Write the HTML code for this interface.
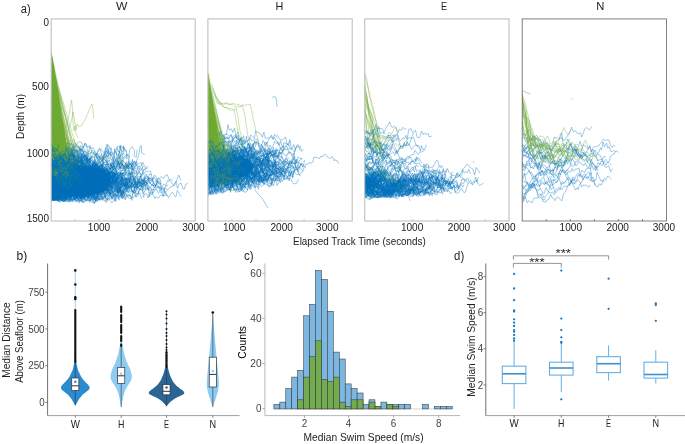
<!DOCTYPE html><html><head><meta charset="utf-8"><title>Figure</title><style>html,body{margin:0;padding:0;background:#fff}svg{display:block}</style></head><body><svg width="685" height="444" viewBox="0 0 685 444" font-family='"Liberation Sans", sans-serif'>
<rect width="685" height="444" fill="#fff"/>
<clipPath id="cpW"><rect x="51.2" y="18.9" width="144.0" height="202.1"/></clipPath>
<g clip-path="url(#cpW)" fill="none" stroke-linejoin="round" stroke-linecap="round">
<path d="M51.2 165L80 166L103 169L111 178L107 190L90 196L51.2 197z" fill="#0072BD" stroke="none"/>
<path stroke="#0072BD" stroke-width=".38" d="M51.2 183.9l2 2.8 1.1 1.3M51.2 186.3l1.7 .6 2.2 4.1 2.3 3.6 2.1 1.7M51.2 200.7l1.2-6.4 2.2-2.9 2.3 0 1 1 1.4-1.5 1.5 1.2 2-2 2.3-.8 1.4-4.5 2.4 6.1 1.6-4.3 1.1 1.3 2.3-2.5 1.8 3.8 2.3 .8 1.9-3.5 1.7 3 2 4.1 1.9 1.4 2.3-1.1 1.5 1.6 2.3 1.6 1.5-.7 1.2-5.8 2.3 1.9 2.2-2.4 1.2 .3 1.5 1.5 1.4 .8 2-4.7 1.8 1.8 1.1-1.5 1.2 3.4 2.2-8.7 1.3 1 2.3-1.7 1.1-5.1 2.2 6.9 1-.1 2.2 1.4 1.3-8.1 1.8 7.3 2-6.6 1.6 .9 2.1 2.4 1.9 5.8 1.4-4.5 1.1-5 1.8 4.9 1.9-.1 1.6 0M51.2 169.5l2 2.4 1.7 .9 1.3-1.5 1.4 3.3 1.6-3.7 2.1-.6 1.3 .7M51.2 166.8l1.3 2.4 1.9 4.5 1.6-1.7 1.2 8.4 1.5-5 2-1 1.5 6.7 2 8.5 1.6-1.6 1.2 1.7M51.2 151l1.5 .6 1.6-.6 1.5-1.3 1.6-.8 1.5 1.4 1.1-1.8 2.3-1.2 2.2 1.2 2.3 1.9 2 1.8 1.1 2.8 1.8-.6 1.4-7 2.3 5.3 1.6-3.1 1.3 8.1 2.1-1.4 1.5-2.9 2.1 2.8 2-.5 1.1-.9 2.3 8.4 1.4-5.8 1.7-1.8 1.3-3.1 2 3.5 1.9 2.3 1.4-4.6M51.2 171.3l1.5-2.5 1.7 5.2 1.9-.8 1.6-4.4 2.3-3.1 1.2 6.4 1.8 7.8 2.2-5 2.1 2.2M51.2 167.8l1.3 1.3 1.9 2.1 1.5 .5 1.4 2.3 1.8 1.7 1.5-3.1M51.2 188.9l1.4 3.8 1.6-8.2 1.5-4M51.2 192l2.2 2.4 1.1-2.1 2.2 4.2 1.7-.1 1.8 .5 1.6 .3 1.2-.4 1.1-3.9 2.3-7.6 1.2 1.4 1.6 .2 1.3-4.8 1.7-1.9 1.3 .5 1.1-4.8M51.2 147.4l1.6 0 1.9-.4 1.1 1.1 1.3-4 1.6-2.4 1.2 7.8M51.2 183.8l1.1-3.5 1.7 1.8 1.6-1.9 2.2 2.4 2.1-1.8 1.7 5.5 1.2-2.9 1.1-5.6 1.3 4.5 2.1 0 2.3-.4 1.7 .4 1.3 4.4 1.9 .7 2.1 2.1 1.9-4.2 1.7 .9 1.2 8.2 1.6-3.2 2.3-3.7 2.1-.6 2 5.1 1.4-9 1.8 1.2M51.2 164.2l1.2-.6 1 3.3 1.2-2.8 1.8 1.5 1.9-2.5 2.3 .7 1.1 1.3 2.1-6.4 1.1 4.1 1.5-4.8 2.3-.5 2.2 0 1.6 4.1 2.1 1.2 2.3 1.7 1.8 3.2 2.1-1.4 1.5 2.7 2 2.3 2.2-.2 2-1.4 1.2 3.4 1.5 .4 2.1-4.3 1.8 1.9 1.7 2.2 2.4 .9 1 1.6 2.1-3.1 1.4-1.4 1.4 1.8 1.9 2 1.7-4 2.2 3.6 1.8 3.9M51.2 196.8l1.2 1.8 1.2-1.9 1.9-3.7 2.1 4.2 1.5-1.6 2.2 .6 2.3-3.9 1.3-1 2.1 .7 2.2-4.1 1.1 3.4 1.3-4.4 1.1 2.2 2 .1 2.3-1.9 1.9 8.2 1.6-1.6 2-2.7 2.2 5 1.2-1.7 2.1-1.2 1.7-4.6 1.2 2.1 2.2 1.9 1.4 3.5 1.7 4.6 1.1 .4 2.1-2.9 1.6-3.7 1.1 4.9M51.2 196l1.6-.8 2.1-1.1 1.5-2.6 1.9 5.9 1.6-5.6 1.2-1.7 1.3 2.5 2-.2 1.2-3.5 1.8 3.3 1.2 .1 1.2-.7 1.5 1.8 2.1 2.4 1.8 1.9 1.6 1.2 2.1 .7 1.9-3.1 1.8 2.3 2.3 0 2-3.5 2-2.8 2-4 1.9 .6 1.8 3.2 2.1 1.4 1.4-5.1M51.2 188.4l1.9-1.3 1.7-.9 1.8 .9 2.3-2.5 1.8-2.1 1.7 .7 1.7-3.6 1.3 4.5 2.1 5.5 1.5-1.6 1.5 1.9 1.6-2.5 1.4 .9 2.3-1.1 2.1 .9 1.2 2.8 1.9-5.5 1.3 4.7 1.9-1 1.7-5 1.2 2 2.1-2.3 1.4-.7 1 1.7 1.4-1M51.2 190.7l2.1-4.8 1.3-.3 1 .9 1.9 6.8 1.2 2.5 1.5 1.4 1.3-2.3 1.9-1.1 2.2 0 1.7 3.1 1.8 .3 1.2-1.6 1.6-3.2 1.7 1.9 1.1-5.8 1.7-2.1 1.6-3.3M51.2 188.8l1.9-1.1 2.4-5.2 2.2 6.5 1.9-6.3 1.5 1.3 2.1 4.9M51.2 197.6l1.4-3.9 1.9-5.4 1.5-3.7 1.8 3.9 2-4.6 1.1-.8 1.3 2.8 1.9-.4 1.9-2.2 1.9 2.9 1.3-1.2 2.1-1.5 1.1 3.1 1.9-6.2 2.1 7.9M51.2 169.5l2.3 7 1.1 1.2 1.8 .9 1-4.3 2.3 6.7 1.6 .6 1.3-1.4 1 0 2.4 4.7 1.1 .7 1.4-3.5 1.1 .4 2.2-2.6 1.8-2.1 2.3-1.5 2 2 1.9 .9 1.5-.5 2.2-1.2 1.5-1.8 1.9 4.6 1.5-3.9 1.6-1.5 2.3 4.9 1.5 4.9M51.2 149.1l1.4 2.2 1.6 4.2 2.2-6.2 1 1.3 1.9 4.9 1-6.1 2.2 2.9 2.2 3.9 2.3-1.4 1.7 5.1 2.1-1.6M51.2 179.1l2 1 1.2 .2 1.3-8.1 2.2-.2 1.9 2.2 1.2-1.3 1.8-2.5 1.2 11.2 1.6-4.1 2.1 1 1.4 0 1.1 6.9M51.2 167.9l2.1 2.9 1.1 2.8 1.1 3.3M51.2 198.7l1.8-2.2 2.4 .9 1.8 3.1 1.7-.8M51.2 174.6l1.1-5.4 1.9 .4 1.2 5 1.9-5M51.2 172.9l1.7 1.6 1.2 0 2 1 2.3 1.5 2.2 2.7 1.6 4.9 2.2-4.6 1.4 3.5 1.9-1.1 1.1-1.9 1.2 .7 1.6-1.7M51.2 166.8l2.4-.2 1.9 5 1.4 2.8 1.5 0 2.3 2.1 2.2 4.8 1.4 3.5 2.2 .5 1 1.8 1.3-3.2 1.3 3 1.2-4.7 1.3-4.4 1.9 3.9 1.3-1.6 2.1-4.7 1.1-.1 2-2.9 1.5 5.1 1.7-4.1 1.6 7.9 1.3 .4 1.3 1.1 1 4.4 1.7-4.1 2.1 3.3 2-3.9 1.1 3.4 1.7-6.3 1.8 3.4 1.3 3.1 1.4 1.4 1.1-1 1-1.1 1.8-1.6 2.2-.3 1.2-.5 1.4-1 1.2 1.3 1.2-6.5 1.2-1.8 1.6-3.9 1.7 5.7 2.1-1.5 1.5-4 2.1-2.3 2.2-5.3 2.3 4.8 1.6 .1 1.7-.2 1.7 4.5 2.4 .9 1.8-4.3 2.3 2.9 1.4 8.2 1.7-1.2 1.4 2.2 2.3 1.4M51.2 186.7l1.4-6.3 1.2 4M51.2 172.6l1.8-4.2 1.3-2.3 1.8-2.5 1.5-.6 1.7 3.1 1-.5 1.3 .3 1.5-6.6 2 1.1 2.2 1.8 1.6 .1 1.1 .3 2.1 5.1 1.5-3.3 2.1-4.5 2.1 1.5 1.6-.5 2.3 1.6 1 9.9 1.7-5 1.6 5.1 1.9-2.1 1.6 7.4 1.6-3.7 1.4 .5M51.2 166.9l1.8 .2 2.3-.9 2.1 5.9 1.6-.2 1.1-2.3 2.3 3.2 2.4-4.7 1.9 .5 1.8-1.5 2 4.7 1.5-.2 1.8 8.9 1.7-8.7 2.4 1.6 2.1 3.8 2.4 1.7 1.1 1.4 2.2 1.1 1.6-4.8 1.7-2.5 1.2-.5 1.5 5 1.1-7.8 1.5 4.4 1.4 2.3M51.2 179.3l2.4-2.6 1.2 0 1.1 5 1.8-1.9 2.1-2.9 2 4.1 1.5 3.2 1.2-1.5 1.5-2.4M51.2 160.7l1.9-2.6 2.2 1.8 2.3-.6 1.8 1.4 2.3-3 2 1.3 2.3-3 1.3 7 1.3 2.8 1.8 1.5 1.5-1.4 1.2 3.1 1.3-.2 1.4 3.7 1.5-.5 1.1-.9 1.2-.8 2.1 8.1 2-3.7 1.3 10.2 1.4-2.9 1.9 1.4 1.9 1.4 1.8 4 1.2-1.7 1.4 4.5 1.9-3.1 1.5 2.1 2.2-3.8 1.2 0M51.2 164.3l1.4 2.5 2.1-.6 1.2-5.2 1.9 4.7 1.6-2.4M51.2 152.6l1.2 4.4 2-3.4 1.2 0 1.5 2.5 1.9 1.2 1.8 .3 1.6 .6 1.1 3.1 1.4 1.3 1.8-3 1.2-.8 2.3-.6 1.9-3.5 2.2 4.2 2.3-3.6 1.9 6.9 1.9-.8 2-1.9 2.3 6.4 1-2.4 1.4-5.5 1.9 3.7 1.1-.3 1.3 1.8 2 .7 1.3-1.6M51.2 171.1l2.1-.7 1.3-2.3 1.6-3.3 1.2-2.4 1.3 6.7 1.3-.7 1.2-3 1.5 5.1 1-1.3 1.1 1.1 1.8-5.8 1.6 10.3 1.1 2.6 1.8-2.4 1.4 3 1.1 4.4 1.4-4.9 2.2 9.2 2-2.9 1.5-1.6 1.5 9.2 1.5-2.2 1.1-3.9 2.1-1.3 2.3-5.5 1.2 3.1 1.2 1.2 1.6-5.9 1.1 .9 2 0 2.2 1 1.4-1.5 1.6 .1 1.9 4.3 1.2-6.4 1.8 7.5 1.1-1.5 2.4 .4 2.3-3.8 2.2 4 1.8 4.8 2.3 2.9 1.4-3.6 1.1 2.1 1.6-1.4 1.6-.8 1.7-3.6 1.2-.9 1.7 5.9 1.4 0 1.4 .4 1.3-1.7 1.7-1.4M51.2 179.6l2-2.9 2.4-1.2 2.1-1.9 2.3-2.8 1.2 3.5 1.4-.9 1.8 .7 2-4.2 1.9 8.6 2.2-1 2.1-3.6 1.9 4.3 1.5-.6 2 1.7 1.2-8.3 1.2 6.8 1.3-3.5 2.2-1.4 1 4.8 1.3-3.9 2 1.7 2.2-1.7 2.1 4.4 1.5 1.6 2.2-.4 1.3 1.9 1.5-4 2.2-3 1.8 7.1 1.3 1.7 1.1-1.6 1.7-2.5 1.5 5.5 1.5-.4 2.3-1.2 1.9-1.3 1.7 1.1 1.8 9.6 1.1-11.3 2.2 4 1.8-3.6 2.1 5 2-7.5 2-1.6 1.5 1.4 1.1 1.2 2.4-.5 1.3 3.2 1.2 6.1 1.7-7.2 1.4 4.4 1.4-1 1.8 5.5 2.3-2.3 1.2-5.5 1.5 5.3 2.2 .2 2.3-3.7 1 1.6 2 .3 1.3-3 1.9 4.9 2.3-.9 2.2 2.8 1.2-.9 2.2-4 1.3 .3M51.2 187.9l1.9-.7 1.8 1.4 1-.3 2.4-3.4 2 4.4 1.2 .5 1.2 3.9 1.7-4.6 2 .2 2-.9M51.2 173.3l1.6-4.1 2.3 .6 1.7-2.5 1.5 3.1 2.1-1.9M51.2 179.5l1.2 .6 2.3 5.8 2.1-2.2 1.7 7.1 2.1-9.1 2.2 1.2 1.1 2.6 2.2-4.8 1.6 4.2 1.9-1.5 1.4 6.4 1.3-1 1.4-4.3 1.8 4.1 2.2 5.5 2.1 .4 1.7-2.1 1.9-3 1.9-1.7 2.2 .2 2.2 3.1 2.3 1 1.2-4.3 2.3-.7 1.1 4.1 1.2 1 2 .7 1-7.9 2 10 1.3-2.2 1.1 .1 2.2 .1 1.2 3.2M51.2 188.3l1.5-4.4 1.5 6.9 2.2 .8 1.3 .7 1.1-1.9 1.7 2.5 2-1.5M51.2 195.3l1.6 1.5 1.6 .7 1 0 1.5-1.2 1.2 2.1 2.3-4.8 1.9 4.5 1-.2 1.8-4.3 1.9 2.7 2-2.3 1.8 3.3 1.9-5 1.9 .1 1.6 4.8 1.7-9.3 2.3 3.9M51.2 153.7l1.6-3.2 2.3 3.5 1.5 1.8 1.2-2.4 1.2-3.7 1.7 3.6 1.6 6.4 1.6-7.2 2 7.8 1.6-1.9 1.5 1.9 1 4.1 1.1 3.1M51.2 168.7l1.3-3.9 1.9 3.7 1.6-2.8 1.4 .8 2.1-2.8 1.8-1.3 2.4-2.6 1.9-1.3 2 3.5 1.7 1 1.1-3 1.6 1.3 1.7 .5 1.7 2.3 1.9 .9 1.1-2.3 2.1-.6 1.3 1.8 1.1 5.5 1.8 3 2 2.4 2 .6 2.4 1.6 1.2-5.4 1 7.2 1.4-1.9M51.2 179.7l1.4 3.9 2.2-4.3M51.2 175.6l2.1-2.6 1.8 6.9 1.7-3.5 1.5 .7 1.4 2.3 1.8-9.4 1.7 3.5 1.6-3.3 2.2-.6 1.2 3.1 2.1-1 2 1.4 2.1 1.4 1.3 4.3 2.1-2.4 1.9 .4 2 7.3 2-3.8 1.4 2.9 1.4 3.6 2.3-3.6 1.2 4.1 1.6-10.7 1.9 8.3 1.1 3.4 1.6-3.5 2.2-3 2.3 6 1.4-3.4 1.7 4.4 1.7-3.6 1.8-1.2 1.4 4.2M51.2 142.3l1.5 7.6 1.1-5.6 1.3 2.1 2.1 .1 1.8 3.9 2.1-3.3 1.1 1.9 1.9 4.1 1.5-3.1M51.2 197.4l1.1-.3 1.7-1.2 1.7-.2 1.7 3.1 1.6-2 1.3-.2 2.3-2.8 1.6 5.3 1.4-3.9 1.3 1 1.8 2.3 1.1 .7 2.1-.1 1.8-.9 1.9-.4 1.5-4.9 2.2 1.6 1.6 5 1.4 .9 1.2-4.3 1.3 4.3 2.3-.9 1.7-3.5 2.1-2.6 1.9 3.5 1.1-1.9 1.2 1.1 2.1 2.6 2.2 1.4 1.8-4.6 2.1 3.9 2.4-4.2 1.1-2.7 1.4 .2 1.3-.6 1.7 1.3 2-1.9 2.1 3.8 2.1-10 1.9 4.6 1.8-3 1.1-1.2 1.1 4 1.9-2 1.3 2.3 1.9 1.6 1.3-3.9 2-4.5 1.9 1 1.3 4 1.5 5.7 1.8-.4 1.7-5.5 2.4 2.5 1.3 6.8 1.2-3.6 2.1 .5 1.2 3.8 1.7-5.7 2.2 2.7 1.9-6.9 1.5-.7 1.6-8.1 2.2-.7 2.4-2.1 1.9 2 2-3.2 2.1-.4 1.2 4.8 1.2 1.2 1.1 .7 1.9 3.5 1.4 .9 2.4-6.2 1.9-4.7 2 5.2M51.2 193.7l1.2-6.8 1.3 4.2 1.4 .9 1.5 3.8 1.3-9.3 1.3 2.8 1.2 2.9 1.5 4.2 1.3 1.3 2.2-5.3 1.4 3.6 1.7-5.6 2 2.6 2.3-1.1 1.9 1.7 1 3.4 1.5-.1 1.4 .4 2-4 2.2 1.6 1.9 1.6 1.9-3.7 2.3-1.9 1.6-.9 1.2-.7 1.8-6.9 1.2-.9 1.6-5.8 1.9 1.9 1.8 .9 2.1 3.1 1.9 0M51.2 157.9l2 2.9 1.4-2.2 2.1 6.2 1.3 1.4 2.4 2.4 2-2.7 1.4 7.1 1.2 1 1.7 2.6 1-3.2 1.4 .2 1.4-1.5 2.1-.3 2.1 5.2 2.1-5.2 1.6 1.7 2 2.7 1.7-2.4 2.2-.2 2.4 2.3 1.1 6 1.6-7.1 1.7-4.9 1.5 3.9 2-.4 1.3-3.3 1.4-2.2 2.4-1.7 2.2-5.6M51.2 163.1l1.9-3.8 1.2-4.4 1.5 5 1.5 1.7 1.6-3.8 1.2-.5 2.4 2.5 1.7-4.2 1.1-4 1.3 2.2 2.3-1.1 2.3-3.9 1.6 5.7 1.2-1.3 1.8-2.1 2.2 1.4 1 1.5 1.1-4.3 2.3-.5 1.3 5.4 1.5 6 1.2 1.6 1.8 0 1.6 7.3 1.1-4.6 2 3.4 1.9-.4 1.2 3 1.1-3.3 1.3-1.4 2.2 3.5 1 8.9 2.1-3 1.4 2.1 1.9 2.1 2.3-3.7 1 .6M51.2 166.1l2.1 1 1-1.8 2.2 2.9 1.8 2.3 1.1-.7 1.5-.3 1.1 2.2 1.6-2.5 1.3 8.7 2.4-1.1 1.1-1.6 2.2-4.7 1.4 6.7 1.9-2.5 1 2.7 2 2.7 1.6-2.5 1.9 2.3 2.1-3.3 2 1.5 2.2 5.7 1.2 1 2-2.6 1.5 3.3 1.6-1.4 2.3-.2 2.4-3.7 1.4 3 1.3 2.1 1.5-2.5 2.2 .2 1.2 2 1.8 1.6 2.4 3.5 1.9 .3 1.5-6.5 2.4-.9M51.2 147l2.4 3.4 1.9-.3 2.1 1.8 1 .5 1.4 4.4 1.8-5.3 2 .8 1.1 2.8 1.2 .4 2.3-1.7 2.1 1.6 1.4-2.9 1.7 4.7 2.3-1.7 1 5.6 2.2 1.3 1.4-.4 2.3 .2 1.8-1.6 1.2 7.1 1.5-5.7 1.3 2.5 2.2 4.4 1.5-2.4 2.1 1 1.8 3 2.1-.5 2 2.6 1.3-.3 1.9-1.6 1.1 3.7 1.4 4.1 1.1-7 1.2 6 1.2-1.1 1.2 3.3 1.7 1.9 1.1-2.2 1.8 5.2 2.2-.8 1.7-3.8 2.2 1.1 1.4 3 2-.2 1.5-1.1 1.5 5.6 1.6-2.4 1.9 .8 1.7 1 1.3-4.4 2 5.3 2.3-2.3 1.5-.2 1.3-7.3 1.1 2.3 1.7-.3 2-6.3 1.6 3.7 2.3-.4 1.7 3.1 2.4-3.9 2.1 3.9 1.7 1.7 1.4 1.8M51.2 179l1.4-2.6 2 .6 1.1 .8 1.2-.9 2.3-.9 1.2 1.4 1.6-2.8 2.2-.2 2.3 3.1 2.3 1.5 1.4 .3 2.2 5.7 2.1-6.1 1.8-5.1 1.9 5.1 2.2-4.7 1.1 1.9 1.3-.4 1.4 .6 1.9 3.6 1.9 .8 2.1-1.9 1.9 .3 1.3-3.5 1.3 4.2 1.3 2.6 2.3-2.1 1.5-.8 1.2-9.3 1.3 4.7 1.6-1.1 1.8 .2 1.5-.2 1.3-.7M51.2 178.9l2.2-6.7 1.9 2.7 2.1-3 2.1-2.8 2.2 1.7 1.1-3.1 1.4 3.5 1.2-.4 1.4-.2 2.3 3.4 2.3 1.5 1.5-2.8 1.6 .7 1.1 3.7 1.1-3.3 1.4 3.2 1.5-4.5 2.3-.1 1.2-.6 2 .4 2.1 3.5 1.3-2.2 2.1 .8 1.9-1.2 1.3 .3 1.9 1.2 1.6-3.2 1 4 1.4-2.5 1.9 2.6 1.4-3.4 1.3 .6 2.1-.7 2.1-.9 2 4.1 1.2 .5 1.2 2.8 1.6-4.2 1.7-2.1M51.2 191.6l1.4 .3 1.4-4.4 2.1 0 2.3-.7 1.1-3.2 1.4 1.1 2.3 2.8 1.8 2.4 2.1 0 1.1-2.8 2.4 3.4 2 .8M51.2 182l1.3-1 1.4-.2 2.4-.1 2 3.2 1.7-1.9 1.4-8.1 2 4.9 2.3 3 1.5-2 1.7 3.2M51.2 164.6l2.1 5.3 1.1-3.6 2.2 .2 2.2 4.3 1.5 .2 1.5 3.6 2.3 .2 2.2 0 2.3-4.2 2-4.4 1.4 3.2 2.1 2.4 1.5 5.1M51.2 167.5l2-3.4 1.1 3.8 1.7-5.2 2 4.7M51.2 164.5l1.1-1.8 1.3 5.3 2.1-.8 1.9 0 2.2 .5 2.2 .6 1.9 1.9 1.6-1.4 2 4 1.5-.7 1.2-2 1.8 1.8 1.6 1.2 2.1 .6 1.4-3.2 1.3-1.9 1.6 1.9M51.2 170.1l1.3 .7 1.9 7.4 2.4-5.7 1.3 7.6 2-1.3 2.3-2.2 1.7 3.9 2.3-11.6 1.8 7.1 2.1-4.6 1.4 3.7 1.7 1.1 1 .1 2.1 4.3 1.7 3.3 2.2 1.7 2 1.5 2-.9 2.3 7.8 1.6-3.4 2.1-.6 1.7-5.3 1.4 2.7 1.3-1.7 1.9-2.8 1.3 1.8 1.5-2.8 1.6-4.6 1.7 9.8 1.3-3.8 1.3 4.3 2.3-5 1.6 .2 1.5 6.7M51.2 191.7l1.6-3.5 1.7 3.2 2.4-6.3 2.1 4.7 2-5 1.7 7 1.2-5.4 1.1-2.8 1.7 5.3 1.5 .2 1.8-8.1 1.6-1 1.4-5.7 1.5 2.6 1.4-3.2 1.2 5.2 1.3-4.5 1.2 4.1 1.4 .8 2.3-3.8 2.2 4.9M51.2 191.5l1.1 .5 1.9-4 1.1-1.4 2-1.7 1.2 1.7 1.9 1.8 2.4-4.2M51.2 196.4l1.5-.9 1.1 .9 1.8-1.5 1.8-3.3 2.3-1.8 1.8-6.3 1.5 6 2.1-1 1.1-2.2 1.9 1.2 1.6-.2 2.3 2 1.5 .6 2.1 6.8 2.4-9.4 2 2.4 1.2 5.3 1.4-5.1 2.3 2.4 2.1-.5 1.8-2.8 1.1 1.8 1.4-5.5 1.6 5 2.1-4.9 1.7 .9 1.9-.9M51.2 163l2.1 3.9 2.2-5.7 1.7 9.4 1.2-1.4 2.4-2.6 1.2 2.7 1.3 1.3 1.7 3.5 2.2-.6 1.7-2.7 1.5 1.3 1.2-1.7 1.2-3.6 1.3 4.5 2.1-3.1 1.3 5 2.3-1.8 1.8 .2 1.1 1 2-5.4 1.6 1.4 2.3-3.6 1.8-3.4 1.2-1 1.4 1.7 2 2.6 2.3-1.9 2.3 9.1 2.3-1.6 1.5 6.7M51.2 182.8l2.3-.2 2.2-1.2 1.8-.9M51.2 151.4l1.3-4 2.2 0 2.2 4.9 2-3 1.6 1.6M51.2 174.7l1.3 1.7 1.2 5.6 2.2-3.8 2.3 .6 1.1 1 1.2-7.7 1.2 4.6 2.3 4.1 1.9-.3 2 .4 2.2 .3M51.2 184l1.7-3.9 1.6 1.5 1.1-1.7 2 1.9 1.4 4.1 1.5-2.8M51.2 194.3l1.3-1.4 1.4 2.9M51.2 182.2l1.2-2.7 2.3 .7M51.2 161.9l1.1 6.9 1.2-3.2 1.7-3.9 1.6 8.1 2.2-3.7 1.6 2.1 1.9 1.9 1.4 .5 1.6-.8 1.2-.8 2.4 5 1.7-.7 1.9 .7 1.4-1.8 1.7-1.3 1.2 5.3 1.8-5.6 2 3.8 1.5-.6 2 3.7 1.5 2.1 2.3-5.3 1.2 1.8 1.9-5.4 2 10 1.9-1.3 1.5-.6 1.4-3 2.2 6.7 1.9-1.6 1.3 3.1 1.5-.2 1.8 1 1.7-1.1 1.9-3.7 1.4 2.4 2.1-6.9 2.3 2.8 1.4-1.4 2.2 .3 1.3-4.6 1.4-2.1 2 .3 2.1-2.3 1.9-5.9 1.1 .7 2.3 2.3 2.4-2.2 1.4-1.1 2.1 6.3 1.3-2.1 2.3-.8 1.6-3.3 2.3 5.3 1.4 1.1 1.5-1M51.2 190l2.2-1.1 1.9 2.7 1.5 .1 1.6 .7 1.9-2.2 1-1.5 1.5 1.1 2.2-.4M51.2 164.7l1.2-5.8 1.6 3.9 1.2 .8 2.1-3.9 1.6 4 2.1 0 1.7 4.7 1.5-3 2.1 4.7 1.5-4.6 1.4 2.6 2.4-.7 1.3 5.6 1.1-.1 1.7 2 1.8 1.5 1.7-3.5 2.2-.4 1.5 5 1.8-2.6M51.2 162.9l1.5-1.4 1.4-1.8 1.6 6.5 1.9 1.6 1.5 2.2 1.7 2.7 2 .9 2.3-2.9 1.7-1.2 1.3-1.2 1.4 .1 1.8 1.1 1.5-2.2 1.6 .5 1.5-.4 1.8 1M51.2 191.5l2.3 2.9 1.2-5.2 2.3 2.6 1.4 1.1 2.1 .4 2.3 1.6 1.9 0 1.3-5.8 1.1-1.5 1.1 1.2 1.2-2.5 2.3 2.1 2.4-3.5 1.4 3.6 2-2.5 2.3 3.9 2.1-3.1 1.7 4.6 1.3-5.2 2 3.2 2-.2 1.3 2.7 1.7-1 2.1 .9 1.5-5.2 2 7.4 1.7-5M51.2 192.8l1.5 .5 1.4-2 1.5-.4 1.6 5.1 1.4-3.6 1.8-4 2.1-1.7 2.1 .4 1.6-1.9 1.3 2.2 1.7-2.1 2.2-2.1 1.3 .1 1.7-1.1M51.2 146.6l1.8 3.8 2.1-.6M51.2 184l1.1 .3 1.2-2.2 1.2 5.5 1.1-5 1.3 1.6 1.4-3.2 1.5 3 1.2-1.7 1.5 2.7 2.1-.5 1-1 2.3-2.5 1.1 4.8 1.7-7 2.1 2.9 1.6 4 1.9-4.9 1.8 2.2 2.2 2.9 2.2-.6 1.9-3 1.6 3.6 2-1.7 1.9-2.4 1.1-1.7 1.8 .8 1.9-.1 1.5-1.4 1.2 4.9 2.2 4.1 1.6-2.6M51.2 164.6l1.6 .9 1.5 8.3 1.5-10.6 1.2 1.7 2.2 4 2.1 3 1.7-.5 2.2-.4M51.2 179.6l1.8-2.4 2.3 1.3 2 1.1 1.2-2.5 1.2 1 1.1 1.5 1.3 1.6 1.3-.8 1.1 1.6 2.3-2.1M51.2 159.4l1.7 1.2 1.4 5.1 1.4-3.6 2.1 .1 1.2 .3 2-1.6 2.2 .8 2.2 4.3 1.4-5.1 1.3-.7 2.1 6.1M51.2 169.1l1.6 .7 2 2 1.9-2 1.3 2.9 1.5-5.1 2.1 2.5 1.8-.1 2.3 5.9M51.2 197.7l2.2-10.5 2 4.5 1.6 .8 2.1-4.9 1.3 2.8 1.4-.3M51.2 191.6l1.4 3.6 1.1-.1 1 5.1 1-.1 1.4-1.1 2-4.2 1.3 0 1.6 6.6 2.1-.8 2-5.8 1.2 1.9 1.6 2.5 1.8 0 1.8 2.2 1.8-8.4 1.5 5.2 2 2.3 1.9 .4 1.7-9.2 1.4 6.4 2.1-2.2 2.3 2.5 1.7-2.9 2.3 1.4 1.9 6 1.7-.3 2.3-4.9 2.1 2.6 1.4-1.7 1.9-.5 1.8 3.1 1.5-1.3M51.2 187.3l1.8 3.9 1.4 4.3 1.7-.6 1.6 1.9 2.1 1.1 1.9-3.3 2-2.9 1.9 8 1.4-3.6 1.4-.9M51.2 192.1l1.8 4.6 1.6-5.2M51.2 176.8l1-4.1 1.1 9.2 1.9-5.8 1.6-1.2 1.7 6 1.8-5.6 2.4 1.6 1.5 5.3 1.3 .3 2.2-7 1.7 1.6 2.2-.3 2.3 2 1.2-.5 2 1.8 2.1-2 2.1 .2 2.3-1.3 1.1 .4 1.1-.2 1.9 .3 1.5 .2 1.4 3.8 2.2 2.1 1.3 2.2 2.2-.5 2-.8 2.1-.3 1.1-1.2 1.7 5.8 1.1-5.7 1.3 4.2 1.1-1.6 1.4-2.6 1.6-4.4 1.4 3.7 2 3.8M51.2 174.9l2 1.9 1.4 3.2 1.7-6.6 2.3 2.5 2.2 4.3 1.2-2.7 1.2-1.9 1.7 5.1 2.2 4.8 1.9 2 1.9-2.3 1.4-1.6 2.3 7.6 1.6-4.7 2.3-5.6 1.6 1.5 2.2-1M51.2 190.6l2 4.3 1.3 2 1.8-1.2 1.9-3.6 1.1 5.4 1.7-2.4 1.5 .3 2.3 .4 1.6-4.1 1.6 2.7 1.8-3.3 1.3-3.6 2.2 .6 1.6-.4 1.1-6.8 2 2.6 2.1 1.1 1.8-3.7 1-3 2.1 1 1.6-2.1 1.3 2.9 1.9-3.6 1.9 5.8 1.8-6.4 1.9 9.1 1.2-7.7 2.1 1.7 2.2-.4 1.5-3 1.4 8.8 2-5.5 2.4-.9 1 4.4 1.8-6.6 1.4 1.4 1.8 1.2 1.1-7 1.6 1.7 2 3.1 1.6-2.4 1.3 .7 2 2.3 1.5 2.9 2 .3 2-1.8 1.2 5.1 1.8 0 2.2 5 2-.9 2.3-5.3 1.5 .6 1.6 1.4M51.2 162.2l1.3-.1 1.2-.3 1.8-1.4 1.7 3.9 1.5 2.5 1.8-7.1 1.2 4.5 1.2 1.3 1-6.5 1.8 .6 1.7-3.1 1.8-6.4 1.3 7.3 1.4 2 1.8 2.1 1.1-2.9 1.2 4.8 1.7 3.4 1.5 1.3 2.3-.3 1.8 0 2.2-.5 1.8 3.1M51.2 192.4l1.1-2.7 2.1-3.2 1.4-.1 1.7-2.2 1.9 3.5 2.4-1 1.9-4 1.1-3.6 1.8 3 1.1 .2 1 2.2 2.1 10 2.2-3 1.2-3.8 1 4 2.4-4.3 2.2 4.4 1.9-4 1.3 0 1.2-2.9 1.3-2.1 1.9 4.3 1.7-7 1.4-2.5 1.4-.6 1.1 1.8 2.2-1.9 2-2 1.3 7.6M51.2 175.8l2.3-2.3 1.2-2.3 1.9-.4 1.8 .6 1.9-7.3M51.2 166.3l1.5-.8 1.5-.9 1.1-1.9 1.6-2.2 1.4 .6M51.2 178.2l2.2 1.7 1.4-2.8 1.7-1.8 2.1 4.1 1.1-11 2 2.2 1.1 .1 2.2-2.1 2.2 3.4 1.1-6.4 1.4 5.1 1.2-4.2 1.8-.7 2.1 4.6 1.5 7 1.4-5.6 1.6-1.1 1.5 3.4 1.8-.2 1.9 2.4 1.3-4 2.1 2.6 1.6 .9M51.2 170.7l1.7-4.5 2.2 4.1 1.4-2.6 1.9-3 1.2 1.4 2-2.2 1.3 1.8 1.9 1.7 2-1.7 1.4 .6 1.8 4.9 1.4-2.5 2.1 .9 2.2-5.3 1.1 3.1 1.7 3.5 1.6-3.3 2.1 11.1M51.2 196.6l1.5-.2 1.2-.3 2.3-2.3 1.4 1.7 2.4 3.5 1.5-2.1 2.3-.1 1.8-.7M51.2 150.8l1.8-2.7 1.6-5.4 1.1 8.4 1.8 1.3 1.4-1.4 1.2 .2 1.6-.3 1.4 8.6 1.6-.4 1.8 2.4 2.1-2.3 2.3 3 2-3.2 1.8 3M51.2 150.5l1.2 2.4 2.1 2M51.2 189.4l1.6 3.2 1.5-5.1 2.2 .6 1.6 1.7 1.8-6.3 2.2 4.2 1.1-3.6 1.1 9 1.8-8 1.8 1.7 1.1 5.2 1.9 1.6 2.3-4.9 1.3 4.6 1.8-1.1 1.7 .1 1.6 .2 2.3 2.4 1.4-4 2.1 .4 2 4.9 2.1-5.4 1-6.2 1.7-2.4 1.5 .9 1.5-4 1.1 5.5 1.8 1.8M51.2 198l1.6-4.1 1.5 4.8 2.2-2.2 1.4 .6 2.4 2 1.3-5 1.4 1.7 1.5-4.6 1.8-1.1 1.9 1.3 1.7-.2 1.6-1.3 2.2 4.2 2.2-6.8 1.4 0 1.1-.5 1.5-5.2 2.2-3.1 1.5 3.7 2.3-1.9 1.1 .1 2.4 4.7 1.5 1.8 2.3-3.1 2.3 .1 1.5-3.3 2.3 6.5 2.2 .7 2.3-2.8M51.2 187.4l2 .8 1.1 1.3 1.6 .5 2.3-4.7 1.7 5.9 2 1.5 1.8-.4 2.1 1.7 1.8 3.4 1.7 4.8 1.6-1.7 2-1.8 2.1 1.6 1.2-4.2 1.9 6.1 1.6 .5 1.3-6.1 1.1 5 2.4 .5 1.7-1.7 1.9-.2 1.3 .5 1.6-1.8 2.1-2.5 1.2-2.2 1.6-2.5 1.9 .5 1.6-2.4 2.4-5.9 1.3-2.2 1.4-5 1.5-8.7 2 7.2 1.4 .1 1.5 2 1.9-.2 1-1.2 1.6 2.9 1.9 2.2 1.5 6.1 1.9-3.1 2.1 .6 1.4 1.7 1.1-.6 2.1 5.7 1.6 1.1 1.6-3.4 2.3 2.1M51.2 191.6l1.4-.3 1.8 4.2 1.5 .1 2.1 1.4 2-.9 1.2 0 2.2-.6 1.3-2.4 1.5 4 2-6.3 2.4-2 2.3-.6 1.4-5.7 2.3 3.7 1.2 1.2 2-6.7 1.5 .8 1.9 6.2 2.2-1.8 1.6-1.8 1.1-.4 1.1-.3 1.9 .5 2.1-1.6 1.8-.1 1.2 4.5 2.3-2 1.7 1.5 1.8-6.8M51.2 181.1l2.1 5.1 1.3 2.8 1.1-1.2M51.2 170.1l1.4-2.9 1.5 2.1 2.1 1 1 .3 1.7 2.7 2.2 3.9 1.8 2.1 1.9-1.1 1.8 .9 1.1 3.3 2.2-.5 1.3-5.1 2.2 3.3 1.5-1.8 1.8-3.9 1.5 3.1 1.3-2 1.9-2.5 2.2 1.7 1.7 0 1.2 1.4 2.3-2 1.3-1.9 1 4.7 1.9 1.6 1.3-5.2 1.5 5.1 1.6-7.2M51.2 178.1l2.1 4.4 1.6 6.6 1.3 2.3 1.6-6.8 2.4-1.5 1.3 5.3 2.3-2.4 1.1 2.4 1.4-2.1 1.1 .9 1.5 .8M51.2 154.6l1.4 4.1 2-2.7 1.1 6.3 1.5-2.1 2.3 .4 2.3 2.5 2.2 1.8 2.3-2.5 1.1 3.2 1.9-1.8 1.5 2.2 1.4 3.9 2.3 4.8 2.1 3.4 2.1-1.5 1.2 2.1 2.1-8.1 1.7 4.7 1.7 1.8 2.2-5.5 1.2 .9 1.2 2 2-.9 2.2 7.7 1.1-1.9 1.3 .5 1.8-4.1 1.2 2.7 1.5 2.6 2.2-4.7 1.6-4.4 2 2.3 1.7 3.4 1.7-3.6 1.7-1.4 1.4-.3 1.8 3.1 1.6-.8 2.3-1.1 1.1 2.8 2.3-3.6 1.1 1.2 1.2 1.8 1.4 4.4 1.2-2.4 1.4-5.5 2.3 3M51.2 178.8l1.2 1.8 2.2-4.1 2.3 2 2.2 1.8 2.3 2.2 1-4.6 2.1-2.1 1.3 .8 1.1-1.5 1.8 4.9 1.8-1.1 2.2-2.6 1.8-2.2 1.3-1.2 1.6-.7 1.8 .8 2.1 3.4 1.4-3.7 1.7 1.7 1.7 1.4 2.2-2.7 1.4-2.8 1 7.7M51.2 188.6l2.1-1.9 1.2 1 1-2.3 2.3-4.1 1.6 1.9 1.7 3.8 1-4.6 1.9-1.8 2.3 2.9M51.2 181.5l2.2 4 1.1-.7 1.3-.1 2.2-3.6 1.1 .7 1.5 2.1 2 2.7 1.8-3.7 2.2 .5M51.2 165.2l1.9-2.3 2.1 6.4 1.7-1.5 1.2-3.2 2.3-5.2 1.7 2.9 2 1 1.6 2.7 1.2-3.1 1.1 3.2 1.4 4.3 1.2-4.2 2 9.7 1.9-6.3 1.7 6.1 1.2-1.4 1.8 .9 1.7 3.1 1.1 3.6 2.3 4.6 1.3-2.1 2.1-4.3 2-.4 1.8 1.4 1.3-3.8 1.2 4.2 1.6-9.1 1.2 1.1 1.7 .9 1.3 1.1 2.3 5.9 1.4-8.5 1.5 2.8 2.3-2.4 1.4-.3 2.2-.6 2.3-2.5 1.6-1.7 2.2 3.1 1.1-2 1.9-1.5 2.2-3.3 2.4 4 1.1-2.8M51.2 194.8l2.1 2 2-2.1 1.4 3.6 2.4-2 1.5 2.6 1.5-.2 1.6-2.5 1.4-1.6 1.2-5.5 2.2 1.5 2.2-3 1.1 4.4 1.4-4.9 1.6 1.9 1.7-2.3 1.3 3.6 1.5-3.5 2-2.8 1.4 3.8 1.7-4.7 1.6 1.8 1.7-6.2 1.9-.9 1.1 .8 1.3 .8 2.3-3.3 1.2 4.1 1.8 2.5 2 2.6 1.9-3.5 1.5-1.4 1.9-.4 2.2 5.3 1.7 .3 1.2 .6 2.3-4.5 2.3 3.7 1.2 2.1 1.9 2.6 1.6-.2 1.4 5.5 1.8 3.1 1.8-3.3 1.3 4.8 1.1-4.4 2.1-.9 1.5 .1 1.9-3.8 1.9 1.9 1.7-.9M51.2 185.2l1.8-5.6 1.3 6.6 1.5-7.1 1.3 5.7 1.3-4.6 1 2.2 1.9 2.9 1.7 3.3 1.7-5.3 2.1-2.1 1.6 4.8 1.3-2.7 2-2.7 2.3 .6 1.5 5.4 2.1-6 2.3 6.7 1.4-5.4 2.2-2.7 1.6-1.9 1.7-3.1 1.1-3 2.1 5 1.3-.6 2-3.5 1.8 7.8 1.7-4.2 2 6.4 2.3-1 1.5 .5 1.7 2.9 1.3-4.9 1.6-1.4 1.5-6.8 1.7 1.3 1.5 1.6 1.7 2.3 1.9 .4 2.3-.2 2.4 2.5 1.3 3.9 1.7 1.6 1.7 .8 2.2-.9 1.9 5.2 1.9 1.8 1.4-1.4 2.3-1.8 1.2-1 1.2-2.9 1.6 2.8 2-3.6 1.9-4 1.7 1.1 2.2 1.3M51.2 153.8l1.1 .6 2-.1M51.2 176.5l1.7 8.4 1.2 .4 1.8-6.9 1.5 1.2 1.8-1.9M51.2 146.2l2 .9 1.8 2.6 2-.3 1.8 .7 1.7-1.2 1.1 2.2 1.8-1.4 1.3 1.7 2.2-2.1 1.8 .4 1.9 5.5 1.7 4.8 2.2-2.1 2.2 2.1 2 .6 1.1-.3 2.1 4.2 2.2-.2 2.4-3.5 1.9 5.2 1.7 2.4 2.2-.4 1.9-4.4 2 2.2 2.3 1.1 1.1 3.4 1.1 2.5 2.2-8 1.5 10.6 1.8-5.8 1-4.2 2.1 1.6 2 5 1.4-2 2.2-3.6 2-2.5 1.4 4.6 1.2-4 1.1 6.5 1.2-.6 2-.2 1.8 0 1.5 4.1 2.3 2.1 1.5 3.6 1.9-7.3 2 12.1 1.2-8.6 2.1-4.5 1.6 .3 1.6 3.4 1.8-4.1 1.4-2.2 2.2 2.8 1.5-.8 2.4 .3 1.1 5.2 1 4.6 1.9 .9 1.5-.8 1.2 .7 1.1-4.3 1.9 1.8 1.1 9.2 1.3-.1 1.1-1.1 1.2 6.9 1.4-4.5M51.2 187l2.2 .9 1.8-6.1 1.8 2.9 1.3 4.3 2.2-2.9 1.7-2.9 1.7-1.9 2.2-1.2 1.9 5.3M51.2 188.1l2-10.9 1.8 2.2M51.2 155.9l1.6-2.7 2 8.2 2.1-3.2 1 .8 1.2-.2 2 1 1.9 2.7 2.2 1.4 1.4-1.7 1.2 4.7 1.8-1.3 1.6 .1 1.8 4.8 2-2.7 1.3-2 1.8 1.4 1.2 2.9 1.4-2.9 1.2-5.1 1.2 5.2 2.1-1.5 1.2 0 2 .1 1.3 2 1.3-3.3M51.2 186.9l1.9 4.4 2.2-1.1 1.7-.5 1.9-4.3 1.7 1.8 1.5 .9M51.2 192l2.2-.8 2-1.3 1.3 2 1.9-4.9 1.8-3.8 1.9 5.6 2 4.7 1.8-4.8 1.2 1 1.9-.2 2.1-3 1.1 2 1.9-2.1 1.6-2.3 1.1-4.2 1.2 7.7 1.5-6.5 1.3-4.4 2.3-1.8 1.6 5.3 1.6 1.2 2.1 .5 1.7-1.4 1.2 .1 1.1-1.7 2.4 3.8 1.1-7.2 2.1 7.9 1.5 2.2 1.9-3.7 1.7-.9 1.1-2.4 1.6 4.8 2.1 5.4 2 1 1.1 .6 1.5 .6 2.2 5.5 2.3-7.3 2.3-1.6 1 5.5 2.1-1.6 1.7-4.3 1.3-4.5 1.4 6.7 1.9-8.7 1.7 1.4 1.4 1.2 1.5 1.4M51.2 161.1l2.1-2 1.5 3.1 2.4 .4 2.3-.5 1.8 1.3 1.7 7 1.8-8.3 1.2 3.2 1.3 3.2 1.2 .6 1.9 1 1.8 1.8 2-1.5 1.6-1.9 1.8 2.1 1.4 5.5 2.1-10.2 2.2 3 1 1.2 2.4-1.9 1.7-.7 1.7 5.4 1.1 4.1 2.3 0 2.1 .4 1.1 3.2 2.2-2.9 2.2 1.2 1.1-.5 1.2 1.6 1.8 4.3 1.1-1.8M51.2 166.1l1.3-1.9 1.7 2.5 1.5-4.7 1-1 2.1-4.3 1.9 7.9 1.8 1.4 1.5 .2 1.1 2.4 1.9-1.7 2.1-4.7 1.1 1.2 1.2-2.6 1.4 3.7 2-2.3 1.6-4.5 2.1 3.8 2-1.7 2 .8 2.3-1.1M51.2 148.3l1.7 4 1.1-3.2 2-3.5 1 4.1 1.8-3.1 1.8-1.1 2.3 .6 1.9 .4 2.2 .3 1.9-5.6 2.1 4.3 2.1 5.4 1.6-4 1.1 .2 2-.9 2 2.9 2.3-1.2 1.6-1.2 1.4-3.4 1.3 3.7 2-1 1.5 2.1 2.4 .2 1-.7 2 4.4 1.3 1.7 1.8-4.1 1.1-1.4 2 1.2 2.2 3 1.1 6 1.6-4.1 1.3 3 1.1-3.1M51.2 178.9l2.4 7.2 1.2-1.6 1.9 3.7 1.1 1.2 1.2-3.1 2 7.8 1.9-3.1 2.2-.6 1.3 2.1 2-1.1 1.1-3.8 1.4 2.4 2.4-7 1.5 2.8 1.5-4.3 1.6-2.1 2 6 2.2-4.3 2.1 7.2 2-1.2 2.3-6.9 1-1.1 1 3.6 2.3-.3 2.1-4.2 1.7 4.4 2.1-6.7 2.1 .8 1.7 3M51.2 172.9l2.1 .6 1.6 5.6 1.7-1.8 2.3 .4 2-6.2 1.6-2.3 2.2 7.9 1.7-4.8 1.7 .8 1.8-.9 1.3-2 1.8-.9 1.5-.1 2.1-1.3 2.3 .7 2.3-.7 2.1-2.3 2.4-.8 2.1 3.3 1.5-1.4 2.2-.4 2.1 3.4 1.4-3.4 1.6-2.8 1.3 5.2 1.7-1.6 1 2.3 1.3 3.6 1.3-3.9 2.1-1.9 1 .1 1.8 .9 2.3 .1 1.9 6.4 2.2 2.9M51.2 183.6l2.2-1.8 1 2.7 1.8 .6 1.4-3.7 1.5 2.9 1.1-2.7M51.2 189l1.6-3.9 1.5 2 2-2.5 1.7 1.3 1.6-.6 1.6 .6 1.5-5.2 1.3 5.2 1.2 .4 1.8-5.2 1.7-2.6 2 4.7 1.4-1.3 2.2 2.2 1.6-7.1 2.4 5.6 1.2-.1 1.7-1.7 1.8 5.3 2-3.2 1.8 6.8 2 2.7M51.2 191.8l2-5 1.5 9.8 1.5-8.4 1.6 4.4 2.2-3.4 1.7-.3 2.1-1.1 2.2-2.4 2-.6 1.1 1.3 1.9 .2 1.2 1.2M51.2 160.2l1.2 1.3 1.7 .4 2.2 3.7 2.3-1.9 2.1 2.8 1.2-2.1 2.2-6.7 1.7 3.6 1.4 1.2 1.2 3.7 1.5 .6 1.6 3 1.4 4.5 2.4 .1 2.2 2.9 1.9 3.6M51.2 163l1.5-7.4 1.9 3.7M51.2 165.1l1.6 3.4 1.6-.3 1.8 4.7 1.5-3.7 1.9 7.7 2.2-3.5M51.2 160.9l1.9-2.7 1.4 1.9 2.3 3.1 2-.5 2.2 6.5 1.1 0 1.2-1 1.5 3.5 2.1-6.7 2.3 5.4 1.1-3.3 1.2-2 2.1-.5 2.2 3.4 2.4-3 2.1 1.6 1.2-7.3 1.5 4.9M51.2 162.2l1.9 1.9 1.9-.7 1.2-.8 1.9-.5 2.2 .5 1.7-.6 1.2-.2 1.4-1.1 1.1 3.3 1.3-2.5 1.5 5.5 1.7-2.4 1.8-5 1.9 9.4 1.1 6.2 1.6 3.6 1.2-2.4 2 3.6 1.2-5.4 1.3 3.1 2.4-.5 1.6-1.9 1.2-3.1 2-2.1 1.2-2.3 1.8-1.8 1.4-2.3 1.4 1.3 2.3 3.5M51.2 171.6l2.1-1 1.3 4.7 1.3 2 1.8-.9 2.1-2 1.1 2.9 1.3 .9 1.8-3.9 2.2 6.6 2.3-10.9 2.1 6.4 1.7 2.5 2.2-1.8 1.6-1.1M51.2 187.8l1.3 3.8 1.3-1.4 1.8 4.4 1.5 1 1.3-1.3 2 4.2 1.7 .2 2-.1M51.2 166.8l1.5 5.5 1.1 1.4 1.8-2 1.9 4.6 1.1-.3 1.8 .3 1.5-1.1 2.2 1.2 2 1.2 2.1-.1 1.4-2.9 1.3-.1 2 4 1.1-1.2 2-3.9 1.1 3.1 1.6 4.3 1.8-3.5M51.2 161.1l1.5-.4 1.3 .5 1.1-4.4 1.3 3 1.7 2.7 1.8-2.2 1.5-.5 2.1 1.5 1.5-2.7M51.2 159.3l1.2-3 1.4 2.7 1.7 .9 2.3-.4 1.5-1.7 2.2-1.2 1.2 1.4 2.3-1.7 1.8 4.9 2.3 2.8 1.8 .7 2.1-1.4 1.4 1.5 1.5 2.4 1.9-3 1.6 1.7 1.9-9.1 1.1 6.4 1.8-8.8 1.1 3.2 1.8 .4 2.3 3.1 1 4.3 1.6 .1 1 .1 1.5-3.4 1.3 1.8 2.4 3.4 1.1-1.7 1.1 2.3 2 1.2 1.1-7.2 1.9 .6 2.1-1.5 1.7 .1 1.9 3.6 1.1-6.2 1.2 .6 1.7 4.4 2 2.9 1.7 .2 2.4 1.2 1.2-1.4 2-1.7 2.3-3.2 2 5.6 1.5 .1 1.2-1.4 1.6 3.4M51.2 166.3l1.8 2.6 1.9-1.1 1.4 1.6 1.9 6.9 1.7-2.8 1.2 2.3 2.2 2.2 1.2 3.4 1.6 .4 2.3-2M51.2 188.6l1.7 1.5 2.3 3.5 1-4.1 1.8 9.2 1.4-5.4 1.5 .6 1.3-6.3M51.2 181.8l2.2-4.1 2.4 .5 1.9-.5 1.6-.9 2-5.7 1.5-.1 1.5 3.7 1.7 .4 1.1-.1 1.1 3.4 2.3-3.4 1.5 1.9 1.7 3.2 2-10.1 1.7 5.1 2.3-2.9 1.8 1.3 2.3 3.5 1.3 3.5 1.9-5.8 2.1 1.9M51.2 190.1l1.3-1.9 2.1 .7 1.8 1 1.9-1.5 1.2 4.3 2.3-3.2M51.2 171.2l2.3 2.1 2.3 1 1.3 2.9 1.2 3.9 1.1 1.9 1.9-6 1.4 4.2 1.5-.5 1.5 5.5 1.6-6.2 2.1-1.9 1.1 3.6 1.8 5.2 1.3 .1 1.2-5.6 2.1-.5 1.6-1.5 2 3.9 1.5 0 2.1-1.6 2.2-1.8 1.2 .8 1.1-4.8 2.1 .3 1.2 2.4 1.4 3.4 2.3-6.5M51.2 172.9l1.8-2.4 1.8 2.7 2.3-.9 1.8 2.5 1.9-.1M51.2 198.9l1.4-2.9 1.1-4.6 1.2 3.2 1.9-4.3 2.1-1.3 2.3 7.2 1.7-6.6 1.7 2.1 2.2-5.9 1.6 .6 1.7 .3 1.1-2.3 2.2 .1 1.7 .6M51.2 162.8l1.8 4 1.1-4.3 1.6-2.2 1.4 4.3 1.4 2.5 1.4-.6 2-.7 1.8 .6 1.9 4.5 2.2 1.3 1.3-4.4 1.4 6.5 2.3 2.8 2.3-3.2 1.5 4.5 1.4-5.9 1.3-7.2 1.8 5.1 1.6-2 2.3-.8 2.1 1.1 1 6.7 2.3 .7 2.3-3 2.3 4.9 1.4-1 1.4 0 1.4 1.2 1.5 2 1.8 4.4M51.2 184.3l2.1-3.8 1.5 6.1 2.1 2.9M51.2 199.5l1.5-.3 1.9 0 2.3 .6 1.9-3.6 1.9-4.7 1.5 2.7 1.8 1 1.4-2 2.4-.1 1.5-.9 1.8 1.6 1.2 2.1 1.5 2.3 1.8 .9 1.6-4 2.1 1.1 1.8-.5 1.5 1.5 2.3 2.1 2.3 1.8 1.6-3.7 2.4 0 1.3 1.7 1.9-1.6 1.3 .9 1.6-3.3 1.3-2.2 1.7-.1 1.4-3.7 2.1 2.1 1.4-1.7 2.3-2.7 1.9-.7 2-4.9M51.2 196.1l1.6 4 1.4-1.6 1.1-3 1.3-6 1.7 2.7 1.8-4.3 1.1 .9 2-2.6 1.2-1.3 1.5-6.3 2 4 2.2-3.3 1.3 3 1.2-1.3 1.6 5.8 1.8 1.4 1.8 1.5 2.2 .4 1.1 1.5 1.5 6.7 2.2-1.6 1.7-3 1.9 1 2.1 6.5 1.7-5.3 2.3 2.9 2.3-.7 2.2 1.8 2.1-.1 2-1.8 1.3-1.5 2.3 2.9 2.1-5.1 1.7 .1 1.5 4.2 1.3 .5 2.1 1.7 1.3-5.9 2.1 .7 1.8 1.6 2.1-2.7 1.8-3.1 1.1 .5 1.6-5 2-.8 1.1-.9 2 6.4 1.8 .4 1.5 4.9 2.1-.6 2.1-3.6 1.8 5.9M51.2 175.8l1.4 .6 2.1 6.6 1.7-6.3 1.9 8.2 1.6-3.8 2.1-1.7 1.1-2.5 1.4 5.6 1.9-2.8 1.9-5.4 1.7 .2 1.9 1.9 1.2 5.5 1.7 1.5 1.6 .9 1.9 .1 1.3 4.8 1.4 3.4 1.7 2.4 1.5 2.2 1.7-5.5 1.2-2 1.2 2 1.8-.7 2.1 .8 1.1 3.7 2.1 2.8 1.6-3.2M51.2 189.1l1.7-1.2 1.7 1.4 1.7-5.1 2.3-.3 1.8 2.1 1.6-3.3 2.1 3.1 1.8-3 2 1.5 2.3-5 1.1-.7 2-.4 1.1 5.3 1.7 1.4 2.1-1.6 1.5 1.5 1.4-4.3 1.2 .8M51.2 163.3l2.3 .1 2.1-.8 1.6-.2 2.3 1.5 2.3-6.3 1.1 4.1 1.7-.9 1.8 1.9 1.4-.2 1-3.6 1.4 3.3 2.3 4 1.9 .7 1.5-1.2 1.1 2 1.1-.4 1.4-3.9 1.4 .6 1.8 4.7 1-.2 1.8-.1 1.4-2.3 2.2 5.1 1.7-4.2 1.7 2.7 2.1-1.9 1.3 2.6 1.5 .3 1.1 1.2 1.6-1.3 2.3 1.9 1.6-2.1 1.1-.4M51.2 189.1l2.1-2.3 1.3 2.8 1.9 5.1 1.8-7.9 1.5 3.3 1.6 4.5 1.4-3.4M51.2 191.7l1.3-.8 2.3 .3 1.2 3.5 1.4-4 1.4-4 1.2 1.1 1.4-8.3 1.5 2.5 2.3 2.6 1.7 7.3 1-8.3 1.3 2.6 2.4 1.3 2.2-2.4 2.3-.7 1.2 6.1 1.7-.4 2-6.2 1.8 7.5M51.2 197.7l1.5-4 1.7-.4 1.6 5.4 1.2 .5 1.2-6.3 1.1 6.6 1.2-5.2M51.2 155.7l1.7-1.6 1.2 1.6 1.1-.8 1.9 8.6 1.1-.1 1.7 2.1 1.2 1.9 2 .5M51.2 191.8l1.7-.6 1.9 4.1 1.1-4.9 1.8 1.7 1.8-7.2 2.1 1.7 1.3 1.3 2.2-1.8M51.2 162.4l1.6 .2 1.8 6.1 2-1.6 1.9 .1 1.9-3.7 2 .6 1.3-6.6 2 6.1 1.3-.1 2.3-1.2 1.6 5.4 1-3.2 1.1 5.5 2.2-1.5 2.2 10.6 1.8-5.7 1.8 5.9 2.3-1.4 2.2-1.8 1.8 2.7 2.1-5 1.5-1.5 2.2-1.7 1.9-3.5 1.7 5.5 1.1-8 2.1 2.6 1.3-3.4 1.2 5.5 2.1 7.2 1.3 .6 2 4.7 1.8-1.2 1.1-3.8 1.3 1.9 1.5-1.1 1.1-3.4 1.3 .3 2.4-1.3 2 .3 1.2 4.8 1.7-4.2 1.4 1.2 1.4-3.2 2.1 1 1.1 2.6 2-3.4 1.9 7.2 2-2.9 1.8 .8 1.3 2.3 1.3 3.9 1.2-1.2 2.1 4.7 1.3-10.2 1.4 5.4 1.9-2.2 1.4-1.8 2.2 6.3 1.3 .9 2-.4 1.7 .6 1.8-3.2 1.3-1.9 1.3 3.6 1.1 4.1 2.2-4.2 1.9 1.6 1.8-5 1.4 .8 1.5-2.5 2.2 1.2M51.2 184.5l1 .9 2.2 .9 1.1-.2 1.5 .2 1.4-.8 2 4.3M51.2 167.7l1.4 5.1 2.1 1M51.2 172l1.7 2.8 1.8 .3 2.3-4.2 1.2 .8 2.4-.5 1.6-4.4 2.2-.3 2.1 0 1.7-5.9M51.2 178.5l2.1-.7 1.4 7 2.1-2.2 1.2-3.9 2.1 1.6 1.3 6.6 1-4.5 2-.6 2.3 .1 1.2-.4 2.3-1.7 1.1 3.9 2.1-1.7 1.2-2.2 1.8 1.7M51.2 176.8l2 .6 1.9-4.7 2.3 1.7 1.3-2 1.6 2.7 1.8-7.4 1.5 2.4 1.6-.9 2.1-3.3 1.6 1.4 1.9 3.1 2-8.5 2.3 3.7 2.2 3.8 1.6-4.3 1.3 7 1.5-1.6 1.6-.6 1.7 .2 2.3 2.4 2.2-5.9M51.2 193.1l2.1-1.8 1.1-.5 2 3.2 2.2-2.6 1.5 2.5 1.1-3.2 1 3.2 1.7-1 2.2-8.2 1.8 9.5 1.5-3.3 2.1-2.9 1.3-3.6 1.3 4.4 1.3-2.8 2.3-.4 1.2 1.2 1.6 1.3 1.3 1.8 1.3 3.7 1 .1 1.7 3.5 1.4-5.6 1.5 3.5 1.2-.7 1.2-1.1 1.7 .1 2 .1 1.3 1.2 1.5-4.8 1.3 2.2 2.2-2 1.3-.8 1.8 0 1.6 1 2.3-6.4 1.1 4.8 1.8-1.3 1.3-4.5 1.3-4.2 2.3 2.2 2.1 6.2 1.5-1.8 2.3-3.1 1.3-2.4 1.8 6.3 1.6-4.7M51.2 187.4l1.8 6.7 1.6-4.6 2 5.3 1.8-3M51.2 182.8l1.5 2.6 1.5 .8 1.4-.1 2.2 3.3 1.3 .4 1.6-1.9 1.8 .6 1.2-2.6M51.2 168.9l1.4 .2 1.9 .7 1.1 .9 1.3 4.5 1.9 1.2 2.3 1.9 1.9-4.2 2.3-2.7 1.4-2.5 1.2 4.9M51.2 194.4l2.1 .6 1.1-1.5 2.2-3.2 1.6 3.6 1.6 .3 1.2-5.3 1.2 6.1 1.1-1.6 2.4 2.5 2.1-3.8 2.3-.1 1.3-1.4 1.6 .7M51.2 193.9l1.2 2.4 1.9 1.7 2-6.1 2.2 .5 1.9 1 1.3-2.8 1.7 .4 1.6-.3M51.2 152.3l2.2 5.5 1.2 .7 2.3-.7 1.2-.3 1.5-2.5 2.3 2.1 1.5 3.4 1.1 3.1 2.1 2 1.5 2.5 2.4-1.7 1.8 .3 1.6-2.5 2.2 5.2 1.3 3.7 1.7 2.3 1.6-.8 1.7-3.2 1.1 1.4 1.2 .5 1.7 1.4 1.7-3.5 2 3.6 1.3-2.6 1.7-3.8 2.3-4.4 2.1 3.5 1 5.9 1.3-5.7 2.3-2.5 1.4 3.8 1.8 1.7 1.8-2.1 1.1 6.1 2.3 1.7 2.3-3.3 1.9 .3 2.3 .8 1.4 2.9M51.2 197.7l2 2.1 1.7-.2 1.9 .3 1.8 .5 1.1 .2 2-1.9 1.8 .8 1.3-4 1.5 3.8 1.5-3.3 1.1 0 1.4 2.7 1.3 1.9 2.2-2.3 1.9 1.9 2.1 1.3 1.7-1.6 1.8 1.8 1.8 0 1.3-4.7 1.5-1.9 1.8 .2 1.7-.8 1.5-2.4 1.5 3.2 1.8 2.8 1.9 1.3 1.8-2.9M51.2 186.3l1.3 1.1 1.1 1.6 2.3 1.4 1.7-5.9 1.6 .3 1.8 .3 1.2 .8 1.2 4 1.9-5.6 2.1-1.1 1.8 7.3 1.9-8.7 1.9 3.7 1.1-2 2.4 1.7 1.5 1.8 1.4 4.4M51.2 164.6l1.6 2.9 1.4-6.3 1.3 3.6 1.8 4.6 1.1-3.9 2 8.4 2.2-.5 1.4 .5 1.8 4.5 1.7-1.4 2 1.8 1.2 2.3 2.3-2.7 1.4 .7 2.3 3.5 1.2 .7 2.3 2.8 2.1-3.1 1.6 3.6 1.9 4.8 1.8 0 2.3 4.1 1.6-4 1.4 .8 1-.1 2-9.9 2.2 6.3 1.3 2.8 1.4-2.3 2.1-.3 1.4-4 1.9-.2 2.3-2 1.1 .9 1 .9 1.4-3.4 1.2-3.4 1 1.6 1.6 3.8 1.9-4.2 1.8-1.6 1.9 .3 1.6 .7 1.8-2.5 1.8-1.5M51.2 176.1l1.9 3.3 1.9-4.7 1.9 3 1.5-3.3 2.3 1.4 1.5 1.1 2.2-4.2 2-5.8 1.2 10 1.3-1.7 1.7 1.8 1.4 3.9M51.2 178.7l2.2-4.6 1.6-4 1.8 1 1.3 4.5 2.2-6.1 1.8-4.2M51.2 170.1l1 .7 1.3 3.5 2 3.2 1.4 .6 1.3 1.7 2.4-1.8 2 4.3 2.2-.7 1.3 1.5 1.6-2.7 1.3-2.8 1.3 .5 1.6-1.2 2.3-3.4 1.3 2.8 2.3 4.3 1.3-.7 1.2 .8 1.4-1.7 2 2.4 1.2-4.2 1.1-.1 2.3 5.6 1.7-5.4 1.7-2.3M51.2 160.9l1.3 5.9 2-2.5 1.5-1.4 1.4 5 1.8-2.3 1.7 2 2.1 5.1 1.2-8.6 1.5-1.6 2.2 5.7M51.2 179.8l1.2 1.7 2.1 5.9 1.7 .7 1.9-.6M51.2 199.4l1.6 .9 2-1.1 1.5-.3 2.1 .3 1.5-1.5 1 2.1 1.8 .4 2-1.1 1.6 1.4 2-1.5 1.7-3.8 1.1 4.6 1.1-8.2 1.3 6.2 2.2-4.5M51.2 198.2l1.8 .8 1.7 1.1 1.7-.5 1.3 1.1 1.1-1.7 2.1-1.8 1.5-1.3 1.3-4.7 2 3.1 1.5-5.9 1.8-1 2.1 2 1.2-3.4 2.1-4.2 1.6 3.6 1.4-3.1 1.5 4 1-4.4 1.9 6.9 2.4-.8 1.3-2.8 1.9-1.3 1.9-1.2 1.9 .2 2 1.8 2.2 4.9 2.4-6.4 1.7-7.3 2.3 3 1.8-2.9 2.3 4.2M51.2 178.1l2.3 3.1 1.1-1.9 1.5-.3 1.2 3 1.7-4.9 1.2-1 1.9 5.7 1.5-7.5M51.2 188.6l2.1-4.1 1.4-5.3 1.4-1.2 1 5 2.1-.2 1.3 1.4 2.1-5.8 2 6.9 2 2.7 1.4-7.8 1.8 3 2.2 .1 1.7 2.2M51.2 172.9l1.8-7.9 2 2.2 1.9 .5 2-.2 1.1 1.8 2.2 2.1 1.1 1.7 1.3 1.6 1.9-1.8 1.2 5.2 1.4 5.9M51.2 162.8l1.8-2.8 1.1 1.3 2.3 3.6 1.5-2.7 1.1 4.2 1.2-2.6 2.3 2.1 2.3-.3 1.4-2.8 1.3 .9 1.9 2.6 1.3-3.2 1.2 2.9 1.8-6.3 1.3 4.5 1.6-4.4 1.6 6.9 1.7 2.3M51.2 165.5l1.5 1.8 2.3-3.5 1.6 0 1.2 .4 1.1 7.5 1.9-.1M51.2 155.8l1.8 5.5 2.3 1.7 2.2 5.3 1.9-1.2 2.1-1.6 1.7 7.1 1.6 5 2.2-6.5 2.3 1.8 1.3 6.5 1.7-4.9 1.9 1.2 2.2-5.8 1.9 3.2 2 1.2 1.9-1.5 1.2-.4 1.2 .5 2.1 9.1 1.3-6.9M51.2 179l1.9-5.3 1.8 3.7 1-1.1 1.3 2 1.7 1.9 2.1-8.2 2-1.3 1.5-2.5 1-1.5 2.4 3.2 1.5-2.9 2.1-1.1 1.4 3.2 1.7-2.9M51.2 192.6l2.2 1.4 2.1-1.6 1 3.2 2.3-.6 1.9 3.3 2.2 1.8 2.1 0 2 1.3 1.6-.4 1.7-6.1 1.8 .6 1.4-4.6 1.9-1.3 1.2-3.5 2-3.8M51.2 168.5l1 3.9 2.3-4.8 2 3.6 1.9 1.8 2-3.6 1.9-1.1 1.2-2.6 1.7 .1 2.1 0 1.8-2.5 2.4 2.3M51.2 166.3l2.1 1.5 2.1-.7 1 2.1 1.4-2.7 2.3 7.3 2.2-4.9 1.3 1.8 1.2-.5 1.4 2.3 1.7-.9 2-1 2.3 .9 2.3-3.8 1.3 6.2 2-3.6M51.2 171.4l2 6.2 1.7-6.6 1.4 .9M51.2 189.4l1.8 .7 2.1-2.3 1.3-.6 1.1-5.4 2 3.2 1.8 1.8 2-4.4 1.4-3.8 1.8 2.7 1.7 7 2-6.6 1.7 6.5 1.7 3.3 1.6 .2 1.3-1.6 2.2 3.4 2.2-3.2 1.7-1.7 1.1 0 1.3 .1 2 1.4 1.5 6.1 1.5-4.7 1.7 2.4 1.2 .7 1.4 4.3 1.1-3.8 1.1 2.3 2 2.2 1.9-2.1 2.1 2.8 2.1-4.7 1.1 2 1.3 3.1 1.4-4.4 1.8-1.2 1.8-5.2 1.7-1.1 1.7 1.4 1.2 2.1 1.8 2.4 1.8-8.1 2.3 11.8 2.3-3.6 1.6-4.7 2.1-1.1 1.5-1.6 2.3-5.9 2.2 1 1.2-1 1.9 2.1 1.2-2.6 1.7-.9 1.4 3.8 1.8-.7 1.2-5.1 1.6 .4M51.2 198.1l1.5-5.2 1.5-.6 1.2 1.8 2-3 1.4 1.9 1.4 .5 1.7 1.2 1.6-3.7 1.2 3.3 2.3 1.3 2.3-5.2 1.5-1 1.4 4 2-2.8 1.1 3 1.7 .4 1.6-1.1 1.3 .3 1.3-1.5 2.2 6.6 1.6-2.8 1.9-.6 1.4 3.6 1.2 2.3 1.5-3.3 1.5-6.2 2.2 2.8 1.4-1.2 1.4 1.5 1.1-6.9 2.2 7.6 2-4.8 1.3 4.7 1.7-3.9 2.2-1.3 1.5 2.5 1.6 .8 2 1.6 2.3-.6 1.7 1.3 2 4.8 2.3-7.6 1.2 .5 1.2 5.6M51.2 193l2.3-4.2 2.1 .2 2.3 4.6 1.2-.5 2.4 2.1 2.1-.6 1.9-2.1 2.3-1.3 1.7-5.3 1.8 2.7 1.7 3.2 2.3-4.4 2.1 2.9 2.1-1.6 2.1 1.3 1.9 2.3 2.2-1.6 1.8-2.5M51.2 147.2l1.3-2.1 1.8 4.9 1.4 1.6 1.4 1.1 1.3-1.2 1.6-3.3 2.3 3.9 1.1 3.6 1.4-2.3 1.5 1.2 1.9 1.8 1.4 .4 1.9 .4 1.6 1.3 2.4-2.3 2.1 .4 1.6 2.6 1.4-1.2 2.3 6.8 1.9-6.9 1.9 .3 1.8 3.4M51.2 195.6l1.6-2.9 2.4 3.6 1.1-1.1 1.3-5.1 1.3 5.5 1.2-.3 2.2-3.5 1.2 1.3 1.4-.3 2.2-.1 1.7 2.6 1.2-1.1 1.8-2.9 1 1.8 2-1 1.2 4 1.2-3 1.4 3.7 1.6-4.4 1.2 4.9 2.1-1.2 1.5-2.3 1.5 3.4M51.2 187.3l2.4-4.3 1.1 4.3 1.9 3 1.1-.9 1.6-.7 1.9-2.6 1.3-4.8 1.3 1.1 1.9 3.7 1.8-.3 2-2.2 1.2 3.6 2.1-4.5 1.5 2.8 2.2 1 1 .7 1.1-6.7 1.4 11.4 2.2-.2 2.1-6.7 1.6-3.7 1.6-7.8 1.8 5.7 2.4 .8M51.2 192.9l2.3-2.9 1.5-1.8 2.3 1.7 1.3-1.3 2 2 1.1-2.4 2.3-5 2.1 1.7 2.1-2.3 1.4 5.5 2.2-6.4 2.2 1.9 1.7-1.7 2.1 .5 1.6-2.4 2.2-1.2 1.7-4.3 1.4 5.5 1.4 1.9 1.4-6.5 2.3 6.6 1.1 4.2 2.3 3.4 2.3-.9 1.2-1.2 2.2 2.1 1.9 1.2 2.2 5.1M51.2 190.6l2.1 6.4 2 1.1 2.2-.7 2.2 4.7 1.8-2M51.2 189.7l2-.4 1.3-.7 1.1 1.7 1.5-3 2.1 5.6 1.2 4.3M51.2 155.6l1.1 .5 1.3-2.9 2.3-3.1 1.2 2.1 1-1 1.6 2.8 1.2-1.5 2.3 7.2 1.5-3 1.4 3.2 2.2 0 1.6 1.8 1.1 1.3 2.1 3.8 1.7 .3 1.6-.3 2.4 .1 2.3 .4 1.2-1.2 1.7 .9 2.3 3.9 1.9-4.4 1.4-2.2 2.3 6 1.4-4.6 1.7 2 1.1-5.1 1.9 10.1 1.2-1.8 1-.4 1.6 .6 2.1-2.5 1.9-2.6 1.6-2.9 2 2.3 1.4 .4 1.5-1 2.1 5.2 1.4 .8 2.2 2.8 2.3-2 1.4 5.6 1.2-4.2 2.2-.8 1.7-6.8 1.3 .5 1.4-4.2 1.9-.1 1.1 1.9 2.2-2 1.4 3.1 1.2 1.5 2.1 .5 1.8 2.4 1.2 2.3 1.2 .6M51.2 185.2l2.2 2.6 1 3.2M51.2 155.4l1.6 3.9 1.5-1.3 2.3 3.1 2.2 1.6 1.7-2.1 2.1 7.6 1.9-6.1 1.5-.2 1.2 1.4 1 2.3 1.4-4 1.8 5.3 2-4.5 2-.7 1.5 .9M51.2 155.7l1.3-2.4 1.9 .1 2.1 8.4 1.6-5.1 2.1-.8 2.1 2.1 1.7-1.7 1.7-.2 1.2-1 2.3-5.4 1.2 1.9M51.2 188.4l1.5-3.1 2 3.4 2.1 3.8 1.9-4.7 1.1 6.3 1.7 2.2 1.2 .6 1.2 .6 1.3-2.7 2.3-.5 1.7 4 1.6-1.5 1.5-8.7 1-1.6 1.7 .9 1.3 2.5 2.2-4.1 2.1-3.7 1.3-.4 2.4-3.5 2.1 5.6 2.1 1.4 1.5 0 2-.7M51.2 152.7l1.9-1.5 1.6-1.7 1.6-2.7 1.7 3.3 2-.9 1.6 3 1.3-1.6 2.4 3.5 1.8 1 2.2 1.1 1.6 .2 2 .3 2.3 4.2M51.2 178.4l1.6-1.5 2.3 .2 2.3-2.9 1.6-.1M51.2 147l2-.6 2.2 2 1.6 .2 2 2.4 1.3 3.4 1.4 1.9 1.2 7.3 1.9 4.5 2.1-5.8 1.7 5.6 1.2-3.1 2.1 4.4 1.2-4.4 2.1 9 1.2-1.5 1.4 .7 1.5-.7 2 2.6 1.8-.5 1.6 4.3 1.9-.5 2-.3 1.1-3.7 2.1-7.1 2.3 5.3 1.9 1.4 1.2-1.9 1.7 2.3 2.1-1.9 2.2-.5 2.3 2.6 2.4 2.1 2.2-.7 2.2 2.6 1.4-2.5 1.7-2.8 2.2 6.2 2.1-5.6 2.1-.1 2.1 2.5 1.7-1.6 1.8 1.9 1.2-3.4 1.9 1.3 1.7-2.7 1.4 8.9 1.1-1.4 1.8 6.9 2.1-3.4 1.1-3.8 1.2-2.6 2.3-4.6 1.4 .8 1.5 2.1M51.2 170l1.2 1.5 2.4 .9 2.2-3.5 2.1 2.1 2.2-1.5 2.3-1.5 1 2.7 2.3-3.6 1.2 3.1 1.2 .3 1.6 2.3 2.1 3.9 2-4.9 1.5 .2 1.3 .9 1.9 1.9 1.2 2 1.5 3.6 1.8-1.8M51.2 181.4l1.3 2.3 1.6-2.6 1.5-4.8 1.7 1.3 1.3 2.5 1.1 2.1 1.8 3 1.8 1.7 2.3 .1 1.5-.7 1.9-1.8 1.5-6.7 1.3 2.6M51.2 169.9l1.8 2.7 2.1-.6 2 3.8 1.7-4.5 2.1-2 1.6-2.1 1.4 5.8 1.4-1.6 1.3 3.7 1.5-2.6 1.6-3.4 1.8 5.2 1.9 4.3 1.4 1.9 1.5 3.5 2.1-1.3 1.9 1.7M51.2 167.5l1.9-9 1.3 11.9 2-1.7 1.3-2.1 1.2 2.9 1.6 .6 1.1-.8 1.5 .4 1.6-.2 1.2-3.5 1.1 4.6 1.8-6.4 1.7 .7 2.2 0 1.8 2.4 1.5-5.2 1.2 4.9 1.6-7 1.3 4.9 1-1.3 1.3-1.2 1.8 5.4 1.8 6.4 1.9 1.6 1.1-5.9 1.6 2.9 1.8-2.1 1.8-4.1 1.5 1.3 1.9 1.6M51.2 156.4l2.2-1 1.1-7.5 1.4 8.6 1.3 .3 1.2 2.7M51.2 179l2.1-.7 2.2 .5 2 1.3 1 .5 1.3-1 1.5 8 2-5.4 1.5 .9 2.2 1.2 1.5 2.9 1.3-.3 1.4-5.8 1.9-4.7 2.2-4.4 2.2 5.4 2-.9 2.3-3.4 2.2-2.1 2.2-7.8 1.5 6.5 2.2-.3 1.9 4.2 1.4-4.4 1.7-3.1 1.3 6 1.5 2.9 2.1-3.2 1.4-6.6 1.3 3.3 2.3-1.8 1.6-2.9M51.2 166.2l2.3-1.8 1.8 2.4M51.2 177.4l1.9 6.7 2.4-4.5 1.8 .1 1.4 4.8 2.1-2.7 1.4 4.8M51.2 185.4l1.9 1.6 1.4 .9 1.1-1.6 1.9 4.9 2.3-6.6 1.9 3.8 1.3 1.7 1.9-2.9 1.7-1.9 1.5-3.5 1.5 6 1.8-5.5 1.3-.6 2.2 1.6M51.2 189.9l2.2 .2 2.1-1.4 1.2 .9 2.2 3.7 1.7-1.5 1.1 .6 1.7-4.2 1.5 3.6 1.7-4.1 1.4 2 1.2-2.9 2.2 .5 2.3-1.8 1.3-1.9 1.2-3.8 2.3-1.9 2.2 3.2 1-2 2.1-3.4 2.1-1.1 1.1 .4 2.1-4.4M51.2 196.2l1.3-5.1 1.1-2.8 1.7-.7 2.3-1.8 1.4-3.6 1.6 2.4 1.5-6.5 2-2.4 1.2 1.9 2.1-3.3 1.7 4.4 1-.4 1.8 5.6 1.9 4.9 1 2.9 2.1 4.7 1.4 1.4M51.2 147.7l1.6 3.5 1.4 .3 1.9-1.1 1.1-.2 1.3 2.6 2.4-1 1 3 1.4-5.3 1.9 .7 1.9 2.3 1.9 1.9 1.6 3.3 2-.3 1.5 1.6 1.8 1.4 1.5-2.7 1.7-2.8 1.4 1.9 1.9 .7 1.1-5.6 1.5-1.1 1.8 8.3 2-5M51.2 184.1l1.5 6.1 2.1 .7 1.2-2M51.2 169.7l2.4-3.4 1 6 1.6-3.6 1.5 3 1.9-.3 2.1 4.3 1.4-.4 1.6 3.8 1.5-2.5 1.3 2.8 1.7 .1 2.3 2.1 1.9 9.7 2.1-7.5 2.2 1 1.8-.8 1.8-.3 1.8 1.9 1.9 1.8 2.2-4.4 2-1.5 1.1 6.2 2.1 1.5M51.2 184.3l1.5-3.2 2.2 4.1 1.5 .6 1.1-2.1 1.4-1.9 1.8 .7 1.9-.7 1.5-7.1 1.8 .3 1.6 4.3 2.1 .6 1.4 3.3 1.4-2.5 2.3 .2 2-1.1 2.1 3.7 2-3.6 1.9-1.6 1.5 4 2.3 6 2.1-1.3 1.4-7.4 1.6 4.7 2.1-2.8 1.8 .1 1.3 .5 1.7-1.9 2.1 3.3 1.8 .4 2.4-3.8 1.2 3.9 1.9 6.8 1.6 1.7 2.3 5.5 1.5-3.7 1.4 5.7 1.6-3.8 1.7-3.6 2.2-1.5 1.4-6.2 1.3 2.2 1.8-8.3 2.1 6.4 2.4-2.7 2.3-6.2 2.3 1.1 1.8 8.3 1.4-3 1.7-4.9 2.2 6.5M51.2 165.5l1.1-1.8 1.7 4.1 1.5 .2 2.4 .4 1.7-5 1.1 6.1 1.6 1.8 1.3-5.5 1.8 5.9 1-2.4 1.5 0 1.1 6 1.6-4.8 2 7 1.8 2.5 2-4.8 2.4 8 1.8-1.8 2.2 1.2 1.7 8.5 1.2-3.3 1.8-.4 1.9 1.2 2.3 0 1.7 .2M51.2 174.8l1.2-2.6 2.1-1.4 1.1-1.8 2-2M51.2 178.4l1.1 6.7 1.8-6.1 1.5 1 1.4-4.3 1.8 6.2 1.1-.6 2.1-4.5 1.2 3.3M51.2 179.8l1.5-5.7 1.2 .4 2.2-.3 2.1 .9 1.7-.2 1.5-1.2 1.1 2.5 2.1-3.1 1.3 6.2 2.2 3.1 2-6 2.3 3 1.2-7.8 2.3 7 1.4-7.7 1.6 3.6 1.3 2.6 1.9 1.4 1.5-4.4 1.3 6.7 2-4.6 1.3 2.4 2.4 .9 2.1 3.1M51.2 163.3l1.9-1.6 2.3 4.5 2-.8 1.7 .6 1.3-7 1.7-2.9 1.3 1 2.1 4.4 1.3-3.1 1.4 5.2 1.4 1.2 2.2-1.7 1.6-.6M51.2 177.8l2 .6 2.1 5.2 2-2.6 1.4 8 2.4-5.1 2.3 .9 1.6-3.1 2.1 7.7 1.1-7.6 1.8 3.5 1-4.8 1.6 3.7 1.3-1.2 1.3-3.8 2.3-1.3 2.2-.5 1.6 7.3 1.9-.4 2.1 .2 1.3-.8 2.4 2.2 1.6 4.2 2-5.3 2.1 10 2.1-2.7 2.3-2 1.1-.4 1.6 .9 1.5 1.5 2.2-3.8 2.2-2.9 1.2 0 2.2 1.1 1.9-3.6 1.3-3 1.6 7 1.6-2.9 1.4-2.5 1.2 .7 2.3-4 2.3-.5M51.2 164.4l1.4-5.9 2.2 3.9 1.9 5.3 1.9-.9 1.4-1.4 1.8 4.9M51.2 193l1.9 1.6 1.6-.8 2.1 4 1.2-2.7 2.3-1.5 2 3.9 2 .2 1.1-.1 2.2 .4 2-7.2 2.3-2.9 1.4 9.2 1.1-2.7 2.1-5.4 1.1 8.9 1.3-2.9M51.2 176.2l1.7-4.2 2.2 2.1M51.2 156.9l1.1 .8 1.2-.6 1.8 7.9 1.3-1.6 1.1-.8 1.4 .4 1.8 2.2 2.1-.4 1.9-1.6 1.2 2.6 1.6-2.1 1.4 9.3 1.5-1.9 1.6 3.3 1.1 .2 1.8-2 1.3 7.3 1.2-2 2.1 5.3 1.8-3.3 1.7 .4 2.3 .7M51.2 188.9l1.5 3.9 1.8 .3 1.7-2.5 2.1 .7 1.2 .6 1.5-4.5 1.6 3.5 2.4-4 1.8-.6 2 .5 1.4 3.9 2.1 .2 1.7 1.9 1.8-2.1 2 .9 1.7 2.3 1.4 .4 2.1-2.4 1.3-1 1.5 10.1 1.7-3.4 1.5-1.4 2-1.4 1.5 .1 1.6-.3 1.7 6.6 2.2-6.2 1.7 2.1 1.1-1.8 1.7 2.4 1-5.4 2 4.8 1.6-.8 1.5-4.9 1.5 7.1 1.6 .7 1.4-1.3 1.4-.8 2.2-2.6 2.1 3.1 1.9-3.4 1.7-4.2 1.3 4.2 2.3-4.5M51.2 180.9l2.3 .6 2.2-2.9 2.3 .1 2.4 5.9 2.2 .7 1.5-4.4 2.2 4.9 1.4 3.2 2.1-5.6 1.6-1.5 2-3.5 2.1 9.2 2-7 1.6 3.9 1.5-4.3 1.2 5.9 1.3 .7 1.5-4.1 1.5 4.2 2.3 .9 2.4-1.2 1.8-3.5 1.9 6.8 2.4-.2M51.2 196.4l2.2-6 1.6 4.6 2.1-.7 1.4 4.2 1.9-3.1 2.1-.5 1.1-.7 1.8-1.2 1.7 2 2.1-8.8 1.3 6.4 2-.9 1.9-1.3 2-6 1.4 4.2 1.7-.7 1.5 1.2 1.6 .9 1.6 7.8 1.4-3.8 1.5-3.9M51.2 187.2l1.5-1.7 1.4-6.8 1.5 3.5 1.2-4.2 2.2-2 1.2 5.5 1.3-4.2 1.6 6.1 1.5 6.6 2.1-4.1 1.5 4.4 1.5-3.5 2.1 2.2 1.2-5.5 1.3-4.7 1.7 3 2.1-4.4 1.9-.5 2.2-1 2.2-3.6 1.1 3.3 1.7 .7 1.1-1 1.7-.2 2.4-7.5 1.8 10.8 2 4.2 1.7-4.7 1.4 1.1 1.1-5.3 1.6 6.4 1.4-1.4 1.1-.1 1.7-1.5 1.5 6.3 1.4-6.1 2.3 3.8 1.3 1.1 2.1-.5 1.6 .9 2.1-2.6 2.1-.4 2.3 3.5 1.3 1.1 2.3-1.5 2.3 5 1.9-.8 1.1 .3 1.3-2.2 2.2-2.1 1.7 2.1 1.1 2.7M51.2 160.9l1.8 1.3 1.3 4.1 1.6-.9 2.2 .8 1.2-.7 1.8-4.4 1.7 2.7 1.7 5.7 1.7 1.8 1.7 .8 1.9 .5 2.1-3.4 1.6 5.8 1.5 1.1 1.6-5.1 1.1-2 1.2 6.9 1.9-4.1 2.3 9.8 1.2-7.4 2.3-.5 1.1 4 1.4-4.8 2.1-1.2 2.2-1.5 1.4 2.6 2-4.5 2.3-1 1.4 4.3 2.3-2.5 1.4 1.4 1.4-3.3 2.2-3.7 1.9 5.1 1.1-2.6 2.1-3 2 5.1 2.3-3.5 2-4.7 1.8 2.5 1.2 2.6 2.2 2.3 1.7-4.8 1.1 4.1 1.2-.7 1.9-2.6 1.7 3.4 2.1-6.1 1.1 3.1 1.1-2.5 1.3 3.7 2.2-2.3 1.8 .4 1.1 7.3 2-1.4 1.1 0 1.3-2.6M51.2 177.6l2.3 6.1 1.6-4.4 1.1 5.3 1.7 3.1 1.5 1.3 1.3-3.2 2.2 7.7 1.1 .4 1.3-8.1 1.7 .9 2.3-2.2 1.3 1.6 1.1 2 1.7 1.2 2.1 4.3 1.1-4.3 1.1 .3 1.4-.4 2.2 .3 1.4 1.8 1.7-4.1 2.2 3.3 1.2 2 1.6-3.7 1.4 4.2 1.9 .3 1.5 4.3 1.6-1 1.4 .3 2.2-4.5 1.4-.6M51.2 174.2l1.4-8.1 1.4 4.9 1.6 5.6 1.4-2 1.2-3.9 1.9 1.4 1.3 .5 1.9 5.9M51.2 184.7l2.2-2 1.4 2.6 1.1-7.3 2 4.3 2-4.9 1.3 .6 1.9-6.4M51.2 148.2l1.7 2.8 1.4 3.2 1.9-.4 1.2-1 1.3-3 1.6 .6 1.4-1 1.2 1.3 1.8 4.7 2.1-2.7 1 .4 2 3.6 1.7-1.1 1 5.5 1.3 1.4 2.1-.3 1.6-2M51.2 172.5l1.8 4.3 1.4 1 1.3 1.4M51.2 185.9l1.3 1.4 1.4-2.9 2 1 1.5-6.1 2.2-7.8 1.7 1.5 1.3-.5 2.1 .5 2.3 3.5 1.5 2 1.6-1.5 2.1 2 2.3-3.7 1.3 2.4 2.3-2.2 2 1 1-2.9 2.3 4.5 1.5-3.1 1.5-1.1 1 2.7 1.4 .6 1.5 2 2.4 2.9 2-2.3 1.4 .5 2.1 .8 1.9-1.6 2.3-2.8 1.4 1.9 1.6-.3 1.3 1.4 1.3 4.3 1.2-2.9 1.8 1.2 1.7 4.3M51.2 188.8l1.5 3.4 1.5-.3 1.6-1.2 1.6 3.5 1.2-1.7 1.8 .5 1.3-5.7 1.1-.2 2.2 5.5 1.4-2.6 1.6 4.4 1.4-2.7 1.6 2.6 1.8 .7 2.3-1.4 1.6-2.4 1.7-.7 2 2.7 1.8 2.4 2-.5M51.2 162.3l1.5 0 1.8-.4 2.2 8.1 1.4-2.5 2.2-4.9M51.2 180.7l2 .6 2.3 4.5 1.7-.6 1.4-.8M51.2 171.5l2 1.3 1.6 .6 1.7 4.8 2.3-.2 2.3 1.7 2.2-1.3 1.5 5.6 2-3.5 2.1 .4 1.2 3.7 2.2 .1 2.1 .9 1.2 1.2 1.1-4.6 2.1 1.2 1.5 .3 1.7-1.1 1.9-5.2 1.1 1.6 2.1-3.6 1.9 2.2 2.3-4.5 1.5 3 1.8-7.3 2.4 3.2 1.4-4.4 2.1 4.2 1.7 .5 1.5 9.7 1.5-1.7 1.1-1.9 1.3 3.2 1.7 .1M51.2 155.9l2.4-3 1.7 2.3 1.4-2.6 1.8 7.3 1.4-1.4 2 1 2.3 2.8 2.3 2.7 1.4 .4 1.3-3.4 1.6-1.6 1.4 1.8 1.6 0 1.9 5.1M51.2 189.5l2.3 3.2 1.5 2.8 2.3-1.8 1.5 2.7 2.4-6.8 1.9 .1 1.3-2.8 2.3 3.2 1.4-.7 1.2 2.8 1-.4 2.1-3 2 4.4 1.3-.5 2.1-1.1 1.2 1.5 1.2-2.7 1 9.7 2.2-.5 1.8 .1 2.1-6 2.4 5.2 2-.3 1.1-1.2 2.1 3.2 2-.5 1.5-6.2 1.2 .2 2.3-1.3 1.9-4.9 1.3 8.8 1.8-6.3 1.2 3 2.1 .6 1.9 5 1.3-3.9 1.3-.8 1.3 6.7M51.2 183.2l1.9 1.2 1.3-4.2 1.5 3.6 2.3-3.8 1.7 .3 1.1-1.6M51.2 186.4l1.7-1.4 2.3-7 1.2 5.1 2.3-2.1 2.3-1.4 1.8-1.8 1.2 2.2 1.2 .2 2.3 2.7 2.2-1.4 1.1 1.1 1.3-1.6 2.3 2.5M51.2 177.9l1.7 .3 1.4-1.4 1.4 2.5M51.2 151.9l1.8-4.7 2.2 6.2 1.4-8.1 1.1-2.9M51.2 191.6l2.3-1.6 1.2-.5 1.9-3 1.8 1.3 1-4.8 1.9 3.6 1.5 2.9 1.7 4.8 2.2 1.2 1.7 2 1.2 2.8 2.3-5.2M51.2 190.5l1.8 .7 1.5-.6 1.8-3.1 1.4 7.1 1.5-2.2M51.2 166.8l1.8-1 1.1-1.7 1 1.2 2.2-.5 1.3-.7 1.8-1.1 1.5 3.2 1.5-3.9 2.3 4.1M51.2 188.7l1-5.8 1.5 5.3 1.9 2.4 1.5-7 1.7 1 1.8 3.7 1.7-1.8 1.8-7.9 1.7 3.6 2 3.5 1.8-2.9 1.4-1.1 1.8-7.1 1.5 1M51.2 149.8l1.6 2.5 1.1-3 2.1 4.2 1.4 2.6 1.4-4.4 2.2 0 2.3-1.8 2-3.7 1.4 6.2 1.4-1.6 2.4-1.6 2.1 1.1 1.4 2.1 1.2-3.3 2.3 7.5 2.2-2.8 1.8-4.5 1.1 2.6 1.1 .1 1.7 4.8 2.1 3.9 1.7-2.5 2.4 6.5 2.1-1.5 1.2-4.9 1 4.9 1.7-2.7M51.2 177.7l1.6 .6 1.9-3 1.5 2.2 1.4 .4 1.9-.3 2.1-5.6 1.2 3.4 1.4 1.7 1 4.2 2.2 2.8 1.7-4.3 1.3-4.3 1.5 2.6 1 .9 2.2-2 1.1-1.4 2.2 6.1 1.9-1.3 1.8 1 1.3 1 1.5 .1 1.8 2.3 1.8 .1 1.8 4.2M51.2 192.9l1.8 1.4 1.3 1.7 1.5-1.7 2.1 2.2 1.3 4.9 1.9-6.8 1.6-1.8 1.7 3.1 1.4-2.5 2.1-1.2 1.4 3.7 1.4-9.8 2.3 1.1 2.3-3.7 1.6 .9 1.2-3.5 1.7-3.1 2.3 3.4 1.4-2.2 1.7-1.8 1.4-.6 1.2 2M51.2 180.9l1.2-2 1.9 2.3 2.3 1.8 1.3-2 1.8-3.3 1.2 3.1 1.2 1.6 1.3 1.4M51.2 169.9l2.3-3.3 1.4 3.5 1.9 7.2 2-7.6 1.5 5 1.7 .2 2 1.3 1.1 1.5 1.3-.7M51.2 191.3l1.5 3.5 1.2 .6 1.6 1.9M51.2 195.6l1.6-5.7 2.4 .6 1.7 3 1.2-.1 1.4-.8 1.3 .8 1.1 .5M51.2 152.1l1.6 4.4 1.7-2.4 1.4 7.2 1.2-4.4 1.9-.4 2.3-1.9 1.6-3.4 1.3 1.4 1.1-.6 2.4-3.5 1.1-1.6 1.1 1.1 2.3 4.4 1.9-4.4 1.3 3.5 1.4-.5 1.8 0 1.1-.8 2 5.7 1.3 1.5 1.6-.8 1.1 1.1 1.7 4.6 2.4-.8M51.2 171.2l2 3.9 1.8-4.6 1.5-2.9 2.1 1 1.8 .8 1.5 2.2 1.2-.2 1.9-1.7 1.6 5.9 1.8-3.7 1.1 1.6 1 1.1 1.1-5.6 1.5 6.8 1.5-.9 1.5-.4 2.1-3.8 1.2 1 2.1 3.9 1.6-3.2 1.2 5.4 1.8 3.7 2-5.3 2 4.1 1.2-1.7 2 .2 1.1-1.6 2 3.2 1.6-4.5 1.6-.1 1.3-3.9 1.7-3.1 2.3 .4 1.5 2.2 1.6-5.3 1.6 2.6 1.1-4.2 1.6 4.1 2-2.8 1.9 4.6 1.4 7.1 1.7-2.5 1.7 3 1.7-5.3 1.6 .7 1.5 .9M51.2 169.9l1.3-3.9 2.2 4.4 1.6-10 1.2 3.2 1.9 8.7 2.3-2.2 2.2 .8 2-1.2 1.7 1 1.9-.9 2.1-3.2M51.2 188.8l1.9-6.7 2.4 2.6 1.9 1.1 1.4-2.2 2.1 3.7 1.3-6.2 1.8-.2 1.7 .9 1.3 2.9 1.1-2.3 1.3 1 2.2 5.8 2.3-1.4 2.2-3.2 2.2 4.5 1.4 2 1.8-5.6 1.2 .8 1.8 2.2 1.2-1.8 1.1 1.1M51.2 182.3l1.7 1 2 1.9 1.2-1.6 1.6 1 1.6-2.1 1.4-3.8 1.2 10 1.6-3.6 2.4 3.7 2.1-8.1 1.1-1.8 1.1-3.8 2-.7 2.2 3.9 2.2 .9 2.3 3 1.6-3.3M51.2 168.3l1.2-7.1 2 2.4 1.4-.3 1.5 4 2 1.8 2.1-.6 2.2-4.7 1.1 5.3 1.1-6.6 2.1 4.8 2-2.4 1.5 .8 1.4 4.6 2.2-1.3 2.3 7.7 2.1-5.4 2-.4 1.4 3.3 2.3 3.3 1.4-4.6 2.2 1.3 2.2 0 2.2-4.6 1.8 2.8 2.2-2.5 2-2.6 1.4 2.3 1.2-.1 2.3-4.7 2.1 .3 1.2-5 2.3 0M51.2 173l2.2-4.3 2.2 .2 1.4 2.3M51.2 151.5l2.4 .4 1.4-1.3 2.4 4 1.9-.1 2.3 4.9 2.3 1.6 2.1 3.7 1.8-1.8 2.4 1.6M51.2 187.2l1.3 2.3 1-.5 2.2-.5 1.5-.8 1.2 .3 2-2.1 2.4-3.7M51.2 159.4l1.5 3.2 1.7 2.3 1.9 7.3 1.4-2.5 1.8 2.4 1.1-9.6 1.2-1.8 1 1.4 2.1 2 1.4 1.5 2 .2 1.6 1.4 1.5-5.2 2.4 2.1 2 3.8 1.5-.3M51.2 192.7l1.3-.7 2.2 2.2 2.3 2.1 1.1-1.1M51.2 194l1.4-2.7 1.8 3.7 1.8-3 1.5 6.5 1.5-4.5 2.2 6.3 1.4-4.9 2-.3 1.3-3.5 2.2-1.3 2.2 6.2 1-.9 1.5-2 1.7 0M51.2 182.9l1.5 4.2 1.4-4.5 1.8 4.3 1-3.2 1.1-2.4 1 3.8 1.1-5 1 1.3 1.5-2 2.4 .5M51.2 198.3l1.8-10 2.2 2.7M51.2 191.9l2.4 2.7 2.3-2.1 1.6 3.5 1.5 2.2M51.2 187.1l2-1.3 2.2 2.7 1.6 1 1.2-4.9 1.6-.6 1.9-6.1 2.2 5.6 1.9 3.3 1 3.3 2-5.9 2-2.2 2.2 2 1.8 2.6 1.8 .6 2.3 2.6 2.1 0 1.3-4.8 2.2-.8 1.5-.9 1.1 3.9 1.5-2.2 2.3 2.7 1.7-.2 1.8-3.2 1.5-4.5 1.2 2.2 1.2-.9 1.6-.2 1.9 1 1.3-.8 1.8 8.3 1.8 1.1 2.1-4.3 1.3 .7 1.8 .1 1.2 0 2.1 1.7 1.8-2.4 1.2 2.5 2.2 .8 2.3 4.1 1.1-3.5 1.9-5.3 1.4 4.2 1.3 0 1.9-3.6 2.2 6.2 2.3-.7 1.5 4.9M51.2 155.9l1.5 5 1.2-4.5 1.4 5.3 1.7-2.5 1.2-.5 2.1-1.4 2.3 .7 1.3-.6 1.4 1.8 1.7-4 1.7 3.8 1.2 .3 1.4 2.4 1.3 1.7 1.3-1.9 1.3 4 2.1-2.6 1.3-1.9 2 3.1 1.1 1.7 1.8-5.2 1.5 1.2 1.3-2.5 1.9 4 2.2 1.2 1.1 9 2.2 2.4 1.7-5M51.2 190.6l2.1 1.6 2 1.7 2 4.8 1.2-5 2.1 2.4 2.4 .3 1.5 4.8 1.1-8.2 1.1 5.9 1.9-9.8 2.1-.4 1.5 1.3 1.5-3.9 1.9 0 2.1-1.5 2.2 6.8 1.5-4.5M51.2 154.4l1.2 7.2 1.6-2.6 1.6 1.6 1.1-5.2 2 3.3 1.5 5.5 2.3-5 1.8-1.1 1 1 1.8 5 1.5-.1 1.1-5.6 1.6-1.5 2 5.8 1.1-8.2 1.5 4.2 1.9-.9 1.3-.7 2.3 5.2 1.2-3.9 2.3 2.6 1.2-1.9 1.2 1.3 2.2 .7M51.2 188.3l1.8 4.6 1 6.2 2-2 2.1 3.6 2.2 1 1.3-4.9 2.3-.6M51.2 157.9l1.6 2.7 1.2-2 1.4 3.6 2.2-2.5 1.2 .2 1.9 1.7M51.2 174.1l1.2-4 1 1.5 1.7-2 1.6-5M51.2 184.4l2 4.9 2.3-1.2 1.7 3.8 1.7-1.5 2.1 2.1 1.6-4.3 1.4 1.9 1.1-1.9 1.9 3.6 2.2-1.1 1.1-5.9 2.2-3 1.7 .8 1.3 2.2 2.1-10.1 2.3-.1 1.4 3.1 1.5-4.2 1.8 9.7 1.2-3.5 2 .5 2.1 5M51.2 196.9l1.2 .6 2.1-5.3 1.2-2 1.6 3.2 1.4-2.8 1.7-3.8 1.7 2.8M51.2 159l1.5 4.6 1.1 1.4M51.2 174.9l1.7-.5 2.3-1.4 1-2.7M51.2 179.5l2.2 2.6 2-9.6 1.1 0 1.7 6.5 1.4-1.9 2.1-.1 1.1-.3 1.6-4.9 1.4 9.7 2.4 1.3 1.7-.6 2.4-3.9 1.1 1 1.4 .3 1.6 6.4 1.7 3.3 1.4-.8 2.4-2 1.6 8.9M51.2 191.8l1.1 3.9 1.4-2.5M51.2 172.2l2.1 4 2.1 .8 2.3 2.4 2.1-5.4 1 1.2 1.2-5.3 1.5 3.8 1.9 7.2 1.1-7.4 1.7 3.6 1.8-2.3 1.7-.6 1.5-.3 1.7 3.3 1.3-4.2 1.1 .5M51.2 191.5l2.2 2.1 1.1-1.6 2.2-1.1 2.3-9.1 1.3 10.3 1.1-7.6 2 3 2.3-1.7 2.4-6 2.2 2.5 2.1-2.4 1.9-.2M51.2 167.1l2.4-1.4 1.6 1.4 1.8-6.9 1.3 6.3 1.9-5.1 2.3 3.8 1.9-.2 2.1-1 1.4 .7 1.3 3.9 1.2 .5 1.2-2.3 1.6 3.6 2.4 2.8 2.1-1.6 1.4-3.6 2.3 2 1.1-3.6M51.2 190.1l1.2-.7 1.8-2.2 1.4 .9 2.1 2.4 1.4-3.4 1.1 .4 2.1-.7 1.2 5.6 1.1-.9 1.7 0 1.6-3.5 1.7 2.1 1.3 4.5 1.1-4.1 1.9 3.7 2.3 1 1.8-3.6 1.1 1.5 1.3-6.3M51.2 165.7l2-2.4 1.1 6.4 1.6-5.7M51.2 175.5l1.7 3.1 2.1 7.6M51.2 179l2-8.3 2.2 2.1 2.2 7.2 1.6 .1 1.5-3.6 1.5 1.5 2.3-.6 2-3 1.1 2.7M51.2 162.7l2.2 3.2 1.8-.7 1.1-.7 1.7-1.1 1.5-1 1.6 3.4 1.8 1.2 1.9-.9 1.6 .7 1.4 1.9 1.5-1.7 2.2 .5 1.1 2.1 1.4-2.2 1.3-6.9 1.8 3.4 1.4 .7 2.3-2.2 2.3 2.9M51.2 181.3l1-1.3 2.1-1.5 1.5 5.4 2.1-4 2.4 4.3 1.6 2.6 1.5 4M51.2 185.6l1.4 .4 2.2-1 1.7-6.8 2.2 4.8M51.2 187.7l1.9-4.3 2.1 2.5M51.2 175.5l1.5-5.4 1.3 1.4 1.1 13.9 2.1 3.8 2.4-5 1.4 2.4 1.9-3.5 2.2-3.4 1.2-4.8 1.4 1.7 2.1 2.1 2.1-.3 1.2-2.5 1.2 .3 1.2-3.8 1.8 .8 2.3 6.3 1.6-2.9 1.8-2.4 1.7 4.8 2.3-11.6 1.3 8.7 2-4.1 1.9 3.9 1.3-7.2 1.6-.6 1.1 3.1 1.5 2.3 2.1-.1 1.7 4 2.1 3.4 1.7 1 1.1 1.4 1.3-6.1 1.3 4.8 1-.5 1.1-.2 1.3-3.3 1.6 5.5 1.9-4 2.1-4.3 1.1-.3 1.8 1.9 1.2 3.3 1.6-1.2 1.4 1.5 1.9 3.4 2-2.4 1.5-5.4 1.4 11.9M51.2 178.6l1.8 4.8 1.8-5.4 2.2 4.3 1.9-.1 2.3-1.6 1.4 3.8 2-1.1 1.6 1 1.5-4.6 1.3 2.5 1.8-1.2 1.2-3.5 1 5.8M51.2 173.7l1.1-1.6 2.2 3.4 2 1.6 1.3-.6 2.2 .4 1.9 5.4 1.8-3 1.3 3.5 2.1-7 1.8 4.2 1.5 1.6 1.2-4.6 1 1.7 1.7 3.4 2.1-1.1 2.1 1.4 1.4 .6 2.4-4.2M51.2 186.5l1.7-4.5 1.4-.1 1.9 3.7 1.3-8.7 2 8.3 1.6 .5 1.8-3.8 1.9-.2 1.9 5 1.9 0 1.6 4.3 1.4-3.2 1.5 .7 1.2-2.2 1.1-2.2 1 2.8 1.9-.6 2.4 2.2 1-4.9 1.6 .9 1.6 3.2 1.7-1.8M51.2 190.1l2.1 .4 1.6 9.1 1.3 .5 2 .3 2.1-3.7 1.8 4.4 1-3.3 1.8 2.9 2.2-6.4 2 0 2.3-1.1 1.1 3.9 1.1-3 1.3 5.9 1.6-1.4 1.4-2.9 1.3-.9 1.9 3.1 1.7-5M51.2 189.9l2.3 2 1.2-5M51.2 182.2l1-2.2 1.6-.7 1.8-4 1.5 2.2 2.4-2.6 1.3 2.9 1.3 1.1 2.2-.3 2.1 .4 1.8-1 1.8 3.3 2.1-4.1 1.4 1.1 1.8 .1 2-.6 2.4-2.4 1.9 2.5 2.2-3.2 1 .2 2.3 1.9 1.1 3.4 1.1-4.8 1.8 4.9 1-1.3 2.4-1.3 1.9 3.1 2.1 .8 1.1-1.8 2-4.7 1.2 6.9 1.9 3 2.1-.6 1.1 0 1 1.6 1.9-5.5 1.9 2.5 1.7-3.2 1.3 .3 1 3.2 2.1 .6 1.1-1.5 1.8 5.5 2.2 2.6 1.5-1.6 1.8-6.6 1.8 5.6 1.1-6.8 1.1-1.7 2 2.3 1.8 .7 1.6 3.9 1.2-3.1 2.4 3.8 2-6.3 1.1-.3M51.2 185.6l1.2 3.4 1.9-1.5 2.1-1.2 1.6 2.2 2.3-1.5 1.4 .2 2.2-3.5 1.8 1.5 1.4-2.3 1.3-.8 1.4-.6 1.3 3.2 1.6-1 1-3.1 1.5 4.4 2.2 3.1 1.3 1.6 1.3-2.5 1.6-1.4 1.4-3.6 2.1 1.9 1.1-.1 2-1.1 2.3-5 1.3 2.7 1.9 0 1.5 .2 1.4 5.9 1.1-3.8 2.3 7.4M51.2 179.7l1.4 1.9 1.1 .8 2.3 3.3 1.2 2.8 1.8 3.6 1.5-1.5 1.8 1.3 1.5-5.4 1.9 5 1.9-.9 1.8 6.1 2.2-8.4 1.6 2.1 2.3 1.4 2-2.3 2.1 .2 1.1-1.8 2.3-3.5 2.1 4 1.5-8.3 1.1 3.8 1.4 .6 1.1 1 1-.9 2 1.3 2.2 2.7 1.8-4.1 1.8 .4 1.9 3.4 1.7-10.4 1.1 4.5 2.1-1.9 2.2-3.1 1.5 2.5 2.3-4.4 2-.8M51.2 178.3l1.5-.9 1.9 2.7 1.6-1.1 1.4-1.9 1.5-3.4 1.1 8 1.2-8.3 1.2 4.6 1.7 .7 1.6 .4 1.5 .1 2.1-3.5 1.6 6.6 1.9-2.4 2.2-5.5 2 4.4 2.1-4.9 2.3 1.8 1.1-1.4 2.3-2.3 1.9-5.1 1.6 6.9 1.7 1.3 1.6-1.1 1.3-2.9 1.6-1.9 1.5 4.9 1.8 1.5 1.2-3.1 1.8 1.5 2.3-3.7 1.4 3.7M51.2 150.7l2.1-3.9 1.3 4.1 1.8-.7 2.1 3.2 1.8-3 1.6-1.8 2.1 3.1 1.5-1 2.2-1.2 2-1.1 1.6 .9 1.3 .5 1.4 .5 1.8-.5 1.5-.4 1.2-2.7 2.3 1.5 1.4 11.9 2.1-2.1 1.5-2.1 1.8-2.2 2.2-.2 1.4-1.5 1.5 .3 1.3 .8 2 2.3 1.7 3.8 2.3-2.3 1.5-2.8 2.2 4.9 1.2-.2 1.2-2 1.8-.7 2.3-2.4 2.3 4.1 1.8-1.4 1.7 5.5 2.3-.3 1.7 7.7 1.1-2.6 1-3 2.3 3.8 1.6 3.1 1.7-2.3 2.1 .9 1.8-3.8 2.2 5.7 1-.1 1.8 2.5 1.8 .7 1.3-6M51.2 183.8l1.3 11.1 1.6-8 1.8-4.4 2 2.1 1-2.5 2.3-.3 2.1-.6 2.1 2.4 1.1 1.8 1.8-3.3 2.1 1.8 2.1-1 1.8 4.7 1.6-.4 2.1-1.4 2.1-.2 2 .2 2.2-2.8M51.2 172.4l1.9 2.2 2.1-6.1 1.6 1.6 2.2-4.1 1.1-6.2 2 5.5 1.6 0 1.4 .7 1.9 2.1 1.1 .1 1.7 4.4 2.2-1.9 1.2 2.8 1.5 2.4 1.5-4.7 2.4-.4 1.9-.8 1.5-4.9 2.2 6.2 1.4 3.7 1.9-2.8 1.7 4.6 1.7-2.5 1.4-8.3 2.4-3.2 1.9 1.9 1.8-.8 2.2-2.2 2.2-1 1.1 3.8 2.2-4.6 2.2 6.1 2.2 3.2 1.6-3.1 1.1 4.1 2.2-2 1.5 2.1 2.1 3.9 2-1.1 2.3 1.6 2.1 3.8 1.5 2.6 1.7-2.2 1.1 2.9 1.1-.9M51.2 170.5l2 2.8 1.6-6.7 1.9 .1 1.6 2.4 1.9-1.2 2.3-2.8 1.4 2 2 1.7 2 1.2M51.2 159.4l1.3 2.1 2-.3 2.3 1.2 1.4-4.4 2 10.5 1.9 1.5 1.2 1.3 1.7-2 1.4 1.5 1.9 2.1 1.9-3.7 1.4 2 2.3-1.4 1.6-2.8 2 1.5M51.2 152.6l2.3-5.9 1.3 1.8 1.3-2.5 2.1 4.5 1.6-1.8 1.1-1.7 1.1-.8 1.6-3.7 2.2 .3 2 9.3 1.8-5.9 1.2 2.7 1.8 3.7 2.2 3.7 2.2-6.2 1.1 6.3 1.1 .8 1.9-3 1.8 .9M51.2 187.9l2 6.7 1.2-.3 1.2-.1 1.7-.9 2-3.6 1.7 4 1.7-2.4 1.8-.6M51.2 182.4l2.1-1.2 1.6 3.1 1.1 0 1.2 1.2 1.1 1.9 1.1-8 1.1 3.2 2-1.4 2-4 1.2 5.1 1.7-4.9 2 5 1.5-1.4 2.3-1.8M51.2 165.9l1.4-1.6 1.3-1.1 2.1 1.1 1.4-5.2 2.2 1.1 2.3 .2 2-2.8 2.4 2.8 1.1-3.8 1.4 1.4 1.8 1.4 2.2 5.4 1.4-7.4 1.1 8.5M51.2 170.7l1.7-.8 1.8 4.4M51.2 165.2l1.3 6.4 2.3-2 1.4-2.5 1.2 2.6 2.2 3.4 1.4 5.2 1 .4 2.3 4.8 1.5-2.6 1.7 2.4 1.2 6.4M51.2 157.2l2 2.8 2.3 .4 1.8-2 1.2 2.2 1.1-1.7 2.2 2.6 2.3-1.3 2.1 .5 1.7 3.2 2.4-2.5 2.1 3.9 1.9-.8 2.1 4.4 1.3 3.5 1.8-2 2.4-1.6M51.2 158.5l2.3 3.9 2.1 2.8 2.3-4 2 2.9 1.9 2.4 2.2 .3 1.1 .8 1.9 2.5 1.9-2.3 1.7 3.9 1.3-.3 2.3-2 2 4.7M51.2 175.2l1.7 5.4 1.8-3.8 1.3 2.7 2.1 1.5 1.3 .3 1-3.4 1.4 1M51.2 198.1l2.2-6.3 1.5 3.9M51.2 165.3l2.1 1.1 2.3-5.4 1.6 .2 1.5-5.7 1.2 2.1 1.4 2.4 2.3 1.9 2.2 1.3 1.4-3.5 1.8 3.5 1.8 3.8 1.9 .5 1.8 4.4 1.1 .7 1.5-.1 2.3 9.1 1.8-4.7 1.1 2.2 1.7 .1 1.8-2 2.2 5.3 1.8 5.1 1.4-8.1 2.3-1.6 2.2 3.2 1.8-5.4 2.3 5.8 1.1-.7 2.1-4.7 1.5 2.7 2.1 .5 1.5 4.6 1.1 2.6 2-10.3 1.2 3.4 1.4-4.5 1.8 0 1.5 7.9 1.7 3.1 1.1-.3M51.2 185.3l2.3 5.1 1.8-5.3 2.2 3.7 1.9 4.2 1.6-8.1 2.3-.5 1.4-2.4 1.2 7.1 1.3-3.9 1.5 3.9 1.8-6.9 1.8 1.7 1.7-.1 1.5 0 1.7 1.9 1.7 5 1.1-.4 1.2-2.9 2.2-.3 1.9-6.3 1.4 .7 2.3-.5 2.2-1.2 2.2-1.5 1.5 0 1.8 4.3 2.2 0 2.3-.4 1.8 6.3 2.1-1.2 1.2-2.5 2-7.1 1.7 5.4 2.3-1.4 2-3.5 1.2 6.1 1.5-6.9 1.9 2.5 2.1 5 1.7 .5 1.5-.7 1.1-.1 1.2-6.4 2 1.3 1.5 2.1 1.7-.3 1.2 3.9 1.8 2 2.1-3.2 1 2.7 2.1 3.7 2.2-4.6 1.3 7.9 2.2-4.3 2.3-1.9 1.8 9.3 1.8-8.1 1.9 7 1.5 2.8 1.1-2.1 1.9 1.7 1.3-.6 1.2-2.5 2.2 .3 1.9 .2 2.3-.8 1.8 3.1 2.4-4.3 1.7-1.2 2.1 3.8 1.2 .8 1.3-6.6 2.1 3.9 1.8 2.4M51.2 157.6l2 4.4 1.1-1 2.3 5.5 1.3-3 2.3 5.2 1.4-5.4 1.7 9.7 1.4-8.7 1.4 3 2.3 1.1 2.2 3.3 2.1-.4 1.2-4.9 1.6-.3 1.6 .1 1.7-1.6M51.2 174.7l1.5 1.5 2.1 1.4 1.5 1.8 1.9 6.9 2.4-9.2 2.3 1.8 1.8 3 2.4-3.5 1.2-1.1 1.5 6.6 2.2 2.5 1.6-5.4 1.2 2.1 1.5-7.5 2 2.8 1.8 2.1 1.4 .1 1.6-1.2 1.6 .9 2.2-1.1 1.1-.3 2.2 1.4 1.5 1.3 2.3-6.4 1.5 12 1.3-11.3 1.2-1.3 1.2 1.6 2-4.1 2.2 7.2 2.2-6.6 1.5 .8 2.1 1.2 1.2 .5 1.6 .1 1 2.5 1.1-3.5M51.2 158.5l1.7 8.6 1.2-.8 2 .6 1.1 1.6 1.2 3.5 1.4-1.1 1.7 2.3 1.6-.5 2.3-1.2 2 5 2.2-3.4 1.3 8.2 1.6-7 1.8 1 1.1 .8 1.7-1.3 1.4-.1 1.2-4.1 1.3 2.1 2.1-2.8 1.9 5 1.4 1.6M51.2 197.2l2.1 .7 2.3-.7 1.2-4.8 1.8 2.6 2.1-.7 1.6 4.1 1.4-6.8 1.4 .7 2.2 1.3 1.4-.9 1.2-3.3 1.2 2.4 2.1 1.7 1.6-2.1 1.4-1.6 2.2 2.2 1.8-4.7 2.1 3.6 1.9-2.7 1.3-.9 1.4-1.3 1.8 3.4 1 .9 1.8 .2 1.1 .2 1.8-.7 1.8-3.4 1.8 8.8 1.1-2.7 2.1 2.3 1.4-6.3 2.1 .9 1.2 3.8 1.9-5 2.1 5 1.4-3.4 2.4-1.7 1.7 3.7 2.3-.9 1.8-4.1 1.8-.6 1.4 .1 1.7 2.9 2.3-2.6 1.2-2 1.8 1.2 1.5-1.1 1.2-2.2 2.1 5.3 1.4-.7 1.3-.1 1.9-5.6 1.6 .9 1.1 1.4 2.4-6.2 1.8 3.4 1-1.3 1.8-.7 1.3-1.4 2.3 1.7 1.9-4.3 1.4 .9 2.4 6.9M51.2 166.2l1.6-3 1.1-.2 2.4-3.2 2.1 2.1 2-.3 1.5-3.7 1.2 2 1.5 1.5 1.2 3.4 1.6 .6 1-2.2 1.2 5.1 1.4 .9 1.5 1.3 1.4-.5 2.1 3.4 1-.7 2.1 .6 1.7 4.2M51.2 168.1l1.6 2 1.3-5 1.4-2.5 2.2-.4 1.8 2.8 1.3 .2 2.3 3.1 1.4 0 1.4-.8 2.1-.4 1.8 4.6 1.8 4.6 1.4-2.1 1.9-3.1 1.1-2.1 1.6 3.1 2.3-4.6 1.7 4.7 2.1-.8M51.2 180.9l1.4 3.7 1.2 2.5 1.3 1.8 1.7-3.1 2.3 4.9 1.8-.2 2.3-7.8 1.5 5.1 2.3-.5 2.2-.5 2.1-2.6 2-2.9M51.2 156.2l2-.1 2.3-4.4 1.9 7.7 1.8 2.4 1.8-6.1 1.1 1 2.2-2.6 1.6 6.2 2.2 6.2M51.2 196l1.7-.3 2-3.3 1.8 4.2 1.2-1.6M51.2 187.2l1.5 6.8 2.1-3.5 1.4-1.4 2.2 1.9 1.2-2 1.2-3.1 1.8 1.3M51.2 168.2l1.4-.1 2.3 1.3 2-5.1 1.6 4.5 1.9 5.2 1.4 2 2.3-.2 1.7 2.6 1.4-3.6 2.3 .1 1.2 4.1 1.3 5.8 2.4-3.6 1.7-.1 1.9 3.3 1.6-4.6 1.1 6.7 1.1-3.4 1.5 2.7 1.6-5.3 1.8 1.7 1.2-.6 1.6-4.7M51.2 180.5l1.8-3.1 1.8 3.9 1.2-2.1 1 1.6 1.8-1.9 1.6 5 2.1-2.2 2.3 .3M51.2 163.8l2.3-1 1.2 .2 1.1 7.2 1.4-6.5 2.1 5.6 1.7-4.4 2.1 3.6 1.4-6.5 1.3 11.4 1.2-3.6 2 .5 1.9 1.2 2.1 6 1.7-.2 1.2 .1 1.3-4 1.2-1.2M51.2 161.5l2.2-1.1 1.3 2 2.1 3.5 2.1-1.2 1.9 2.9 1.4 2.2 2.4 .2 2.2 2.9 1.9-10 1.6 2.8 1.3-5 1.4 3 1.1 .4 1.9-4.2 1.8 3.3M51.2 162.2l1.3 2.6 1.9-3.9 1.9 .5 1.1 5.1 1.5-1.9 2.4-1.2 2.1 1.9 2.3 4.5 2.4 2.7 2.3-8.2 1.3 2.9 1.4-1.9 1.9 9.4 1.2-2.5 2.4-2.2 1.4 1.9 2.1-3.7 1.6 4.5 1.6-4.2 1.9 0 1.3 2.5M51.2 188l1.5 3.4 2.3-4.6 1.3-.3 1.9-2.4 1.2-.6 2 .7 1.4 3.3 2.1 2.2 1.3 .3 1 4.3 1.5-1.1 1.8 1.2 1.9 1.5 1.2-.1 1 3.5 1.1 2.6 2.4-4.1 1.3 3.5 1.6-1 2.3-12.3 1.5 .1 1.3-1.3 1.8 5.3 1.4-4.5 1.1 1.3 2-5.3M51.2 149.1l1.2 5.2 2-3.1 1.2 1.9 1.4-2.5 2.2 4.7 2 3.4 1.1-6.6 1.1 1.4 1.6 7.7 1.7-5.3 1.9 3.9 1.7-1.8 2.3 4.7 1.2-8.6 1.6 7 1.1-1.5 1.4-.5 2-.9 1.5 .3 2.3-.3 1.7 1.8 2.1 1.2 1.4 4.2 1.4 4.6 1.9-4.9 1.5 2.9 1.2 5.1 1.5-3.9 2.2 3.4 2-3.9 1.2 4.7 1.4-1.8 1.5 2.6 1.8-6.1 1.9 2.1 1.8 0 1.8-3.1 1.9 6.9 2.3-6.4 2-2.6 1.7-2.9 1.5 3 1.9 3.7 2.3-.6 1.7-4.1 1.6 3.2 1.5-4 1.4 3.6 1.2 3.7 1.5-6.4 1.8 2.6M51.2 161.9l2.4 1.5 1.6-5.6 2.4 .6 1.6 1.7 1.3 2.1 1.4-3.3 2.1-2.8 2.2 2.8 1.5-.7 1 1.8 1.3-7 2 1.9M51.2 174.6l1.5-1.3 2.1-.8 1.9 6.7 2-4.7 2.3 2.9 1.2-5.2 2.3 3.2 1.3-1.2 1.8 2.2 1.7-.9 1.5-2 2.1 4.8 1.5-7 1 3.2 2 2.4 2.2 1.1 1.2-5.3 1.4 3.7 2.2 4.8 1.2 4.9 1.7-5.6 1.5 .9 1.1 5.4M51.2 178.4l2.2-5.7 1.9 10.6 1.8-8.5 1.5 4.7 1.8-2.6 1.3 6.7 2.3-4.8 1.1 2.9M51.2 160.3l2 5.4 2.3-1.5 2.1 1.3 1.5 .7 1.1 2.9 1.6-1.6 2 2.6 1.4-6.9 1.6 1.8 1.8-.6M51.2 187.5l1.6-.8 1.6-6.6 1.1-3.4 2.1 6.4 1.4-4.8 1.2 2.3M51.2 181.7l1.8-7.2 1.9 3.1 1.3 3.5 1.8-.4 1.6 .2 1.5-6.2 1.7 2.7 2.1 3.9 1.6 4.4 1.7-3.2 1.5 4.4 1-.9 1.8 .4 1.5-2.1 1.9 0 2.4 .2 2.3-2.6M51.2 157.6l1.5 3.9 2 3.8 1.4-3.6 1.8 1.9 1.9-9.3 2 3.6 1.4 .4 1.9 3.5 2.1 3.7 2.2-6.3 2.3 6.9 1.9 3.4 2.3-5 1 3.1 1.4 4.5 2.1-5 1 1.5 1.4-4.1 1.4-.1 1.2 3.9 1.3-2.9 1.9 6 1.9-2.9 2.1 10.3 1.4-1.9 2.1-3 1.6 .2 1.7 .2 1.7-.4 1.7-1.3 1.1-.5 1.3-1.4M51.2 178.2l2.2 3.2 1.3-4.6 2.3 2 1.4-6.5 1.9 .2 1.3-.6 1.2 4 1.6-5.7 2.2 4 2.1 7.2 1.7 .3 1.1-2.9 2.2-.5 1 2.5 1.2 .4 1.2 6.2 1.7-1.6 1.6 3 1 1.7 2.2-.1M51.2 188.5l1.3 7.2 1-2.1 1.8 3.4 1.8-1.3 1 1 1.5-9.1M51.2 185.6l1.8-3.6 1.6 .7 1.3 4.5 1.8 1.1 1.5-.5 2 .4 1.3-1.3 2.2 2.1 1.7 4.4 2.2 3.4 2.2-5.8 1.3-2.6 1.6 6.1M51.2 181.9l2.1-4.7 2 5.2 1.2 5.3M51.2 197.4l1.3-.4 1.1-1.9 1.4 1.6 1.9-.8 1.2-.1 2.3 3.6 2.2-3M51.2 179.6l2.3-.5 1.2-9.2 1.5 1.5 1.3 1.2 1.9-4.9 1.9 3.1 2.2 2.8 1.6 1.9 1.4-3.9 1.7-.1 1.8 1.2 1-3.5 2.2-1.4 1 6.2 1.2-3.2 2 4.5 1.6 0 1.4-2 1.3-2.7 1.7 6.6 2.3 0 2.4 0 2.2-.7 1.5 .9 1.2-2.1 1.7 .5 1.6 4.2 1.6 4 1.4-3.4 2.2-1.3 2 3.4 1.9-2.4 1.8 2.2 2.1 1.7M51.2 182.8l2.3-7.3 1.2 2.3 2-4.4M51.2 182.5l1.3-2.5 1.4 3.9 1.9-2.3 1.8-2.6 1.4 3.7 1.7-2 2.3-2.9 1.8-3.2 1.9 3.6 1.3 .7 1.2 .4 1.2-.6M51.2 160.2l2.2-.1 1.2-4.1M51.2 165l2.1 3 1.8 2.5 1.1 .3 1.4 .3 1.9 5.1 2.3 1.3M51.2 192.3l2.2-2.5 1.5-4.8 2.1-1.4 1.3 4.5 1.9-5.5 1.5 4.4 1-2.8 1.4-3.4 1.9-.8 1.8-.3 1.6 1.9M51.2 165.1l1.8 3.8 1.1-6.2 1.1 9.9 1-1.5 2.3 3.7 1.8 .9 2.1-3.3 2.2 4.4 2-2.6 1.9 4.9 1.4-2.6 1.7 2.7 1.3 1.8 2.3-.5 1.5 3M51.2 167.8l1.8-3.6 1.1 6.6 1.4-2.8 2.2 2 1.7 .2 2.1-3.1 1.1 1.1 1.2-3.8 2.1 6.5 2.3 1.9 1.8-1 2 4.6 2.3 1.4 2.2 3 1.8 4.8 1.2-2.1 1.9 6.9 1.5-7.7 1.4 .2 1.2 2 1.9 2.2 2.2-6.6 1.7 2.4 1.8-6.2 1.2-1.6 1.4 3 1.3-2.8 1.5 2.2 1.7-4.4 2.2 1.2 1.8 1.8 1.2-2.9 1.4 1.5 1.3-6.9 2.1 2.2 1.4-1.6 1.4-1.6 1.2-.1 1.8 .1 2.1 2.7 1.5 .9 1.2 3.3 2.4 0 1.7-3 1.1-3.9 2.1-.1 2.2 .9 1.2-1.8 1.5-3 1.8 7.5 1.6 .5 1.4 5.9 1.6-.1 2.1 0 1.8-3.5 2 4.6 2.3-1.7 1.7 7.2 1.4-.5 1.6-1.8 1.6 7.2 1.5-2.2 2.1-4.1 1.3 1.6 2.1-.1M51.2 180.2l2.2 .8 1.4 5.7 2.2-4.5 1.1 5.3 1.2 0 2 5 2 1.2 1.3 1.1 1.3-.3 2-6.1 1.1-2.2 1.6-1 2.2 4.1 1.6-1.6 2.1 8.1 2.2-1.4 1.2 2.3 2.3-.5 1.5-3.3 1.5 1.4 2-2 1.6 5.7 2.1-3.4 1.5 1.3 2.2 1.1 1.5-5.2 2.1 3 1.9-4 2 .3 1.4-1.7 1.9-.3 1-.7 2-2 1.5 0 1.1 1.3 1.3-.7 1-3.9 1.4 2.3 1-3.2 1.9 1.6 2 .5 1.2-5.7 1.3 5.6 2.2-3.4 1.9 5.9 1.1-4.6 1.8 1.3 2.3 1.9 2-6.5 1.9 4.5 2.3-2.8 1.5 4.6 1.5-4.3 1.5 4.5 2-1.7 1-2.5 2.1 2.8 1.3-3.5 2 3.5 1.7 1 1.6-2 2.2 3.7M51.2 169.6l2.1 .8 1.8-.4 2.2 .5 2.2-4.5 1.7 3.5 2.3-4 1.8 4.9 1.3-6.7 1.1 5.7 1.5-.4 2.1 3.3 1.5-6.1 1.4 3.9 1.7-2.4 1.8 3 1.1-.3 1.9-2.2 2.1 3.1 1.4-1.3 1 4.8 1.7 .8 1.6-2.2 1.7 1.8 2.1-7.1 1.5 3.6 1.1-5.6 1.2 3.6 1.2-3.6 2.3 3.3 2.1-4.3 1.7 4.9 1.9 1.6 1.4 6.5 1-8.9 1.6 6.1 2.4-3.1 1.6 1.1 1.9 .3 1.7 1.1 1.6-2.6 2.4 .9 2.2 6.1M51.2 161.6l1.8-1.7 1.7 6.3 2.3-2.6 1.4 6.8 1.3-3.5 2-1.8 1.3 6.9 1.3-1.6 1.2-1.3 1.3 .8 1.5 4.8 1.4-6.9M51.2 186.1l2 3.1 1.8-.6 2.2 2.2 1.9-2.9 1.5 2.1 2-3.1 1.9-3.5 1.8-5.1 1.5 3.2 2.1 2.6 1.7-.9 1.6 0 1.5-8.3 2.2 .6 2.3 2.9 1.5-2.9 1.6 .4 1.1-1.9M51.2 175.5l2.2 2.6 1.5 3.2 1.3-4.3 2-10.9M51.2 159.7l2.3 5.3 1.2-1.5 1.5-2 1.7 .6 2.4-1.1 2.1-.5 2.3 1.9 1.8-.4 1.6-7.1 1.1 2.6 1.5 3.3 1.9 3.1 1.6-2.3 1.9 4.6 1.7 3.8 1.1 1.9 1.2-1.5 1.5 2.5 1.4 1.4 1.2-2.6 1 6.9 1.3-3.6 1.3 1.3 1.1 5.1 1.1-5 1.2 7.3M51.2 162.1l1.2 2.6 2.1 4.1 1.1 1.7 2.4 .8 2.3 .7 1.1-4.1 1.8 .5 1.8 1 1.6-7.1 1.6 .4 2.1 .2 1.7-2.1 1.4-4.1 2.2 5.5 1.8 1.2M51.2 199.7l1.8 .4 1.7-2.4 1.2 3.2 2.2-.6 1.1-1.9 1.9-2.2 2-2.8 1.5-4.5 2.2 6.5 2.3 0 1.7 2.2 1.8-4.7 1.4 5.8 1.9 2.5 1.4-.4 1.8-3.6 1 .9 1.6-1.5 1.1-3.7 1.8 2.3 1.6-3.4M51.2 160.6l2.3 2 1.9 5.1 1.2 1.5 1.9 1.6 1.1 .2 1.1 2.7 1.9-4.4 1.2 3 1.5-2.2 1.4-1.7 2.3 8.9 1.5-3.9 1.3 1.2 1.1 4.3 1.8-.8 1.3-2.1M51.2 165l1.6-5.1 1.8 1.4 1.1 3.6 2-7.8M51.2 189l2-.1 2 .2 2 .1M51.2 175.4l1.4-3.5 2.3 4.4 2-5.5 1.9 1.2 2.1 .6 1.9 5.3 2.2-.7 1.7 4.5 1.1-1.5 1.8 3.7 2.2 2.5 1.3 4 1.8-8 2.1 4.4 2 2.1M51.2 186.1l1.7 8.2 1.6-8.7 1.5 1.1M51.2 165.4l1.2 4.4 1.9-2.1 1.8-.3 1.5 5.5 1.1-2.1 2.3 9.3 1.4-8.8 2.1 2.5 1.9-3.2 2.2 2.5 1.7 4 1.7-4.8 2.1 0 1.6-3.8 2.2 6.3 1.7-4.2 1.6 2.4M51.2 161.5l2.4 2.9 1.2 .6 1.3 6.1 1.8 2.3 2.1 .4 1.4 6.8 1.9-9.6 1.8 3.7 1.9-1.5 1.8 4.8 1.7-5.4 1 5.1 2.1-1.1 1.1 .8 1.3 3.9 1.4-9.4 2.3 .8 1.7 4.2 1.7-3.3 1 .1 1.7 4.8 1.7-1.9 1.3 2.2 2.3-2.8 2 4.5 1.3-7.6 1.1 3 1.7-1.2 2.2-1.1 2 5.8 1.1-8.3 1.1 .4 1 .4 1.4 4.5 1.5-.7 1.8-1.8 2-3 1.8 2.5 2.2-4.3 1.6 3.7M51.2 179.9l1.6 7.1 1.7-7.6 1.3 9.4M51.2 151.3l1.9-6.7 1.7-1.2 1.7 4.8 1-1.1 2.2 1.8 2.2 1 1.7 3.6 1.3-.4 1.4-4.4 2 3.1 1.8 1.3 2.2-1.3 2.4 1.1 2-.2 1 .5 1.2-3.9 1.2-.2 1.5 .8 2.2 1.3 1.7-.2 1.3 2.3 1 9.3 1.9-1.6 2.3 2.4 1.5 3.8 1.6-2.1 2.2 5.8 2.3-1.2 1.6 2.1 1.9 1.9 1.8-.8 2.2-4.1 1.9 3.9 1.3-1.3 1.9 1.9 1.4-5 2.2 .4 1.1-2.8 1.7-4.6 2.3 6.8 2.4 .3 1.2-2.4M51.2 185.5l1.3 2.2 1.8 .8 1.5-3.6 2.2 1.6 1.1 3.5 1.7-4.4 1.4 .6 1.2-.5 1.5 5.2 1.9 2.8 2.3-3.5 2.1-.1 1.3 2.7 1.7-1.8 1.6 1.6 1.2-.7 1.1-.8 1.5 4 2.4 1.3 2.2 .8 2-2.7 1.5 2.4 2.2 3.6 1.7 .9 1.2 1.2 1.9 .4 1.2-4 1.4 2.7 1.7-6.6 1.8-2.1 1.2-2.8 1.2 1.2 1.1-.3 1.8-5.5 1.4-1.6 2.4 2.1 1.1-1.8 1.2 2.2M51.2 161.5l1.2 .2 2.4 2.4 1.5 7.6 1.9 1.8 1.7 2.6 1 1.4 2.2 2.4 1.8 3.4 1.4-6.2 1.3 5.5 1.5-8.2 1.7 5.1 1.3-2.9 1.2-6.5 1.6 5.7 2.3-1.6 2 .9 2.1 .1 2.4 .4 2.1-1.3 1.2 3.9 1.7-5 1.7 1.8 1.9-.5 1.3-1.1 1.4-3.5 1.2 2.6 2 2.6 1.6-5 2 4.5 1.5 1.3 1.9 .6 1.9 4.1 2.1-.3 1.9 1.7 1.4-1.8 2 5.4 2.1-6.1 1.8 5M51.2 164l2.1-4.4 1.8 2 2.1-3.8 1 3.9 2-2.4 1.5-4.4 1.3 1.6 1.2 6.3 2.2 1.5 1.8-3.6 1.7 5.1 1.9 3.3 2.4 1.1M51.2 167.3l1.3 0 1.6 3.3 2.2 2.1 2.3-1.2 1.9-.4 2.1 3.2M51.2 199.3l1.2-3.2 1.7 .6 1.3-.9 2.2 .5 2.3 .9 1.1-6.2 2.1-3.3 1.3 2.4 1.5-2.9 2.3 .3 1.5 .9 1.8 .3M51.2 175.1l1.5-1.6 1.7 6.6 1.5-.3 2.2-2.3 1.6 .7 1.3-1.2 1-.2 2.3-3.5 1.8-.7M51.2 163.8l2.3 2.9 2 2.9 2-7.5 1.2 2.1 2.3 4M51.2 169.4l1.7-1.4 1.8-.7 1.3 1.7 1.9-5 2.2 3.1 2.3 2.6 2.3-.7 1.9-4.5 1.7 4.9 2.4-5.6 1.9 3.9 1.9 3.9 1.2 .1 2.2 8.6 2-2.7 2.2-.6 2.4 2.5 1.1 .8 1.8-2 1.5-2.6 1.9 6.9 2.3-6.6 1.7 1.3 1.6-3M51.2 187.5l1.5 4.1 1.4-1.9 1.9-2.6 2-2.7 2-.7 1.5 1.2 1.4-9.2 1.8 2.3 2.1 0 2.4 6.9 1.4-.2 2.3-1.3 1.8 2.3M51.2 163.4l1 7.1 1.3-1.9 1.2-1 1.6 3.2 2.1-1.6 1.8 2.1 2.3 2.9 1.2-3.2 1.2 1.3 2-1.9 2.4 5 1.4-3.4 1.9 4 1.4 3.1 1.1-3.4 1.8-4.8 1.2 .9 1.8 5.5 1.6-5.8 1.8 3.3 2-1.8 2.2 1.5 1.4-3.2 2.1 5.3 2.2-3.9 1.7 .9 1.8-.8 1.5-.7 2.2 2.8 1.2-7.9 1.2 4.9 2.1-2.6 2.2-.1 2 3.6 1.7-10 1.3 5 2.2-4.6 1.5 1.1 1.7-5.1 1.2 5.8 2-3.1 1.4 2.8 1.8 .5 1.1 1.2 2-.4 1.9 .1 1.5-1.2M51.2 166.6l1.2 5.8 1.4-4.5 1.4 1.6 1.7 7.1 1.5 1.7M51.2 163.7l2-6.4 1.7 5.8 2.3-6.7 2-.5 2 .4 1.8 .7 2.1-1.1 1.2-5.1 1.1 2.5M51.2 151.2l1.9-8.4 1.5 .6 1.6 2.2 2.3 3.7 2.1-5.2 1.3 5.9 1.8-2.1 1.7 .1 1.7-1.5 2 1.7 1.8 4.1 1 3 1.9 0 2 1.9 2.3-1.3 2.1 0 2 4.7 2-4.6 1.7 7.2 1.1-.3 1.7-.5 2.4-1.3M51.2 178.7l2.2 4.8 1.3-.2 1.7 3.5 2 2.1 1.3-2.7 1.7-1.4 1.5-2.4 2.1-4.4 1.8-2.1 1.1 4.6 2-2.6 1.8-1.1 1.8-3.1 1.2 4.3 1.9 2.1 1.5-3.9 2.2 4.1 2.2-2.2 1.6 2.4 1.3-1.3 2.2-6.9 1.1 6.8 1.4 2.5 2.2-.7 1.8-.3 1 1.6 2.2 .3 1.6-.5 1.7-3 1.4 8.6 1.8-4 2.3 2.4 1.4-5 1.6 3.2 1.9 3.6 1.6-1.6 1.1 1.3M51.2 191l1.5 1.3 2.2-2.7 1.3 6.1 2-3.4 1.5-6.7 1.3 5.8 1.2 2.2 1.1-1.9 1.9 3.4 1.3-5.6 1.2 4.6 2.2-3.6 2.1 1.9 1.9-.6 1.7-4.3 2 3.3 2-2.9 1.9 2.4 2.4-4.8 2.3 2.9 2.3 6.3M51.2 187l2.2 .4 1 4 1.7-3.5 2.2-6.3 1.3-.9 1.7-4.9 1.7 1.6 1.6 1.3 1.9 2.4 2.2-4.6M51.2 198.3l1.5 .3 2.4-1.5 1.7-1.5 2 1.6 1.3 1.5 1.2-2.2 1.2 2 1.5-1.4 1.7 .6 1.2 2 1.9-2.5 1.9-4.1M51.2 181.7l1.7-10.7 1.1 2.7 2.3 8.2 1.3-1.1 2-1.8 1.2 .5 1.3 4.2 1.7-2.9 1.1 4.3 2-8.2 2.4 2.7 1-.7 2.3-1.9M51.2 167.8l2.2-.4 1.2-4.7 1.1-1.8M51.2 193.8l2 2.3 1.4-2.6 2.4-2 1.2-1.1 1.5-3.8 1.4 1.4 2.3 .4 2.1-4.4 2.1 5.9 2-4.2 2 9.8 1.4-1.4 1.6 1.1 1.1 2.2 1.9-1.6 1.8 2 1.9-.1 1.9-.7 2.3-2 2 1.4 2.3-1.9 2-1.7 1.7 4.4 2-2.5M51.2 192.9l2.2 3.1 1.7-3.1 1.4-1.1M51.2 158.4l2 5.6 1.2-5.5 2.2-4.4 1.7 5.6 2.3 2.6 1.8 6.4 2.2-6.4 1.9 3.3 1.3-2.8 2.1 .4 1.7 5.2 1.6-7.3 2.2 .1 2.2 2.6 1.2-1M51.2 177.1l1.9-4.8 1.9-.5 2.3 .6 2.3 3.3 1.5 .9 2.2-4.5 2.3 5.9M51.2 157.1l1.7 5.5 2-6 1.5-2M51.2 150.2l2.1 2.2 1.7-1.2M51.2 192.6l1.9 .4 1.2 .5 1.4-1.7 2-1.5 1.2-4.8 1.4 2.6 2.3 1 1.5-2.2 1.7 1.8 2.1-4.3 1.9-2.1 1.9 .7 1.1 4.8 1.6 1.1 1.7 .5M51.2 149.3l2.2-1.5 1.8-3.4 1.3 6.5 2.1 .1 2.1 .3 2.3 2.1 1.6 2.6 2.1-5.6M51.2 153.4l1.2 5.3 1.9-3.8 2.3-2.2 2.2 0 1.3 2.8 1.8 1.9 2.2-3.6M51.2 199.4l2.1 .4 1.3-1.1 2.1-1.3 2.1-5.2 1.9 4.1 1.9-.1 1.2 4 1-.3 1.9-3 1.8-4.8 1.8-2 1.3-1.7 2.3-.5 2.2-2.2 2-3.3 1.2 2.8M51.2 178.5l1.8 1.5 1.9 .1 1.5 1.6 1.4 1.2 1.3-2.1 2.3 4.6 1.6-.1 1.3-1.3 2.2-1.9 1.8-3.4 1.7 7.5 1.5 1 1.8-6.3 1.3 11.6 1.1-7.7 1.1-8M51.2 173.8l1.9 1.3 1.6-2.2 1.1-.5 1.4-.6 1.8 1.5 2 2.1 1.2 1.8M51.2 162.3l1 0 2.1-3.2 2 4 2 1.9M51.2 181.9l1.6 5.6 1.7-2 2.1 .7 1.7 2M51.2 161l1.9 2.5 1.5 2.9 2-5.4 1.1 6.1 1.3-3.1 1.7-.5 1.2 2.8 1.5 .3 1.8-4.9 1.4 5.8 1.6-6.3 2.4 2.7 1.1 2.1 2.2-.8 1.3-.6 1.9 1 1.6 .6 1.5 1.6 2.1-1.5 1.5 .6 1.9-1.9 1.7 6.3 1.4-5.4 1.6 .9 1.4 3.3 1.5-7.3 2.2 8.3 1.7 1.9 2.4-1.1 2.2 2.1 1 2.7 1.9-2.3 1.3-.1 1.7 7 1.3-3.5 1-1.1M51.2 162.1l2.3 2.5 1.6 2.7 2.4-4.3 1.7-.2 1.1 2.9 1.3-.5 1.4-1.3 2.3 1.2 1.1-1.6 2.1 1.4 1 1.8 1.3-1.1 1.9-1.2 1.2 1.6 1.6 1.3 2 1.1 1.6-3.4 1.8 6.9 1.6-8.2 1.7 1.6 1.5-1.6M51.2 153.6l1.2 2.8 1 .9M51.2 153.3l1.4-7.1 1.6 3.4 2-4.3 1.1 2.3 1.7 7.6 2.1-2.1 2.2 1.2M51.2 176.7l1.2 4.9 1 2.8 2.3-6.2 1.2 .6 2.2 8.2 1.9 3.7M51.2 172.3l1.5 .5 1.2 1.9 2.3 .3 2.1 .9 1.8-4.1 2 2.9 1-2.3 2.4 .9 1 4.4 2.1-9.4 2 5.5 1.1-4.8 2.3 1.6 1.1 4.6 1-4 1.7 5.2 1.5-4.2 1.3 3.8 1.9-.4 1.1-3.9 1.8 4.6 2-1.3 1.6 2.6 1.8-3 1.7-.6 1.2-2.8 1.1 .7 1.2 10.3 2 1.9 1.6 .5 1.6 2.8 2.3 3.4 1.8 4.2 1.4 .7 1.2-4.4 1.2-2.2 1.9 2.4 1.7 1 1.3 .5 1.6-5.4 1.3 2.6 1.9 1 1.9 .4 1.5-1.3 2 .7 2-3.9 1.7 3.5 1 2M51.2 152.6l1.7-1.5 1.6 2.1M51.2 160.5l2.3-2.4 1.1 1.1 1.6-3 2.3 .9 2.2 5.4 2 2.1 2.3-1.9 1.8-.2 1.2 5.3 1.3-.7 1.5 5.9 2.2-1.6 1.3-6.4 1.3 2.2 2.1-.3 2 4.5 1.5-.8 1.9-1.9 2.1 4 2.4-5.8 1.6 3 1.9-2.8 1.6 4 2.2-3.5 1.6 3.1 1.5-1.6M51.2 175.6l1.5-1.8 2.1 2.9M51.2 161.7l1.6 5.3 1.5-2.3 1.1-4.6 2.1 3.4 1.4 .2 1.4 2.4 1.4 5.2 2-2.9 1.8 5.9 1.7-1.7 1.4 1.9M51.2 171.5l1.9-1.9 2.1 1M51.2 182.5l2.1-3 1.8-.8 2.3-1.5 2.2 1.3 2 4.5 1.8 5.4 1.4-4.6 1.3-4 2.3 3.2 1.6 4.2 1.9-3.7 2.1 1.7 1.8-1.3 1.1 .9 1.9-3.2 1.8 .9 2.2-6.9 1.6 2 2.1 2.7 1.1-3.4 2.4-.6 2.1-6.5 1.4 6 1.6 .8 1.1-6.3 2.2 7.4 2.1-2.5M51.2 165.6l1.3-5.6 1.7 6.9 1.6 3.3 2.2-.8 1.4 2.9 1.5-5.2 2.2 .5 2 3 2.2 4.7 2-2.7 1.1 3.4 1.7 .1 1.9-1.3 2 1 2.2-5.7 1.8 8.9M51.2 196.8l2.2-3.4 2 3.3 1.7-3.6 2.2 7.2 2.2-3.4 1.9 3.2 1.9 .4 1.5-1.1M51.2 161.9l1.8 4.7 2.3-2.6 2-3.2 1.1 2.3 2.3 1.1 1.8 1M51.2 159.4l1.7-3.4 1.8 4.7 1.9-2.5 2.1 5 1.3-4.2M51.2 157.6l1.5 0 1.5-.6 1.1-4 1.2-1.5 1.1 3.2 1.5-2.2 1.5 1.8 1.7 1.6 1.4-3.2 1.1 7.7 1.3 2.7 1.2-7.1 1.5 1.9 1 8.7 2.3-1.8 1.5 3.1 1.7 0 2.1-.6 1.2 .3 1.5-3.7 1.3 7.3M51.2 183.6l2 .2 1.3-1.3 2-4.9 1 3.3 1.7 4.9 2.2-2 1.9-2.7 2 1.6 1.3 .2 1.3 2.5 1.2 2.1 2.1 .7 2.3 1.2 1.1-7.5 2 2.4 1.2 3.4 1.6 4.7 1.3-11.3 1.8-.5 2.1 .9 1.7 .7 1.8-1.2 1.7 5 1.6-4.3 1.4-.8 2.2 .9 1.9 3 1.8 1.8 1.7-2.1 2.2-6.6M51.2 164.4l1.8-2.4 2 4.9M51.2 160.2l1.1 5.5 1.7-3 1.8 4.7 1.2-1.6 1.3 1.9 2 1.5 1.5-1.8 2 7.1 1.2 .5 2.3 .3M51.2 174.4l1.6-2.1 2-1 1.5-2.7 1.4 5.7 2.3 2.9 2.2 .9 1.3 0 1.2 .2 1.1-2.1 1.7 6.5 1.9-9.9 1.8 5.1 1.1-4.9 1.1 3.9 1.6-1.7 1.4-2.1 1.2 3.7 2 5.4 1.1-7.8 2.4-.5 1.6 5.1 1.9-3 2.4 4.6 1.2-3.6 1.3-5.5 1.4 3.4 1.4 3 1 .8 1.5 7.9 2.1-5.8 1.8 8.8 1.2-4.6 2.3 1.8 1.3-9.1 1.4-1 1.1 3.1 1.2-8.8 1.9 4.4 1.2 4.6 1.8-4.2 2 6 1.9-5.2 1.6 3.1 1 1.4 1.5-1.2 1.4-1.2 1.6 1.6 1.9 .8 1.7 1 2.4 1.5 2.3-3.5 2.1 .7 2.2 .5 1.7 1.7 1.7 3.3 2.4-2.7 1.8-.6 2.1 .1 1.5 6.6M51.2 198.3l2.2-.4 1.1 .4M51.2 183.8l1.2 6.6 2.3-2.3 1.9-1.5 1.2 2.1 1.4-2.5 1.6 .8 1.5-2.5 1.9 3 1.1 .6M51.2 178.2l2.2 .7 2.3-4.9 1.6 5.4 1.5-.5 1.1 .9 2.3-4.1 1.3-1.1 1 3.5 2.1-6.6 2.1 2.5 1.5 2.6 1.6 6 1.3 1.4 1.7-3.8 2.2 3.4 1.6-.7 2.3 2.8 1.3-2.4 1.1 1.5 1.6 4.1M51.2 190.8l1.7-1.2 1.8 .2 1.8-1.6 1.6-4.5 2.3 1.1 1.9-.9 1.6-2.4 1.2-4.1 2.3 1.7M51.2 168.7l2.4 7 1.7-2.4 1.4-1 2.2-.2 2.3 1.5 1.1 3.4 1.1-10.2 1.5 5 2.4 2.7 1.3-.9 2.3-2.3 2.2 2 2.1 5.1 2-3.4 1.5-.5 1.7-2.1 2.1 3.6 1.5-4.9 2.1 6 1.3-2 1.2 4.6 1.3-3.5 1.4 6.5 1.9 3 2.3-1.7 2 2.1 2.1 3.8 1.8 2.7 1.6-6.8 1.9 .7 1.2-3.3 1.8-3.4 1.2-6.5 2.1-.4 1.7 .4M51.2 160.3l1.9-9.1 1.8 6 1.7-1.2 1.3 7.4 1.6-1 2.3 2.1 1.2-1.3 1.2 .1 2 3.3 1.5-2.2 1.9 3.7 1 3.6 1.2 2.8 1.2-.7 1.3-1.7 1.8 3.2 1.9-2.8 2.2 2.9 2.2-.1 1.7 .5 1.2 1.7 1.5-3.5 2.3 3.5 1.6-3.2 1.3-2 2.2-.8 1.2-1.6 1.9-5.6 1.2 .6 1.2-3.4 1-2.4 1.1-2.7 1.2 3.1M51.2 171.6l1.5-.6 1.9 4.5 1.6 3.4 1.5-1.1 2-4.4M51.2 164.1l1.1 3.5 1.2 4.1 1.9-6.3 2.2-1.7 2.3 3.4 1.2 2.9M51.2 162.4l2.2 .4 1.1-5.3 2.1-.1 1.2 3.6 1.4-1.4 2.1 4.4 1.1 .4 2.3 .5 1.6 1.6 1.7 2.3 2.1 .3 1.6 5.4 1-3.5 2.4 1 1.3-4.1 1 1.9 1.7 .4 1.9-.6 2.2-1.9 1.5 2.9 2 .9 1.7 2.3 1.4-3.2 1.7-3.5M51.2 183.9l1.6-7.6 1.1 6 1.8 1.3 1.3-3.9 1.6-2.4 1.4 1.3 1.2 4.8 1.9 4.3 1.4-3.4 1.2 1.5 2.2-1.3M51.2 197.1l2.1-5.1 1 5.9 1.9-4.8 1.6 3.7 1.7-.6 1.9 .5 1.3-8.2 1.1 3.6 2.2-1.2 2.2-2.7 1.6-3.6 2.1 6 2-3.6 1-2.5 1.7 3.9 1.4-2.5 1.9-1.9 1.3 3.2 1.4 2.4 1.8 .6 1.5-3.7 1.3 5.1 1.8 .4 2.2-.7 2.2 2.2 1.4 0 1.5-5 2.3 2 1.8-1 1.7-2.9 1.4-1.9 1.8 3.1M51.2 167.5l1.4 .6 1.6 1.6 1.1 3 2.3-3.2 1.7-4.2 1.9 2.7 2.2 1.1 1.1-1 1.9-.1 2.1 1.9 1.2-4.3M51.2 190.7l2.3-3 1.1 2.2 2.1-4M51.2 169.1l1.9-.6 1.3 3.6 2.4-3.7 1.3-6.2 2.2 9.2 1.7-2.3 1.2 6.8 2.3-.1 2.3-2.4 1.7 .2M51.2 150l1.7-1.5 1.5 6.8 1-2.9 2.1 3.6 1.5 5 2.3-2 2.2 2.3 1.1 10M51.2 162l1.6 4.4 1.3 .1 2.2-2M51.2 149.4l2 0 1.1 5.6 2.1-2 1.4 .7 1.4 .6 1.4 1 1.6-4 1.7 6.5 2.2-2.7 1.1 7.5 1.3-1.3M51.2 164l1.8-5.5 1 .3 1.2 3.8 2.3-6.5 1.3-2.2 1.1 .9 1.3 1.1 1.1-.7 1.9 5.3 1.5-2 2.4-.2 2 2.6 1.2 .7 1.8 3.5 2 2.3 1.8 3.1M51.2 187.6l1.9 6.4 2.1 2.5 2.3 .1M51.2 152.7l1.4 1.7 1.9 3.1 1.4-2.4 1.5 7.9 1.5 3.3 2 .2 1.8 4.1 2.2-.8 2.4 6.4 2.1 1 2.2-2.9 2-.5 2-.3 1.8-1.9 1.8 8.9M51.2 190.6l2.4 2.2 2.2-1.3 1.7 .1 1.3-.9M51.2 187.4l1.3 8.4 1.5-9.5 1.3 4.4 1.1 .6 2-2 1.7-.8 1.9-1.2 1.1-3.1 1.9 .5 1.1-4.9 1.3-1.5 1.6 9 1.3-4.9 2.1 3.4 2.2-1 1.2-1.9 1.5 .8 1 4 1.7 3.7 1.4-7M51.2 199.1l2.1-1.3 1.6-.5 2.1 2.7 1.4-1.3 2.1-2.4 1.8-5.3 1.8 .3 2.1-3.7 2.2 .5 1.5 3.3 2.1 .1 2.2 1.9M51.2 172.2l1.6-.4 2.4 4 2.1-5.2 1.2 2.8 2.2-.8 2 4.2 2 5.9 1.8-.8 2.2-1.6 1.3 3.1 1.7 8.1 1.6-7.8 2.2 1.2 1.8-1 1.3 1.6 1.1-1.5 2.1-.4 2.3-5.1M51.2 149.8l1.4-2.6 2.3 7.2 1.3 1.5 1.4 .3 1.9-3 1.4 2.8 2-2.1 2.4-2.6 1.7-3.3 1.3-1.3 1.9-3.3 1.7 1.7 1.7 2.7 1.9-4.2 1.3 1.1 2.2 1.4 1 4.1 1.5 .2 2 3.6M51.2 191.6l2.3-.6 1.6 0 1.7 1.6 1.1-5.8 2.2-4.3 2.2 7.8 2.2 .1 2.2 1.3 2.2-6.7 2 2.2 1.2-.8 2.1 1.6 1.6 1.2 1.3 1.8 1.4-1.6 2.2 3.8 1.9 2.7 1.1-1.6 1.3 1.4 1.2-2.9 1.9 2.4 1 .6 1.9 0 1.9 4.2 1.4 3.2 2-4.4 2-2.9 2.3-.5 2.4-1.9 1.1-3.1 1.4 1.2 1.9-2.1 2.1 3.6 1.9 .5M51.2 163.6l2.2-3.3 1.8 8.2 1.8-8.5 1.6 1.6M51.2 199.1l1.1-2.8 1.9-.4 1.3 3.3 1.8-3.2 2.3 1 2.3-7.8 2 5 1.5 4 2.1 2 2.3-1.1 1.8 .1 1.9 1.2 1.9-1.2 1.1-1.9 1.1-1.1 1.4-4.2 1.3 .3 1.7-1.8 2.3 .4 1.9-4.1 1.5 0 1.7 1 1.9-2.9 2.1 1.3 2 1.2 2.1 1.2M51.2 176.3l1.1 2.5 1.9 1.5 1.2-.5 1.6-2.6 1.1 7.8 2-5.1 1.6 5.9 1.7 2 1.5-1.9 1.4-4.3 1.3 5.8 1.9-5.6 1.8 1.2 1.5-1.5 2.3-2.2 1.1-3.3 1.2 5.3 2.2-.9 1.5 2 1.7-1.6 1.2-2.6 2 8.5 2.2-9.1 1.2-1.3 1.4 5.2 1.2-1.5 1.3-.4 2 4.7 1.9-3.9 2.2 2.4 1.1 1.2 2.3-.3 2.1-7.6 2 8.4 2.1-5.3 1.1 .7 1.1 .8 2 2.4M51.2 154.1l1.8 4.5 2.1-3.6 1.3 6.2 1.6-3.5 1 4 1.3-3.2 2 3.1 1.7 2.8 2-4.8M51.2 149.9l1.4-5.2 1.2 7.6 1.9-1.5 1.8-3.1 1.9-1.9 1.3 .7 1.6 4.5 1.1-8 2.2 .7 1.8-.4 1.4 .1 1 1.8 1.8-2.2 2 4.2 1.6 5.5 1.8 1.5 1.4 2 2.2 2 1.6-4.5 1.4 3.6 2.2 2.3 1.2 .5 1.8-4.8 2.1 3.1 2.2-1.8M51.2 193.4l1.3 5.2 1.9-11.7 1.5 1.6 2.2-2.4 1.3 8.8 1.9 2 1.9-3.6 2.2 5.1 1.6-.8 1.6-4 1.3-6.2 2.2-2.1 1.1 1.1 1.7 2.9 2.4-5.9 2.2 2.4 1.8-2.5 2-1.1 1.9-.8M51.2 196l1.8 1.1 2-3.2 1.8 3.4 2.4-4.4 1.4 4.4 1.2-3.5 2 4.1 1.7-.6 2-2.4 2.1 6 1.8-2.5 1-5.5 2.2 1 1.4-1.4 2.4-.8 1.7-5 1.3 3 1.1-7.1 1.2-.4 1.9 .4 1.7-1.2 1.7 3.8 2 1.3 1.1-7.4 2.3 5.9 2.1-3 1.4-2.8 1.4 4.3 1.4-2.2 1.2 1.2 1.3 3.6M51.2 195.6l1.7 .2 1.7-1.9 1.3-5.3 2.3-2.4 2.2-5 2.4-4.3 2.4 2.3 1-8.1 2.2 4.8 2.3-1.3M51.2 198.6l1.3-.3 2.2-4 1.8 .3 1.9-3.1 1.5 4.5 1.2-3.5 1.8 3.6 1.7-.7 1.4-2.4 1.1-1.9 1.1 3.5 1.5-6.1 2.1-2.3 1.6 1.2M51.2 188.3l1.9 3.4 1.2-1.8 2 2.4 2.1-4.5 1.1-3.9 1.9 4.6 2.3-3.1 2.1 7.5 1.8-4 1.9-.5 2.3-3.4 1.6 4.5 1.1 2.7 2.3 .3 2.1 2 1.1-3.3 1.9 3.5 1.2-.5 1.8-1.6 1.9 1.5 2.3 1.2 2-3.7 2 2.1 1.8-1 1.5 .7 1 .9 1.3-4.6 1.2-6.5 1.8 6.2 1.4 1 1.4-1.5 2.3 0 1.2-3.8 1.3-1.5 2 5.2 1.3-1.8 2.2-6.6 1.5 1.9 1.1-4.5 1.7 .4 1.4-1.1 2.2-.1 1.6 4.2 1.4-4.1 1.9 1.2 1.6 .6M51.2 161.8l1.1-3.5 2.2 3 1.8-.9 1.5-1.2 1-.1 1.3-1.5 2 .1 1.6-.7 2.1 .4 1.5 .5M51.2 190.8l1.1-1 1.1-1.7 1.2-5.3 1.3 2.4 2-2.5 1.1-.4 1.5-3.4 2.2-1.4 1.8-.6 2.1-.1 1.7-3.7 1.6-1.2 1.2 1.3 2.2 1.1 1.9-5.7M51.2 166.6l1.3-1.3 1.1 5.5 1.4 .9 1.6 1.9 1.5-.4 2.2-1.2 2.4-4.6M51.2 181.7l1.9-3.7 1.2 .8 2.4 6 2.1-10.8 1.6 3.1 2.3-3.1 1.9-.4 2.1 4.1M51.2 185.9l2 5.9 1.4-5 1.2 .3 1.9-4.6 1.8 3.5 1.9 .5 1.5 2.7 1.1-9.7 1.2-2.6 2.3 3.1 1.1-5 2.3 5.9M51.2 179.2l1.9-7 1 6.1 1.2-4.3 1.9 4 1.4 2 1.8 5.2 1.8-5.4 1.1 2.1 1.2-5.2 1 3.2 1.7 1.8 2.3-1.1 2.4 1.7 1.7-.8 1.3 .1 2.2 4.1 2-.9 1.8-4.3 1.5-.1 1.1 2.1 2.2-5.1 1 5.1 1.9-7.3 1.1 .6 1.3-1.3 2 3.7 1.9-12 2.3 5.9 1.1-.1 1.4 2.1 1.8-.1 2-.4 2.4-3 1.9 6.3 1.6 6.4 1.9-1.9 1.8 .5 2.3-1.7 1 1.6 1.6 7.5 1.5-1.7 2.2-2.2 1.8 .5 1.1-1.5 1.4 .2 2.2-.3 2.1-7.3 1.1 3.4 1.9-4.2 2.2 2.3 1.3 .8 1.4 3.3 1.7-5.6 1.8-.9 1.2 9.4 1.1-2.8 2.3 3.5 1.3 2.7 1.5 .6M51.2 197.4l1.7-.9 1.3 .5 1.4-6 1.6 8.3 1.8-1.9 1.2 .5 1.8 2 1.5 .8 2.3-3M51.2 192.1l1.9-2.1 1 .8 2.4 .1 1.5 4.9 1.3-1.9 1.7 3.9 2.3-3 1-6.2 2.4 3.8 2.3 2.4 1.5 .8 1.2 .4 1.5 3 2.3-4.1 1.2-.8 2.1 5.9 1.3-4.6 1.6 5.9M51.2 194.7l2 .8 1.6-.8 1.6-7.2 1.6-.9 1 1.3 1.7 3.1 2.2-.1 1.5-1.5 2 4.5 1.1-4.8 2-6.6 1.2 2.5 1.4-2.2 1.8-1.2M51.2 183l2.1-2 1.9 2.4 2 1.7 2.4 0 1 3.2 1.2-3.4 2.2 3.6 1.4-3.9 1.9 5.9 2.3 4.1 2.2-9.4 1.7 7.3 1.4-.8 1.3-.6 1.7 1.7 1.9-3.7 1.2 .4 1.9-2.2 1.9 .3 1.7-4.4 1.3 2.1 2 .9 1.2 2.4 1.4 1.2 2.3-.2 2.3 5.1 1.2-5 1.7 .1 1.3 1 2.2-5.2 1.5 1.3 2.2-4.1 2 1.3 1.3 3.9 1.4-3.2 1.7 1.1 1.7 .6 2.1 1.2 1.5 2.7 1.2 .5M51.2 183.6l1.1 2.7 1.7-2.1 1.7-4.5M51.2 184.4l1.5-1.8 1.6 0 2.2-1.3 1.7 2 1.2 1.6 2.1-4.7 1.8 3.5 2.2-1.9 1.4-2.9 2.2 5.2 1.2 1 1.6-2.9 2.2 .1 1.6-.8 1.6 .3 2.3 2.5 1.4-2.2 1.3 1 2.4-1.9M51.2 176.5l1.8 2.5 1.8 1.1 1.1-2.9 1.9 5.7 1.2-4.4 1.9 2 2.1 1.3 1.3-3.6M51.2 198.8l1.5 1.3 1.8 0 1.6 .1M51.2 197.6l2.1 3 1.6-2.2 2.2 1.8 2.4-4.8 1.1 1.1 1.6-.6 1.2-3.9 1.3 5.6 1.7-5.6 1.4 4.5 2.4-4.9 2.1 1.4 1.7-2.3 1.9-.6 1.8-1.5 1.7-2.4 2.1-1.4 2.3 0 1.9 1.3 1.1 3.3 2.4 4.2 1.5-.5 2.2-2.5 1.3 3.7 1.7 3.6 1.6-4.7 2.1 1.1 1.1-8.1 2.1 4.4 2-2.8 2-.3 2.3-3.2 1.2 2 1.6 .4 2.2 .4 1.5-2.9 1.2-.7 1.9 4.2 1.1 .4 2.1 .9 1.2 .2 2.3-4.5 1.6 2.9 1.9-3.3 2.3 2.3 2.1-1.3 1.5 5.9 1.7-1.2 1.4-2.8 2.3 2 2.2 .9 1.9-8.1 1.3 7.8 2-.7 2.3 1.4 1.4 2 1.9 .2 1.6-2.4 2-2.5 2-1.8 2.2 4M51.2 161.5l2.1-.1 2 .5 1.7-4.9 1.1-.9 1 7 1.8 .6 1.1 1.8 2.3 1.1 1.4-4.2 2.3-1.4 1.2 3.7 1-3.7 1.1 .1 1.8-4.1 1.6-.6 2.3-2.5 1.1 4.4 2.1-2 1.5 2M51.2 166.7l2-4.5 1.4 .4 2.4 4.2 1.7 1 1-1M51.2 167l2 2.4 2.2-9.3 2 2.6 1.4 4.5 1.4-1.9 2.3 1.9 2-2.6 1.1 0 1.8 .2 1.2 2.9 2 3 2.3-1.9 2.4 1 1.5 3.6M51.2 156.9l1.3-5.6 2.2-1.3 1.2 4.9 1.9 4.2 2.2 1.6 1.3 2.1 1.5 4 1.9 .1 2.2 2.4 2.2-.8M51.2 195l2.2-3 2.2-.8 1.3 1.7 1.7 .9 1.5 2 2.2-1.3 1.6 1.1M51.2 153.6l1.7 3.4 2.1-1.9 2 3.9 1.7-1.6 1.6 2.3 2.4-1.4 1.8 1.1 2.2 4.6 1.3-6.7 1.5 3.9 2.2 .4 1.8-6.8 1.9 5.3 1.6-3.4 1.7-2.7 1.4-.1 1.6 3.6 2.3-2.3 1.3 .2 1.3 .4 1.1 5 1.1-2.4 1.4 .5 1.5-2.2 1.8 6.3 1.9 2.1 1.8-1.4 1.3 1.9 1.3-.7 1.8 9.9 1.7-1.2M51.2 188.2l1.6 4.4 2 1 1.2 .4 2-.4 2.2-2.9 2.2-5.7 1.7 .7 2.3 1.2 1.2-.1 1.2 4.5 2.1-5.8 2.1 3.1M51.2 162.6l1.5 4.3 1.1-4.3 1.3 2.2 2 6.4 1.4-5.3 1.4 4.6 1.3-1.4 2.2-3.1 1.9 2.4 1.9 1.3 1.7-.1 2-.7 1.4-1.3 1.4 1.4 1.9-.5 1.5 4.9 1.7-.4 2.1-.5 1.3 4.9 1.9 3.7 1.2-1.7 2-5.4 1.9 3.9 1.1-3.1 1.9 3.8 1-6 2.2 3.2M51.2 194.2l1.3-2.4 1.6 3 1.4-6.2 1.3 4.2 1.8-.4 1.2 5.3 2.2 3.3 1.9-1.7 2.1 2.6 2.1-1.2 2-.7 2.1-4.7M51.2 185.2l2 2.6 1.1 3.4 1.6 4.1 2.2-6.5 1.7-.7 1.3-1.8 1.4 1.7 2.3 7.4 1.3-6.1 2 5 2.2-.6 1 2.4 1.6-3.7 1.8 6.6 1.1-.8 1.5-2.5 1.4 .9 1.7 2.6 1.9-3.2 2.1-.8 1.1-1.6 2.3 4.1 1.6-9.1 2 8.9 1.3-4.2 1.8 .4 2.1-.6 1.2-3.7 1.6-4 1.8 5.7 2-4.8 1.3-1.2 1.3-3.8 2.3 2.7 1.6 2.5 1.2 3 1.9-2.6 2.1 .6 1.4 .9 1.7 4.3 1.2-3.4 1.8 1.7 2.2 .7 1.6 .5 2.2-.5M51.2 159l1.1 1.2 2.1 3.5 1.5-2.1 1.7 2.3 1.8-.2 1.1-1.7 1.7 3.6 2.2-1.5 2 .3 2.2-4.4 1.3 7.6 1.2-2.5 1.6 2.7 1.2 3.4 1.6-.5 1.5 3.8 1.8-4 1.3 7.9 1.6-2.7 1.6 2.5 1.6 .1 1.4 2.7 1.9 0 2.1-1.5 2.2 2.1 2.1-2.1 2.2 5.5 1.5-8.4 2.2-3.2 1.4 6.8 1.2 1 1.3-4.4 1.6-2.3 2.2 7.7 1.2-9.2 1.2 2.7 2.3 3.2 1.4-4.1 2 1.8 1.5 2.5M51.2 162.2l1.9 4.2 2 .5 1.4-4.2 1.2 .6 2 1 2 5.5 2.1 .4 1.4 2.1 1.2 1.2 2.1-1.3 2.3-1.6 2.2 7.6 1.7-2.7 1.4 .6 1.9-6.7 1.7-.4 1.5-6.8 1 3.1 2 5.5 1.6-5.5 1.8-.2 1.7 8.8 1.7-4 1.5-3.3 1.5 .4 1.4-2.8 1.8 2.4 2.1 1 2-3.6 2.4 2.4 2.1 2.8 1.7-4.7 2.3-.5 1.2 2.8 2-5.2 1.1 6.2 2-9.9 1.1 6 1.6 1.1 1.2-.1 2.2-4.6 1.8 1.9 2.2 2 1.4 4.5 1.5 1.2 1.5 5.6 2.3-3.5M51.2 168.1l2.2 3.2 1.4-1.2 1.3 1.2 1.2-1.6 2.2 5.1 2-6.2 1.9 .9 1.5-1.2 1 3.6 2.3-1.1 1.9 1 1.5 2.1 2.1 6.4 1.9-6.1 2.1-3.7 1.9 2.1 1.8-.3 2.4 2.1 1.4-.3 1.8 3.9 2.3-1.3 1.7-3.4 1.4 6.9 1.2-.5 2.1-8.3 1.4 7.4 2.1-5.6 2.1-2M51.2 191.9l2.3-5.2 2.2 .9 2 3.8 1.6 1.5 1.9-5.9 1.9-5.4 1.6 4.2 2.4 1.2 1.3 2.2 2-4.4 2.3 2.4 2.2-.1 1.5 3.8 1.7-2.8 1.6-1.9 2.2 1.9 1.3-.9 1.3-1.8 2.2-2.7 1.7 1.6M51.2 186.8l2-.8 2.3 .4 1.2-7.2 1.9 4.1 1.6-2.2 2.2-3.3 1.4 3.3 1.9-5.4 1.9 .7 1.2 1.8 2.1-7.7 1.2 1.3 1.8-2.3 1.8 3.5 1.8-.6 1.6-1 2.3 1 2.3 4.5 1.1-.2 1.1-4.3M51.2 153.6l1.8 1.6 2.1-4.5 2.1 2.9 1.2 1.2 1.8 .8M51.2 194.5l2.1-5 2 7.7 2.2-9.8 2.1-1.3M51.2 180.7l2.3-10.8 1.9 13.2 1.2-8.1M51.2 163.5l1.8-1.1 2.3 1.9M51.2 162.2l1-3.3 1.2 4.8M51.2 185l1.8-1 1.2 .7M51.2 170.2l1.4-2.1 1.3-2.2 1.8 1.7 2.2-3.1M51.2 180.8l2 6.3 1.4-6.7 2.1 2.8 1.2-.3 1.7-2.3 2.4 4.1 1.6-5.2M51.2 145.3l2.1 .4 2.3 8.5M51.2 178.2l1-1.1 1.6 4.1 1.8-.4 1.8-3.5 1.7 4.6 1.7 1.3 1.7 1.5 2.1-3.9 1.1 .6 2 4.5 1.7-6.7 2.2-.9 2.2 5.9 1.9-1.3 1.3-2.3 2-1.8 2.1 8.6 2-5.9 2.2-3 1.2 9.3M51.2 175.5l1.1-1.2 2.3 1.6 2.3 4.1 1.7-2.2 2.3 .4 1.3 .9 1.5 5.3 1.4-.9 2.2-1.9 1.4 2.7 1.1 1.6 1.1-4.6 1.5 .9 1.3-.7 1.6 4.5 1.1-.2 1.9 .2 2.2-3.3 2.1 1.8 1.4-.8 2.3-4 1.1 6.2 1.7 1.1 2-3.1 1.7 1.8 1.8 .3 1.1-1.5 1.9-.2 1.9-1.2M51.2 162l1.2 1.3 1.5-.3 1.1 6.8 1.4-7.5 1.7 8.6 1.7-4.8 2.1 1.9 1.5 4.9 1.1 1.7 1.4-4.1 2 2.2 1.3-1.1M51.2 179.3l1.8-1.7 1.2 3.6 2 0 1.4-.2 1.7-1 1.5 4.2 1.6-1.1 2.1 .8 1.1 7.4 1.9-4.1 1.3 1.7 2-2.6 1.4 8 1.1-2 2.4 0 1-5.5 1.9 1.4 2.1-1.4 1.4 .6 1.2-4.2 1.6-2.5 1.8 1.5 2.2-.1M51.2 171.6l1.7 1 1.9-2.5 2.2 0 2.2 0 2.3 .4 2.3-3 1.9 2.4 1.9-4.6 1.8-.9 1.5 .4 2 1.7 1.2 .7 2.3 2.7 1.9-5.1 1.4 .6 2.1-2.8 2.2-1.3 1.5-4.2 2.2 2.6 1.2 .3 1.6-1.2 2.2 2.8 1.4 3.9 2.2 3.5 2.3 3.3 1.7 1.3 2.1 5.1 2.1-8.8 1.7 0 1.9 5.4 1.6-7.4 1.3 3.9 1.9 5.2 1.6-3.3 1.7 1.2 1-1.3 1.8 2.7 1.6 2.3 1.8-3.7 1.2-2.7 1.4 1.9M51.2 176.6l1.8-4.5 2.1 .8 2.3 4.7 1.6 1.9 2.2-8.4 2.1-.3 2.3-.1 1.2-8.5 1.6 1.7 2.1 1 1.5 1.3 1.4-3.4 2 5.4 1.2-1.7 1.8 4 1-3.8 1.7 4.1 1.7 2.3 1.4 1 1.7 1.6 1.2 3 2.1-.8 2.3 1.8 1.8 2.2 1.4-3.2 1.3 4.6 1.7-9.1 1.9 6.6 1.1-5.1 2.1 3.2 1.6 .1 1.2 .6 1.6 3.2 1 1.7 1.4 2.3 1.5-1 2 6 2.2-1.5 2.1 2.3 1.7 3.2 1.3 0 2.3-4.6 2 4.6 1.6-1.9 1.2 2.7 1.7 1.9 1.8 .1 2-5.3 1.1-.1 2.1-1.7 1.2-5.5 1.2 7.7M51.2 173.4l2.2 8.3 2.2-1.5 1.4-3.8 1.6 7.1 1.8-.1 1.8 1.1 1.4-4 1.2-2.4 1.5 .4 1.4 1.9 2-3.2 1.7-.2 1.5 .4M51.2 151.7l2.1 1.1 1.9 5.4 2.2 1.2 2.4 1.9 1.5-2.9 2 2.6 1.3 .5 1.2-.3 1.2-.3 1.9 1.2 2.1 .4 2 1.9 1 1 1.3-1.2 1.4 .3 1.2-2.6 1.2 1.5 1.7 4.8 1.7-.7 1.9 3.4 2.2-3.5 1.5 4.7 1.3 3.4 1.2-.2 2.1-6.4 1.9 2.4 2.2 .8 1.7-2.9 1.5-2.9 2-2.8 1.4 .2 1.8 .9 1.6 .4 1.2-3 1.8-1.7M51.2 196.6l2.2 1.8 2 1.1 1.7-.1 1.6-2.8 1.6 .5M51.2 163.6l1.9 .3 2-2.5 1.9 6.8 2.1 2 2.1 3.5 1-2.5 2.2-3.1 1.2 .2 1.5-.4 1.6 4.4 2.2-4.7 1.4 .6 1.3 3.8 1-6.4 2.2 4 2.1 0 1.8-6 2.3 6.5 1.3-2.3 1.8-.8 1.6-1.8 1.3 1.2 1.9 0 1.4 .1 2.2 2.1 1.1 3.9 2 3.9 2.2-7.3 1.8 8.3 1.7-4.6 1.1 3.1 1.7 .7 1.8 6.4 1.9 1.6 1.5-3.2 2.2 3.4 2.3 .7 1.8 2.1 2.2 4 2.3 6.8 1.2-6.6 2.4 5.7 2.2-1.2 2.1-1.5 1.9 5.6 1.1-9.7 1.1 .3 2.3-7.8 1 1.9 1.6 1.1 2.1 1.5 1-4.4 1.3 5.1 1.4-3.7 2.3 .1 2.1 1.3 1.1 2.2 1.5 1 2.2 .9 2.3-1.2 2.2 4.4 1.4-3.8 1.4-1 1.8 8.2 1.4-8.8 1.2 .2 1.9 1.9 1.1-1.1 1.6-2.2 2.2 0 1.4-2.4 2-2.9 1.6 7 1.6-4.5 1.9-1 2.2 6.1 1.3-.2 1.1-4.2 2.2-1.3M51.2 173.8l1.1-3.6 1.7-2.9 1.2 6.1 1.9-4 2.2 3.5 1.8-5.2 1.6-.5 1.7 .2 1.9 2.8 1.7 .3 2-1.2 2.2 3.6 2.4 4.3 1.6 .2 2.2 5 2.3-.6 2.1-2.6 2 .1 1.8 5.7 2.1 0 1.4-1.8 1.3 2 1.7-1.8 1.3 1.9 1.2-1.4 2.2 4.3 2.1-3.1 2.3-.8 1.3 .2 1.1 1 1.7-2.3 1.9-3.2 1.7 6.3 1.8-4.7 1.6 5.9M51.2 173l2.1 3.4 2.2-2.6 1.2 4.5 1.1 4.2 1.8 1.8 2.1 1.5 1-7.6 1.2 8.1 1.5-.3 1.6-1.8 1.9 1 1.5 .7 2.2-7.3 1.9 5.2 1.8-1 1.9 .3 1.9-.4 1.7-4.5 1.1 0 2.3-7.6 1.5 3.2 1.6-.4 1.2-2.5 1.9 3.5 1.1 0 1.3-2.4 1.3 3.3 2.2 .9 1.9 4.4 2-2.7 2 1.8 1.7-1 1 3.7 2.4-5.1 1.9 .5 1.8 .6 1.2 3.7 2.3-.3 2.3-2.5 1.5 .5 1.6-.8 2.3 1 2.2-1.4 2.2 3.2 1.2-5M51.2 156.2l2-.1 2.3 .6 1.9 2.3 1.5-2.1M51.2 164l1.3-.5 1.4-1.7 2.2 3.4 2 .8 2.1 1.1 1.8-.2 2.3-4.4 1.8 5.9 1.9-.1 1.5-3.3 1.4 5.3 1-3.1 2.1-1.1 1.1-1.4 2.3 0 1.2-3 2.3 0 1.1-5.2 1.9-.6 2.4 4.8 1.1-.9 1.8-.2 2.1 0 1.9 3.5 2 3.5 2.4-1.1 2 2.5 1 3.8 2.1-.5 1.4-.8 2.1 3.3 1.2-.7 1.2-1.4 1.9 .7M51.2 178.4l1.6-1.5 1.6 2.1 1.7 .4 2 .3 1.5 .3 2.1-1.6 1.7 6.5 1.5 .6 1.6 .1 1.9 0 1.5 .1 1.9-1.6 1.7 7.2 2.4 .1 1.1 1.8 2.2-1.2 2.1-3.4 1.5-.4 1.5 8.1 1.5-2.3 1.8-1.6 1.8 2.1 1.1-1.7 1.8-1.7 1.8-2 1.5 1.5 1.7-1.3 2.1 5.1M51.2 183.3l1.4-3.5 1.9 1.3 1.1 3.6 1.2-4.2 2.2-1.3 2.4-3 1.6 5.7 1.4-4.4 1.2 1.2M51.2 150.5l1.7 4.1 1.5-5.4 2.3-.4 1.9 4.5 1.8-6.8 2.3-.3 1.1 1.9 1.8-2.2 1.6-3.6 2.2 7.4 1.4-2 1 .8 1.6-4.2 1.6 4 1.6-3.6 1.7-2.8 1.9-.2 1.9 1.3 1.5 4.5 1.5-4.4 1.3 .9 1.7 9.7 1.7-3M51.2 192.5l1.8-3.4 1.7-3.5 2.2-1.8 1.3 3.9 1.6-3.6 1.2 4.9 1.5-7.8 2 1 1.1-2.3 1.3-1.3 1.8-4.7 1.4-.5 2-2.5 1.1 6.2 1.6-4 1.4-3.1 1.4 7.2 2.2-4.5 1.7 8.2 2.3-6.3 1.9 .1 2.2 .5 2-1.1 1.5 2.4 2.2 1.9 1.9 .2 1.4 1.9 1.6 3 1.2 3.8 2.4-1.4 2.3 4 1.4 .1 2.1-2.1 2.1 6.9 1.5 .2 1.3 .4 1.9-7 2.2 1 1.4 5.3 1.9-3.5 1.8 4.4 1.5-2.4M51.2 194.3l2.3-1.4 1.8-.3 1.1-2.9 2.2-.7 1.7-4.6 1.5-2.4 1.6 2.1 1.2-.8 1.9-1.1 1.9-2.3 1.6 4.5 1.9-.2 1.4 .7 1.7-.8 1.6 2.2 2.1 .2 2.2-.2 1.4 .7 2.3 1.3 1.8 1.1 1.6 1 2.2 1.6 2.3 8.5 2.1-1 2.2-4.3M51.2 186.8l1.1-13.8 1.1 5.8M51.2 154.9l1.4 1.1 2.1 2.7 1.1-3.6 2.3 4.3 1.9-4 1.9-.1 1.6 2.4 2.1-2.1 1.5-2.3 1.2 5.2 1.5-3M51.2 188.6l2.3 .7 2 .2 2-1.7 1.6 .6 2 2.4 1.7 6.5 1.2-1.1 2.2-4M51.2 190.5l1.4 2.8 2.4 .2 1.1 2.3 2.3-6.5 2 .5 1.4 .3 2.3 .4 1.7-5.5 1.6 6 1.6-7.8 1.1-.8 1.3 5.5 1.9 .8 1.7-1.4 1.6-1.2 1.3-5 2.3 1.6 1.1 1.9 1.7 1.5 1 0 2.2 .6 1.5 3.3 1.9-4.8 1.5 1.4 1.9-.6 1.4 4.8 1.9 .6 1.1-4.2 1.9 4.1 2.2-3.6 1.7 .8 1.3 4.4 1.4 1.4 2.1-3.3 1.4 1.2M51.2 190.5l1.8-.8 1.1-6.4 1.2 7.4 1.5 3 1.8 3 1.9 1.1 2.4-3.2 2 4.3 1.4 0 2.2-.3 1.2 1.3M51.2 145.4l2.3 2.3 2 4.1 1.9 1.6 1.1 7.4 2.2-3.9 2.3-.4 1.6 9.1 2.2-.1 1.2-3.7 1.9 5.3 1.2-7.4M51.2 152.1l1.1 6.2 2.3-7.9 2.2 3.2 2.1-1.2 1.8 6.6M51.2 195.9l1.6-.9 1.5-.9 2 2.1 2.4 .2 2-.2 2-2.7 2.1 1.5 1-.8 1.6-.7 1.9-.9 2.1-1.5M51.2 175.7l2 3.4 1.4 2.6 1-2.8 2.2 6.2M51.2 167l1.6-3.2 2.1-1.8 1.3-1 1.7-1.5 1.4 .3 1.5 3.9 2.2 4 1-4.7 1.5-1.7 1.5 8.9 1.2-4.7 1.2 .9 2 3 1-3.7 1.1-4.3 1.3 7.3 1.5-5.3 1.2-.6 1.1-2.9 1 2.8 1-4.4 1.2 4.9 2.2 .7 2.2 2.2 1.3-2.9 1.5 5.6 1.1 2.2 1.9 .6 2-5.1 1.9 0 1.7 3.3 2.4-.4 1.3 8.2 1.2-3.5 1.1 4.7 1.6-1.4 1.6 5.4 1.1-9.4 2 6.3 1.8-1.9 2.3-4.4 1.9 1.5 2 .4 1.7-.3M51.2 179.3l2.2-2.6 1.8 11.1 1.6-6.5 1.9 2 2-4.1 1.8 0M51.2 178.1l2.2-5.8 1.9-6.1 1.7 2.4 1.3 2.5 1.3 2.7 1-1.5 1.3 3.2 2 1.4 1.2 0 2.2 1.6 1.7-4.3 1.4 3.7 2.1-7.8 1.4 2.7 2.1 1.6 1.9-3.4 1.6-4.5 2 3.2 2.2-.3 2.4-4.2 1 1.5 2 2.9 1.8-1.7 1.7-2.6 1.9 5.5 1.7 .8 2 4.9 1.6-2.6 2-5.5 2.1 4.5 1.9 5.1 1.9-2.8M51.2 165.1l1.3-1.7 1.1 1.2 2 2.1 1.2-1.5 1.3 3 2.2-3.3 2-.4 1.8 1.6 2.2 .9 2.1-2.2 2 5.5 1.7-.5 1.9-4.5 1.2 7.1 1.2 .9M51.2 153l1.3 2.9 1.8 4.3 1.5-5.8 1.4-1.8 2 8.5 2-10.2 1.6 6.4 1.9-.1 1.7-2.1 1.3 2.2 1.9-1.1 2.3 .5 1.5-2.7M51.2 192.6l2-.1 1.2 2.2 1.6 1.7 2.4-4.4 1.3 6 1.4 .1M51.2 167.5l1.2-1.4 1.3-.4M51.2 173.5l1.8-4 2 4.7 1.7-6.8 1.5-.6 2 3.8 2.1-6.2 1.3 .8 1.3 .8 1.8 5.8 2.4-5.1 1.1 2.6 2.2 1.1 2-2 1.8 3.2 2.1-.8 2.2-2.2 1.4-4.4 1.7 4.1 1.7 3.7 2.3-3.9 1.2 2.8 2.1 3.7 1.8-.3 1.5-3.8 1.7 7.2 2.4-1.5 1.9 .3 1.9-5 1.5-1.8M51.2 160.8l1.1 2.5 1.5-4.3 1.9 6.9 1.5-1.8 1.7 5.4 1.3 1.2 2-3.1 1.7 2.6 1-3.8 1.4 8.3 2.2 1.4 1.1 .9 2-1.8 1.6 1.1 1.7-1.9 1.4 .3 1.8 1.8 1 2.6 1.3-9.5 1.6 6.6 1.7-9.1 2 2.8 1.2 .4 1.7-3 1.3-.3 1.1 1.8 1.1-5.2 2.3 3.5 1.8-2 1 .5 1.4-2 2-6.8 1.6 3.5 2-5.5 1.1-6.4 1.1-.7 1.1-2.4 2.2 1.3 1.9 6.7 2-.5 1.7-1.6 1.1 2.4 1.5 4.6 2.3 .3 2 4.6 1.3 5 1.6-.6 2-.2 1.2-.1 2.4 9.8 1.2-9.4 1.8 3 1.3 6.1 1.9-1 1.4 5.8 2.1-3.9 2.3 2.7 2.4 5.5 2.3-2 1.4-6.4 1.7 3.7 2.1-2.9 1.4 5.1 2 3.4 1.4 1 1.6-1.3 2.1 6.8 2.4-2.7 1.6 .7 2.2 4.6M51.2 168.2l1.1 .9 1.3 .9 1.2-2 1.4-3.3 1.5 2 2.2-2.2 2.2 2.9 2.4-1.7 1.8 .8 2 1.7 1.2-.4 1.5-2.8 1.4 .3 1.9 .5 1.6 .5 1.4 5.5 1.1-4.1 2 3.6M51.2 164.6l2.2 .4 1.5 6.3 1.5 2.9 1 4.4 2.2-5.6 1.1 2.7 1.7 2.1 1.8-2.1 2.3 .9 1.9 1.4 2.3-.5 1.5 2.2 1.8 .5 1.4-4.7 2.1-3 1.5 .4 1.1-1.1 1.7-5.2 2.2 9.1M51.2 194.2l2.2 5.5 1.4-1.1 2.4-3.4 2.1 .8 1.6 4.5 2.2-3 2.3 1.3 2.1 1.2 2.2-3.6 1.9-3.8 1.6-3 2.2 2.3 2-5.1 2.2-2.7 2 .8 1.8-4.8 2.2-2.6 1.6 4.3 1.9-7.1 1.5 10.1 2 4.1 1.6-2.6 2.1-1.5 1.1-5.6 1.3 1 1 3.1M51.2 196.5l1.6 4.5 2.4-5.9 1.6 1.3 2.3 2.8 1.6-2.8 2 3.1 1.7-4.1 1.3-.3M51.2 158.8l1.1-3.5 1.9-.4 2-3 1.5 4.4 1.2-8.7 1.1 .2 1.6-1 2.1 2.6 2.4-3.5 1.8 1.1 1.5 5 1.8-1 1.4-.8 1.9 6.8 2 5.8 1.5-.1 2 4.6 1.5 1.1 2.2 5.2 1.3 2.7 1 1.9 2.3 1.6 1.5-1 1.9-1.9 2 4.5 2-5.8 1.1-.2 1.6-4.8 1.9 1.3 1.4 2.8 1.2-2.6 1.4-3.6 2.3 1 2 3 1.4 7.1 1.1 .3 2.1-6.8 1.3 6 2.3 1.5 1.1-.1 1.7-2.8 1.4 1.6 1.4 1.9 1.4 3.4 1.2 1.7 1.6-3.8 1.7 3.4 1 2.3 1.8 .2 2.3 4.5 2.2-10.2 2.1 .8 1.2-1.7 1.9 1.9 2 .3 1.3-3.6 1.9 2.8 2-4.7 1.2-4.5 2.3 .5M51.2 175.6l2.3-2.3 1.8-.9 1.1-4.7 1.6-1.7 1.1 2.6 2.1-1.6 1.5 3 2.2 2.4 1.8 1 1.8-4.7 2.1-3 1 1.1 1.7 1.3 1.2-4 1.1 1.5 1.6-3.2 1.8 4.5 1.7-1.9 1.3 4.4 1.4 5.5 1.1-5.1M51.2 167.7l1.7 2.9 1.6-5.9 1.9 5.9 1.9-2.5 1.5 2.6 1.1-2.2 1.8 1.6 1.2 1.6 1.6 4 1.7-.7 1.8-3.6 1.1 1 1.8-2.6 1.5 2.7 1.7 3.4 1.3-3.1 1.8 2.2 1.1-2 2.2 2 2.3 2.7 1.8 .9M51.2 158.6l1.6 4.7 1.8 .4 1.6 .7 1.6 5.5 1.8 1M51.2 181.9l2.1 1.5 1.4 1.6 1.7 1.6 1.8-3.2 1.6 1.1 1.2-1.9 1.4 3.6 1.7-2.8 2.3 .8 2 1.9 1.3-.7 1.2-3.1 1.4 2.8 1.9-2.2 1.1-1.4 1.3-1.3 1.1 1.4 1.8 1.5 1.1 3.5 2.4-5.5 1.4 4.1 2.2 6 2.2 .7 1.5-2.3 1.5 5.2 1.8 0M51.2 174.4l2 1 1.6 .7 2.2-.6 1.5 1.7 1.4-3.9 2 6.4 2-.5 1.6 .1 2.3 1.4 1.7 1.5 1.9 0 2.2 5.4 1.8-6.2 2.4-6.6 1.7 8.4 1.6-2.8 1.8 .4 1.6-8.6 1.5 7.6 1.1-3.6 1.5-5.8 1.4 5 2-1.8 2.1-.3 1.5-.6 2.2 2.5 1.5-5.5 1.6 2.5 2.2 .4 1.8-.5 1.9 3.5 1.3-1.4 1.8 1.3 1.8-4.5 2.1 7.7 1.1-.2 1.6 6.6 1.2 1.8M51.2 185.2l1.3 .1 1.4-6.5M51.2 194.1l1.3 .2 2 .8 2.1-4.7 2 1.1 2.1 .4 1.7-1.3 1.1-.1 2.3-10.8 2.2 2.8 1 2.5 1.2-11.4 1.3 6.1 2 3 1.2-2.9 1.3-2.9 1.3-7.9 2.3 1.5 2.1-.2 1.5 .8 2.1-2.1 1.6-1.3M51.2 192.5l2.1 8.3 1-2.8 2.2-.1 1.6-2.6 1.7-1.4 2.3 3.1 1.8 .4 1.3 1.7 1.7-4.3 1.2 .6 1.2 1 1.7 5.7M51.2 178.4l1.3 1.2 1.9 1.7 1.5 1.9 1.2-1.1 1.8-.3 2.2-1.3 1.3-2.7 1.8 7 1.6-1.8 1.8 .9 1.2 4 1.1 2.1 1.8-1.9M51.2 193.5l1.2-6.5 1.1-.6 1.5 3.1 2.2 1.6 2.2 4.3 1-1.3 1.8-5.1 1.8 6.6 2.4-4.6 2.2-2.8M51.2 191.7l2 1.4 1.4-2.9 1.9-2 1.6 1.3 2.1 3.8 2.2-1.5 1.8 1.8 1.7-2.8 1.9-.1 1.9-.6 1.2-.1 1.4-4 1.5-.3 1.7 2.6 1.1 5.1 2.1-.9 1.8 5.6 1.8-.7M51.2 157l2.2 1 2.2 3.5 1.8-5.1 1.1 2.7 1.8 7.8M51.2 169.3l1.4-2.2 1.2 1.9 2 .4 1.5 1.3 2.1-.5 1.2 0 1.1 .4 1.3 3 2.1-4.9 1.7-1.8M51.2 185.5l1.9-7.2 1.1 2.7 1.3 .3 1.8-3.2 1.4 2.2 2.1-3.3 2.1 7.3 1.9 .1 1.5 .5 1.9 6.7 1.9-7.8 1.5 3.4 1.1-3.4 2 4.2 2.2-3.5 1.9-3.1 1.7 1.9 1.6-1.4 2.2 6.4 2-8 2.1 1.3 2.2 3.8 1.9-.4 1.3-3 2.3-8.9 1.9 4.1 1.1 5.6 2.2 2.6 1.4-4.8 1.3 5.5M51.2 164.9l1.8-5 1.2-1.5 1.1-5.3 1.8 8.3 1.2 1.9 1.5-4.3 1.6 2 1.2 5.5 2-3.2 1.6 4.1 1.9 .3 1.9 2 2.1 9.8 1.8-1.6 1.8-5.2 1.9 .4 1.6 2.8 1.9-2.3M51.2 185.8l2 0 2.3 3 1.5 3.1 1.6 3.9 1.2-2.8M51.2 178.2l1.5 .1 2.2-2.9 2.2-4.8 1.6 1 1.2-4.1 1.7 1.5 1.9 .3 1.3-8.1 1.2 2.3 1.8 3.7 1.5-2.5M51.2 165.7l2.3 .2 2.2-2.8 1.3 6.5M51.2 188.2l1.8 .7 2.3 3.7 1.1-3.7 2.1 1.3 1.5-.8 1.7 2.6 2.3-4.6 1.3 1.9 1.4 .1 1.7-5.6 1.6 1.9 1 .4 1.3-1.7 2.3 1.6 1.8 1.7 2.1-1.9 1.2-1.6 2.1 3.1 2.3 0 1.9 1.9 1.6-5.3 1.2 3.6 1.6 2.6 1.5-.3 1.6 2.6 1.1 .2 1.1-1.6M51.2 190.5l1.3 5.2 2.1 .5 2 .4 1.3-7.6 1.6 1.7 2.3 5.1 1.1 1.9 1.3-4.4 1.2-1.2 1.4-2.4 1.7 1.3 1.5 .1 1.5 4 1.5-1.7 1.2 2.4 1.3-5.8 1.8 2.5 1.6-3.5 1.4-.4 1 .9 2 1.5 1.5-2.8 1.5-1.3 1.4-.3 1.9 3 1.5 .8 1.9-2.9 1.1 0 1.3 .7 1.6 .6 2.3 3.3 1.3-3.6 1.3-3 2.1 1.6 1.4 2.5 2.1 1.8 1.7-.7 1.7-5.4 1.8 8.4M51.2 168.1l2.3-4.6 1.9-.7 1.6 4.3 1.4-3.3M51.2 167.5l1.4-2.9 1.1-1.7 1.8-3.4 1.9 1.8 2.4 4 1.1-.5 2 3.4 1.4 6.2 2.1-1.2 1.4 2.3 1.6-3.7 1.8-1.5M51.2 192.3l1.9 .8 2.2 .6 1.5 2 1.1 3.1 1.1-.5 1.5-3 2.1-1.3 2.2-4.7 1.9-1.3 1.2 .8 2.4-3.5M51.2 188.6l2-3.5 1.6 2.6 1.9 1.7 2-7.1 2.1 9.6 1.9-1.9 1.8 1 2.2-3.5 1.5 2.2 1.8 2.5 2.2-3.8 1.6 0 1.5 3.7 1.9-3.1 2.1-6.5 1 7.1 2 .9 1.3-2.3 1.1-.7 2.1-5.4M51.2 164.2l2.3 1.9 2 1.7 2-1.1 1.4 2.4 1.5 1.2 1.9-.8 1.5-4.1 1.5 .5 2.1-1.4 1.6 1.2 2.2-1.9 1.4 1.1 2-.8 2.1 2.6 1.9-1.8 1.7 1.3 1.2 1.1 2-4.4 1.5 .3 1.4 1.7 1.2-3.4 1.5-2.2 2.1 4.8 2.1-.6 1.7 1.8 1.1-.8 1.4 7.9 2.3-7 1.8 5.5 2.1 1.3 2.3-1.2M51.2 177.8l1.6-1.1 1.9-5 1 7"/>
<path d="M51.2 51L54.5 68L59.5 100L64 128L66.5 145L65.5 158L60 168L51.2 172z" fill="#73AC38" stroke="none"/>
<path stroke="#73AC38" stroke-width=".38" d="M51.2 105.1l.5 3.6 .3 3.9 .7 4.1 .5 2.7 .6 3.8 .6 3.2 .5 3.7 .8 3.4 .7 3.8 .7 4.4 .2 2.9 .7 3.4 .6 4.3 .5 3.6 .6 4.4 .5 3.9 .7 4.5M51.2 71.1l.2 2.5 .4 4.1 .6 3.7 .4 2.8 .2 4.3 .3 3.1 .3 2.7 .2 2.9 .4 3.5 .6 3.3 .2 3.6 .6 3.7 .4 3.9 .4 3.1 .3 3.5 .5 3.6 .4 3.8 .5 3.6 .5 4.3 .6 2.9 .4 4.2 .6 4.1 .8 4 .5 3.8 .2 3.5 .4 3.7 .7 3.2 .4 4.4M51.2 75.2l.5 2.8 .5 2.8 .6 3.1 .4 3.8 .7 4.4 .6 4.5 .1 2.6 .6 3.4 .8 4.5 .6 4.1 .6 3.5 .5 2.6 .8 4.3 .1 2.8 .5 2.9 .6 4.4 .4 3.3 .2 3.2 .6 3.7 .5 3 .5 4.1 .8 4.4 .2 3.1 .6 3.9 .6 3.6 .6 4.2 .6 3 .5 3.3M51.2 121.7l.8 4.3 .5 3.2 .6 4.3 .6 3.5 .8 3.9 .4 3.3 .6 3.8 .7 3.7 .7 3.3 .3 2.8 .8 3.8 .6 3.8 .6 3.3 .3 3.1 .7 2.8 .4 3.1 .5 2.9 .6 3.7M51.2 94l.2 2.8 .5 2.5 .4 3.3 .5 3.7 .5 4.5 .5 3.7 .5 3.4 .5 3.9 .6 3.7 .5 2.9 .4 2.7 .5 4.1 -.1 2.5 .4 4.4 .4 3 .6 4 .5 3.2 .4 2.6 .4 2.8 .5 4.2M51.2 109.3l.3 3 .4 3.9 .6 4.1 .5 4 .4 2.6 .5 3.8 .3 2.9 .3 4.5 .4 3.7 .5 3.6 .2 3 .6 3.4 .4 2.6 .3 3.6M51.2 81.6l.6 2.6 .8 4.3 .6 2.9 .4 3.1 .5 3.2 .9 4 .6 3.8 .5 2.7 .4 3.1 .5 2.8 .6 2.9 .8 3.7 .5 3.7 .4 3.5 .6 3.2 .6 3.6 .6 3 .7 3.1 .5 3.3 .6 2.8 .8 3.9 .6 3.1 .9 3.8 .7 4.4 .6 3.7 .7 3.2 .5 3.2 .4 2.9M51.2 118.1l.5 4 .4 4.4 .3 3 .4 3.5 .3 2.6 .5 4.4 .3 3.4 .5 4 .4 4.1 .4 2.8 .3 2.5 .6 3.9 .7 4.2 .3 3.7 .4 3.6 .5 4.3 .6 3.5M51.2 96.8l.5 2.6 .5 2.7 .6 3.2 .4 2.7 .6 3.4 .4 2.6 .3 3 .6 3.6 .6 3.1 .7 3.6 .5 3.2 .3 2.8 .6 4.4 .6 3.9 .8 4.4 .4 2.8M51.2 138.1l.4 2.9 .5 4.2 .5 2.6 .4 4.3 .4 4.4 .3 2.9 .6 4.4 .3 3.2 .3 2.9M51.2 83.5l.6 3.7 .3 2.8 .4 2.9 .2 2.6 .5 4.2 .4 3.8 .4 2.8 .4 2.9 .5 3.3 .3 2.8 .4 2.5 .2 2.8 .4 3.3 .2 3.2 .2 3.2 .4 3.2 .5 4.4 .3 3.7 .2 3.7 .3 2.9 .4 3.6 .4 2.5M51.2 100.5l.5 3.6 .5 3.2 .5 3.7 .7 3.6 .6 3.9 .3 2.9 .6 3.9 .7 4.3 .3 2.7 .7 3.7 .6 3 .5 2.8 .6 4.5 .6 3.1 .4 2.5 .2 2.7 .3 2.7 .6 4.5 .6 4.5 .7 4.3 .5 3.1 .4 2.7 .5 3.2 .5 4.3M51.2 150.3l.4 3 .6 4.5 .4 3.4 .4 3.9 .6 4M51.2 151.2l.6 3.9 .3 2.8 .7 3.8 .8 4.4 .2 3 .8 3.6M51.2 105.3l.3 2.5 .5 3.7 .4 3.3 .3 3.1 .4 3.4 .4 4.1 .5 3.7 .6 3.6 .6 3.7 .5 4.4 .5 3.8 .5 4.3 .6 4.2 .5 2.9 .6 3.7 .6 3.5 .3 3.8 .6 4.3 .3 2.6M51.2 124.5l.4 2.7 .5 3.5 .5 3.1 .5 3.7 .3 3.2 .7 4.3 .4 3.5 .7 4.4 .5 4.3 .4 2.8 .5 3.5 .5 4.2M51.2 133.8l1.1 4 1.1 4.1 .9 3.7 1.1 3.8 .9 3.4 .7 3.3 .9 4 .7 2.8 .5 2.7 1.2 3.9 1 4.4M51.2 134.8l.5 4.1 .4 3.2 .5 2.9 .6 2.7 .8 3.7 .4 2.7 .8 4.1 .6 3.4M51.2 59.4l.6 3.3 .5 3 .6 2.9 .7 3.1 .7 3 .8 4 1 4.4 .7 3.8 .7 4 .5 2.7 .8 3.7 .4 2.8 .6 3.4 .7 3.3 .8 2.8 .9 3.7 .7 4.1 .5 3 .6 3.3 .9 3.7 .8 4.2 .5 3.3 .8 2.6 .7 3.5 .8 3 .8 3.4 .6 3.6 1 4.5 .6 3.4 .7 3.2 .8 4M51.2 141.8l.7 3.7 .5 3.3 .8 4 .8 3.8 .4 2.5 .7 3.2 .5 3.1 .8 3.7M51.2 61.4l.6 3.9 .3 2.5 .5 3.1 .3 2.9 .6 4 .6 4 .3 3.3 .4 3.2 .4 3.4 .5 3 .3 3.2 .4 2.5 .4 3.7 .3 3.4 .5 4.4 .6 3.7 .2 3 .6 3.9 .4 4.5 .3 2.6 .5 3.4 .2 2.8 .7 4.4 .7 4.5 .5 3 .4 4.5 .7 4.4 .5 3.8 .6 3.6 .5 3.3 .5 4.3M51.2 125.4l.5 2.5 .8 2.9 .6 2.5 .9 2.7 .9 4.4 .6 2.5 1.1 4 .8 3.8 .9 3.7 .8 2.8 .9 4 .6 2.8 .8 4 .8 4.5M51.2 60l.6 3.2 .8 3.2 .8 3.4 .9 3.2 1 4.2 .8 3.4 .6 2.5 1.1 3.5 .8 3.6 .7 2.6 1.1 4 .8 3.7 .8 2.8 .6 3.1 .9 3.5 .6 2.8 1 4.4 1.1 4.5 .5 2.7 .7 3.1 .8 3.5 .9 3 1.1 4.2 .9 4 .6 3 .9 4M51.2 126.8l.5 3.1 .3 4 .7 4.1 .3 4.1 .6 3.9 .3 3.3 .5 3.3 .2 2.7 .7 4.3M51.2 142l1.1 3.4 .8 2.7 1 4.4 .9 4.2M51.2 58.9l.6 3 .7 4.4 .5 2.7 .5 2.6 .6 3.6 .7 4.1 .7 4.2 .7 3.2 .6 3.7 .8 4 .9 4.5 .8 4.1 .9 4.1 .6 3.9 .4 2.7 .5 2.5 .5 3.3 .6 2.6 .6 3.1 .5 2.6 .7 3.1 .7 3.1 .9 4.4 .7 3.5 .6 3.2 .5 2.5 .5 2.6 .9 4.1 .6 3 .6 3.2 .7 3.9 .8 4.1M51.2 155.3l.5 3.8 .5 3.7M51.2 104.7l.9 4.5 .7 4.4 .5 3.7 .5 4 .5 3.1 .3 3.7 .7 4 .4 2.9 .7 4.3 .4 2.5 .3 2.7 .3 3 .4 3 .7 3.8 .7 4.3 .7 4.1 .3 3.4 .6 4.2M51.2 141.5l.8 3.2 .9 3.7 .9 3 .6 2.6 .4 2.5 .5 2.6 1 3.9 .5 2.9 .5 2.8 .5 2.7M51.2 141.8l.6 2.9 1 3.6 .4 3 .7 2.8 .7 3.7 .9 4.5 .9 3.6 .4 2.7 .9 3 .7 3.3M51.2 102l.6 3.1 .8 2.9 .6 2.5 .9 4.4 .6 3 1 4.5 .9 4 .6 3.2 .6 3 .7 2.9 .5 3.2 .7 2.8 .7 3.5 .9 3.4 .6 2.7 .4 3.1 .8 4.2 .8 4 .5 2.7M51.2 155.4l.4 2.5 .3 4.3M51.2 75.2l.3 2.5 .4 3.2 .4 4 .3 2.7 .1 2.5 .3 3.4 .4 4 .3 3.4 .2 2.7 .8 4.2 .3 3.6 .2 2.8 .4 3.4 .4 3.3 .2 3.2 .5 4.4 .1 3.1 .6 3.2 .5 3.4 .6 3.7 0 2.8 .6 4.4 .5 4.1 .5 4.4 .4 3.6 .6 4.5M51.2 110.6l.5 3.7 .4 3.7 .3 3.7 .3 2.6 .1 2.8 .5 3.7 .4 3.5 .3 3.4 .1 3.8 .5 4.2 .3 3.3 .1 3 .6 3.2 .4 4.1 .2 3.3 .5 3.1M51.2 157.8l.5 3.7 .7 3.8M51.2 146.4l.6 3.8 .7 3.9 .5 4.3 .7 3.4 .4 2.7 .4 2.6M51.2 85.1l.6 3.1 .6 4.4 .5 2.8 .8 4.4 .5 2.9 .5 3.3 .6 4.4 .5 3.5 .8 4.4 .5 3.9 .5 3.6 .5 3.5 .4 3.9 .4 3.4 .4 3.4 .5 2.8 .5 4.2 .3 2.9 .6 2.9 .5 4.3 .4 3.3 .5 4 .4 3.1 .5 4.3 .7 4 .7 3.6M51.2 129.9l.7 4.5 .3 3.2 .7 3 .3 3.2 .5 3.9 .7 4.3 .6 3 .4 3.6 .5 3 .5 3.7M51.2 88.2l.4 3.9 .4 3.6 .4 4.4 .4 2.8 .6 3.8 .3 3.1 .5 3.3 .2 3.5 .4 2.7 .5 4.5 .6 3.8 .4 3.1 .5 3.1 .3 2.7 .7 4.3 .5 3.6 .3 4.3 .4 2.6 .6 3.5 .4 2.6 .3 3 .4 4.3 .7 4.4M51.2 92.6l.4 2.6 .7 3.9 .8 3.9 .8 3.8 .8 2.8 .6 2.6 .7 3.2 .6 3.1 .6 2.9 1 4.2 .4 2.8 .6 2.5 1 4 .6 3.1 .5 2.8 .7 2.7 .4 3 .6 3.2 .9 4.4 1 4.2 .8 3.2 .7 3.2 .8 4.1M51.2 161.8l.7 3.1 .6 4M51.2 129l.4 3 .5 3.1 .4 3.9 .4 3.5 .8 4.2 .6 4 .4 3.4 .2 3.3 .3 2.9 .6 3.8 .8 3.6 .4 3 .4 2.6 .5 3.3 .5 4.1 .6 3.6M51.2 58.3l.3 2.9 .4 3.6 .5 3.6 .2 3.3 .6 4.3 .4 3.3 .4 4.4 .3 4.4 .5 4 .5 3 .5 4.2 .4 4.1 .3 3.8 .4 3.6 .4 2.7 .6 2.7 .1 3.2 .5 3.8 .2 2.5 .5 4.2 .5 2.8 .6 4.3 .4 4.4 .4 2.6 .4 4.2 .2 3.6 .3 3.1 .4 3.5 .3 3.8 .5 2.8M51.2 87.6l.4 4 .2 2.6 .3 3.3 .6 4.2 .5 4.3 .4 3.3 .5 4.1 .5 3.7 .1 2.8 .3 3.4 .4 3.4 .4 2.5 .5 3.8 .5 3.7 .4 4.2 .6 4.3 .4 4.1M51.2 106.7l.8 3.5 .9 4.2 .3 3 .5 3 .8 3.6 .8 3.2 .7 3.2 .5 2.6 .9 3.5 .7 2.7 .7 3.5 .8 3.4 .6 2.6 .4 2.8 .6 3.2 1.1 4.3 .7 2.7 .4 2.6M51.2 116.2l.5 2.6 .4 3.5 .4 2.7 .5 3.3 .4 2.7 .4 3.2 .8 4.1 .6 4.2 .7 4.4 .5 2.7 .6 4.2 .7 3.7 .1 2.7 .2 2.9 .3 3.2 .3 2.9 .6 4.1 .5 3.9 .5 3.5M51.2 110.5l.5 2.9 .8 4 .5 2.8 .7 3.1 .4 2.9 .8 4.2 .8 3.9 .8 4.4 .6 3.9 .5 2.9 .6 3.9 .5 2.8 .8 3.9M51.2 127.1l.5 4.2 .6 3.9 .3 2.7 .5 3.8 .9 4.2 .3 2.6 .6 2.8 .5 2.9 .2 3.7 .5 2.7 .5 3.9 .4 4.1 .4 3.5 .7 3.8M51.2 159.2l.5 2.6 .5 2.7M51.2 119.3l.6 2.6 .7 3.4 1 3.9 .5 2.7 .8 2.9 .6 3.1 .6 3.4 .8 3.3 .4 2.7 .4 2.5 .9 3.7 .9 2.8 .4 3.3 .4 2.7 .8 3.8 .5 2.8 .9 4.4M51.2 111.7l.4 3 .4 4 .4 2.9 .5 4.2 .1 2.6 .7 4.4 .4 2.6 .6 4.2 .1 3 .3 2.8 .4 4.1 .4 4.3 .6 3.9 .5 4.1M51.2 143.5l.4 2.9 .5 3.3 .4 3.6 .3 2.7M51.2 92.6l.6 4.1 .2 2.7 .7 4.3 .5 2.5 .8 3.8 .5 4.2 .3 4.1 .5 3.8 .4 3 .2 2.7 .5 3.9 .8 4.5 .2 3 .5 3.9 .6 4.3 .7 4.4 .4 2.9 .5 3.7 .5 4.1M51.2 149.3l.5 4 .3 3.9 .6 3.7M51.2 151.4l.5 4 .6 3.1 .5 2.7 .6 4 .7 2.8 .3 2.7 .5 3.7M51.2 146.1l.4 2.9 .4 2.7 .1 3.3 .6 4.5 .6 3.6M51.2 122.8l.3 3.4 .7 4 .5 3.2 .7 3 .2 2.6 .6 2.8 .6 3.1 .4 2.8 .8 3.5 .7 3.6 1 4.4 .4 2.6 .8 2.9 .6 4 .7 3.2 .6 2.7 .7 3.7 .3 3.3M51.2 104.5l.4 2.6 .6 4.2 .3 2.7 .6 2.7 .7 3.1 .7 3 .3 3.1 .7 3.5 .6 3.7 .5 3.1 .7 3.4 .6 3.1 .4 3.6 .7 4.2 .6 3.7 .4 2.8 .6 3.3 .6 2.9M51.2 140.8l.9 3.7 .6 2.8 .7 3.3 .9 4.3 .7 3.1 .8 4 .9 4.4 .8 3.4M51.2 139.7l.9 3.2 .8 4.1 .7 2.9 .8 2.7 .6 2.9 .9 3.8 1 4.4M51.2 137.6l.2 2.6 .3 2.7 .4 2.5 .5 2.8 .3 2.6 .7 4.2 .7 4.2 .5 2.6 .5 4.2M51.2 152.4l.5 4.1 .4 2.7 .3 3 .6 3.6 .4 3.5M51.2 132.6l.5 4 .4 2.6 .5 3.3 .7 3.8 .6 4.1 .7 2.9M51.2 142.9l.8 3.7 .8 3.1M51.2 132.4l.9 4 .6 3.2 .6 2.8 .6 2.9 .6 2.8 .6 3.9M51.2 68.4l.7 4 .4 3.6 .7 4.3 .4 3.7 .6 3 .2 2.5 .5 2.8 .5 4.3 .6 3.6 .4 3.6 .8 3.6 .3 3.4 .4 4 .6 3.6 .6 4.1 .4 3 .5 2.8 .5 3.9 .6 3.6 .4 3.9 .6 3.1 .7 3.9 .6 3 .7 3.4 .6 3.6 .4 3.6 .6 4.4 .6 3.9 .8 4.4M51.2 110.2l.7 4.5 .8 3.7 .8 3.5 .8 3.3 .6 3.2 .5 3 .5 3.3 .8 4 .6 3.4 .6 2.8 .7 3.2 .5 2.8 .4 3.5 .5 3.2 .6 3.8 .4 3 .6 2.9 .8 3.1 .6 2.8 .6 4.4M51.2 97.3l.8 3.6 .5 2.6 .7 4 .5 3.2 .8 4 .9 4.4 .4 2.7 .4 3.5 .5 3.7 .6 3.1 .8 3.6 .6 2.6 .6 3 .6 3.7 .6 3.1 .6 3 .2 2.9 .5 2.5 .5 3.4 .6 3.1 .5 3.1 .8 3.2 .6 3.7M51.2 153.3l.3 3.3 .5 2.7 .5 3.7 .6 4.4 .2 3.2 .4 2.6M51.2 155.8l.7 3.3 .5 2.8 .8 3.8 .6 3.6 .4 2.6M51.2 109.2l.6 4.1 .3 3.7 .6 3.4 .2 3.4 .2 4 .4 3 .6 4.2 .5 3.5 .4 3.2 .2 2.8 .5 2.7 .6 3.7 .5 2.6 .5 3.5 .3 4M51.2 109.9l.6 2.7 .6 4.1 .6 3.1 1.1 4.4 .8 4 .8 3.9 .6 4.2 .4 2.9 1 4 .9 4.5 .6 3.1 .7 2.8 .6 3.5 .6 3.3M51.2 139.8l.5 3.8 .2 2.6 .3 3.1 .3 3.9 .5 3.3 .5 4 .5 2.9 .5 4.2 .3 3.9M51.2 88.7l.7 3.2 .6 3 .6 3.6 .4 2.6 .8 4 .6 2.8 .5 2.9 .6 3.9 .5 2.5 .9 4.5 .6 4.5 .7 3.7 .5 3.1 .6 3.4 .3 2.9 .6 2.9 .6 4.4 .8 4.1 .6 3.5M51.2 126l.8 3.5 .9 4.1 .9 4.2 .7 3.4 .8 3.4 .7 2.9 .8 3.4 .9 3.5 .5 2.8 .5 2.5 .8 4.2 .8 4.3M51.2 149.7l.7 3 .5 3.7 .7 4.1 .7 3.8 .5 3.3 .3 3.4 .4 3.7M51.2 59.9l.7 3.7 .4 2.7 .7 4.3 .4 3.2 .7 3.3 .4 2.9 .6 2.8 .7 3.2 .7 2.7 .2 2.6 .6 3.3 .8 3.2 .7 4.2 .5 3.1 .9 4.3 .6 2.6 .7 4.5 .8 4 .5 2.6 .5 3.4 .2 2.9 .8 3.6 .4 2.7 .3 2.9 .6 2.6 .7 3.4 .5 3.1 .9 4.5 .6 4 .8 4.4M51.2 147l.6 2.9 .4 2.6 .4 2.5 .7 3.1 .9 3.9 .6 2.8 .9 2.9 .5 3.3 .7 3.7 .7 3.2M51.2 71.8l.7 3.2 .8 3.1 .5 3.4 .4 3.1 .7 3.9 .5 2.6 .5 2.8 .5 2.8 .5 3.3 .5 3.9 .6 4.1 .8 4.2 .7 3.9 .5 3.4 .8 4.3 .9 4.2 .9 4.5 .4 2.7 .6 4 .7 4.1 .7 3.3 .5 3.6 .9 3.7 .3 2.6 .7 3.3 .4 3.7 .6 2.8M51.2 147.9l.2 4 .5 3.2 .5 2.9 .5 3.5M51.2 92.2l.8 2.7 .9 3.3 1.1 3.6 .6 2.6 .8 3.2 .9 4.5 1.1 3.9 .5 2.7 .8 3.8 1 3.7 1.1 4.4 1.1 3.8 .9 4 .9 3.4 1 4 1 3.7 .6 2.7 .9 3.9 1.2 4.2 1 3.2M51.2 145.2l.5 4 .5 3.9 .4 3 .4 4.2 .5 4 .4 2.9M51.2 121.4l.5 3.4 .4 2.8 .3 2.9 .1 2.6 .7 4.4 .6 3.8 .3 3 .6 4.4 .4 4M51.2 155l.8 4.1 .3 2.8 .6 4.2 .7 4.3 .6 4.3M51.2 153.3l.7 3.1 .7 3.9 .9 4.1 .6 4 .5 3.4 .4 2.6 .5 3.3M51.2 140.9l.8 4.3 .6 4.3 .6 2.8 .6 3.5M51.2 105.2l.3 2.9 .7 4.1 .6 4 .3 3.3 .5 2.6 .6 4.3 .7 4.4 .5 3.6 .4 2.7 .5 3 .6 2.6 .6 4.2 .4 3 .8 4.2 .5 3 .8 4.4 .5 2.8 .5 3.7M51.2 84.2l.7 3.9 .4 2.9 .4 2.5 .8 4.3 .7 2.8 .5 4.4 .4 2.5 1 4.4 .7 3.4 1 4.5 .5 3 .5 2.7 .5 3.5 .8 4.5 .8 3.9 .6 3.1 .5 3.3 .7 4.4 .5 2.9 1 4.4 .8 4.1 .5 3.2 .9 3.8M51.2 53.7l.3 2.8 .3 3.2 .4 3.6 .5 4.2 .6 4 .4 3.8 .3 2.7 .4 2.8 .4 3.8 .2 2.9 .7 4 .3 2.6 .5 3.6 .2 2.9 .5 4.5 .4 4.1 .4 3.5 .5 4 .6 4.4 .1 2.7 .5 3.2 .6 3.4 .5 3.5 .4 3.3 .3 3 .4 3.9 .6 3.3 .6 4.4 .4 4 .1 3.9 .4 3.8M51.2 69.6l.3 2.7 .6 3.5 .4 3.7 .3 2.8 .6 3 .3 2.8 .4 3.4 .4 4.4 .2 2.7 .4 2.9 .7 4.4 .4 2.6 .4 2.6 .7 3.6 .4 3.5 .5 2.8 -.1 3.1 .6 4.2 .2 2.7 .8 4 .8 4.3 .5 3.7 .4 3.2 .5 2.9 .5 3.3 .7 4.4 .5 3.6 0 3.2M51.2 95.7l.4 4.2 .5 2.6 .4 4.2 .3 4.2 .4 2.8 .3 2.8 .1 2.5 .3 3.6 .2 3.3 .3 3.9 .2 3.3 .3 4.3 .4 4.4 .3 4.3 .5 2.9 .5 4.1 .5 4.5 .3 4.5M51.2 72.7l.5 4 .5 2.6 .4 3.1 .3 3.8 .5 4.1 .3 3.9 .3 3 .6 4.1 .4 3.3 .2 3.1 .5 3.8 .5 3.8 .2 3 .3 3 .5 3.6 .6 3.1 .1 2.8 .3 2.8 .2 3.2 .5 2.8 .4 3.3 .4 3.3 .3 2.8 .5 3.5 .3 3.1 .3 2.7 .5 3.9 .2 3 .4 3.2 .3 3.7M51.2 107.3l.4 2.7 .6 4.4 .4 4 .3 2.9 .2 3.1 .3 2.6 .5 3.3 .6 4.3 .4 3.1 .5 4 .4 3.5 .4 2.5 .4 3.5 .4 3.5 .5 3.9 .5 3.6 .5 3.6 .7 4.3 .4 2.8M51.2 99.5l.7 3.2 .2 3.3 .8 4.5 .5 4.3 .6 4.1 .2 2.5 .5 3.7 .7 3.9 .4 3.6 .3 2.8 .4 2.6 .4 3.3 .5 3.1 .7 3.9 .3 2.6 .6 4.2M51.2 100.1l.9 3.7 .6 3.5 .8 3.7 .8 2.7 .9 4 .9 4.2 .4 2.7 .5 3.1 .7 3.2 1 3.6 .9 3.6 1 3.8 .8 4.1 .8 3.4 .6 2.7 .9 3.8 .6 3 .7 2.8 .7 3.9 .8 3.8 .5 2.9 .9 3.2M51.2 75.4l.5 4.4 .4 3.6 .5 3 .6 2.9 .8 4.5 .6 4 .4 3.6 .4 3 .4 2.7 .4 3.2 .4 4.3 .7 4 .6 2.7 .4 2.6 .6 3 .2 3.3 .5 4.1 .3 3.6 .3 3 .7 4.3 .1 3 .2 2.6 .6 3.7 .4 3.1 .3 3.5 .3 4 .8 3.6 .7 3.7M51.2 63.6l.9 3.8 .6 3.7 .5 3.7 .9 4.3 .6 3.1 .6 3.2 .6 4 .7 3.9 .8 4.4 .7 3.4 .7 4.1 .6 4.1 .4 2.6 .6 4.2 .5 4.4 .7 4 .4 2.7 .3 3.4 .4 3.2 .9 3.6 .7 4.1 1 4.2 .7 3.3 .7 3.4 .5 3.5 .8 4.1 .7 4.4 .9 4.2M51.2 96.3l.4 3.3 .2 2.5 .8 3.6 .4 3.3 .8 3.4 .1 2.5 .5 3.1 .5 3.4 .5 3 .7 4.4 .5 4.4 .5 2.9 .4 3.9 .5 3.5 .7 4.3 .8 4.2 .6 3.3 .5 4 .6 3.3 .6 4.3 .6 3.8 .4 4.1M51.2 135.7l.4 3.2 .7 4.4 .5 2.8 .5 3.4 .8 4M51.2 98.9l.5 3 .5 3.7 .4 3.1 .4 3.1 .8 4.3 .7 4.1 .5 3.6 .6 4.1 .7 4.1 .4 2.9 .2 2.6 .5 3 .5 4.4 .5 3.6 .6 2.8 .5 3.7 .6 3.9 .5 3.3 .4 3 .5 2.8 .5 2.9M51.2 108.2l.7 3.5 .8 4.4 .6 3.6 .4 2.7 .7 3.1 .7 2.8 .7 4.1 .7 2.6 .7 4.1 .6 3.2 .8 4 .8 3.1 .9 4.3 .7 3.2 .7 2.9 .7 2.9 .9 3.5M51.2 125.8l.4 3.6 .4 4 .4 2.7 .5 3.3 .5 3.3 .3 4.4 .6 4.1 .5 4.2 .5 4 .1 3.3M51.2 108.9l.9 4 .6 3.5 .7 3.2 1 4.1 .8 3.5 .7 3.4 .9 3.5 .9 2.9 .6 2.9 .8 3.7 .5 2.6 .6 3 .9 4.4 .6 3.2 .9 4.1 .9 3.9M51.2 100.7l.5 3.1 .8 4.4 .7 3.9 .5 2.9 .8 4.1 .8 4.4 .7 3.1 .8 3.8 .7 2.9 .8 2.8 .5 3 .9 4.4 .5 2.9 .8 4.5 .8 4 .8 4.3 .6 3.3 .6 3.3 .7 3M51.2 57.7l.6 4.1 .8 4.3 .5 3.3 .3 2.6 .7 4.5 .6 3.7 .5 3 .4 2.6 .6 3.2 .6 3.3 .6 3.5 .7 4.3 .3 2.9 .5 2.7 .6 3.3 .4 3.2 .3 3.1 .7 3.7 .8 4 .6 4.2 .6 3.1 .4 3.2 1 4.2 .4 3.7 .6 4 .7 3.9 .5 3.4M51.2 153.8l.4 3.7 .6 3.1M51.2 111.9l.4 3.5 .6 3.7 .4 3.4 .5 3.5 .6 3.7 .4 4.5 .6 3.8 .1 3.7 .5 3.7 .5 2.6 .5 4.1 .6 3.1 .4 3.4 .5 4.3 .4 3.3 .3 3.5M51.2 153.7l.7 2.9 .9 3.1 .9 3.5 1.2 3.8 1.1 4.4 .7 2.7 1 4.1M51.2 127.5l.3 3 .6 3.8 .7 4.3 .6 4.2 .3 3 .6 4.2 .5 3.9M51.2 79.6l.5 4.4 .4 3.1 .7 4.2 .4 2.6 .4 3.3 .7 4.1 .4 3 .6 2.9 .7 4.3 .5 3.5 .7 4.2 .4 3.4 .4 3.4 .4 2.6 .5 2.7 .5 2.8 .5 3.4 .5 3.7 .6 3.9 .1 3.2 .4 2.9 .6 4.4 .6 4.4 .4 3.9 .5 4.4 .4 4.1 .5 4.4M51.2 86.6l.7 4.4 .6 3.6 .4 2.7 .6 4 .7 3.7 .4 2.9 .5 3 .4 2.7 .7 4.1 .7 4.1 .7 3.3 .6 3.6 .5 3.1 .6 3.7 .5 2.9 .6 4 .8 4.4 .2 3.4 .5 3.4 .6 3.2 .8 4 .3 2.8 .4 3.4 .7 4.4 .5 2.9 .5 3.5 .7 3.5 .6 3.5M51.2 150.3l.5 3.2 .2 3 .2 2.5 .2 2.8 .3 2.7 .3 4 .4 3.5 .4 3.1M51.2 62.8l.3 3.1 .5 3.3 .3 2.9 .5 3.7 .2 3 .6 4.2 .5 2.9 .5 3.6 .2 2.7 .5 4.3 .6 3.7 .5 3.9 .5 3 .8 4.2 .9 4.4 .5 3.7 .4 4.1 .4 2.6 .2 3.4 .5 3.5 .6 4 .4 3.6 .6 3.9 .7 4.3 .7 3.2 .6 4 .7 3.3 .5 3.6 .6 2.9 .8 4.2 .5 3.9M51.2 100l.9 3.3 .8 3.5 1 4.2 .6 3 .5 2.7 1 4 .9 3.7 1 4.4 .7 3.1 .6 3 .7 3.1 .7 3.2 .8 3.8 .9 3.4 .9 3.4 .7 2.9 .9 3.5M51.2 87.6l.5 3.7 .5 3.7 .7 4.5 .5 4.3 .3 3.1 .4 3.2 .5 4.1 .7 3.7 .4 2.8 .6 3.6 .3 3.2 .7 4.2 .5 2.8 .5 4.4 .4 3.7 .6 3.8 .4 3.2 .6 3.3 .4 4.3 .5 4.2 .5 2.6 .3 4M51.2 132.3l.6 4.4 .4 3.9 .4 3.9 .6 3.7 .3 2.6 .4 2.8 .5 3.3 .4 3.1 .5 3.9M51.2 158.7l.4 3.7 .5 3.2M51.2 121.3l.5 2.7 .8 4.1 .9 4.4 .9 3.3 1 4 .9 3.7 .7 3.6 .9 4.4 .9 4.3 .9 4.1 .6 3.2 .8 4.3 .8 4 .8 3.8 .7 3.6 .8 4.2M51.2 138.2l.7 3.1 .8 4.2 .3 2.9 .6 4.5 .7 3.6M51.2 152.2l1.2 4.4 1 3.4 .8 3.3 1 2.9 .9 3.8 .9 4.2 1.2 3.6M51.2 109.4l.8 3.4 1.1 3.8 .8 3.7 .9 4.2 .9 3.9 .6 3 1.1 3.3 .8 3.6 1.1 4.1 .8 3.3 .7 3.2 .7 3.2 1 3.9 .8 2.9 1 4 .9 2.9 .8 3.4 1.1 4.1 .6 2.6 .7 3.3 .9 3.5 .8 2.7M51.2 108.7l.8 4 .7 3.5 .6 2.6 1 4 .8 4.4 .8 2.8 .5 2.5 1 3.5 .6 3.3 .9 4.4 .8 3.7 .7 3.4 .5 2.9 .9 4.3 .9 3.8 .6 3.6 .2 3.1M51.2 133.3l.5 3.5 .5 2.6 .2 2.6 .4 3.7 .5 3.3 .4 3.6 .4 2.8 .4 4.4 .3 2.6 .4 3.6 .6 4.4 .5 4M51.2 86.6l.6 3.1 .4 2.7 .4 3.6 .3 3.9 .6 3.9 .4 4.1 .5 4.1 .3 2.8 .3 4 .4 3.6 .5 3.6 .5 3.7 .2 2.9 .5 4 .3 3.1 .4 2.7 .4 3.9 .7 4 .6 3.1 .2 2.7 .6 4.2 .6 4.3 .4 2.6M51.2 90l.8 4 .5 3.4 .8 3.5 .6 3.7 .6 3.4 .5 3.1 .5 3.9 .5 2.5 .5 2.7 .5 3.8 .7 3 .9 4.2 .6 2.7 .4 3.1 .5 3 .7 4.2 .6 3.1 .4 4 .7 2.9 .8 4.3 .6 4.2M51.2 159.4l.5 4 .8 3.9 .3 2.8 .5 2.5 .4 3.2 .4 3.2 .7 3.8 1 4.3M51.2 54.9l.3 2.6 .4 2.6 .1 2.8 .4 3.2 .5 3.1 .8 3.2 .4 2.9 .6 4.2 .4 3.2 .4 4.3 .4 3.5 .3 3.1 .4 4.2 .6 3.6 .3 2.8 .8 4.2 .3 2.7 .5 3.7 .6 4.1 .6 3.2 .4 2.6 .3 2.9 .5 3 .4 3.5 .5 3 .6 4.3 .5 3.1 .5 4 .6 4.4 .5 3.4 .5 3 .7 3.6 .5 2.6M51.2 161.4l.7 3.7 .8 3.9 .6 2.5 .4 3.4M51.2 101.7l.7 4.2 .4 3.1 .5 3.4 .6 4.2 .7 3.1 .4 3 .7 3.5 .8 4.2 .5 2.7 .5 4.3 .6 3.1 .6 3.1 .8 4.4 .4 3.9 .5 3.4M51.2 74l.2 3.2 .2 2.5 .2 2.9 .3 3.2 .6 3 .3 3.9 .6 2.8 .3 4.4 .4 3.2 .5 3.7 .4 3.5 .6 2.7 .5 3.4 .1 2.8 .3 3 .5 4.2 .2 2.8 .5 3.5 .5 3.9 .4 4 .4 2.6 .4 3.4 .8 4.4 .4 3.3 .5 3.5 .4 3 .7 4.5M51.2 148.7l.4 3.3 .3 2.7 .7 3.3 .7 3.3 .6 4.5 .7 2.9 .8 4.4 .7 3.5 .9 4.4M51.2 79.9l.5 4 .7 4.3 .7 3.5 .4 3.7 .5 2.8 .7 4.3 .6 4.1 .4 2.9 .6 3.6 .7 4.3 .6 3.9 .5 3.5 .8 4.4 .5 3 .5 4.3 .5 3.8 .4 2.9 .4 3.2 .4 3.8 .4 3.4 .5 3.3 .3 2.9 .6 3.2 .7 4.4 .1 2.7M51.2 128.1l.5 3.8 .5 3.2 .6 3.6 .2 2.6 .4 3.4 .5 4.2 .4 3 .2 2.7 .3 3.7 .7 4.1M51.2 65.7l.4 2.7 .5 3.8 .5 3.5 .4 2.6 .5 4.4 .5 3.1 .6 4.2 .8 4.3 .2 2.9 .4 2.6 .8 4.2 .5 3.8 .7 3.3 .4 2.9 .4 3 .4 2.6 .7 3.3 .5 3 .3 3.2 .6 3.3 .4 2.5 .6 3.8 .6 3.7 .4 4.1 .4 2.7 .6 3.6 .5 3.6 .4 4.1 .5 4.2 .6 4.2M51.2 143.6l.7 2.9 .5 4.3 .5 3.6 .4 4.2 .6 3.6 .5 3.5 .3 2.8 .6 3.9 .3 2.7M51.2 86.5l.5 3.7 .8 4.3 .5 2.7 .4 2.8 .7 4.2 .4 2.9 .6 3.5 .5 2.7 .7 3.5 .4 3.3 .7 3.2 .4 2.7 .9 4.4 .8 4.3 .7 3.9 .6 3.9 .5 3.5 .5 2.6 .6 3.6 .7 4.2M51.2 70.4l.5 4.4 .3 4.2 .5 3 .3 2.6 .5 3.2 .6 3.8 .4 2.6 .3 3.7 .6 4.1 .5 3 0 3.5 .6 3.7 .5 4.3 .6 3.9 .5 4.1 .4 3.4 .1 3.3 .3 4.2 .4 4 .5 4.1 .3 4.2 .6 4.2 .2 2.6 .7 2.6 .5 4 .6 3 .3 3.5 .5 3.5M51.2 123.8l.8 3.8 .6 2.6 .8 4.4 .6 4.4 .6 3.1 .6 3.1 .2 2.6 .6 3.3 .5 3.8 .6 4.1 .8 4.1 .5 3.8 .8 3.9 .5 3.3 .4 2.5M51.2 153l.5 3.8 .4 3.4 .3 3.5 .4 2.8 .5 3.6 .4 3.3 .5 4 .5 4.5M51.2 95l.7 4.3 .5 3.4 .6 3.7 .4 3.9 .6 2.7 .5 3.4 .5 3.4 .6 4.4 .8 4.1 .5 3.6 .6 3.8 .3 3 .4 2.5 .6 3 .1 2.8 .6 3.6 .3 3.2 .8 3.9M51.2 103.2l.5 3.4 .8 4.4 .3 3.2 .7 4.2 .4 3.3 .5 3.8 .4 3.1 .5 3.9 .5 2.6 .2 2.8 .4 3.6 .5 3.7 .3 3.6 .7 4.3 .4 3.1 .7 4 .4 4.1M51.2 129.5l.6 2.7 .7 2.9 1 3 .8 4 .6 2.7 1.1 4.5 1.1 3.8 .7 2.6 .7 2.7 .8 2.8 1.1 4.4M51.2 133.5l.4 4.5 .3 3.1 .5 4.3 .6 3.4 .5 2.6 .1 2.6 .2 3.5M51.2 119.4l.5 4.4 .4 4.3 .4 3.8 .5 4.1 .5 3.8 .8 4.4 .3 2.6 .5 3.4 .5 4.1 .4 3.1 .5 3.8 .8 3.8 .5 4.1 .4 3.3 .4 2.7 .2 2.5 .6 3.7 .4 3.1M51.2 157.5l.5 3.6 .6 4.4 .5 3.4M51.2 89.9l.5 4.3 .5 4 .2 2.9 .2 2.5 .7 3.5 .5 3.9 .3 3.3 .4 4.2 .6 4.5 .4 2.8 .3 3.3 .7 3.6 .7 3.8 .5 4.4 .3 3.4 .3 4.5M51.2 138.4l.6 3 .7 2.8 .7 3.5 .5 2.8 .6 3.8 .6 3.8 .6 4 .7 3.2 .5 3.5M51.2 115.4l.6 3.3 .6 4 .5 3.3 .4 3.4 .4 2.7 .3 2.8 .5 4.5 .6 4.2 .5 3.4 .5 4 .5 3.8 .5 2.6 .6 4.4 .5 4 .3 3M51.2 108.4l.6 3.8 .5 4.5 .4 3.2 .3 2.8 .7 3.5 .5 2.6 .5 3.6 .5 3.3 .4 3.1 .4 2.8 .3 3.3 .4 3.5 .5 3.4 .4 4 .5 4 .5 2.9 .3 2.9 .3 2.7 .6 4.4 .5 4.5M51.2 116.9l.8 3.7 .5 3.8 .5 2.7 .7 3.8 .6 3.1 .5 3.9 .3 3 .5 3.8 .7 4.4 .9 4.4 .8 4.1 .6 3.6 .5 3.5 .8 3.4 .7 4.2M51.2 156.3l.6 3.6 .3 3.4 .8 2.9 .6 3.5 .7 4.2 .7 2.7M51.2 108.9l.7 3.5 .5 4.2 .3 2.6 .5 4.4 .5 3.2 .3 3.6 .6 4 .7 4.3 .4 3.8 .4 2.5 .6 3.9 .5 3.9 .5 3.7 .5 3.8 .3 4.2M51.2 141.2l.2 3.2 .1 3.3 .6 4.1 .4 3 .5 3.2 .5 3.6 .1 3.9M51.2 156.7l.5 3.8 .4 3.6 .5 4.2M51.2 142.3l.5 3.1 .6 2.7 .4 3.2 .7 3.2 .6 3.2 1 4.3M51.2 109.3l.3 3.2 .6 2.5 .6 3.3 .5 4 .7 4.1 .4 2.6 .6 3.8 .6 4.4 .5 3 .5 2.9 .6 4.2 .5 2.6 .3 2.6 .6 4.4 .5 2.8 .5 3.6 .4 3.4 .3 2.8M51.2 127.3l.8 4.3 .6 4 .7 4.3 .5 2.8 .8 4.2 .5 3.1 .4 2.6 .9 4.4 .7 4.2 .6 4.4 .5 3.4M51.2 69.8l.3 3.1 .4 3.1 .4 3.3 .3 2.8 .6 4.2 .3 2.7 .5 3.2 .5 4 .5 4.5 .2 4.3 .5 4 .6 3.8 .5 3.6 .3 3.2 .6 4.4 .5 3 .5 3.8 .8 4.1 .5 3.7 .7 4.5 .3 4 .3 3.2 .5 4.4 .3 4.1 .3 2.6 .4 2.5 .2 2.6 .9 4.4M51.2 150.9l.5 2.6 .7 3.8 .7 3 .5 4.5 .9 4.5 .9 4.3 .8 3.8 .6 2.7 .5 3.5 .8 4.3M51.2 154.1l.4 2.6 .4 3.5 .5 3.4 .6 3.9 .4 3.3 .3 4.1 .5 3 .5 4.3M51.2 144.3l.4 3.4 .4 3.6 .4 2.6 .3 3.7 .3 2.9 .5 4.4 .5 3.7 .4 3.6 .2 2.9 .5 3.7M51.2 52.3l.3 3.8 .2 3.5 .6 4 .2 3.6 .3 3.6 .6 4.5 .3 3.5 .4 3 .3 2.6 .4 4.2 .2 2.6 .8 4.4 .4 4.5 .5 3.4 .6 4 .3 2.9 .4 3.5 .3 3.4 .5 3.5 .2 3.6 .3 3 .5 4.3 .3 2.7 .4 3.1 .4 2.9 .4 3 .4 3.1 .5 3.4 .5 3.4 .3 2.9 .2 2.7 .3 2.9 .5 3.8 .1 2.8 .6 3.5 .2 3.5 .5 3.1 .5 4.1 .3 3.2M51.2 62.2l.7 3.6 1.2 4 .7 3.8 .6 2.6 .7 3 .7 4.2 .7 2.7 .7 2.5 .6 2.8 .6 3.4 1 4.4 .6 2.9 .8 4.2 .6 2.6 .9 3.1 .7 2.9 .5 2.9 .6 3.2 .8 3.1 1.1 4 .6 3 .9 3.8 .8 4 .5 2.6 .8 3.3 .6 3.7 .6 2.6 1 4.2M51.2 64.8l.4 2.9 .5 4.1 .4 3.2 .4 2.9 .7 4.4 .3 3 .5 3.7 .5 3.4 .1 2.7 .2 2.5 .3 3.2 .3 3.4 .3 2.7 .7 4.4 .6 3.9 .2 3 .3 3.2 .5 4 .4 3.2 .5 2.5 .4 4.1 .3 3.6 .2 3 .4 2.5 .4 3.3 .5 3.6 .4 4.1 .5 4.2 .2 3 .3 3.9 .5 3.2M51.2 99.2l.7 3.4 .5 4.1 .1 2.9 .6 4.3 .4 2.6 .5 2.9 .4 3.7 .3 2.5 .3 2.9 .5 2.9 .4 2.6 .5 2.6 .3 2.8 .3 3.7 .7 3.6 .3 3.5 .1 2.9 .3 2.8 .3 2.6 .4 3.3 .3 2.7 .4 3.2 .3 3.7 .4 3.5M51.2 96.7l.5 2.9 .6 4 .2 2.7 .6 4.1 .5 2.8 .4 4.1 .3 2.7 0 2.7 .4 3 .3 2.8 .3 2.7 .5 3.3 .6 3.6 .4 2.8 .4 3.8 .3 3.7 .5 3.4 .4 4.3 .3 3.3 .4 4.1 .3 2.6 .5 4.4 .3 3 .4 4.3 .5 3.9M51.2 146.8l.5 3.7 .5 4.1 .4 3.4 .6 4.3 .4 3 .3 3.2 .2 3.5 .5 3.2 .4 3.9 .4 3.1M51.2 53.2l.7 2.7 .9 4.4 .9 4.2 .7 3.4 .6 3.2 1 4.3 .5 2.7 .7 2.9 .9 4.5 .8 3 .8 3.3 .9 2.9 .7 3.1 .6 3.3 .9 3.1 .8 2.7 .9 3.9 .7 2.6 .8 3.8 .5 2.7 .8 3.4 .7 2.9 .8 3.3 .4 2.8 1.1 4.4 .5 2.8 .9 3.8 .6 3.5 .7 3.7 1 4.3 .6 2.8 .5 2.8 .6 3.6M51.2 85.6l.6 2.6 .7 4 1 4.2 1 4.2 .6 3.4 .6 2.9 .7 3.8 .5 3.1 .4 2.9 .5 3.7 .5 2.5 .8 4.1 .7 3.4 .8 3.4 .7 4.4 .7 3.3 .6 3.5 .7 3 .5 2.7 .5 4 .8 4.5M51.2 120.5l.2 3.8 .2 2.7 .3 2.6 .7 4.3 .7 3.3 .4 4 .5 4.1 .1 3.2 0 2.9 .4 2.9 .3 3.1 .3 2.9 .3 2.6 .6 3.2 .4 3.5 .5 4.4M51.2 128.2l.6 2.7 .4 3.6 .8 3.6 .5 2.8 .7 3.9 .3 2.9 .4 2.7 .5 3.4 .6 2.9 .4 3.6 .6 4.2 .4 4.3 .5 3.4 .4 2.7 .6 3.5 .6 2.9 .8 4.2M51.2 161.8l.6 3 .7 3.1 .8 4.2 .8 4.3M51.2 89.9l.4 2.8 .6 3 .6 4.1 .3 3.7 .6 4.1 .5 4.3 .5 3.9 .2 3.2 .3 3.1 .4 2.9 .7 4.3 .5 4.4 .6 4.2 .4 3.6 .6 4.2 .6 4 .8 4.3 .2 2.7 .5 2.6 .4 4.4 .4 3.6M51.2 92.1l.8 3.5 .5 3.2 .7 2.9 .3 2.9 .5 3.3 .8 4.5 .5 3.4 .8 4.2 .4 2.7 .4 2.5 .8 4.3 .6 3.6 .6 3.5 .7 4 .6 4.3 .8 3.3 .7 3.8 .8 3.3 .9 3.8 .8 3.8 .6 3.6 .5 3.2M51.2 108l.3 3 .5 2.7 .3 3.1 .5 4.5 .2 2.6 .4 4.2 .5 4 .3 3.9 .8 4.2 .6 4.2 .3 3.3 .2 4.1 .5 3.8 .6 4.3 .5 4.1M51.2 103l.5 3.1 .4 2.6 .6 4.4 .5 3.7 .2 3.4 .6 4.1 .4 4.4 .6 4.1 .3 3.3 .5 3.9 .3 2.5 .3 2.9 .3 3.8 .7 4.1 .4 4.4 .7 4M51.2 134.9l.7 4.1 .6 3.7 .7 4 .9 4 .5 2.5 .8 4.1 .5 3.1 .6 3.3 .6 3.1 .6 4.2 .4 2.5M51.2 82.2l.9 3.6 .9 3.8 .9 3.7 .7 3 1.2 3.9 1 4.2 .9 3.2 .5 2.7 1 4.4 1 4 1 4.1 1.1 3.5 1 3.2 .8 3.4 .7 3.2 .9 3.4 .7 3.8 .8 2.9 .8 2.8 1.1 3.4 .6 3 1.2 4.3 .5 2.8M51.2 158.9l.7 3.5 .8 3.1 1 4.5 .4 2.6M51.2 116.3l.3 3.5 .2 2.8 .6 4.5 .3 3.8 .5 2.8 .2 2.6 .4 3.9 .4 3.7 .4 3.6 .6 3.1 .3 3 .5 4.2 .1 3.2 .8 3.3 .2 2.8 .2 3.4 .5 4.2M51.2 155.6l.5 4.1 .5 3.3M51.2 55.3l.5 3.6 .8 3.9 .4 3.4 .6 3.3 .4 3.8 .5 3.6 .5 2.8 .8 4.3 .3 3.9 .7 4.3 .4 2.9 .5 3.4 .6 3.3 .3 3.5 .4 3.4 .5 4.2 .7 3.6 .7 3.7 .7 3.1 .5 3.6 .4 3.5 .4 4.1 .6 3.9 .3 3.7 .4 2.5 .5 3.3 .5 3.3 .6 4 .4 2.9 .5 2.9M51.2 86.5l.4 4 .3 3.4 .5 3.3 .4 4.1 .3 3.3 .4 4 .3 3.2 .5 4.2 .3 3.2 .2 3.5 .3 3 .3 3.3 .2 3.8 .4 3.3 .6 4 .3 3.4 .4 4 .3 4 .3 4.5 .4 2.7 .4 3.8 .4 3.1M51.2 73.1l.4 3.2 .5 3.6 .5 3.4 .4 4.4 .6 4.4 .2 3.5 .7 3.8 .6 3.7 .1 3.3 .6 2.6 .7 4.3 .6 4.1 .5 3.7 .2 2.7 .5 4.4 .5 4.4 .4 2.6 .5 2.8 .5 4 .8 4.2 .5 2.7 .2 3.5 .3 2.9 .2 2.7 .3 3.2M51.2 54.9l.6 3.6 .5 2.7 .5 3.6 .8 3.8 .8 4 .8 2.6 .5 2.5 .7 3.8 .6 3.2 .7 4.3 .9 4.4 1 4 .8 4.3 .6 2.6 .6 3.4 1 4.4 .9 4.2 .7 2.7 .9 3.5 .6 3.6 .7 2.7 1.1 4.4 .6 3.4 .8 4 .7 2.6 .5 4 .6 3.3 .8 3.8 .8 4.1 .6 3.1M51.2 111.1l.9 3.9 .5 3.2 .9 4.2 .6 2.6 .7 3.4 .6 3.8 .7 3.5 .8 3.2 .4 2.7 .5 4 .8 4 .8 4 .8 3.7 .9 3.3 .7 3.1M51.2 106l.8 4.1 .7 4.5 .6 4 .5 3.3 .4 3.1 .5 3.5 .5 2.6 .4 2.6 .6 4.1 .6 3.8 .5 2.7 .7 3.9 .5 4.4 .7 4 .7 4.5 .3 2.7 .5 2.7 .6 3.7 .4 2.5 .4 3.4 .3 3.1 .4 4 .4 3.2M51.2 158.7l.5 4.3 .3 4.2 .4 4.2M51.2 81.7l.9 3 .5 2.7 .7 3.1 .8 3.9 .9 4.4 1 4 .5 2.6 .8 4 1 4.1 .7 4 .6 3.6 .9 3.8 1.1 4.5 .8 3.6 1.1 4.3 1 4.3 1 4.1 1 3.9 .7 4 .9 3.9 1 4.2 1 3.6M51.2 87l.8 4.3 .7 4.3 .4 3.4 .5 3.2 .8 4.5 .6 2.8 .6 4 .7 4.2 .8 4.4 .4 2.8 .6 3.9 .9 4.5 .6 3.5 .2 2.6 .7 2.6 .4 3.7 .5 4.2 .4 2.7 .5 3.4 .6 3.9 .6 4.3 .5 2.7 .4 3.3 .4 3 .4 4.2 .5 3.7 .6 2.9M51.2 86.3l.6 2.9 .6 3.8 .5 2.7 .5 3.3 .6 4.2 .7 3.5 .7 3.7 .9 3.3 .7 2.6 .8 3.4 .7 2.9 .4 3.1 .8 3.5 .6 2.8 .9 4 .5 3.1 .8 3.9 .4 2.8 .4 2.8 .6 3.6 .3 2.8 .7 3.7 .7 3.9 1 3.8 .9 3.8 .5 2.6 .5 3.5 .7 4.4M51.2 105.1l.6 2.8 .5 3.2 .8 3.3 .9 4 .7 4 .5 2.7 .7 3.2 .9 4.2 .7 2.5 .7 3.2 .7 3.6 .7 3.8 .9 3.8 .8 4 .6 2.9M51.2 133.5l.6 3.3 .5 3.4 .3 4.2 .2 3.1 .1 2.6 .5 4.4 .3 3.8M51.2 84.1l.6 3.9 .5 2.6 .5 3.3 .3 3.3 .4 3.5 .6 4.1 .4 4.3 .3 3.3 .5 2.8 .4 3.1 .4 2.7 .4 2.8 .6 4.2 .2 3.3 .6 3.2 .4 3 .5 4.1 .7 3.9 .7 3.7 .5 3.2 .4 4.2 .3 3.2 .4 3.3 .5 3.4 .4 3.3 .4 3.7 .4 3.5 .6 2.9M51.2 109.8l.5 3.5 .8 4.2 .7 4.2 .6 4 .7 4.4 .5 4.1 .3 2.9 .5 4.2 .6 3.5 .5 2.6 .7 3.9 .5 4.3 .6 3.5 .5 3.7 .4 2.9 .2 2.7M51.2 130l.8 4.2 .5 3.9 .2 2.5 .3 2.8 .6 4 .4 4.2 .2 2.9M51.2 76.1l.6 3.3 .5 2.7 .5 3.1 .4 3 .7 3.6 .6 4.3 .4 2.7 .3 2.5 .3 3.1 .5 2.6 .5 3.6 .4 2.5 .2 2.8 .4 3.8 .2 2.8 .8 4.2 .5 4 .3 2.6 .4 2.9 .6 3.7 .3 2.9 .8 3.1 .6 2.7 .4 3.3M51.2 108l.5 2.7 .4 3.4 .7 4.2 .8 3.6 .3 2.7 .9 3.6 .7 3.9 .6 3.7 .5 3 .2 2.9 .5 2.9 .7 3.5 .9 4.5 .6 4.2 1 3.8 .6 2.6M51.2 161.7l.8 3.3 .8 2.9 .9 3.1 1.2 4.1 .4 2.8 .6 2.8 .6 2.9M51.2 75.7l.6 3.2 .4 3.4 .9 4.4 .7 3.2 1 4.5 .5 3.4 .5 3 .6 3.8 .4 3 .6 4.2 .7 3.9 .6 3.6 .7 2.9 .5 3.6 .6 3 .6 3.3 .6 3.4 .8 3 .5 2.9 .2 2.8 .5 2.7 .5 3.2 .8 3.9 .5 4.4 .6 4.5 .7 4.1 .5 3 .5 3.3M51.2 62.9l.4 2.7 .4 2.7 .6 4.3 .7 4.4 .3 4.2 .3 2.7 .3 4.1 .3 2.6 .4 3.2 .4 2.8 .4 3.3 .2 2.7 1 4.3 .5 4.3 .4 4.4 .6 4 .4 3.5 .5 4.4 .5 3.7 .3 3 .4 3.8 .5 3.4 .4 2.6 .6 2.6 .6 3.7 .5 2.6 .3 3 .6 2.6 .6 2.9 .4 2.9 .2 3.3 .6 3.9 .3 3.4 .6 4.2M51.2 157.1l.7 4 .6 4.1 .6 3.1 .6 4.4M51.2 53.8l.4 3.7 .2 2.8 .3 2.6 .2 2.9 .2 3.8 .6 3.2 .3 3.4 .4 3.5 .3 3.7 .4 2.7 .5 4.3 .2 3 .3 2.6 .5 4.1 .4 2.6 .3 3.4 .3 2.7 .4 4 .6 4 .3 2.6 .4 3.1 0 2.8 .4 3.2 .5 3.6 .5 3.6 .4 4 .3 2.6 .4 4.2 .5 4.5 .3 2.8 .6 3.6 .2 2.9 .4 3.4 .3 3 .6 3.9 .6 3.8M51.2 65.9l.6 4.1 .5 3.3 .8 4.4 .5 3.8 .7 3.9 .7 3.2 .4 3.2 .4 3.4 .8 4.2 .3 2.5 .6 2.7 .5 3.1 .7 3.7 .5 3.4 .5 4.1 .7 3.5 .8 3.6 .6 4.1 .6 3 .7 3.9 .4 3.2 .8 4.3 .3 3 .3 3 .5 3.3 .4 2.9 .7 2.5 .6 3.5 .5 4M51.2 109.6l.5 2.7 .2 2.6 .8 4.1 .5 3.5 .5 3.6 .6 4 .4 2.7 .4 2.9 .8 3.9 .5 3 .7 4.4 .6 2.9 .5 4 .8 3.8 .4 2.6 .5 3.3 .4 2.8M51.2 78.6l.4 2.6 .4 2.6 .2 2.7 .3 3.3 .6 3.7 .4 4.1 .2 3 .4 3.7 .4 4.3 .3 3.6 .4 3.2 .3 3 .3 2.8 .2 2.5 .3 3.3 .5 4.4 .4 4.2 .3 3.1 .3 2.8 .3 4.5 .7 3.7 .5 4.1 .4 3.5 .4 2.7 .6 3.2 .4 3.5 .5 4.1M51.2 158.9l.3 3.3 .4 3.7M51.2 113.3l.5 3.9 .7 4.2 .6 3.9 .5 3.3 .4 4 .4 2.7 .5 2.7 .6 4.4 .6 3.9 .3 3 .1 2.5 .5 3.5 .4 3.9 .6 4.2 .4 3.8 .4 3.5 .6 3.4M51.2 58l.3 2.6 .4 2.7 .4 2.7 .6 4.2 .6 3.9 .5 3.6 .7 4.3 .5 3.3 .7 3.5 .5 3.5 .7 4.5 .5 3.9 .5 3 .1 3.1 .4 3.4 .5 2.7 .8 4.5 .7 4.1 .3 2.9 .5 3.1 .7 3.6 .7 3.7 .6 4.2 .7 3.5 .5 3.8 .6 4.1 .4 3.4 .9 3.9 .8 4.3 .5 2.6 .6 4.2M51.2 80.8l.6 4.1 .6 3.5 .3 3.1 .4 2.8 .6 3.8 .7 4.5 .7 4.4 .5 2.6 .5 4.2 .5 2.7 .2 2.9 .4 3.6 .5 2.7 .5 3 .7 4 .4 3.7 .5 3.3 .5 2.6 .6 2.8 .5 4.5 .6 3.8 .8 3.6 .3 3 .6 3.5 .9 4.4 .6 3.6M51.2 132.9l.5 3.5 .2 2.8 .4 3.3 .4 4.1 .4 3.4 .4 4.1 .7 3.8 .3 3.8 .3 3.1 .3 2.8 .8 3.6M51.2 105.1l.5 4.1 .6 4.5 .6 4.1 .4 3.6 .5 3.8 .5 3.6 .7 4.3 .4 3.3 .5 3.5 .6 4.3 .2 3.9 .5 3.2 .4 3.7 .5 4.3 .3 3.3M51.2 64.9l.3 2.7 .5 3.2 .6 2.8 .3 3.7 .5 3.3 .6 4.5 .7 4.2 .4 3.1 .7 4.4 .4 2.8 .6 4 .4 3.8 .5 3.6 .3 3 .2 2.7 .4 2.8 .4 3.5 .5 3.2 .2 2.6 .4 3.6 .6 4.3 .5 3.6 .5 4.3 .6 3.4 .4 3.4 .4 3.8 .6 4.1 .5 3.7M51.2 93.2l.7 4 .6 3.4 .9 4.2 .6 3.4 .7 4.1 .9 4.5 .8 2.9 .5 3.2 .8 3.3 .5 2.9 .8 3.8 .8 3.5 .5 2.8 .6 3.2 .9 4 1 4.2 .6 3.9 .9 3.9 .9 3.3M51.2 127.1l.6 4.2 .8 4.3 .6 3.3 .8 4.4 .5 3.6 .7 2.8 .5 3.1 .6 4.5 .5 4M51.2 135.6l.8 4.4 .4 2.9 .5 3.2 .3 2.9 .4 4.3 .5 3.4 .6 4.2 .5 3 .7 4.5 .3 2.7 .6 3.5M51.2 142.4l.6 4.1 .8 4.1M51.2 149.5l.5 3.6 .5 3.7 .6 4.5 .5 3.3 .4 3.3 .6 3.7 .4 3.1 .5 3.8 .3 3 .2 3.5M51.2 64.3l.5 3.2 .6 3 .8 4.2 .6 3.8 .7 4 .9 3.9 .8 3.9 .5 2.5 .7 3.4 .7 4.5 .9 4.1 .2 2.6 .7 3.4 .5 3 .4 2.8 .7 3.7 .9 3.9 .5 3 .6 3.1 .6 3.2 .6 3.4 1 4 .6 4.2 .6 4.1 .8 3.8 .5 4.1 .6 2.6 .9 3.4 .8 4.1 .6 4.3 .3 3.4 .5 3.1 .6 3.1 .8 3.3M51.2 149.4l.4 2.7 .6 3.5 .3 4 .4 3.7 .4 3.3M51.2 101.4l.3 2.8 .8 3.3 .5 2.6 1.1 3.7 .6 2.5 .9 4.5 .7 2.5 .4 2.5 .8 3.9 .8 4 .7 3.7 1 4.1 .8 4.2 .6 3.6 .8 4.1 .9 3.7 .7 2.8 .9 4.4M51.2 83.1l.4 3.2 .3 4.5 .3 3.5 .3 2.7 .3 2.8 .5 3.8 .6 4.1 .8 4.3 .6 3.8 .6 3.3 .4 4.2 .6 4.1 .3 2.5 .8 4.3 .4 3.4 .3 2.8 .5 3.5 .3 2.6 .3 3.7 .5 3.8 .4 3.6 .5 4.2 .4 3.5 .5 2.6 .5 4.4 .4 3.2 .7 3.6 .3 3.1 .5 4.3M51.2 91.8l.7 4 .6 2.8 .5 4 .7 3.9 .8 3.9 .8 3.8 .5 3.4 .6 3.3 .5 2.8 .7 4.3 .3 2.9 .4 2.6 .9 4.2 .7 3.7 .3 2.5 .5 3 .5 3.1 .7 3 .7 3.8 .6 3.3 1 4.4M51.2 134.9l.2 2.5 .4 3.6 .4 3 .7 4.2 .3 2.8 .3 3.4 .3 2.5 .5 2.8 .7 4.4 .7 4.4 .5 3.3 .3 2.7 .7 4.4 .3 3.1 .4 2.5M51.2 161.9l.3 4 .3 3M51.2 77.3l.4 4 .4 3.7 .5 4.5 .4 3 .3 4.3 .4 3.8 .5 3.8 .6 4 .2 3.1 .3 3 .6 4 .4 2.9 .6 4.4 .3 3.1 .4 2.8 .3 2.6 .2 4.4 .5 3.9 .7 4.5 .5 4.5 .3 2.9 .4 3.6 .5 4.1 .2 3.4 .5 3.1 .4 3.3M51.2 133l.6 2.6 .3 4.1 .3 3.9 .4 2.8 .5 3.6 .8 3.8 .4 3.5 .6 4.4 .4 3.9 .5 3.1 .4 3.4 .5 3.2 .5 4.5M51.2 61.8l.3 2.9 .5 4.3 .6 3.3 .8 4.5 .4 3.3 .5 3.4 .5 3.4 .4 3.6 .5 3.4 .5 2.9 .4 2.6 .4 3.3 .6 2.5 .6 3.5 .4 2.5 .5 3.5 .6 3.8 .6 3.9 .6 4 .6 4.2 .4 2.6 .7 4.5 .3 2.5 .4 3.4 .5 3.6 .6 4.1 .6 4.3 .5 3M51.2 159.3l.7 2.9 1.1 4.2 .9 3.6 .8 3.2 1.2 4.2 1.2 4.2M51.2 130.8l.5 3.3 .4 2.5 .5 3.4 .5 3.4 .4 3.9 .4 2.9 .3 3.3 .5 4.3 .5 3.9 .2 2.8 .3 2.9 .4 3.2 .3 3.2 .2 4.3M51.2 134.9l.5 4.3 .5 3 .5 2.9 .5 3.9 .3 2.7 .4 2.9 .6 3.1 .3 3.4 .7 4.1M51.2 140.4l.4 3.9 .6 3.9 .8 4.2 .2 2.8 .4 4.3 .4 3.1 .4 3.6 .6 4.1 .4 2.7M51.2 149.8l.8 4.1 .5 3.4 .5 2.6 .3 3.5 .7 4.3M51.2 128.3l.7 3.7 .6 4.2 .8 4.2 .5 3.3 .3 2.8 .4 2.9 .6 3.4 .6 3.3 .7 3.8M51.2 126.8l.4 3.3 .3 3.1 .3 3.5 .6 3.4 .4 2.8 .2 3.1 .5 3.4 .3 2.8M51.2 71.5l.7 3.7 1 4.4 .7 2.6 .9 4 1 3.9 .9 3.8 .6 2.7 .7 2.8 .9 2.6 .8 3.3 .5 2.9 .5 3 .8 3.7 .7 2.7 1 3.8 .7 3.2 .8 3.3 .8 3.7 .6 2.8 1.1 4.1 1.4 4.3 .7 3.1 1.1 4.5 .8 3.6M51.2 107.7l.8 3.9 .6 3.1 .5 2.8 .9 3.7 .9 3.9 1 3.3 .8 3.7 .7 2.8 .7 3.7 .7 3 1.1 3.7 .8 2.7 .6 2.5 .8 2.9 1 4 .9 2.9 .7 4.2M51.2 65.8l.4 4.4 .4 4.3 .5 2.5 .6 3.6 .4 3.2 .7 3.4 .3 2.6 .3 2.8 .4 4.5 .2 3.1 .3 2.5 .5 2.8 .2 2.6 .3 3.3 .5 4.1 .4 3.1 .5 3.2 .6 4.5 .4 3.2 .3 2.6 .4 3.7 .8 4.3M51.2 120.7l.4 3.5 .4 3.9 .2 2.5 .5 4 .3 3.6 .3 3.5 .2 3.1 .4 2.6 .5 4 .4 3.2 .4 3.2 .4 3.1 .4 3.6 .3 2.6 .3 4M51.2 60.9l.7 3.6 .9 3.4 .6 3.2 .8 3.4 .8 2.6 .6 3.3 .8 3.7 .9 3.1 .5 3.4 .5 2.7 .4 2.5 .9 4.2 .5 2.8 .8 3.4 .6 2.5 .7 3.3 .9 4.4 .7 3.3 .8 3.5 1 4 1 4.2 .7 2.9 .9 3.6 .7 2.6 .5 3.3 .8 3.8 1 4.1 .6 3.4 .7 3.6 .6 2.7 1.1 4.3 .8 3 .9 4M51.2 141.2l.9 4 .8 2.7 .8 3.2 .5 2.6 .9 4.1 1.2 4M51.2 70.7l.6 2.9 .6 3.1 .5 3 .7 3.8 .7 3.3 .6 3 .8 4.1 .9 3 .4 2.7 .5 2.7 .6 3.1 .8 3.4 .6 2.8 .7 4.2 .7 3.1 .8 3.3 .8 4.2 .9 4.4 .6 2.9 .6 3.5 .5 2.6 .7 4 .6 3.3 .6 3.3 .7 3.8 1 4.2M51.2 100l.8 3.8 1.1 3.8 1 4 1 4.1 1 3.7 1.3 3.9 .8 2.8 .8 3.4 1.2 4.4 .5 3 1 4.3 .7 3.4 1.2 4.4 1.1 3.7 .7 2.5 1.2 4.3 .6 3.4 1 3.3M51.2 97.2l.5 2.6 .6 2.9 .6 4 .4 3.5 .7 3.5 .6 3.1 .5 2.8 .7 3.4 .7 4.1 .4 3.4 .4 4 .4 3 .7 3.5 .6 4.5 .6 3.3 .6 4.2 .5 2.8 .4 3.1 .5 3.1 .2 2.8 .4 3 .6 3.4M51.2 132.2l.7 2.7 .5 2.6 1 4.1 1 4 .4 2.5 .5 2.6 .7 3 .7 3.2 .9 3.4M51.2 52.5l.4 4.4 .4 3 .4 2.6 .7 3 .4 3 .5 3.1 .6 3.3 .5 2.8 .6 4 .7 4.1 .6 4.2 .2 3.3 .4 2.7 .7 3.9 .3 3.3 .4 4.3 .6 4 .5 3.8 .6 4.2 .6 3.4 .8 3.6 .5 2.9 .6 4 .5 2.7 .7 4.4 .6 4.4 .6 2.5 .5 3.8 .6 3.8 .6 4.3M51.2 74.8l.7 4.1 .4 3.3 .3 3.2 .7 4.1 .8 3.7 .4 3.4 .5 3.6 .5 4 .4 2.6 .6 3.2 .7 4.2 .5 3.6 .5 3.8 .5 3.5 .5 2.6 .5 3.8 .6 4.3 .5 3.1 .5 3.8 .5 3.8 .8 3.7 .7 3.4 .4 2.8 .5 3.2 1 4.4 .5 3.1M51.2 129l.5 3.2 .6 4.1 .5 2.7 .5 4 .4 4 .5 4.1 .4 2.5 .5 3.7 .7 3.4 .3 2.6 .6 4.1M51.2 104.4l.7 3.8 .8 3.5 .7 4.1 .8 3 .7 3.7 .9 3.8 .5 3.6 .6 2.7 .7 4.2 .8 3.7M51.2 70.3l.4 3.3 .4 4.3 .1 2.7 .4 3.8 .5 3.5 .6 3.1 .4 3.1 .4 3.4 .4 3.1 .5 2.9 .5 4.1 .3 2.6 .5 3.5 .4 3.5 .5 3.7 .2 3.5 .4 2.5 .1 2.9 .3 2.9 .4 3.7 .7 4.4 .5 2.9 .3 4.5 .3 2.7 .5 3.5 .5 2.9 .5 2.8 .4 2.8 .4 3 .2 2.5 .5 3.5 .2 3.2 .3 4.2 .4 4.4M51.2 101.7l.5 3.7 .7 2.5 .9 4.5 .6 3 .6 3.2 1 3.7 .7 3.6 .5 3 .8 2.7 1 4.3 .8 3.4 1 3.9 1.1 4.5 .7 3.5 .7 3.7M51.2 110.3l.3 2.6 .3 3.3 .3 4 .5 2.8 .3 3.9 .5 3.3 .3 2.6 .3 2.8 .4 2.5 .7 3.3 .5 4.4 .4 3.6 .5 4.3 .6 4.3 .2 2.5 .3 2.9 .3 3.3 .3 2.6 .4 4.2M51.2 85l.6 3.9 .3 2.5 .4 2.8 .3 2.6 .4 4.1 .5 2.6 .6 4.3 .7 4.1 .4 3.4 .6 3.6 .6 4.1 .5 3.4 .5 2.6 .3 2.7 .3 3.3 .4 2.6 .3 2.7 .6 3.5 .6 4.3 .6 3.7 .6 4 .3 2.6 .3 2.6 .4 2.9 .6 3.3 .6 3.8M51.2 152.8l1.1 4 .6 3 .7 3.4 1.1 4.2 .8 3.5 1 3.7 .9 3.1 .7 3.6M51.2 113.1l.6 3 .5 4.2 .7 3.5 .7 2.8 .5 2.5 .7 3.4 .9 3.7 .8 4.4 1 3.5 .6 3 .7 3.3 .9 3.8 .6 3.8M51.2 139l.7 3.6 .6 4.2 .6 3.4 .2 2.6 .5 3.9 .4 4.5 .5 3.2 .6 3.2 .3 3.5 .5 3.6 .3 4M51.2 62.9l.5 3.5 .5 2.9 .7 3.4 .5 2.7 .6 3.6 .9 4.4 .4 3.3 .8 4.3 .4 2.8 .8 3.9 .7 4.5 .3 2.8 .6 3.6 .9 4.4 .4 2.9 .8 3.7 .5 3.7 .5 2.6 .5 4.3 .4 2.8 .6 2.9 .7 3.6 .6 3.9 .7 4.3 .8 4.4 .4 3 .5 2.6M51.2 108.6l.4 3.8 .9 4.1 .8 4.1 .6 3 .5 4 .4 3.4 .6 3.5 .4 2.9 .5 2.9 .5 3.5 .6 2.9 .5 2.8 .7 3.9 .5 3.5 1 4.4 .7 4.3 .6 2.9M51.2 99l.6 4.4 .5 3.2 .3 2.8 .4 3 .7 3.4 .4 2.7 .5 3.5 .5 3.6 .2 2.6 .1 3 .6 4.2 .5 3.1 .5 3.9 .4 2.8 .3 3.6 .1 2.5 .5 2.7 .3 2.7 .6 3.5 .2 2.8 .5 2.6 .7 4.4 .4 3.7 .4 2.7 .5 3.3 .5 2.5 .5 4.2M51.2 148l.7 3.5 .2 3.2 .3 2.7 .2 4.1 .5 3.6M51.2 169.1l.9 1.5 1.5 1 .8 .9 1.5 .6 1-.9M51.2 170.5l1.2-.6 1.2-1 1.5 2.2 1.4 1.9 1.5-1 1 1.8 1.3 1.8 1.1 3 1.2 1.2 1-.4 1.1-2.4 1.4-1.1 1 0 .8 .7 1.1-1.7 .9-.9 1.1 2.6M51.2 147.8l1.3 1.9 1.6-1.6 1.4-2.7 .9-.5 .8-1.2 1.2-.1 1.5-1.8 .7 2.9 1-2.7 .8 2.8 1.2-2.6 1 3.5M51.2 146l.8 0 .7 0 1.5 .5 .9 .8 .8-3.1 .9-.1 1.4 .8 1-2.5 .7 2.1M51.2 144.6l.8 .7 .9 2.2 .8 2.3 .7-.3 .7 .1M51.2 171.9l1.2 1.7 1.2 .4 1.2 .6 1.4 0 1.1-.8 .9 3.3 .9 .5 .8 .5 1.2-1 1.3 1.1 1.2 .7 1.2-1.4 1-.8 1.1 .3 1.6 .1M51.2 140.1l1.1 1.2 1.3-3.3 1 .9 1.3 .3 1.1-1 1-1.5 .7-.1 1 2 1-3.5 .9 .1 1.4 3.5 1.5 .8M51.2 149.4l1.5-1.1 .8 .9 1.2 2.5 1-.3M51.2 148.1l1.5 2.6 .8-.4 1.3-1.3 1.2 1.8 1.1-1.6 1.6 1.4 .8-.4 1.6-.7 .9-.7 1.1 3 1.4 .4 1.4 2.3 1.3 1.8 .8-2.2 1.3 2.5 1.5-.3 1.4-1.2 1.2 1M51.2 162.4l1 1.1 .9 3.2 1.1-1.9 .9 2.5M51.2 147.4l1.4 1.2 .7 1.2 1.2 2 1.5-.2 1 4.4 1.3-1.3 1.4-1.4 1.3-2.6 .9-1.4 1.3-1.3 1.1-.5 1.4 .2 .9 1.2 1.5 1.7 1.5-1 1.4 1.9M51.2 172l.7 .1 .8 2.7 1.5-1.2 1.4-.4 .8-.7 1.4-2.4 .9-.6 .9-1.5 .9 1.7 1.1-.6 1.4 .8 .7 2.2 1.1-1.5 1.2 1.2 .7-.1 1.1-.1M51.2 155.1l1.4 .6 1.1 2.2 1.3 .4 1.1-2.3 1.2 .4 .8 3.3 .9 .4M51.2 175.5l1.4-3.2 1 3.5 1.5-.6 1.3-.3 1.4 1 1.3 .4M51.2 153.7l1.1-1.7 1.1-.7 1.6-2.3 .8 2.2 1.5-.6 1.1-.1 .8 .4 1.4-.4 1.2 .1 1.6 4 .8-1.8 .8 .2 .9-.2 1.2 .2 1.5 .1 1.3 1.8 .7-.3 1.2 3M51.2 155.6l1-2.4 1.1 4.7 1.5 .6 1.3 2.9 1.6-.5 .9 1.8 1.5-1.2M51.2 166.3l1.4 .4 1.2-.8 1.3 1.3 1.5-1.4 1.2-1.1 1 2.2 .8 .9 1.3-.3 .8 1.7 1 .4M51.2 168.8l1.4-.6 .9 .8 1.5 .6 1.2 2.7 1.4 .5 .7 .8 1.1 1 1.5 .2 .9 .3M51.2 171.8l.8-1.8 1.2-.6 .7-.3 1.1 3.4 .7-.1 .9 1.5 1.6-2.5 1.4-.3M51.2 145.2l1.1 .3 1 3.6 1.1-.1 1 4.2 1.3-1.6M51.2 156.8l.8-.2 1.3 .6 1-1.8 1.6 1.3 .9-1 1.3-.2 1.5 2.9 .8-.3M51.2 157.3l1.5 .6 1-1.1 1.2 .9 .8-2.9 1.6 2.9 .8-3 .8 .9 1.3 .4 1.4 1.2 .7 2.9 1.3-2.3 1.1-1.2 1.6 1.6 1.4 0M51.2 162.4l1.6-.4 1.1-1.3 .9 1.2 1.1 .3 1-2.1 1.6 .1 1.2-1.1 1.4 .7M51.2 147.8l1-1.3 1.2-2.2 1.4 .7 1.3 1.3 .9 1.1M51.2 161.5l.7-.7 1.4 2 1.5-3.4 1.1 .5 1-1.2 1.4 2.4 1.1-1.2 1.2 .1 1.3-2.3 .9 2.5 1 .2 1.3 2.6 1.2 1.9 1.2 .6M51.2 109.6l.7 2.8 1 3.3 .8 2.9 1.3 3.8 1 3.4 .8 2.7 .9 3.4 1.1 4.4 1.1 3.8 .8 2.9 .7 2.7 1.2 4 .9 3.8 .8 3.1 1.1 4 1.1 3.6 1.3 4.3M51.2 84l.8 3.1 .8 3.2 1 3.6 1.3 3.4 1 3.6 1.1 3.2 1 3.1 1.1 3.6 1.1 3.4 1.1 4.2 1.3 4.4 .8 2.6 .8 2.8 .8 2.7 .8 2.8 1.1 4.1 1 3.2 .7 2.6 .7 2.7 1.1 4 .9 3.3 1.2 3.7M51.2 99.3l1.3 3.6 .8 2.8 .7 2.8 .9 3 1.2 4.1 1.1 3.8 1 4.3 1 2.9 .9 3.2 1 3.8 1.3 4.3 1.2 4 1.1 4.5 1 3.8 .8 3.1M51.2 86.1l.8 2.8 .5 2.7 .8 2.9 1.1 4.3 .8 3.4 .8 3.2 .8 2.9 .7 2.7 1.3 4.4 1 3.9 .8 2.9 .6 3.4 .9 3.3 .8 3.7 1.1 3.8 .8 3.6 .8 3.3 .8 2.6 1 4.1 1.1 3.4 .7 3 .8 3 1 4.3 .9 3.5 1 4.4 .8 3.6 1 4M51.2 67.2l.8 2.5 1 4.3 1.4 4.3 1.3 4.4 1 2.8 .7 2.8 .9 3.1 1.1 3.7 1.1 4.3 .9 2.8 .8 3 1.1 4 .7 2.6 1.4 4.2 1 3.3 .8 3.2 .7 2.9 1.3 4.4 1.2 4 1.1 4.3 1 3.5 .8 2.8 .9 3.6 .9 3.7 1 3.1 1.3 4.2 .6 2.6 1.2 4M51.2 87.8l.8 3.1 1.2 3.7 1.1 4.4 1 3.6 1 3.7 1.1 4.5 1.1 4.2 .9 3 1 4.1 1.1 3.3 1.1 3.9 .8 2.5 1.1 4.5 1 3.3 .9 4 .7 3 1 4.2M51.2 109l.7 3 1 3.5 1 4.5 .9 3.3 1 2.7 1 4.2 1.2 4.2 .6 3 1.1 3.5 1.1 3.7 .7 3 1.3 4.2 1.1 4.3M51.2 99.3l.6 3.3 .8 2.9 1 3.4 .8 3.6 1.3 3.9 1.1 4 .9 3.3 .9 2.6 1 3.3 1.1 2.7 .5 2.6 1.2 4.4 .7 2.7 .6 3.1 1.4 4.2M51.2 109.4l.8 3.4 .5 3 1 3.6 1.1 3.8 .8 3.6 .8 3.4 1 3.6 1.1 3.7 1 3.7 1.2 4.4 .8 3.1 1 4.3 1 4.1 .8 2.9 .9 3.2 .9 2.6 1.2 4.4M51.2 76.8l.7 2.8 .7 2.9 .7 3.1 1 4.3 .7 2.8 .8 2.8 1.2 4.5 .6 3.3 .7 3.7 1 3.6 .7 2.7 1.3 4.3 1.2 4.3 .8 3.8 1 4.3 .6 3 .9 2.9 1 3.9 .8 3.6 1 3.2 .6 2.6 .8 3.1 .7 3.1 1 4.2 .9 4.2M51.2 79.8l1 3.6 .8 3.2 1 4.1 .9 3.7 .9 4.1 .5 2.8 .8 3.6 .7 2.5 .7 2.9 1.1 4.4 .6 3.6 .7 3.7 .7 2.8 .7 2.5 .4 2.6 1.1 4.3 .8 3.5 1 3.6 .7 2.8 1.1 4 .9 4.1 1.1 4.3 1 4 1 4 1.2 4.3 .8 2.8M51.2 77.6l1.1 4.5 1.1 3.5 .8 3 1.2 4.2 1 3.8 .8 2.6 1.3 4.4 1 4 .8 4.1 1.2 4.1 1.1 4.1 1 3.9 .7 2.7 .8 3.6 1.3 4 .6 2.7 .6 2.9 1 4 1.3 4.3 1.1 4 1.1 3.7 .7 2.8 .7 3.4M51.2 62.4l.8 2.7 1 3.3 1 3.4 1.1 3.9 1.3 3.8 1 3.5 .8 3.3 .9 2.8 1.2 4 .8 2.6 1.1 3.3 1 3.3 1.2 3.6 .8 3.1 1 3.2 .9 3.8 1.2 4.4 .8 2.8 .9 2.6 1.3 4.4 .8 3 1.2 4 .8 2.8 .8 2.6 .9 3 1 3.1 .9 3.6 .7 3.2 .8 3 1 3.7 1.4 4.3M51.2 114.1l1.2 4.3 1 4.4 1 4.4 .6 2.6 1 4.4 .9 4 1.2 3.8 .6 2.8 .7 3.2 .8 2.5 .9 3.3 .9 3.2 1.1 4.2M51.2 98.5l1.1 3.9 1 4.3 1 3.1 1.2 4.4 1.2 4.4 1 3.9 .8 3.6 .9 3.2 1.3 4.5 1.1 4.1 .7 2.7 .8 4.3 1 3.7 1 3.8 .7 3.1 1.3 4.5M51.2 68l1.1 3.6 1.3 4.1 1.3 3.8 1.2 4.3 .9 3.1 1.4 4 1 3.6 1 3.7 1.3 4.4 .6 2.8 1 3.6 .8 3.3 .9 3.1 1.4 4 1 3.2 .9 3.4 1.1 3.7 1 4.1 1 3.4 .8 3 1 3.1 1.4 4.2 1.1 2.9 1.4 4.3 .8 2.7 .7 3.2 .6 2.6 1.2 4.5M63.3 166.6l1.1-6.7 1.7-1.4 2.1-2.7 2.2 2.4 1.6 1.1M57.7 165.5l1 .5 1.2-2.5 2.2 5.5 1.9-.9 1.9 .2 1.5 1.8 1.8 1M56.7 173.2l1.6 1.5 1.1-.7 2-.7 1.8 1.8 2-1.5 1.9-2.7 1.4 7.5 1.3-2.2 1.8-1.7 .9 0M51.6 165.9l1.9 4.8 1.6 .4 1.9-.5 2.1-.3 1.1 .4 2.1-2.3 1.3-1.3 1.7-.3 1.4-.7 1.7 .9 1.7 2.6 1.1-2.9M54.3 159.1l2.1-.2 1.2-.7 1.1-1.8 1.4 6.5 1.5-4.8 1.4 1.7M64.6 163.6l1.5 .8 2.1-3.1 1.6-1M59 175.6l1.9 2.5 1.1-2 1.4 3.8 1.8 .1M59.6 153.5l2 1.7 1.5-.4 1.1 2.2M58.5 173.8l2.2 1.9 1.5-3.2 1.4 5.7 1.1-1.4 1.2-3.9 1.5 .6M57.2 158.9l2-5.6 1.7 4.3 1.5 2.6 1.3-1 1.9 1.7 1.3-2.5M64.7 171l2.1 7.1 2-6.9 2 4.5 1.5 .3 2.1 .6 1.2-4 1.8 5.4 1-.7 1.3-3.3 1.6 5M62 171.3l1.2-.4 2.1 1.6 1.3-1.3 1.5 5.5 2.1 0 1.6-1.3 1.4 4.1 1-.3 1-5.8 1.4 1.1 1.4-1.8M62.3 183.8l2.1-2 1.2 .4 2-1 1.4-.3 1.9-2.2 1.6 1.6 2.1 1.8 2.1-3 1.6-2.5 1.5 5.2 1.5-.3M54.6 173.4l1.3 3.3 1.4-4.5 1.3 .8M52.8 159.8l1.7-.8 1.5 2.7 2-2 1.6-3.7 2.1 1.9M59.2 151.6l1.1 1.3 1.3 6.5 1.8 1 1.3 1.3 1.6-.1 1.7 1 2.2 .5 1.8-3 1.4 0 1.8 2.5M65 170.8l2-.4 1.6 .3 1.8-2.4 2.1 1.7 2.2-3.7 1.2 1.2 1.7-1.3 1-3.1 2 .8 1.6-.3 1.5-2.4 1.8 3M54.9 177.3l1.2-2.3 1.2-.5 1.7-.3 2 0 1.4-1.8 1.2 2.2 1.1-.4 1.2 2.4 1.4-1.8M58.3 159.1l1.6-.1 1.7-3.8 1.1 3.5 1.3-.3 1.6 4 1.7-3.5M53.1 173.6l1.6 .7 2-2.2 2.2 3M58.8 151.3l1.6 2.7 1.2-3.2 1.9-.8 1.6-4.2 1.8 1.9 1.6 .2 2.1 .2 1.5 1.3 2.1-7.8 1.5 5.3 1.5-.1M58.7 171.5l1.5 .1 1.5-1.7 1.6-.3 1.2 4.2M52.4 143.6l1.4 5.2 1.8 .9 1.7-.4 1.5-3 1.2-2.3 1.5 .7 1.6-1.7 2.1-2 2.1-3.7M58.9 176.9l1.9 1.2 1-.2 2-.7 1.9 1.6 2.1-2.7 1.8 1.2 2.2 5.1 1.7-1.6 1.9-3.7M61.1 160.6l1.3-2.5 1.7-.3 1.3-.1 1.7 .6M54.2 169.1l1.7 1.4 1.7-.5 1.3-.1 2-5 1.3 2.7 1.8 1.7M60.3 169.1l1.9 5.1 1.5-4.6 1.5-1.2 1.8 2.4 1.5-4.8M55.4 180.7l1.5-2.5 1.6 5.8 1.3-3.3 2 .3 1.5 3.6 1-.5 1.6 2.6 1.9 1.9 1.4-.7 2.1-2.4M64.2 172.8l2-1.1 1.7 1.4 1.1-.5 1.8-1.1 2 1.7 2-1 1.5-1.5 1.9 3.3M51.7 175.6l2-.4 2.1 2.9 1.7-1 1.4 3.8M66 128l2-8 2-10 1.5-10 1 8 .5 14 1 9 1-5 1 8 2 4M67 132l3-6 2-8 1-6 1.5 8 1.5 10 1-6 2 3 3-2 3-5 3-7 2-5 2-4 1 6 .5 8M68 138l3 4 3-3 3 7 3 4 4-2 4 7 4-3 4 6 4-2 5 4 5-2 6 5 6-3 6 6M118 150l2 8 3 6 4 6 4 4 5 4 5 5 5 3"/>
<path stroke="#0072BD" stroke-width=".38" d="M51.2 155.9l2.1-1 2 7.2 2.2-8.3 2.2 5 1.9 1.3 1.4-6.1 1.1 10.5 1.8-1.1 1.7-.9 1.4-1.1 1.4 1.8 1.1-1.6 2.1 2.3 1.8 5.4 1.5-7.4 1.4-.8 2.2 2.2 2.1-.4 1.6 .2 1.1-.1 1.7 .2 1.1-5.1M51.2 188.6l1.8 .4 1.5-.6M51.2 173.1l1.5 5.4 2.2-2.1 2.2 1.6 1.4-.2 1.9 5.7 1.7-3.3 1.5-3.7M51.2 197.9l2.2 1.4 1.6-.2 1.6-4.9 2-1.1 1.2-4.4 2-1.5 1.8 2 1.5-3.1 2.1-3 1.5 1.8 2.1 2.7 1.8 1.9 1.1-.5 1.2-.7 1.3 5.3 2.2-3.8 1.6 3.5 2.3 4.6 1.1-2.6 2.2-3.4 2 7.3 1.7-3.3 1.5 .9 2-7.9 1.4 11 1.2-8.3 2.4 6.6 1.9-5.3 1.5-.4 1.6-8.2 1.9 5.7 1.2-7.3 1.6 8.1M51.2 170.3l2 1.1 2.4 2.2 2.1 2.3 1.8-5.7 2.1 6.1 1.1 2 2-.3 2.1 4.6 1.5-.6 1.4-1.8 2.1 1.8 2.2-.4 2 1.8 1.1 1.6 2-.4 1.9-2.9 2-1.9 1.4-2.7 1.1-.1 1.4 1.4 1.5-5.4 1.7 2.7 1.9 .5 1-1.9 1.3 2.3 2.3-2.9 2.4 1.6M51.2 172.8l1.4-3.4 1.9-1.5 2 .9 2.1-5.7 1.5 12.1 2.1-6.4 1.3 1.4 1.7-.3 1.4-.4 2.1 5.5 1.2-3.2 1.7-3.3 1.2-2.4M51.2 195.1l2.2 .8 1.9-1.7 1.1-.7 1.5-5.5 1.5 2.3 2.3 1.3 1.9 .2 1.2-1.2M51.2 161l1.1 2.3 1.4 .1 1.2 2 1.8 1.1 1.5 1.2 2.2 1.7 2.3-5.3 2.1 7.6 1.6-.3 2.3 3.1 1.9 3.1 1.2 7 1.2-3.4 2.2 2.5 1.2-5.2 1.9 1.1 1.8-5.4 1.4 .6 1.8-1.8 1.6 .8 2.1 9.2 1.6-4.6 1.8-1.7 1.9-2.5 1.9 2.9 1.7 .8 2.2 4.1 2.3-4.3 1.6 1.1 2.3 3 1.6-3.1 2-3.6 1.9-1.6 1.9-.8 1.3-4.3 1.3 2.1 2-1.6 2.2-7.7 1.3 5.6 1.9 2.6 1.6-1.4 1.4 1.4 1.3 4.5 2.1-3.9 1 2.3 1.6 2.1 1.4-6.4 1.3-2.5 1.9 2.6 1.2 1.2 2.1-.9 1.8 2 2.2-3 1.1-1M51.2 161.3l1.7 2.1 2.2-4.2 1.1 3.1 1.2 6.9 2.1-3.2 1.2 4.2 1.2-2.9 2-.6 1 2.6 2-1.8 1.2 5.3 2.1-.5 1.8 5.4 2.1-9.3M51.2 152.8l1.7 1.1 1.2 .2 1.8-.4 1.7 7.4 1.6-6.8 2.3 3 2 5.6 2 3 1.5-3.1 1.4-3.5 1.7-.4 1 1.1M51.2 170l2.2-5.7 1 .8 2.4 5.1 1.2 5.2 1.3 1.9 1.7-6.2 1-.4 2-2.6 1.7-3.1 2.2 .2 1.8-.7 1.5 4 1 3.1 1.7-4.6 1.3 1.1 1.9 1.1 2-6.9M51.2 177.9l1 1.1 1.9 .1 2 1.2 2 4.3 1.2-3.6 2.3-3.4 2.1 7.5 1.7 1.8 2-1.7M51.2 188.6l1.2-5.4 2 1.5 1.5-6.9 1.5 4.9M51.2 187.3l1.7-4.9 1.2 3.3 1.5-4.3 1.2 1.2 1.5 .3 2.1-1.3 1.1 4.1 1.3-9.4 1.5 2 1.7 3.3 1.7-2.3 2.3 1.7 2 1.4 2-6.4 1.1 6.8 2.2-2.7M51.2 189.8l1.6-1.3 1.5 3.3 2.2-1.2 1.2 1.1 1.1-3.3 1.6-4.5 1.6-2.4 1.4 .3 1.4 3.9 2.4 .1 2 .8 1.4 1.7 2.3-2.4 2.4 4.3 1.8-7.1 1.8-.8 2.3 1.1 2 5.9 2.3 2.4 2.2-3.8 1.9 2 2 1.1 2.2-4 1.2-4.5 2.4 5.2 1.4 2.4 1.3-4.6 1.6-1.2 2.3 3.7 2-2.1 1.7-5.7 1.1 4.3 1.8 2.6 2-5.5 2.2 6.8 1.4 2.6 1.5 1.7 1.4-7 1.9 5.4 1.2-6.6 1.7 .4 2.4 3.4 1.6-5.9M51.2 184l1.3 5.8 2-7.1 1.3 5.8 1.7-6.9 1.9-1.6 1.8-8.3 1.3 9.2 1.3-4.6 1.3 3.1 2.4-1.9 2.3 1 1.2 .1 1.9 4.2 1.2-5 1.1 3.1 1.1-5.2 1.8 5.8 1.4-2.7 1.1 8.6 2.3-5.1 1.2 1.7 2.2 5.1 1.3-5.6 2.1-1.6 1.2-3.4 2.4 6.8 2.1-4.5 2.1 3.6 2.2-6.5 2.3-1.2 2.3 .4 1.2 .9 1.9 4 2.3-2.8 2.3 1.4 1 0 2 4.5 2.2 .5 1.7-4.5 1.7-.4 1.6-.1 1.9 3.8M51.2 187.1l1.1 0 2-2.6 1.5 .6 1.5 1.5 2 1.6 1.6 1.4 1.8-3.7 2.3 6.9M51.2 151.3l1.7-.7 2.3 .9 1.7-2 2.2 4.9 1.5-.7 1.3-2.1 1.2-.3 1.2 2.4 2.2 5.5 1.1-2.8 2.3-2.6 2 3 2-2.4 1.5 2.1 1.5 4 1.5 1.7 1-4.6 1.8 3.8M51.2 193.1l1.6 0 1.4-2.3 2.1 .5 1.8 1.6 2.1 5.1 2.3-.5 1.4 0 1.9 1.8 1.5-2.1 1.7-3.2 1.2 3.8 2.3-5.5 1.7 1.1 1.9 5.3 1.4-6.2 2.2 3.4 1.4 2.8 1.4-2 1.2 2.3 1.8-5.3 1.9-3.8 1.3 2.3 2.1-1.3 1.4-3.9 2.1 3.4 1.6 .5 2.2-5.2 2.2 4.1 2.4-2.6 2.1 4.2 1.5-2.7 2-2.6 2.1 7.6 1.8-7 1.8 6.1 1.9-5.1M51.2 173.8l1.2 1.4 2.3 1.7 1.9-.5 1.2-3.3 1.1 11.3 1.7 1.1 2.1-4.3 1.4-.4 1.2-3.2 1.9 1.4 1.4-2.4 1.9 0 1.6-5 1.1 5.9 1.3-4.5 1.7 2.8 1.2-1.8 1.9 2 1.4 3.9 1.9 0 2.1-.2 1.2 0 2.1-.1 1.3-.4 1.1-5.2 1.6 2.4 1-1.4 1.3 2.5 1.9-3.9 1.5-3.8 1.3 .3 2 2.6 1-8 1.1 5.3 1.6-3.4 2.2 11 1.1-8.3 1.6 5.2 1.8 4 1.5-5.4 2.1 5M51.2 181.5l1.5 0 1.9 .2 1.8 2.5 2.3 4.1 2.4-5.3 2.1-3.7 1.8 2.8 2 2.9 1.2-.9M51.2 193.7l1.7 5.1 2-1.1 2.2-6.1 1.6 6.9M51.2 187l1.7 2.8 1.3-4.4 1.6 4.3M51.2 169.3l1.9-7.5 2.3-2.9 1.1 5.3 1.3-2.8 1.8-1.7 1.5 2.5 1.6 2.7 1.1 2.1 1.1-2 2.1 7 1.9-1.2 1.4-.7 2 2.7 2.3-1.3M51.2 173.9l2.1 1.3 1.5 4.6 2.1-9.8 1.1 1.2 1.7-1.3 2.1-1.7 2.1-3.7 2 1.3 2-1.1 1.3-7.7 1.1 5 1.5-2.9 1.6-.2 1.3 2.9M51.2 165.7l2.2-.9 2.1 .4 2.2-1.2M51.2 182.6l2.3 1.9 1.9 2.8 2.3-.5 2-.4 2.4 2.6M51.2 190.4l2.1-.1 1.6-.4 2.1-.9 1.7-3.4 1.8 .5M51.2 177.4l1.4-2.6 2 .4 1.5 1.7 1.2 2.7 1.4-3.3 1.7-2.8 2.3 .5 2.4-5.5 1.4-2.6 1.6 5.9 1.3 2.5 2-1.8 1.2-1.2 1.4 0 2-2.6 1.9-3.4 2.3 1.2 1.9 .1 1.2 5.3 1.1-.4 2.1 3.3 2 1.4 1.3-2.4 1.4 .9 1.5 4.7 2.3-3 1.7-1.9 1.2-1.3 2.1 3.3 2-2.5 2.3-3 1.1 3.3 1.1 4.7 1.2-6.9 1.2 4.9 1.7-4.7 1.4 2.6 1.7-3.5 2.1 8.1M51.2 197.2l2.2-2.3 1.2-3.2 1.3 5.9 1.8-1.4 2.4 .9 1.2-2 2.1 2.7 1.1-1.2 1.8 2.2 2-1.1 1.1-2.1 1.9 1.9 1.9-1.5 1.9 3 2-1.2 2.2-6.7 1.5-2.1 2-7.7 2.3 .8 1.3 6 2.1-8.4 1.9 5.3 2.4 2.5 1.4 3.1 1.3-7.7 2.3 4.2 1.7 3.3 1.6 4.3 2.1-7.8 2.1 2.8 1.2 2.2 1.9-2.3 2.2-.4 1.4 .8 2.1-1.5 2.3 1.3 1.4 2.4 2.1-1 2 4.2 1.1-3.1 2.3 1.1 1.5 .7 2 2.1 2.1-.1 2.1 2.2 2.2-3.1 2.1-.5 2.2-4.8M51.2 164.5l2 1.3 1.6-.7 1.2 2.9 2.2-1.3 1.7 4.8 1.6 7.2 1.9-4.2 1.2 3.4 1.7 3 1.8 .4M51.2 156.6l2.3-1.6 1.6 3.7 2.3-1 2.3-1.1 2 6.4 2 0 1.9 0M51.2 198l1.3-2.6 1.1-4.7 2.1 8.5 1.8-1.4 1.6 .2 1.6 1.1 1.9 2.2 2.3 .2 2.1-2.7 2.2 3.2 1.5-.7 1.1-2.3 1.2 3 1.3-8 1.8 2.8 2.1-2.2 2.2-6.6 1.9 6.9 2.2-7.6 1 2.2 1.2-3 2-2.1 1.3 4.1 1.4 1.8 2.1-4.9 1.5 .4 1.5 6.8 2 5.2 2.2-3.8M51.2 193.9l1.6 2.6 1.9-.4 2.4 .4 1.8 .4 1.1-2.3 2.1 3.6 1.6-5 1.1 2.1 1.9-2 1 3.1 1.4 2 1.3-.3 1.4-3.7 2.2-1.9M51.2 194.3l1.7-1 1.5-4.2 1.7 4.4 2.3 2.4 1.5-.1 2-.9 1.8 1.4 1.9-.5 1.4-3.1 1.6 .9 2.3 1.6 1.5-2.2 1.4 2.7 1.5 .2 1.9-.4 1.9-1.2 2.1-3.1 1.4 2 1.5-1.7 1.4 5.8 1.5-3.8 1.6 3.8 1.9-.5 1.3-3.4 1.6-3.4 1.2 .7 2.1-7M51.2 163.3l1.7 7.3 1.1-2.8M51.2 156.4l1.9-1.8 1.8 3.1 2.2-.5 1.9-2.6 1.9 3 1.1 .5 1.4-3.5M51.2 163l2.3-1.8 1.2 6.7M51.2 176.6l1.6 6.8 1.4-8M51.2 158.4l1.6 1.8 2.3-.6 1.3 1 1.9 3.3 2.3-9.7 2.3 4.7 1.1 .9 2 4.3 2-1.6 1.1 2.8 2.3-2.3 2.3-.4 2.3-2.1 1.6 .4 1.4-3.2 1.1-6.9 1.3-1.7M51.2 179.5l1.7 .5 2.1 7.8 2.2-6.4 2.3-5.1 2.3 5.2 1.5 3.4 1.8-5.2 1.1 3 1.7-1.9M51.2 162.1l1.4 2.9 1.7 2.1 2.2-7.6 2.2 4.6 2.1-.4 1.8-.9 2.3 4.1 2.4-5.3 2.2-.6 2.1 4.2 2.3 8.9 2.1-1.9 1.9-4.5 1.8 .7M51.2 166.1l1.3 .3 1.8-.2 1.3 1.2 1.4 1.4 1.1-3.1 1.4 .4 1.5 7.6M51.2 166l1.3 3 2-1.1 2-3.2 1.7 4.5 1.9-1.8 1.8 1M51.2 164.3l1.3 0 2.1 .9 1.3-3.5 1.2 1.5 1.3-4.2 1.1 2.9 1.7-2.3 1.3-.7 1.9 6.1 1.2-5.1 1.8 3.3 1.8-4.2 2 .3 1-5.8 1.3 6.2 1.1-7M51.2 165.1l1.2-.4 1.6 6.5 1.8 0 1.5-5.2M51.2 196.2l1-.3 1.2-3.1 1.6 3.1 1.2-7.3 2.3-.5 1.5-.2 2.3-5.5 1.9 4.3 1.9-3.1 1.8 3 1.5 1.5 1.3-5.5 1.9 3.1 1.2-.6 1.5-1.9 1.2 1 1.3 3.2 2.3 4.6 1.7 1.2 2.2 1 2.4-3.9 2.2-3.6 1.9 0 2 1.8 2.3-5.9 1.5 1 1.3-.5 1.1 6.6 1.8 2.4 1.9-1.7 1.2 1.7 1.5 5.3 2.1-6.4 2.3 2.4 2.2 4.1 2.2-1.5 1.1-2.3 1.6 1.7M51.2 178.3l2.2-1.4 1.4 .2 2.2 2.3 2.3-5.9 1.6 4.8 2.3 1.5 1.7-5.2 2.3-1 2.2 6.9 2.3-1 1.5 1.9 1.9 3.7 1.3 2.9 2 2.9 1.2-2.4 2.1 .7 2.3-1.9 1.5 .1 2.4 .5 1.7-.6M51.2 187.5l1.9 .2 1.9 1.6 1.6-5.2 1.4 0 1.8-3.1 2.1 6.4 1.1-1.5 1.9-.9 2 2.1 2.3 6.5 2.2-6.6 1.9 .6 1 6.6 2.3 1.4 2.2-1.9 2.1 4.7 1-3.3 2-3.4 1.5 .9 1.2 3.2 1.6-4.8 2.2 2.6 2.4-3.6 1.3-.3 2.2-.3 1.9-3.7M51.2 187.1l1.8-1.7 2.2-4.4 1.5-1 1.3 3.7 1 5.2 2.1 2.4 2.3 .3 1.4-3 2.2 2.8 1.5-.4 1.3 2.7 1.6 3.7 2.2-8.5 1.1 2.9 1.8-5.4 1.7 .5 1.9-1.9 2.2-.5 1.5-.6 1.1 2M51.2 180.2l1.4-4.4 1.4 2.3 2.1 7.6 1.2-3.8 2.3 1.2 1.3 1.1 2.2-1.5 1.4-1.4 2.4 4.8 1.3-1.3 2-5.6 2.1-3.1 1.9 1.1 2-5.8 1.4 4.7 1.4-2.6M51.2 167.3l1.9 .1 1.6-7.3 1.4 4.3 1.1 1.6 1.4 5.8 1.6 1.6 1.5-2.6 1.7 1.7 1.6 .9 2.4 3.5 1.8 1 2.4 6.6 1.9-6.4M51.2 172l2.1 .9 1.4 5 1.8-1 1.7 7.5 1.8 2.9 2.3 1.6 1.8-1.3 1.4-4.9 1.5 2.9M51.2 182.8l2.2 1.4 2.2-6.1M51.2 185.3l2.4 6.3 2.2 2.5 1.6-2.8 1.3-3.8 1.2-3.1 1.1 1.8 2.2 1.1 2.2-8.9M51.2 167.8l1.2-7.1 1.2 3.9 1.9-1 1.4-1.5 2-2.7 2.2 3.2 1.7 7.5 1.9 3.5 1.5-1.1 2-2.7 2.2 2 2.3 1 1.3 2.4 1.2-4.3 2.1 5.3 1.8 2.2M51.2 165.5l1.2-5.3 2.1 2.9 2.3-1.4 1.2 .4 1.8 1 1.4 .9 1.3-3.5 1.3-1.1 1.4 3.2 2.3 .2M51.2 178l1.3 3 1.1-1.2 1.8-.5 1.8-2.9 1.9 1.6 1.1-2M51.2 194.1l1.5-.8 1.5-2.9 1.9 2.9 2.1 1.5 1.4-.8 1.3-2.5 2 3.6M51.2 150.6l1.2-1.6 1.2 2.3 1.2 .5 1.4-3.1 1.1 2.3 1.6 1 2.1 1 2.1 2.9 1.8-2.5 1.1 4.2 1.1 .6 1.5 2.3 1.1-1.3 1.1-6.8 1.1 2.4 1.5 3.1 2.2-.1 1 1.4 1.9 2.4 1.3-2.3 2.1 3.5 2.3 .5 2.4 2.8M51.2 195.4l1.3 2.1 1.6 1.2 1.9-3.5M51.2 160.2l1.1 4.9 2.2 1.6 2.3-3 1.8 2.8 1-.5 1.9-1.9 1.6-5.5 1.9 1.3 2 4.6 1.8-3 1.8 5.4 2.1-3.3 1.1-1.7 1.2 4.2 1.7-4.9 1.8 7 1.3-2.8 2.3 2.5 1.4-7.5 1.9 6.2 1.3 3.5 1.3 .7 2-2.3 2.3-3.9 1.2 4.6 1.5-8.6 1.6 3 1.7 12.7 2-6.4 1.1 3.8 2-1.3 2.2 2.1 2.3-1.2 2.2 1.1 1.7-4.7 2 6.5 1.5-1.1 1.2 .8 1.2 5.3 1.7 1.6 1.3 1.4 1.6-5.3 1.4 3.6M51.2 147.7l1.2 2 1.1-1.1 1.6-.1 2.1 1.5 1.9-5.4M51.2 171.3l1.2 1.6 1.5 .5 2-2.8 2.3 1.5 1.5 .4 1.7 9 1.6-5.2 2 5 1.4-2.1 2.4-.2 1.5-3.6 2.3 1.3 2.4 2.8 1.9-.7 1.2-3.9 1.5 1.1 1.3-2.2 2.2-.8 1.3 1.7 1.3 .3 1.4 1.9 1.9-2 1.5-5 2.3-.4 1.9 1.4 1.2 5.7 1.8-1.4 2 4.6 1.4-1.9 1.8 0 1.2-2.9 1.7 .6 1.6 4.6 2.2 4.5 1.6-1.6 1.2 1.5 1.9-.9 2.3-6.6 2.1 6 2.1-.7 1.5-6 2.1 7.6M51.2 163.6l1.1 4.6 1.4 .8 1.8-2.3 1-2.6 2.2 4.5M51.2 195l2.2-.1 1.4 6.3 1.9-2.9 1.4 3.4 1.8-4.5 1.6 2 1.8 1.5 1.2-8 2.3 .9 1.9-2.3 1.8 .7 1.3-5.4 1.5 4.6 1.5-.7 2.4-2.6 1.9-.4 2.1 3.3 1.4-7.8 2 4.5 1.9 2.2 1.9 2.3 2.3 1.1 2-.2 1.9 1.1 1.2-6.9 2.2 7.5 1.7-1.5 1.7 .9 1.1-.7 2.1-5.8 1.4 1.5 1.6 .5 1-1.1 1.2-.6 1.7 0 1.7 .6M51.2 200l1.2 .2 2.4-.1 1.5-1.2 1.7-4.7 1.8 3.2 1.4-.5 1.7-7.2 1.3 5.3 1.3-3.8 1 .9 1.9-1.4 1.9-1.7M51.2 190.3l1.6-6.5 1.3 7.2 1.2-4.3 2 3.7 1.2 1.3 1.3-5.7 1 2.1 1.6-3.7 1.6-4.8 2.4 2.1 1.9-.4 1.5 1.6 2.1-2.8 2 .8 1.2 2 1.5-4.6 1.2 2.2 1.7 .6 2 1.4 2.3-7.7 1.6 10.5 1.2-1.1 1.1-3.4 1.7 4.1 1.9-1.1M51.2 170.6l1.3-2.6 1.9 8.7M51.2 196l1.9-3.9 2.2 2.6 1.7 3.6 1.3-2.5M51.2 151.2l2-4 1.6 6.7 2.3 5.8 1.1-1.1 2-2.7 1.9 5.1 1.8 5.9 2-2.7 2.3 2.3 2-3.5 2 4 1.5-3.8 1.5 3.8 1.5 5 1.4-1.5 1.1-2.9 1.9 2 1.2-9 1.1 6.3 2.3-3.6 1.2 3.1 1.6 3.6 1.6-5.5 1.1 5.6 1.3 .1 2-.2 1.7 4 1.2-.6 2.3 2.9 1.1 4.3 1.3-1.9 2.3-1.3 2 4 1.6 2.7 1.8-2.9M51.2 185l1.1-3.5 1.8 .3 1.5 0 1.6 4.8 2.1 0 2.3 .3 1.3 4.4 2-1.1 1.6 3.1 1.5 2.5 2.4-2 1.9 3.4 2.3-2.5 1.8 2.4 1.4 1.8 1.8-2.5 2-6.2 1.3 5.9 1.7-2.4 2.3 1.5 1.9-2.1 1.2-3.2 2.3-3.7 1.6 2.5 1.2 4.1 1.8 2.5M51.2 170.6l2.1 3.5 1.1 4.7 2.2 1.6 2.3-1 1.7-3M51.2 169.9l1.2 1.7 2.3-6.7 1.4 .2 1.7-.8 1.7 10.3 2.3-3.5 1.2-1.7 1.4 7.7 1.5-1.4 2.4 2.5 1.7 2.5 2.2 1.6 1.7 .9 1.2 2.7 1.7-2.6 1.8-1.4M51.2 160.8l2.3-4 1.8 .6 1.3 5.7 2.1-3.6 1.4-3.7M51.2 156l2.4 .5 2.3 1.7 1.4 3.7 2.1-1.1 2.2-2.5 1.1 1.4 1.2-5.4 1.2 2.8 2.2 2.1 2.1-1.5 2.1 3.1 2.2 3.5 1.8-3.8 1.5-1.8 2.3 1.1 1.4 2.8 1.8-.3 2.2 3.8 2.2 4.2 1.4-1.8 1.5 3.3 1.7-.1 1.5-6.1 1.2-5.8 2 9.1 2-7.6 1.4 2.8 2-4.2 1.4 .1 2.1-.1 2 1.9 1.3 1.6 2.3 1.6M51.2 156.4l1.8-6.4 2.1 4.5 1.3 1.3 1.7 2.1 1.4 .8 2.1-3.6M51.2 157.2l2.3 14.3 1.5-3.3 1.1 .9 1.5 3 1.9 2.9 1.2-1.7 1.6-1.1 1.8-.2 1.3 3.2 2 4.3 1.3-.2 2.2-2.8 1.5-3.6 1.1-1.4 1.6 1.5 1.1-4.3 1.7 1.3 1.2 5.3 2.2-1.4 2 8 1.5-2.5 2.1-1.3 1.3 2 2-2.5 1-.8 1.6 4.5 1.4-6.5 1.8 5.1 2.2-5.3 2-.3M51.2 156l1.4 3.8 2.2 1.2 1.2 1 2-2.3 1.5-.3 1.4-2.3 1.6 6.7 1.5-1.2 1.2-1.5 1.4 7.8M51.2 174.8l1.4 3.4 1.1 1.3 1.8-3.2 1-.7 2.1-1.9 1.6 4.3 1.2-2.4 1.5-2.8 1.2-3.1 1.3 7.6 2.3-.1 1.3-6.6 1.9-2.6 1.2 1.8 1.5 1.3 2.1-5.9 1.6 8.5M51.2 174.2l2-3.1 1.7-.1 2.3-4.2 1.9-.7 2.4 .7 2.3-1.3 2.1-3.1 1.9-.5 1-2.8 1.8 3.5 1.4 3.7 2-.8 2.1-1.7 2.1-2.5 1.9 1.6 2 .7 2.4 5.4 1.7-1.1 1.9 2 1.1 4.3 1.7 3.5 1.7-.7 1.6 .2 1.5-.9 1.8 .1 2.4 2.9 1.6-2.3 2.1-1 1.3 3.2 1.4-2.2 2.2-3.2M51.2 177.8l1.8 9.5 1.5-6.1 1.3-.1 1.9-.4 1.7-1.9M51.2 164.5l1.4-.8 1.6 2.8 1.1 1.7 1.3-1.5 2.3 4.5 2.4-4.6 1.7 4.4 1.5-1.1 1.9-.4 1.5 3.8 1.1-1.8 1.7 2.8 1.3 .1 1.3 4.9 1.5 1.2 2.2 .4 2.3-4 1.5 3.2 2 4.8 1.1-4.8 1.5 2.3 2.4-5.9 1.7-1 1.9 1.9 1.9 .5 1.6-4.5 2.4 6.8 1.2-1.9 1.5 4.3 1.7-.3 1.1 2.8 2.3 1.6 1.5-2.1 1.8-.5 2.1 .4 2.2-1.5 1.5-3 1.3 6.9 2-.3 1.9-3.2 2.2-4.6 1.7 1.3 1.7-.5 1.1-1.4 2 2.2 2-.1M51.2 194.3l2.2 1.9 1.2 .1 1.3-1.3 1.6-.8 1.9-3.5 1.8 2.2 1.3-1.9 1.6-1.6 1.9 2.9 2.4-4.5 1.5 4 1.6-1.5 1.4 2.3 2.1-3 1.4 2 1.1 .3 1.7-3.8 1.4-6 1.5 3.4 1.6-5.7 1.8 8 1.1-9.2M51.2 189.6l1.4 2.7 1.4-2.3 1.1 2.5 1.8 .9 1.8 2.3 1.1-1.3 1.5 3.2 1.8 .3 1.7 .1 1.5-1.7 2-1.7 1.5 1.2 2.3 3.3 1.5 .3 1.3-.2 2-3 1.6 2.7 2.4-2.9 1.9 3 2-.7 1.7-3 2 2.1 1.2 2.2 2-1.7 2.2 2.5 1-3.6 2.1-2.4 1.7 4.5 2.1 .2 1.3-3 1.5 0 1.9 1.2 1.2 .5 1.5 2.6 1.8-3.2 2.2-4.4 1.5 5 2.3-4.7 1.4-2 1.2 1.4 2-2.7 1.6 6.6 1.6-5.3 1.8-2.5 1.8-.3M51.2 192.9l1.6 4.8 1.8-3.3 1.7 1.9 1.5-1.6 1.3-.6 1.3 2.4 1.4-4.4 1.2-.6 1.9 2.1 2.1-1 2 1.6M51.2 188.6l2.3-4.8 1.5 2.3 1.4 1.4 2.4-5.1M51.2 160.1l1.3-.1 1.7 .8 1.6 2.3 1.9 .6M51.2 196.3l1.1 4.1 2.2-2.6 2.2-4.8 1.9 7.2 1.4-1.2 1.9 1.8 2 .8 2.1-1 1.6-1.8 1.9-3.2 1.1-.7 1.3-5.1 1.4-1.2 1.1 5 1.8 2.9 1.8 1.3 1.9 3.3 2.1-1.6 1.1 3.5 2.2-2.5 2.3-1.5 2.1 3.5 1-2.8 2.3-2.2 2.2 2.8 2.2-2.6 1.9 2.1 1.9-3.9 2 .8 1.6 2 1.3 3.9 2.3-4.6 1.9 2.4 1.6 2.5 1.5-2.2 2.1 .5 1.7-6.5 1.2 4.1 2.1-12.3 2.1 5.2 2.1-1.4 1.6-.8 1.4 3.2M51.2 181.8l2-1.8 2.1-.7M51.2 152.4l1.2-7.2 2 2.5 1.4 1.2M51.2 167.6l1.3-2.7 2.1 2.1 2.4-.2M51.2 197.3l1.7 1.9 2.1-1.9 1.5-1.5 2-1.6 1.7-4.2 1.2 5.4 2.2 1.4 1.9-.1 1.5 1.3 1.7-5.9 1.8 2.8 1.6-.6 2.1 .4 2.2-6.9 1.4 2.7 1.4 6.2 2.2-.7 1.3 .3 1.9-2.4 1.7-.5 1.2-.1 1.4-.2M51.2 182.6l1.7-5.5 1.7 .1 2.1 3.3 1.8 1.4 2.2-3.1 1.2-4.2 2.2 5.1 1.8 0 2 3.8 2.3-8 1.4 3.7 1.3-5.6 2.1 10.3 2.2 .9 1.5 2.2 1.3-4.6 2.3-1.3 2.2 1 2.1 2.4 1.4-4.4 1.8-2.2 1.9-.9 2 4.1 2-.5 1.1-.4 2.1 6.4 1.3-8 2.3-.6 1.3-2.1 1.7 .8 1.3 6.3 1.5 .2M51.2 183l1.3 6.9 1.3 1.2 2.1-3.4 1.7-.4 1.9-.2M51.2 165.2l1.1 1.1 1.8 3.1 1.1-.5 1.7 2.5 1.9-.2 1.4-9.2 1.4 7.2 2.2 .5 1.2-1.1 1.8 2.7 1.6-4.2 1.5 .1 2.3 4.9 2-6.5 1.2 7.5 1.3 1.2 1.5-3.1 1.9 1.2 2-2.3 1.4-2.7 1.7 4.4 1.1-4.5 1.4-2.8 1.7 .6 1.2-5.5 1.2-3.6 2.1 1.9 2-4.1 2.3 6.9 1.5 .9 1.8 3.6 1.8 4.1 1.2 .7 1.6 2.1 1.7-.6 1 3.9 1.2 4.7 2.3-2.7 1.4-1.9 1.3 .5 1.4 1.9 1.9 .6 1.1-1.6M51.2 167.8l2.2-2.5 2.3 1.6 1.3 .5 2.3 .8 1.5-4.2 1.9-2.3 2.3 3.2 1.9 .1 1.6 2.4 2.2 3M51.2 184.5l1.4 2.7 1.1 .8 1.1-3.2 1.4-.5 1.2-2.8M51.2 176.4l2.3-2.5 2 9.2 1.9-5 1.6-4.9 1.5 .6 1.1-1.6 2.3 1.6 1.8 .3 1.1 .1 1.4 5.1 1.7 2.4 1.3 1.4 1.8 1.4 2.1-2 1.9 .4 1.7 4.3 1.4 2.7 1.2-.6 1.2-1.5 1.5 0 1.4-.1 1.3-1.3 1.2-1.6 1.6-.7 1.4-1.2 2 1.7 2.4 1.5 2.2-2.4 1.2-2.5 1.6 4.5 1.5 .6 2.2-3.7 2.1 1 1.2 .7 2 5.4 1.5 1.1 1.8-1M51.2 161.4l1.8-1.6 1.3 1.3 1.4 2 1.9-2.8 1.9-1.6 1.4-.9 1.2-.4 2.3 5.6 1.4 2 1.3 1.4 1.7 2.9 2.1-6.7 1.6 6.5 2.3-5.4 2.3 4.1 1.3 .5 1.1-2.7 2.1-1.4 2.3 5.2 1.2-4M51.2 185l1.6 4.7 1 2.3 2.1-1.7 2.2-3.1 2 4.1 2.1-6.9 2.1-4.4 1.2-.9 2.3-.7 1.4-1.8 1.7 .4 1.4 1.1 2.3-.4 1.1-2 1 .6 2.1 .8 2.2 1.7 2.1 .6 2.2-1.9 2.2-1.1 1.4-1.6 2.1 1.7 2.1 3.9 1.4 .4 1.3-2.1 1.2 4.3 1.9 2.6 1.7-3.6 1.5 4.2 1.9-.3 2.3 3.7 1.8-2.4 1.2 2.2 1.9 4.5 1-3.5 1.2 2.3 1.3-2 2.3-2.1 1.4 4.7 1.3-5.6 1.3-4.2M51.2 177l1.7 8.7 2.2-5.3 1.8 2.9 1.2-6.6 1.7 5.5 1.2 5.3 1.2 2.6 1.2-3.2 1.4 1.6 1.4-.5M51.2 188.7l2.1-2 2.1 3.6 1.1 2.5 1.2 3.5 1.5-1.8 1.3 2 2.1-.4 1.5-6.6 1.8-.2 1.3 3.9M51.2 162.3l1.3-1.7 1.8 4.3 2.4-3 1.4-1.7 1.5 1.6 2 5.9 1.7-1.6 1.3 6 1.7-2.6 2 1.1 1.1-2 1.7-.4 1.1-1.1 2.3 4.4 1.8 1.2 2.3 .1 2.1-1.2 1.1 4.1 2.2 0 1.4 .9 1.6 3.7 2.2-4.2 1.5-3.5 2.1-.8 2-1 1.9 1 1.7-2.6 1.3 .4 1.8 .7 1.5 .9 2 6 2-1.6 1.3-.2 1.6-1.4 1.4 4.2 2.2 1.8 2.1-2 1.1-5.7M51.2 173.4l1.6 3.3 1.8 3.2 1.8-3.8 2.1 8 1.7-2.6 1.9-.3 1.7 6.7 1.2-2.6 2.3-.4 1.4-4.2 1 .5 2.3 .1 1.4-6.4 1.1 4.1 1.8 4.1 1.6-7 1.5-1.8 1.3 6.1 1.5-2.9 2 .5 2.3 4.3 1.5-1.1 1.3 4 1.3-7.8 1.6 3.2 1.1 5.2 2-2.5 2.1 3.8 1.9-4.7 1.4-3.8 2 1 1.8-.5 2.3-.4 1.4 6.3 1.2-7 1.3 3.6 1.4-4.9 1.7 4.7 2 0 2.2-1.2 1.2 4.5 1.7-.7 1.1-1.9 1.5 4.4 2.4 .8 1.2-5.3 1.7-2.4 1.6 6.1M51.2 179l1 3.4 1.9 7.1 1.5-5.8 2.2 7.3 2-7.1 1.8 6.4 1.2 1.7 1.4-2.2 1.9-1.1 2.2-1.2 2 4.7 1.7-.9 1.6-4.1 2 .9 2.2 3.7 1.7-5.1 1.7-3.6 1.1 7.1 2.1-7.8 1.9 7.9 1.1-9.3 1.2 2.9 2.3 2.3M51.2 196.9l2.3-6.6 1.4 2.6 1.5 5.3 2 .7 1.7-1.8 2.2-3.9 1.8 4.1M51.2 173l1.4 2.5 2.3 5.1 1.1-.7 1.2 2.2 2.1-1.5 2.3 4.9 1.5-10.6 1.3 3.3 2.2-1.5 1.5 .7 2-3.8 1.3 3.1 1.1 2.1 2.4 1.1 1.9 3.8 2.4 .1 1.8-4 2.3-.8 1.6-9.7 1.9 7.4 1.6-1.7 1.8-.9 1.5 1.8 2.2 2.9 1.9 4.1 2.1-7.2 1.3 2.3 1.5 2 1.7-4.5 1.8 9 2.2 1.1 1.8 3.1 1.9-6.4 1.8 5.1 1.6 1.1 1.8-1.3 1.2 1.9 2.3-5.3 1.4 2 2.3-1.7 2.3 1.6 2-3.4 1.9-5.5 1.3-3.7M51.2 183.7l2.1 3.1 1.3 2.4 1.8-1.3 1.7-2.8M51.2 189.8l2.3-1.4 2.2 5.3 2.2-2.7 1.5-6.7 1.8 4.6 2.3 .9 1.7-1.9 1.9 3 1.7-3.6 1.6 10.8 1.5-8.2 1.4 5.5 2.3 1.4M51.2 181.7l1.9 .9 1.6-3.4 1.9-.5 2.2-5.8 1.9 2.8 1.3-2.3 1.5 3.1 2 6.4 1.2 1.4 1 .2 2-1.8 1.5-1.5 1.6 6.9 1.2-1.8 1.5-6.3 2.2-3.9 1 3.2 1.1 .5 2.2-3.9 1.2 1.6 1.7 4.2 2.3-.7 1.1-4.3 2.3 3.5 1.1 2.4 1.2-2.4 1.1 5.8 1.2-4.2 1.3 .5 1.7-5.3 1.5 5.7 1.8-2.3 2.2-3.9 1.6 3.3 2.2 6.3 1.3-9.2M51.2 191.6l2-3.2 1 7.4 1.4-2 1.9-5.7 1.8 11.5 1.6-1.9M51.2 163.1l2 .1 2.3 3.6 1.4-1 1.3 1.2 1-2.6 2.4-1.5 1.2 1.8 2.2 1.7 2.4 1.8 1.9-1.5 1.6 6 2.2-2 1.2 6 1.5-5.3 2-1.7 2.2-2.3 1 1 2.4-2.2 2.3 2 1.4-1.8 1.8 2.8 1.1 1.5 2.1-.6 1.6 .6 1.1-2.9 2.1 1.1 2 4.4 1.4-1.9 1.1 4.5 1.5-1.1 1.3 5 1.1 1.4 2.2-1.4 1.7 1.6 1.8-.7 1.7 1.4 2.1-10.2 1.7 7.4 1.2 .3 2.3-2.4M51.2 177.5l1.7 3.1 1.9-9.1 1.9 4.5 1.3 .7 1.4-1.4 1.8-1.7 2-.4 2.1 3.6 1.4-2.6 1.2 6.3 2-7.1 1.5 3.8 1.3 4.8 1.7-7.6 1.7 0 2.1 2 1.9-1.3 2.2 5.7 1.5-7.8 1.2 8.8 1.2 .4 1.2-3.5 1-3.6 1.9 2.4 2.2 5.1 1.9-1.3 1.4-2.1 1.5 1.3 1.3 .8 1.2-4.2 1.1 1 1.8 1.2 2.1-9 2 11 2.3-.4 1-2.5 2.4-3.3 1.8 1.4 1.4-2.1 1.1 .3 2 2.8 1.8 3.3 1.7-.8 1.5 1.3 2.3-2 1.9 5.2M51.2 166.2l2.1-3.5 1.7-5.9M51.2 186.5l1.9-3.6 2.3-.7 1.8-.2 1.2-2.1 1.8-1 1.8 .6 1.3 1.6 2 2.3 1.6-1.1 1.4 1.5 1.4-7M51.2 169.6l1.3-9.6 1.8 12.2 1.6-7.5 1.6 1.7 2.4-1.6 1.6 2.2 1.5-6.1 1.5 7.2 2.2-2 1.8 2.8 2.1-1.4 1.2 8.9 1.1 .5 1.3 2.7 1.1-2.5 1.3-.7 1.3 .3 1.5 4.5 2.3-6.1 1.6 .5 1 4.2 1.8 5.8 1.5 4.7 1.5-4.2 2.1-2.2 2.3 1.8 2-2.5 1.5-3.2 2.3 4.7M51.2 180.1l1.9 1.8 1.4 6.9 1.3 1.1 1.3-4.9 2.1-1.6 1.8-4.6 1.2 3.7 2.3-2 1.9 1.8 2.4-2.1 2.2 1.2 1.3 1.3 1.5-.8 2 1.6 1.3 1.2M134.7 168.7l1-3.5 1.2-5 1.8-5 .7-4.1 .8-4.6 1.2-.9 .1 7.2 2.9 1.5M95.4 162.7l.9-3.9 .5-.5 .2-5.2 .9 2.2 1.9 1.9 -.5 1.7M103.2 158.5l1.1-.3 1-2.2 1.4-1.8 1.3-1.3 -1.6-1.5 1.4-1.9 1.4 3.4 1.5 2.1 -1 .6 1.6-1.2 2.4 7.2 -.7 6.6M85.7 163.2l.9-4.8 .7-6.3 1.1-.1 1.5-6.5 .6 2.4 1.1 3.1M111.4 169.1l1-7.1 1.8-3 .2-10.2 1 3.8 1.4 1.2 2.1 1.8 1.2 3 .3-3.6 -1.8 4.1M101.4 166.1l1.2-2.7 1.1-8.6 1.2-2.7 1.8-7.8 1.1-.1 .4 6.5 .7 2.1 1.5-2.1M117.2 160.5l.8-3.5 1.5-4.7 1.3-7.2 .7 2.6 1.2-.7 .8 2.4 .2 1.8M118.8 169.2l1.3-3.1 .9-5.2 1.5-4.4 1.8-6 -1.1-4.7 .8 2.6 1.7 2 .6 2M113.7 167l.5-4.5 1.9-3.7 .5-6.6 .8-5.7 1.7 0 1.5 3.1 .9 .2 .4 4.5 2-.2 .3 .5M77.8 159.7l.8-.4 .2-2.3 2.2 1.3 1-3.5 -1-.9 -.1-1 .8 1.3 .7 4.2M87.7 169.6l1-2.2 1.8-5.3 -.9-4.6 .5 0 1.5-7.3 3 1.4 1.3 3.6 1.7-.5 -.4 .1M79.8 161.9l.8-3.1 1.7 0 .6-1.5 2.5-1.4 .2-1.2 -.2 .4 1.1 3.8 .4 2.8 2.9 2.4 -.6 1.5 2.2 2.1M92.4 165l.8-2.7 1.2-2.9 .8-4.6 1.5-.2 2.5-4.9 1.1-.3 1.4 5.9M63.5 167.5l.5-4.4 1.1-6.4 .8-8.9 1.4 2.5 1.2 4.7 .1 1 2.2 .4 -1-1 3.4 .9M112.5 167.1l1.4-4.6 -.3-8.2 3.1-6.8 .9 2.5 1.9 2.2 -.5-1 3.6 6.7M127.3 168.5l1.1-2.5 .9-8.1 -.3-3.1 .9-6 2.3-2.2 1.3 2.3 1.2 2.4 -.7 4.6 2.2 1.4 1-7.2M117.3 163.7l1.2-7.4 1.5-5.7 -.1-5.1 .9 3.5 .9 2.3M62.9 162.1l1.3-2.3 1.2-2.7 -.3-5.1 1.8-4.1 1.3 2.9 .9 2 .2 4.1 3.3-3.6 1.5 10.9M119.3 160.1l1-3.2 .3-1 .7-2.3 1.3-1.8 1.3-4.8 .9 2.2 1 .5 .7 1 -.2 5.2M62.9 166.4l.9-1.4 1.9-4.5 1.3-.9 .1-4 -.5-.2 4.1-4.2 1.1 2.3 1.6 .9M77.4 169.1l.7-8.5 .3-9 2.6-6.2 1.3 2 .7-.9 -.1 4.3 2.4 5.1M102.2 160.3l.8-4.2 2-1.6 .9-3.5 1.3 2.6 1.5 0 -.7 5M102.4 164.4l.8-4.2 .7-3.4 1.4-2.3 .6-3.2 1-3.5 .8 .4 1.3 5.8 1.7-2 -.6 6.6 2 1.5M123.3 162.2l.7-3.8 2-.9 .7 1.2 0-4.4 1.1 2.4 .3 1.4 .8 5.6 3.3 .5 .4-5 -1.4 6.2M105.8 161.9l.9-4.5 .2-3.2 .7-3.2 3-2.9 .7-.2 1.1 7.2 2.5-.9M94.8 165.9l.8-1.9 1.4-2.6 1.1 .1 2.2-2.8 -2.3 1.8 1.1-4.6 1.4 2.3 .7 1.9 2.2 1.6 -.5 4.3M66.5 167.6l.6-4 .8-4 1.8-4 2.3-1.8 -.7-4.7 1.1 1.9 .9 .8 .4 8.2 .3-6.5 1.7 2.9M121.5 165.1l.7-1 .3-4.3 1.3-3 2.7-1.1 1-1.9 1.5 3 .7 .3"/>
</g>
<rect x="51.2" y="18.9" width="144.0" height="202.1" fill="none" stroke="#c2c2c2" stroke-width="1.15"/>
<path d="M75.2 221.0v-2M99.2 221.0v-2M123.2 221.0v-2M147.2 221.0v-2M171.2 221.0v-2" stroke="#c2c2c2" stroke-width=".8" fill="none"/>
<clipPath id="cpH"><rect x="207.9" y="18.9" width="144.29999999999998" height="202.1"/></clipPath>
<g clip-path="url(#cpH)" fill="none" stroke-linejoin="round" stroke-linecap="round">
<path d="M207.9 154L232 155L248 159L254 166L248 175L232 181L207.9 183z" fill="#0072BD" stroke="none"/>
<path stroke="#0072BD" stroke-width=".38" d="M207.9 167.8l1.5-.1 1.7-4.4 1.8-4.5 1.6-1.3M207.9 179.2l1.6 .9 1.4-3.6 1.2-.4 1.3-1.2 2 5.1 1.4-2.8 1.5 4.8 2.1-7.6 1.6 5.8 1.2 .5 1.4 4.9 2.1-4 1.5-4 2.2 6 2.1-8.4 2.2-2.8 1.7 1.4 1.1 1.4 1.5 1.3 2-5.2 1.5 3.7 1.2-6.3 2 2.4 2-3.2 1.3 4.9 1.1-1.5 1.7 1.3 1.2 1.3 1.7-4.2 2.1 3.5M207.9 172.4l1.9 .7 1.8-3 1.4 .9 1.7-4.5 1.6 1.5 2 1.7 1.8-3.9 1.7 .6 2 7.1 1.1-5.8 1.5 3.9 1.9-.9 2.1 4.9 1.7 2.6 2 6.4 1.5 1.5 1.5 .2 2.1 1 1.6-5.6 2 .9 2.3-3.4 2.2-4.4 2 3.8 1.1-9 2.2 5.4 2.3-3.1 1.5-5.2 2.2 5.5 2.3-4.2 2.2 3.7 1.4 2.5 1.8 7 1.3-7.8 1.6 7.7M207.9 167l1.4 1.6 2.1-2.5 1.3 5.6 1-1.9 2 1.9 1.2-2.4 2.3-2.1 2.1-5.2 1.9 .4 1.6 5.8 1.5-6 1.1 .2 2.1-1.2 2.3 3.4 2.1-3.5 1.8-2.7 1.8 1.4 1.6 6.6 1.6-6.9 2 2 2.3-2 1.3 1.9 1.1 2.8 2.4-2.6 1.7-5.2 1.4 1.3 1.5 .6 2.1 9 1.8-5.7 1.7-1.5 2.3 .8 1.1-.6 1.8 3.4 1.3 5 1.6-12.1 1.3 8.5 2.4-2.4 1.3 1.6 1.5-2.2 1.1-.2 2.4-6.1 1.3-4.2M207.9 157.4l1.4 3.5 1.1-1.1 1.5-2.5 2.3 2.7 1.7-2.5 1.7 0 2-5.8 1.9 5.1 2 2.2 1.7-7.5 2 6.2 1.1-.1 1.4 2.6 1.5-.6 2-4.2 1.4 1.2 1.8 4.7 2.3 2 1.5-.4 1.3 2.3 1.6 1.6 2.3 4.9 1.4-1.8 1.1 5.2 1.4 2.4 1.2 .5 2 1M207.9 163.6l2.3-4.9 1.7 2.5 2.4 3.6 1 .5 1.7 3.3 1.8-6.8 1.2-.1 1.6-5.7 2.2 1.9 2.3 3.4 1.9-.2 1.4 .6 2-3 1.6 .2 1.8 1.7 1.1 4.2 2.2-2 1.5-1.3 1.8 6.2 1.4-1.5 1.8 .7 1.4-2.1 2.3 6.9 1.3-7.1 2.2 5.7 1.9-1 2 2.6 1-.6 1.6-2.7 1.3 4.3 2-.8 2.2-3.9 1.2 4.6 1.2-2.9 2-2.4 1.1-1.7 2.2 6.3 1.2-3.7 1.4 6.9 1.5-10.6 1.4 .8 1.5-1.5 1.1-5.1 2.2 2.2 1.9 3.1 1.3-2.8 2 .4 2.1 2.8 1.6-1.7 2.2-.2 1.8 1.4 1.3-3.5 1.4 1.5M207.9 156.9l1.9 4.8 1.2-2.8 2.2 0 2-1.1 1.9-.7 1.6-4.2 2 1 1.4 2 2.1-2.2 1.5-2.7 2.1 2.1 1.8 6.6 2 2.1 2.2-.1 1.2 4 1 1.8 1.1-2.9 2.2 1.9 1.3-.9 1.5-2.6 1.9-1.8 2.3 6.1 1.9-.9 1.1-.6 1.9-4.2 2 4.4 1.9 2.9 1.1-3.2 2.4-1.7 1.5 2.6 1.2 0 1.7 6.9 1.9-5.6 1.9 2.8 2 .5 1.3 1.8 1.4 2.5 2.1-2.8 1.8 1.9 1.7-2.3 2.2-.6 1.8-1.9 1.7-4.1 1.6 6.9 1.9-2.1 1.5-3.6 1.8-6.4 2.3 1.5 1.8 6M207.9 143.7l1.3 2.4 1.7-1.3M207.9 193.2l1.8-.5 1.6-.2 2.1 .5 1.5-2 1.6-1.7 1.4 .3 2-2.5 1.6 5 1.5-6.8 2 2.2 1.8-2.6 1.8 3 1.9 3 1.1-5.7 1.7 .4 1.6 .7 2.1 3.5 1.9 .3 1.6-2.8 2-.8 1.7 1.2 1.9-1 2.3-.4 1.4-.1 2.1-1.8 1.5 2.6 2.2 0 1.4-.8 1.4 3 1.2-6.9 2.3-1.3 2.2-1.1 1 .6 1.8 1.4 2.1-5.2 1.3-2.5M207.9 188.4l2.1-2.3 1.2-1.1 1.8-1.5 1.7 .4 2.2 .3 1.1 1.1 1.3-.6 1.3 .3 2.1-5.4 1 .9 1.3 1.8 1.9 1.7 1.7-.1 2-1.6 1.8-1.7 1.2 .5 2.2-.3 2 3 1.7-6.8 1.4 2.4 1.4-4.7 1.4-4.4 1.9 0 1.2 3.2 1.7 1.5 2.3-1.2 2.1-.9 1.8 1.4 1.9 3.5 2.3 2.5 2.2-4.2 2.1 2.7 1.8 1.5 1.2-.8 1.8 .3 2.3-4.6 1.3 4.2 1.1 2 1.3-3.5 2.4-2.4 2 3.3 2-8.3 2 4.4 1.7 4.8 1.1-6 2.3-3.2 2.3 5.7 1.8-5.3 1.3 .8 1.4-.2M207.9 161.6l2 5.1 2.4-11.6 1.3-.8 1.2 3.8 2.1-3.2M207.9 170.9l2.1-2.3 1.4 1.6 2.1 4.1 1.3 .5 2.2-5 1.4 5.1 2 2.7 1.4-6.8 1.9 2.8 1.8-.4 2.3-3.5 1.5-.6M207.9 174.2l1.4 5.6 2.4-9.9 2 4.2 1.6 1.7 2-2.6 1.6 1.1M207.9 140.2l1.4 2.7 1.1-4.4 1.5-.8 1.6 2.7 1.6-5.2 1.4 .3 1.2 2.2 1.5 1.1 1.5 1.1 1.2-1.1 1.6-3.3 1.9 3 1.8-1.8 1.8 2.3 1.9-4 2.2 3.2 1.6 3.8 2-1.4 1.8 4 1.7 4.1 2.2 1.2 2.3 1.1 1.1-2.5 1.1 3.5 1.7 4.1 2 3.3 2-4.1 1.1 3.8 1.6-2.5 1.2-2.5 2.1 2.4M207.9 171.3l1.5 5 1.3 1.6 2.3-7.2 1.7-3.9 2.3-2.3 2 4.6 1.1-1.6 1.9 2.6 2.3-8.6M207.9 148.1l1.7-8.8 1.1 6.5 1.7-5.6 1.3-.9 1.2 2 1.8-.3 1.7 2.4 2 2.6 1.9-4.3 1.8 .6 2.1 2.9 2-3.3 1.8 9.1 1.5-.2 2 4.3 2.4-3M207.9 164.4l1.4-7 1.6 6.9 1.8-1.6 1.2 5.1 1.1-.8 1.9 3.5 1.3 2 1.3 .9 1.2 3.6 1.8-4.7 1.2 2.2 2-1.7M207.9 158.3l2 1.6 2 0 1.5-3.2 2.3 3.1 2.3-7.1 2.1 10.9 1.8-.6 2.3-1.4 1.9 1.4 1.1 5.9 1 .8M207.9 163.1l1.4-5.5 1 4.9 1.9-3.2 1.2-2.3M207.9 158.4l2.3-8.2 2.2 2.2 2.2 .1 1.9-2.3 1.7 .7 1.8 7.1 2.1-3.7 1.7 2.1 1.4-5.5 2.4-.5 1.2-10 2.2 6.1 1.7 4.9 1.5-4.6 2-1.2 1.7-.8 2.3-6.7 2 8.1 1.3-2.5M207.9 163.7l2.1-3.8 2.2 3.3 1.7-3.6 2.2 .4 1.9 5.4 1.2-9.6 1.9 6.6 1.3-2.5 1.9 1.8 2.3 .2 1.2 1.9 1.6 1.2 1.8-6.3 1.7-1.3 1.9-1.4 2.3 3.3 2.3 3.4 1.8-9.1 2 2.5 1.6 4.1 1.2 .2 2.1-2.1M207.9 154.9l1.7-.4 1.4 6.4 1.5-1.4 1.6-1.2 2-.8 2.1 2.7 1.9 3.4 2.1-6 1.4 7.6 2-.7 1.7 2 2.3 2.1 1.7 3.6 2.1-6.4M207.9 164.4l2.3 2.3 1.7-1.4 1.2-2.8 1.6-1.3 1.8 2.1 1.8 2.5 1.3-6.2M207.9 168.8l1.6-4.9 1.2 .4 1.2-1.3 1 .3 1.3-5 1.5 3 1.1 4.1 1.2 .2 2.1 .2 1.5-.3 1.3-1.6 1.8 0 2.3-1.5 1.1-1.2 1.3 4.2 1.5-.5 1.1-.3 1.1-.8 2 1.2 1.1-4.4 1.7 4.3 1.7-7.4M207.9 182.5l1.9-5.8 1.6 5.1 2.2 0 2.3-3.2 1.6-.5 2 6 1.2-5.3 2.2 5 2.1-6.8 1.5 6.4 1.5 1.7 2.2-4.5 1.4-2.7 2 5.2M207.9 152.8l1.4 9.5 2-3 1.3-2.5 1.6 4.6 2.3 3.9 2 1.1 1.8-2.2 1.1 6.4 1.3 1.3 1.2 1.6M207.9 156.4l1.4-.8 2 .8 1.4 .3 2.4 .8M207.9 176.8l1.1 .3 2.3 1.3 2.1-.5 2.3-1.4 1.7 2.5 1.3-.2 1.7-3 2.2 3.3 1.1-1.5 1.3-.2 2.2 7.9 1.1-1.4 1.3-2.8 1.8-.6 1 5.5 2.1-5.9 1.3 .8 1.2 1.5 1.7-2.7 1.6 8.7M207.9 182.9l2-1.6 1.7 4.6 2.2-4.1 1.8-5.9 1.7 6.4 1.8-3.1 1.2-2.1 1.9 5.9 1.1-1.6 2.4-3.5 1.6 4.1 1-2.8 1.6 1.8 2.3-2.6 1.3 4.6 2.3-3.3 1.7-3.7 1 5.3 1.3-3 2.3-6.2 1.1 3.1 2.4-.1 1.4-1.2 2.2 .6 2.2-2.4 1.2-.9 1.2 2 1.3-1.1 1.2 .8 1.1-3.4 1.3 3.6 1.3 2.9 1.9 3.6 1.6 1.3 1.1-8.4 2.3 .9 1.8-5 2.3 1.7 1.5-.3 1.3 6.9 1.8-7.5 1.3 1.9 1.3-3 2 6.5 1.4-1.7 1.9 3.8 1.4-3.2M207.9 163.5l1.7-10.5 1.4 .7 1.7 3.6 1.4-.9 2.3-2.8 1.9 5.6 2.1-.9 1.1-2.2 2.2 2.8 1.5-3.5 2.3 5.1 1.2-4.6 2.3-4.1 1.7 4.4 1.6 .7 1.9-3 1.6 0 2 5.4 1.6-2.2 1.7 1.7 1.2-4.8 1.9 2.3 1.9 4.5 1.1-.7 1.4-3.1 1.6 1.1 2.4-1 1.9 3.3 2.1-2.1 1-.4 2.1 .8 1.8 .7 2-2.9 2.3 6.5 1.2-3.3 1.5 1.4 1.8 3.5 1.8 .6 1.2-2.1 2 5.6M207.9 167.6l2 .8 2.1-1.4 1.5-6.2 1.6 9.5M207.9 173.9l1.7-3 1.5 1.2 1.3-3.2 2.1 7.2 2.3-4.2 2.3 4.2 1.7 1.5 1.2-1.1 1.3-3.9 1.7 2.3 2.2-1 2.3-7.6 1.9-2.3 1.2-6.8 1.6 1.1M207.9 143.7l1.6 .8 1.6 .5 1.2-2.1 1.8 .5 1.7-.5 2.4 2.8 1.6-3.8 1.7-.3M207.9 178.7l2.2-1.1 2-2.9 1.9-1.6 2.2-1.7 1.5 .3 1.5 .7 1.6-1.6 1.9 4 1.5 1.9 1.3 .8 1.3 .1 1.8-2.6 1.3-5.6 1.1 4.8 1.2 4.9 1.9-3 1.3 6.4 1.7-2.3 2 .3 2.1 .4 1.6-1.4 1.1 1.4 2.1-6.8 1.8 2.9 2.2-1.8 1.3-.2 1.7-1.3 2.1 2.7 1.1-1.8 1.4 1.4 1.3 1.4 1.1-2.5 1.1-5.7 2 2.9 2.3 3.2 1.8-3.7 1.9 .1 1.7-6.9 2.1 4 2.2-2.8 1.8 4.3 1.8-1 1.6 3.5 1.7-3.3 2.3 2.7 1.4 2.1 2.1-6.7 1.1 4.2 1.6-1.4 1 1.3 1.1 2.7 1.6-3.9 1.1-1M207.9 173.5l2.2-4 1.4-.1 1.9-3.1 2.1-2.4 1.2 2.5 2.3-3.7 2-1.1 1.6-1.6 2.3-.7M207.9 165.6l2.2 1.1 1.3 .1 1.8 2.8 1.8-2 1.3 2.3 1.7-4.1 2.1-8.3 2.2-.5 2.3 8.8 2.3-5.4 2.1 .7 1.3-1.3 1.9 2.8 1.5-1.5 1.6 .4 2.3 2.3 2-.5 2.4-3.1 1.8 3.2 1.3-2.5 2.3-4.4 1.2 5.3 2.2-4.8 1.6 1.9 1.4-5.8 2.2 .5 1.1 8.1 2.2 1.4 1.1-3.7 1.5 6.7 1.9 3.3 1.2-1.6 2.3-8.6 1.7 7.7M207.9 159.3l2.3 5.7 2.2-.3 1.5-1.8 1.1 1.8 2.2 5 1.7-4.8M207.9 177.7l2.3 .2 1.4 1.4 2.1-2.1 1.1-.4 1.9 .7 1.8 2.6 1.7 3.1 1.8 1.6 2.3-5.8 2.1 .1 1.2 4 1.2-.4 2 1.1 2-3.4 1.6 .4 2.3 4.1 1.9-.4 1.1-6.6 1.4-4.7 2 0 1.3-1.3 1.4-3.4 2.2-1.2 1.6 .5 1.6-2.6 1.8-2.1 2.3-2.7 1.3 2.7 1.1 2.6 2.3 .6 2.3-1.3 1.9 1.2 2-3.7 1.3 3.8 2-2.2 2.3 2.8 1.9-1.2 2 2 1.2 1.5 1.1-1.3 1.1 2.1 2.1-1.9 1.3-3.8M207.9 160l1.9-8.8 1.2 1.4 1.2 5 1.3-4.3 2.1 5.9 1.7 2.6 1.2 2.2 1.8-6.8 1.2-.2 2.3 .3 1.7-.8 1.1 .2 1.4-2.6 2.1-1.7 2.2 1 2.3-3.5 2 .7 1.6-1 1.6 .6 2.1-.5 1.2 1.6 1.7-5.1 1.8 4.4 1.4-2.8 2.1-1.2 1.5 5.6M207.9 158.7l1.9-3.5 1.5 5.3M207.9 166.5l1.9 6.7 2-.2 2.4 .8 2.2 5.1 1.5-4.8 1.8-2.3 1 1.5M207.9 187.1l1.6-2.2 1.4-1.4 1.4-.4 1.4-2.3 1.2-4.8 2 5 1.4 3.7 1.9-3.6 1.2-1.6 1.7 2.1 1.8-.2 2.1-3.4 2.4 4.2 1.2-3 1.7-2.2M207.9 166.6l1.2 1.3 1.7-4.8 1.3-.6 1.1-4.1 2.4 5.1 1.8-3 1.5 .9 2.1-.1 2.3 1.3 1.6-4.3 1.9-3.7 2.2 7.7 2.1-8.2 1.2-.2M207.9 169.9l1.1-1.8 2.1 4 2.1 2 1.2-4 1.8-1.5 1.1 5.7 2.2-2.5 1.2 .5 1.2 7.2 1.5-7.7 1.7 3.5 2.2 1.7 1.8-1.3 1.6-1.3 1.7 2.2 1.1 4.4 1.9-5.7 2.1 3 1.7 .6 1.4-4 2.2 .4 1.9 3M207.9 164.8l1.5-2.4 1.5 1.3 1.4 2.5 2-4.5 1.6 2.3 1.5-3 1.7 1.3 1.3 3 1.4 5.2 1.9-6.7 1.2 2.9 1.8-.7 1.2-.1 1.4 3.6 1.1 7.5 1.1-6.5 2.1 3.2 1.3 3.1 1.9 3.4 2.4-4.1 1.9 3.4 1.4-.2 1.5-1.7 2.3-6.9 1.5 2 2.2-6 2.3-1.8 1.6 .2 1.2-1.5 2-1.3 1.2-1.1 1.2-6.6 2.2 .6 1.8-1.7 2 5.5 1.7-6.2 1.6 8.3 1.9-6.5 1.9 .2 1.9-4.8 1.4 4.2 1.2 1.5 1.8-3.1 2.2 .5 1.2 5.2 1.2 3.2 1.7 .1M207.9 178.8l2 1.7 2.2 5.7 1.5-1.5 2.2-2.2 1.7-1.8 2.3 .9 1.7-1.6 1.7 2.1 1.8 5.1 1.2-3.3 2.1-5.9 1.5-1.9 2.1 5.9 1.3-7.8 1.6 7.4 2.2 .9 1.7-5 1.3-.5 2.1 5 2.2-3 2-.7 1.3 .9 1.8-6.3M207.9 154.1l2.1-2.9 1.2 2.5 1.4 3.8 2.2-5.6 2.1 1.2 1.9-.8 2.2-1.4 1.6-2.3 1.6-4 1.4 2.4 1.9-2 1.1 7 1.9 1.6 2.3 3.7 2-2.5 1.6 3.7 1.1-10.3 1.2 6.6 1.5-1.4 1.3-.3 2.3-4.2 2.3 .9 1.9 3.6 1.2-3.9 2.2-1.8 2 .9 1.5-.4 1.5-6.8 2.1 2.7 1.5 6 1.4-5.7 1.8 4.9 1.8-.4 1.9-6.8 2.3 10.5 1.5 1.5 1.7-4.1 1.1 6.5 1.1 4.5 1.5 2.2 1.3-2 1.8 4.2 2.2-3.1 1.9-.4M207.9 154.1l2.1 1.5 2.3 1.5 1.9-1.1 2.3-.2 1.1 2.5 1.5 .5 1.5 4.7 2.3 4.1 1.7-3.9 1.3 1.1 1.8-6.4 1.8 5.9 1.9 1.5 1.7-2.2M207.9 173.2l2.1 .2 2.1 .3 2-7 2 2.4 2-4 1.7 5.4 1.6 3.5 1.4-2.8 2.1 .2 1.9 3.1 1.8 4.5 2.4-5.2 1.2 7.5 1.5 1.8 2.2 0 1-2.2 2 .5 2.3 6.1 1.1-6.9 1.5 1.3 1.8-3.5 2.1 4 1.5-1.9 2-.3 2.4 3.4 1.5-3.4 2.4 4.8 2.3-3.6 1.9-2.4M207.9 166l1.4 6.2 1.8-5.2 1.2 4.7 1.8-2.7 1.1 3.2M207.9 183.7l1.7-2 2.3 0 1.8 2 2-2.4 1.3 3.3 1.1-3.5 1.8 8.9 2.2-4.6 1.6-5.7 2 2.4 1.9 .4 2.1-1.7 1.2-6.6 1.2 2.1 1.2-2.9 1.9 3.6 2 3.1 1.5-4.6 2 1.6 1.1-1.5 1.2-.1 1.9-.3 1.2-1.1 2.3-4.2 1.1 1.2 1.1-.9 2.3 3 1.3 7.2 2.3-2.2M207.9 172.4l1.6-.8 2.1 5.7 2.4-7.9 2.3 3.6 1.7-4.6 1.7 3 2.3 3.1 2-2.9 1.6 .5 2.2-5.2 2.2 5 2.3 4.8 1-5.4 1.8 9.2 2.1-3.3 1.3 3.1 2.1 3.8 1.7-6.2 1.6 3.5 1.6 2.7 2-3.8 1.3 4.6 1.7-4.1 1.8-3.5 2.2 4.2 1.6-2.1 2.3 1.6 1.5-2.5 1.5 2.8 1.8 .8 1 2.6 1.3-9 2-.1 1.2 2.4 1.3 1.3 2.2-1.3 1.5 3 2.1-1.3M207.9 174.2l2.1-2.5 1.1 0 2.2-2.1 2.4-.3 1.6 2.7 2.3-2.7 1.2-.5 1.4 3.9 1.7 1.6 1.8-3.9 1.3 2.1 1.8 .4 1.9-1.6 2.2 2 1.8-1 1.5 9.2M207.9 172l1.2-1.2 1.9 4.4 1.1-1.1 1.7 3.9 1.7-2.9 2 3.5 2.2 2.4 2.3-2.7 1.7-1.1 2.2 2.8 1.9-2.9M207.9 156.1l2.2 .1 1.4 2.4 1.2 1.3 1.3-2.8 1.6 5.3 1.5-3.4M207.9 165.3l2.3-6 2.3-3 1.8 3.7 2.2 3.3 2.3 2.3 1.8-2.3 1.6 5.4 1.3-6.7 1.3 6.3 1.3-1.3 1.2-.7 1.1 2.9 2 5.3 2.2-4.8 2.4 .7 2-2.4 2.1 5.6 1.5-3.9 2.1 .9 2.2 4.3 1.5 3.4 1.5-9.7 1.5 6.5 1.8-3.3 1.7-4.2M207.9 157.1l1.6 5.8 1.9 .4M207.9 174.6l2.3-3.5 1.9-1.1 2.3 .4 1.1-5.5 2.3 6.2 1-5.8 2.1 3.1 1.3-3.6 1.4-3.8 2.2 2.3 2.1 .2 1.4-.5 2-4.9 2 3.7 1.6-4 1.3 .4 1.2 3.2 2.3-4.5 2.3-1.4 1.7-1.6 1.8-1.8 1.3 3.8 1.5-2 1.1 4 2.3 .9 2-4.9 1.2 3.7 2 .7 1.7 1.4 1.8 5.3 2.4-3.9 1.3 3.8 2.1 6.1 1.6 0 1.9-1.8 2.3 2.8 2.3-1 1.2-.6 2.2 8 1.4-4.2 1.9 .1 2.3-4.5 1.5-2.7 1-1.9 1.8-2.3 1.1 3.6 1.4-4.6 2.1-.8 2.2 2.7 1.6 4.3 2 4.2 1.5-4.5 1.6-4.1 2.2 3.5 1.2-7.1M207.9 169.1l1.3 1.7 1.3-4.2 2.3 9.7 1.1-5.5 2-2.4 1.7-2.3 2.2 1 2.4-4.8M207.9 174.4l1.7-.5 2.3 .8 2-2 2.1-2.1 1.9-1.2 2.3-6.4 1.9-1.1 1.4-1.4 2.4-3.7 2.2-2.1 2.1 .9 1.2 8.6 2-2.3 1.1 5.3 2-1.1 1.8 8.7 2.4-7.9 1.6 .1 2-1.6 1.2-4.8 1.5 1.4 1.3 2.8 1.8 .3 2 6.8 1-8.9 2.3 1.9 1.2 3.7 2.2-4.6 2.3 .2 1.8-1.1 1.4-8.1 1.9 6.1 1.4-3.8 1.3 5.8 1.8 3.6 2.2-1.1 1.2-4.1 1.3-1.9 1 8.9 2.1-.5 2-.8 1.8 1.5 2.2 .2 1.4 3.4 1.6-.5 1.5 1.9 2.3-7.7 2.2 1.4 2 3.3 1.9-1.9 1.9 6.6 1.7-2.9 1.6-.6 1.1-3.6 1.9-1.2M207.9 194.1l1.1 .7 1-.8 1.4-2.7 1.5 3.2 1-2.5 2.3-3.3 1.6 4.2 1.5 .1 1.6-1.6 2.1 2 1.3-6.3 1.3-2.6 1.5 1 1.9 3M207.9 149.4l1.4 4.7 1.3-7.9 1.3 7.2M207.9 149.4l2.1-2.4 1.6 8.6 1.8-7.9 2.2 .1 1.8 1.8 2 1.9 1.4 3.9 2.2 .9 1.6-3.3 1.1 .9 1.8-.1 1.7-3.8 2.2 1.4 2.2-.7 1.7 .9 1.1-9.5 1.4 8.4 1.9-4.2 1.8 5 2.2 .4 1.1 2.5 1 4.3 1.4-2.2 2.3-5.2 1.3 3.6 1.5-1 1.2-2.3 1.1 3.6M207.9 176.6l1.8-5.9 2.1 3.6 1.6-1.2 2.1 4.8 1.2-5.2 1.3 2.2 1.2-5.5 1.7 .9 2.1-.3 1.7-3.4 1.6-5.8 1.5 .2 2-2.1 1.8 .6 2.3 2.3 1.5-6.7 1 0 1.8-4 1.7 12.2 2.1-4.3M207.9 189.6l1.4-4.5 2 3.4 1.8-4.3 1.1 4.2 1.8-.4 2.2 2 1.9-1.7 2.3 2.2 1.8-6.1 1.2 .8 1.1-5.7 1.7 2.4 2.3-4.5 1.6-1.5 1.7-7.3 2.2 .3 1.9-3.6 2-2.1 1.2 3.7 1.5 .4 1.2-2.4 1.2-3.3 1.5 1.5 2.4 1.5 1-4.4 2.1 1.7 1.1-.5 2.3 2 2.1-4.3 1.3 .4 2.2-1.7 1.4 1.1 1.6 3.9 1.7 5 1.9-4.3 1.5 5 2.2-3.7 1.4-2.6 2.2 .3 2 2.5 1.2 .2M207.9 147.4l1.1-1.7 1.9-1.5 2.1 6.4 1-1.7 2.3 6.5 1.1-2.7 1.4 3.8 1.6-4.1 1.5 1M207.9 172.8l2.2 .6 1.4-2.8 2.3-1 1.8 1.5 2.3 3.3 1.8-.2 1.7-4.9 1.3 4.3 1.6-1.6 1.3-2.3 1.9 5.7 1.7-1.6 1-3.4 2.1-.6 1.1 3.2 1.7-.2 1.7-1.5M207.9 181.9l2 6.5 1.5-.9 1.4-2.3 2.3 3.9 1.4-3.4 2.4 2.3 2.2-2.9 2-1.9 1.1 2.2 1.9 2.6 2.3-8.8 1.1 2.9 1.9-.8 1.3 2.5 1.1-6.1 1-3.1 1.9 7 1.7-2.9 1.7-1 1.4-3.3 2.1-.4M207.9 155l2.2 7.9 1.7-4.5 1.2-.3 2.2 .5 1.4 2.6 1.6 3.5 2.1-3.6 1.8 .7 1.6-1.6 2.3-5.8 1.3 2 2.1 .8 2.1 5.8 1.4-8.2 2.3 3.3 1.4 2.2 2.1 .6 1.3-5.9 1.1-.2 1.3 2.3M207.9 174.6l1.1 1.2 2.3 1.1 1.3 1.4 2-1.3 1.2-3.3 1.7 .9 2.2-2.1 1.4 1.6 1.7-.4 1.1-3 1.4-2.2 1.7 1 1.4 1.5 2.1 7.1 1.5 1.1 1.5-3.4 1.3-.8 1.7 1.7 1.5-4.2 1.9 5.5 1.3-3.9 2-.9 2.4 1.3 2.1 .9M207.9 162.6l1.4 .3 1.9-.4 1.2 .2 1.5-4.1 1.3-.7 1.9 1.4 2.2-1.7 1.1 5.2 2-.7 2-2.2 1.4 7.5 2-9.2 1.3-4.5 1.3 5.1 1.4 5.9 2.3-2.6 1.1-.1 1.3-1.6 2.2-2.7 2.1 2.3 1.3-4.2 1.4 2.5 2 3.4M207.9 140.9l2.2 4.3 1.1-2.6 1.3 1.5 1.4-2.5 1.4 1.7 1.5-1.1 2.3 2.2 2.3-6.9 1.3 1.9 1.6-3.5 1.6 2.4 1.1-1.3 1.5 2.2 2.1 2.5 1.2 5.9 1.1-1.9 1.3 1 1.2 2.3 2-1.3 2.4-1.3 1.3 7.3 1.3-7.6 2.1 2.4 1.9 .7 1.4 3.1 1.1-2.4 1.9 .3 2-6.5 1.6 6.5M207.9 186.5l1.6-2.6 1.6-6.9 1.8 5.2 2.4-2.2 2.1 4.6 1.7-9.4 1.2 7.9 2-1.5 2.1-.1 1.4 1.2 1.9 7 2.2-1.6 1.9-3.3 2.1 4.3 2.1 3.5 1.3-6.5 1.9 5.9 1.3-1.9 2.1-2.1 1.1 .6 1.6-5.8 1.6 2.2 1.3-2.5 1.1-6.1 1.9 1.7 2-1.5 1.8 3.8 2-5.1 1.5 .5 1.1 5.2 1.4 3.7M207.9 166.6l1.7 .1 1.2-3.3 2.1-1.3 1.2 2.7 1.7-.2 2.3-3.1 1.8-4.6 1.1 5.4 2.2-5.4 1.8 2 1.6 2 2.3 3 1.8-5.4 1.3 .4 1.4-2.1 1.6-.3 1.5-1.4 1.7-2 2.2-1.2 2.2 1 1.9 1.4 1.6 3.8 1.4-2.7 1.1 2.6 2 4.8 1.5-2.3 2.4-3.3 1.2 2.9 2-.7 2.3 .2 1.8 5.2 1.6-6.6 1.9 4.3 2.2-1.4 1.4 .6 2.2 0 1.3 2.8 1.3 3 1.5-6.1 1.9 3.6 2.3 2.6 2.2 2.6 1.1-2.9 1.1-.2 1.3-5.3 1.7 0 1.3 2.4 1.2-.5 1.5-2.5 2.3-3.7 2.1 6.5 1.1 2.9 1.2 1.8 1.9-1.6 1.7-3.2 1.8 3.2M207.9 192.5l1.5-.7 1.9 3.1 1.2-4.1 1.5-2.5 2.3 5.9 1.8-5.2 1.7 1.9 1.4-2.1 2.2-.4 1.3-1.8 1.8-3.6 1.7-2.4 1.6-1.1 1.6-1.6 2.1-4.3 1.9 3.9 1.8 1.7 1.8-4.5 2.1 5.1M207.9 145.6l1.1 1 1.7 .7 1.6-.4 2.3 3.8 2.2 5.1 1.5 .3 2.1-2.6 1.5 5.5 1.8 2.5 1.6-3.8 2-1.4M207.9 175.1l1.5-.5 1.8-1.1 1.2 0 1.6 1.7 1.1 1.9 2.3-4.5 1.3-5.2 2.4 2.8M207.9 162.6l1.9 .6 1.3-3.6 1.5 6.3 1.8-4.6 1.1 3.6 2.2-3 2.3 8.7 2.1-.1 1.2 6.7 1.1-3.8 2.2-.6 2.2 .6 1.5 1.6 2.1-4.8 1.4 1 1.9-.4 2.2-3.9 1.4-3.6 1.2 3.9 2-1.5M207.9 176.9l2.3-1.7 1.7 2 2-1.5 1.2 4.2 1.5-4.5 1.9 1.9 1.2-2.2 2.4-1 1.4-1.9 1.7-1 2.1 2.5 1.9-3.5 2 .6 2.3-6.4 1.3-.3 1.4-.1 1.8-4.2 1.3 1.1 2.4-4.5 2.3 1 1.8 7.6 1.9 1.1 1.1 3.2 2.1-1.7 1.5 3.3 1.2 6.1 1.1-.8 2.2-4.2 1.8 8.9 2-3 1.5 1 1.5-1.7 2.3 .8 1.5 3.1 1.5-3.9 1.3 .9 1.2 4.5 1 .2 1.9-1.9 1.5-.9 1.7-4.1 1.9 .5 1.8-1.7 1.4 1.9 1.3-1 1.6 0 2.3 1 1.3 4.4 1.1-6.3 1.1-2.9 1.2 6.4 1.9-7.6 1.2-4.6 1.8 4.4 1.7-9.6 2.3-1.9M207.9 163.2l2.3 .8 1.1-1.7 1.3 6.1 1.6-1.4 1.3-1.1 1.9 4.4 1.6-2.3 1.9-3.3 1.4-2.8 1.8 0 1.7-3.4 2.3 8 1.8-6.5 1.1-2.8 1.3-2.7 1.1-3.9 1.2 5.1 1 1.5M207.9 157.9l1.9-2.7 1.1 2.4 1.3-2.2M207.9 168.5l1.3 4.8 2.2-3 1.6-3.1 1.3-2.8 1.4 2.1 1 2.9 1.9 5.5 2.2-4.8M207.9 170l1.3 1.9 1.5 4 1.8-6.9 1.8 5.9 2-1.2 2.2-1.8 1.8-1.5 1.6 3.1 2.4-5.1 1.6 9.1 2.2 3.8 2-4.7 1.2-.2 1.9 2.3 1.6 3 1.7 2.5 1.2-6.1 1.9 1.2 1.9-4 1.3-.1 1.1-2.2 2.3-.4 1.4-1.8 1.8 1.7 1.8-.8 1.4 .5 1-.3 1.5-2.1 1.9 3.9 2.2-.5 1.8-4.2 1.4-.6 2.3 6.3M207.9 160.1l1.5 3.9 2.1-3.8 1.5 1 1.2 6.1 1.4-6 2.3 5.5 2 1 1.3-2.9 2.1-2 1.7-2.6 1.9 3.8 1.1 6.6 2.1-1.1 2-5.3 2.1 4.2 1-1.4 1.8-3.3 2.2 5.2 2.1 .8 1.4-1.6 1.5-2.1 1.7 5.8 1.1-6.8 1.2-1 1.2-1.7 1.9-.4 2.2 2.3 1.8-5 1.2-1.1 1.3 1.9 1.4 1.1 1.8 .8 1-1.9 1.5-.2M207.9 165.7l1.8-7.4 2.1-2.2 1.8 4 1.8 2 1-6.8 2.3 8.7 2.1-6.7 1.3 .2 1.9 1.3 1-5.1 2.1 2.7 1.7 5.2 1.4-4 2-3.1 1 5.5 1.5 .3 1.1-2 1.2-.6 1.2 .6 2.1 .2 1.1 1.6 2.3-3.8 1.9 5.7 1.5-3 1.5-6.6 1.2 4.6 1.3-.4 1.2-2 1.9-1.4 2.3-2.7 1.5 2 1.6-1 1.5 2.3M207.9 147.6l1.9 1.1 1.5 .3 2-1 2 4.6 2.2 2.9M207.9 148l1.1 3.4 2.2-4.4 2.3 1.7 2.2 3.6 1.1-5.1 1.6 3.7 1.8-.7 2-.1 1.2-1.3 2.1 .2 1.8-.5 1.4 5.1 2.2-1.9 2-3.5 2.1 2.4M207.9 140l1.5 .6 1.6-.2 1.7-2.8 1.3 1.4 1.8-2.5 1.4 5.1 1.8-9.2 1.5 4.1 2.1-.9 2-1.2 1.9-.6 1.5-9.1 1.3 5.4 2.2-1.3 1.3 3.6 1.7-4.3 1.4 8.1 2-4.3 1.2 9.6 2.3-4.4 1.2 6.4 1.7-3.3 1.8 2 1.9-1.3 2.2-3.1 1.1 2.9 2-.4 2-.5 1.9-.5 1.6 4.3M207.9 147.3l1.8-3 1.6-3.4 1.1 .7M207.9 166.7l2.2 1.2 1.8 5.8 1.8-4.6M207.9 151.8l1.2 1.4 2 .7 1.9-4.5 1.8 1.5 1.6 2.1 1.7 5.5 2-4.1M207.9 150.7l1.9 2.6 1.1 .4 1.7 .6 2.3 8.4 1.6 0 1.8-1.9 1.7 4.3 1.5-.1M207.9 166.1l1.5-.9 1.1 2.9 2.1-5.2 1.1 7 1.8-2.5M207.9 155.2l1.5-.3 1.2 .2 1.9 7.7 1.7-6.6 1.7 6 1.3-8 1.9 3.5 1 3.2 1.8-5.8 1.9 4.5 1.4-3.2 2.3-2.4 2.2 6.2 1.1 4 1.9-4.7 1.1 2.8 1.8-.5 1.3-3.4 2-.3 1.9-8.6 1.3 4.5 2-4 2 2.4 1.4 2.9 2-8.1 1.6 2 2.2 1.6M207.9 151.1l2.1 2.6 1.4-3 1.1 .5 2 3.1M207.9 162.4l2.3 .8 1.4 5.5 1-1.6M207.9 155.7l2 6.2 2.4 2.6 1.6-3.9 1.2 4.5 2-8.8 1.9 3.1 1.2-3.7 1.6 5.7 1.2-6.2 1 5.3M207.9 170.4l1.9 7 2.1 3 2 3.7 1.5-7.3 1.1 4.5 1.6-8.8 1.4-.5 1.3 2.1 2.3-.7 1.8 2 1.1 1.5 2.1-5.2 1.2 7.5 1.7-1.7 2-.2 1.4 .9 2.3 3.6 1.4-4.7 1.7 1.5 1.3-.4 1.1 .9 1.5 1.3 1.6 1.4 1.5-.2 2.2 1.7 1.8-2.5 2.1 2.3 2-.3 1.2 .9 2 3.1 1.5-8 1.4 3.5 1.6-3.3 1.3 1 1.2-.8 1.3-2.4 2.2-2.6 1.7 1.4 1.2 0 1.1-10.2 1.4 4.6 2.2 2 1.7-1 1.7-4.1 2.4 5.1 1.1-1.3 1.1 2.7 2-4 2.3 2.5 1.7-1.6 1.5-2 1.6 2.4M207.9 150.1l1 4.9 1.4-2.1 1.3 .6 2.2 2.6M207.9 150.9l1.7 2.8 1.1 0 2.2 .6 2.1 2.5 1 3.6 1.5-2.6 1.9 3 2.1 1.1 1.1 1.6 2.4 7.2 1.6 1.7 2.2 7 1.2-3.4 2.2-1 1.6 1 1.3-1.9 2.3 3.3M207.9 155.4l2.3 1.9 1.9-3.9 1.7-5.2 2 2.3 1.2 4.1 1.6-2.9 2.3-2.5 2.3 4.5 1.1 2.9 1.6-5.9 1 .8 2.4-.8 1.9-5.3 2.3 7.3 1.5-2.7 2.3 3.7 2.3 4 1.8 .4 2 0 1.7 .9 2 1.7 2.2 .2 1.1 1.8M207.9 157.9l1.3-5.8 1.3 9.3 2.2-1.9 1.2 4.2 2.3-3.7 1.5 .8 1.5-.1 2.2 .5 2.3 1.8 1.4 2 2.2 2.2 2.1 .6 1.4 0 2.1 .2 1.9 .7M207.9 165.1l1.5 .8 2 4.9 2.1-.9 1.2-.6 1.4 2.5 1-1.8 1.5 5 1.8-.2 1.8-3.3 2.1-2.3 2.4 4.5 2.3-2.6 1.5 1.8 1.5 .3 2.3-3.5M207.9 151.9l1.2-1.5 1.5 .4 1.5 1.9 1.3 2.5 1.1 2.9 1.5-2.5 1.7-4.6 1.2 1.1 1.6-1.5 1.7 3.6 1.6-1.8 1.8 9.8 1.3-5.4 1.3 .9 1.5 6.6 1.8 .9 2.2-3.3 1.3 1.4 1.7 7.4 2.1 5.5 1.6-6.1 2.1 3.9 2.3-3 1.7-3.6 1.7-1.4 1.5-6 1.4 4.5 1.5-.7 2.2-5.4 1.5 .3 1.3-1.4 1-.7 2.2 4.9 1.4 1 2.3-3.4 2 1.4 1.1-.5 1.3 1.4 1.7-5.5 1.9-.1 1.4-1 2 2.4 2.2-.8 1.9-3.3 1.9 .6 1.6-5.2M207.9 144.8l2.1-5.6 1.9-.1 1.3-4.5 1.1 7.1 1.4-7.8 1.6 3.6 1.7 6.1 1.7 .8 1.9 2.4 1.8-4.4M207.9 158.5l2-.2 2.2 5M207.9 172.3l2.2 1.4 1.2 4.4 1.7-11.1 2.2 3.3 1.6-3.6 1.7 2 1.3-2.3 1.2 2.2 1.4-2.1 1.2-.3 1.1 0 2.2 1.1 1 1.5 1.3 1.5 1.9 7 1.1-6.3 2-.2 1.7 3.3 1.7-1.1 1.7-8.7 1.2-.7 2.2-7.5 1.7-3.5 1-1.9 1.9 4.5 1-1 1.6 .4 1 2.9 2.3-6 2 1 2.2 8.8 2.3 1 1.1-6.3 2.1-.9 1.2 2.6 1.1 .3 1.9 2.3 1.4-5 2.1-3.5 1 3.4 1.3 1 1.2 6.2 1.3 1.9 2.3 .5 1.6-1.5 1.9 1.8 2-2.5 1.9 5.7M207.9 177.6l1.9-4.9 1.6 4 1.1-3.1 1.2-.5 2-3.5 1.4 2.2 1.6 .7 1.9-4.9 1.9-4.3 1.4 2.2 1.2 .3 2 3.8 1.4 2 1.5-3.6 2.1 1.1 1.3-.7 1.1-2.6 1.4 2.2 1.1 1.5 2.3-6.2 1.3 .6 1.4 3.3 2 0 1.1 .7 2.3 2 1.5 3.9 2.4 0 1.3-1.6 2.2 5.7 1.2-6 1.1 2.4 1.3-.9 1.7 4 1.3 1.7 1.9-5 2.3-1.7 1.7 3.2 2.1 .3 1.1-.2 1.7-1.7 2.3-6.4 1.6 7.7 1.1-4M207.9 157.6l2.1 .5 2 3.2 1.8 .1M207.9 169.7l1.9 .6 2.1 1.5 1.8-6.6M207.9 156.3l1.1 .3 1.6 1.2 1.1-9.1 2 5.7 2-3.6 1.1 2 1.9-1.5 2.1-3.3 2.3-3.4M207.9 147.7l1.4 3.8 1.2-2.3 1.1 3.2 1.1 0 2 1.6 2.3 .5 1.9-4.2 1.8 1.7 1.7 .4 1.6-3.9M207.9 173.8l2-1.8 1.3-1 1.5-.8 2.3-1.9M207.9 173.9l1.3-2.3 2.3 4.5 2 2.3 2.1-4.1 1.3 3.2 1.7 .8 1.4 1 1.2 .3 1.1 3.2 1.9-10.7 1.3 9.4 1.8-.1 1.9-2.9 1.2 8.5 1.2-4 2.2-4.4 2.2 2 1.3-2.7 1.1-5.6 1.6-4.7 1.3 2.4 2.2 6.5 1.7-6.7 2.3-1.9 1.2 4.2 1.7-.2 2.1 5.6 1.2-.5 1.2-3.3 1.5 5.8 2.2 .9 1.2-3.6 2.1 6.2 1.6-.1 1.8 .9 2.2 .4 1.9 2.9 1.9-.9 1.3-6.5M207.9 160.9l1.1 6.6 1.6 1.3 1.9-4.9 1.9-.9 2.2 .3 1.9-2.6 2.1 2.4 2.1-7.2 2.2 8.6 1.5-7.7 1.8 2 1.8-2.6 1.6 1.7 1.8 2.1 1.3-3.4 1.7 1.8 1.7-1 1.9 4.4M207.9 163.4l1.8 .9 2.4 3 1.6-2.4 1.5-.4 2.3 7.1 2.4-5.9 1.5 3.4 1.7-6.6 1.9 .1 1.2 1.9 2.2-5.5 1.3 4.8 1.6-3.2 1.8 .7 1.6-4.4 2.2 5.8 1.7 1.6 2.1 2.2 1.2-9.2 2.1 5.8 1-4.2 1.6 4.7 1.6-3.7 1.6 .5 1.5-1.3 2.3-4.6 1.5 2.9 1.6-3.5 1.1-1.5 1.3 .8 1.2-1.1 2.4-.4 2-2.4 1.1 6.2 1.1-.3 2.1-1.1 2.2-2.8 1.6-1.2 1.5 3.5 2.3 2.2 1.9 2.2 2.3-1.7 1.1 1.3 1.2 .6 1.9 2.2 1.3-2.2 1 2.3 1.5 1.2 2.2 4 1.4-5.9 2.1-.2 2 3 2.4 0 2.2 1.7M207.9 151.2l2.1-4.8 1.8 5.5 2.1-5.3 2.1 .2 2.1-2.1 1.2 3.3 1.8 3.4 1.7-.4 1.8-6.9M207.9 162.2l1.9-4.2 2.4-5.2 1.9 3.1 1.1 3.6 1.2 .4 1.3-.6 1.7 3 1.3 .9 2-1.5 1.9-3.2 1.2 4.6 1.5-1.5 1.7 5.3 1-7 2.3 1.6 1.1 1.4 1.6-1.3 2-.8 2.2 .9 2.3-.2 1.2-6.9 1.4 7.6 2.4 1 1.7 .8 2.1-.7 2.3 5.5 1.2-5.7 1.8 .3 1.9-1.1 1.5 3.1 1.9-1.8 1.9-.6 2 2.1 1.4 5.9 2-5.2 1.8 3.5 1.4-.8 2.2-4.4 1.7 2.2 1.2 5.8 1.1 1.9 1.1-4.2 2.4-1.5 1.4-.2 1.4 2 1.8-.7 1.6-2.5 2.1 .8 1.9-.8 1.5 .9 1.7 1.9 1.9-.6M207.9 196.6l2.3-8.9 1.3-2.1 1 6.6 2.4-2.2 1.4-11.7 2 11.1 1.8-7.4 1.3 1.1 1.5-3.8 2 6 2.2-1 1.9-.9 2.4 4.1 1.2 0 1.2-7.5 2.1 .7 2.4 .4 1.9-.6 1.8 9.8 1.1-6.4 1.6 3.6 2.3-8.1 2.3 .9 2.3 2.3 1.9-5.7 2.2-6.7 1.5 6.6 1.4 .9 2-3.1 1.5 3.6 1.4-2.9 1.9 2.6 1.2-1.6 1.3 3.9 1.1-5.8 2.1 1.2 1.9-1.7 1.6-.4 1.5-1.2 1.5 .5 1.3 .2M207.9 169.5l1.9 5.3 2.3-2.7 1.4 2.9 2.2 1.8 2.1-3 1.4-.8 1.3 3.1 1.4-3.1 1.4-1.7 1.8-.4 2.3 1.7 1.4-5.1 1.8 8.7 2.2-11.9 1.1 4.6 1.9 1.4M207.9 169.1l2 7 2.2-5.5 1.3 4 1.1-8.9 2.4 3.5 2.4-3.9 2.1 .8 1.8 6.3 2.3-.6 2.3 .8 2.2-3.5 1.6 7.5 1.5-.7 1.6-5.5 1.4 2.3 1.8-4.3 2 .4 1.6-1 1.5-2 1 .5 1.7-4.3 1.6 3.3 1.2-3.7 1.6 3.1 1.6-3.4 1.5-2.8 1.6 3.3 2.3-3.3 1.2-6.9 1.1-2.7M207.9 182.4l1 1.2 1.7 3.3 1.7-2.4 1.5-.8 1.7 6.7 1.1 .4 2.1-10.9 2.3-.3 2.3-2.3 1.4 7 1.5-4.6 2 1.2 2.3-4.7 1.6-.8M207.9 179.2l1.4 3 2-1.3 1.3-3.7 2-5.7 1.8 3.6 1.2-3.3 2.2 1.9 2.1-1 1.4-4.7 2.4 1.2 1.3-8.4 1.7 .9 1.8 2.6 1 3.8 1.6-.8 1.8-1.7 1.6 3.9 1.4-1.5M207.9 174.8l1.1-1.1 1.3 5.1M207.9 187.3l1.4-3.2 2 4 2.2-4.7 1.1 3.4 2.3-2.1 1.7-4.9 1.5 2.2 1.6 1.1 1.7-5.1 1.4 4.1 1.3-3.5 1.4-4 1.9 2.7 2.4 3.2 1.5-3.6 1.1-3.7 1.9-2.4 1.4 1.9 1.1 4.7 1.1-7.1 2.2-2.6 1.2 6.2 2.1 2.2 1.4-2.9 1.8 0 1.7-3.6 2.2 1.8 1.8-6.2 2 .1 2-1 1.4 5.4 1.1-1.9 1.1 5.3M207.9 140.4l2.1 6.5 2-1.3 2-2 2.3 5 2-3.8 1.1 2.2 1 3.5 1.2 1.3 2.4-5.9 1.5 3.3 1.5 .7 1.8-2.4 2.3-2.1 1.4-4.3 2.3 5.1 1.8-6.3 2.1 3.8 2.1-5.6 1.1 7.3 1.1-5.7 1.9 4.6 1.6-8.1 1.1 8.9 1.2-2.4 1.2 4.2 1.7 1.6 1.4-4.5 1.9-1.2M207.9 179.4l2.3-5 2.2 2.4 1.8-.1 1.5-4.2 1.4 2.9M207.9 162.1l1.6-4.2 1.9-.3 2.3-.3 1.6-4.7M207.9 163.2l1.1 1.8 1.6 .4 2.4-3 2 1 1.6-1.4 1 .6 2.4 5.5 2.1-.9 1.2-10.5 1.3 2.5 1.2 3.2 1.1-5.7 1.7 5.4 1.4-3.1 1.9 3.6 2.1 .1 1.2-3.4 2.3-.5 1.6 3.3 1.7-3.3 2-3.4 1.1 6.4 2.3-1.4 1.2 3 1.2-1.2 2.2 4.9 1.9 2.1 1.7-1.1 1.1-1 1.6 3.2M207.9 160.2l1.6 5.4 1.6-2.2 1.6 3.5 2 1M207.9 153.7l2.3 6.9 2-8.4 1.9 4.6 1.8-1 1.4 2.9 1.1-1.3 1.9 2.2 1.1-2.9 2-.8 2.3 6.7 2.1 1 1.4-.9 1.1-2.4 1.1-1.2 2.4 4.7 1.6-8 1.5 7 1.9-2.6 2.4-7.4 1.8-.3 1.2 2M207.9 174.6l2.3 .6 2-1.2 1.4 2.2 2.3 2 1.3-7.4 1.6-4.9 1.5 .8 1.1 4.2 1.4-3.6 2.3-4.9 2.2 4.7 1.5-4.5 1.8 3.3 2.3 4.4 2 .1 1.2-1.9 1.4 7 1.2-1.2 1.2 3.4 1.1 1.6 1.3-4.7 1.9 .5 1.9-7.5 2.1-4.6 1.7 3.4 1.5 .5 2.2-1 1.2 5.8 1.3-3 2.1-6.1 1.7 5.2 1.4-4.5 1.4 6.1 1.3-.8 1.4-.9 1.6 4M207.9 156.6l1.2 4.3 2.1-2.1 2 .7M207.9 172.7l1.8 2 2-.7 2.1-3.3 1.1 1.6 1.2-2.8 2.1 8 1.5-.4 2-1.9 1.9 0 1.4 5.4 2-5.4 2.1-1.1 1.4 .4 1.4 1.5 2.1-1.3 2.2-6 2-3.4 1.8-.6 2 2.4 1.9-1.4 1.6 2.7 2-4.9 1.5 6.4 2.1-.7 1.1-1.9 1.6-.2 1.1-.2 1.8-2.6 1.1 6.1 2.1-5.4 2.2 1.4 2.2-2.1M207.9 165l2.4 .7 1.7 1.8 1.6 .4 1.3-3 1.5 2.1 1.6 1 2.3 3.5 1.8-3.7 1.1 .5 1.7-3.9 1.8 1 1.1 1.6 1.4-1.7M207.9 185.9l2.1-4.9 1.1 .4 2.3-.1 1.3-.4 1.1 0 2 3.7 1.3-2.3 1.1 .8 1.9-.6 1.5-.6 1.8 3.2 2.3-3.8 1 1.9 1.7 0 1.4 .4 1.8-.3 1.4-.4 2.3 5 1.1 .8 1.1 1.5 1.1-1.6 1.9-1.3 1.1-4.6 1.2 3.1 2.2-2.4 2-1 1.4-5.6 1.7 4.2M207.9 179.2l2.2 .5 1.6-1.4 1.3 .7 1.8 1.4 2.2-3.6 1.1 1.1 2.2-3.7 1.2-.2 1.4 2.1 2-3.1 1.5-3.6M207.9 153.2l1.1 .2 1.5-4.7 1.6 .7 1.5-1.5 1.1 4.1 1.6 .5 1.5 5.4 2-9.2 2.1 5 1.9 .1 2.3-2 2 3.3 1.2 1.5 2 4 2-5.2 1.4-1.8 1.6 2.9 1.6-.5 1.3 .3 1.5 3.8 1.5-3.4 1.3-4.4 1.2 5.4 1.5-1.8 1 .3 1.8-4.4 1.5-.4 1.4-3.8 1.2-1.2 1.3-5.1 1.9 2.8 2.2 1.4 1.8 2.7 1.6-.3 2-1 1-4.6 2.1 1.2 1.7-4 2.3-2.9 2.2 3 1.1-2.4 2.1 4 1.2 1.3 1.8 3.4 2.1 2.7 1.3 2.3 1.8-.8 1.5-.7 2-.3 2.1-.1M207.9 187.5l1.4 2.4 1.4 1.9 1.8-5.4 1.9-4.3 1.7 3.4 1.8-3.9 1.4 1.1 1.5-2.1 1.2 2.6 2-4.4 1.8 6.7 2-1.3 1.8 5 1.2-1.1 1.1-.7 1.9-.1 1.5 3 1.7-1.2 1.8-1.5 2.1 1.6 2.1-4.6 2.3 3.1 1.6-5.7 1.5 3.7 1.1-3.7 1.8 .6 1.8-2 2.1 .9 1.7-.1 2.3 .4 1 .2 1.3-1.9 1.6 2.1 1.7-3.9 1.1-1.4 1.2-3.5 2.4-.8 2.1 1.4 1.6-5.9 1.1-3.3 1.7-7.6 1.9-1.8 1.3 7.9 1.1-2.7 1.6-4.4M207.9 154.2l1.1-4.3 2.1 4.2 1.6-1.3 1.5 2.1 2.1-6.9 1.5-.3 1.4 1 1.8-1.1 1.7 7.1 1.9-2.8M207.9 167.1l2.1 3.3 2.3-6.1 2-5 2.1 3.6 1.5-4.5 1.2-2.3 1-.8 2.1 1.5 1.7-5.4 1.3 3.2 1.1-4.9 1.1 1.6 2.2-1.5 2.1-2.2M207.9 162.4l1.3-3.5 2.1 4.9 1-5.9 2 1.4 1.8-5.2 1.6 4.7 1.3 .9 1.4-1.1 2.1 3.6 1.3-4 1.1-4 1.3 5.5 2.3-5.3 1.5 3.2 2.4 1.2 2.3 2.4 2.2 .6 2.3 3M207.9 182.8l1.2 3 1.6-2.7 1.5-1.4 1.2-.3 1 .4M207.9 154.4l2.4-3.7 1.2-1.3 1.3 4.7 2.3-4.4 1.8 6.5 2-2 2.1-.1 2 2.5 1.3 3.2 1.9-2.8 2.2 5.3 1.6-.9M207.9 170.1l2-4.3 1.3 5.8 1-1 2.4-.1 1.7-2.3 1.7 0 1.8-2.2 2 7 2.3-.8 1.4-5.3 1.4-4.7 1.6-.3 1.2 2.9 1.2-.5 2.2-4.4 2-6.3 1.4 7 1.4 1.5 2-3.3 1.3 6.6 1.4 1.2 1.1 .9M207.9 178l1.8-2.4 1.1 .3 1.6-1.3 2 .2 2.3 4.9 1.1-6.2 2.1-1.7 1.4 2.7 1.8-3 1.1-.4 2.1 1.3 1.5 3.7M207.9 155.7l1.2-2.5 1.7 7.5 1.7-4.8 1.4 2.9 2-6.1 1.8 7.3 1.8-10M207.9 168.5l2.3-.8 2.1 1.6M207.9 148.7l1.4-7 1.8-.1 1.6 3 2.1 .6 1.1-7.3 2.1-1.1 1.1 3.5 1.2 1.4 2 1.9 1.1 2.7 1.1 8.3 1.8 .9 1.4 .8 1.4-1.9 1.6 5.3 2.3-4.9 1.1 2.8 1.9 3.2 2.2 5.8 1.2-1 2.3 1.1 1.3-8.6 1.3 .9 1.2 1.5 1.6 5.9 1.6-2.4M207.9 187.7l1.4 1.2 1.8-1.5 1.4 2.3 1.6 1.5M207.9 163.4l1.2 3.6 1.3-1.2 1.2 3.6 2-2.4 1.2-.7 2.1 6.8 1.5-7.2 1.8 3.8 2-2.8 1.1-2 2.1-4.5 1.3-3.8 2.2 3.3 2.1-5.3 1.2 2.1 1.8 3.7 1.4 1.5 2.1-1 1.6-7.4 2 7.9 1.2-4.8 1.3 2M207.9 181.7l2.1-.4 1.4-1.2 1.9 2.9 1.1-5.3 2.1 .2 1.2 2.8 1.2-2.1 1.1-1.6 1.2 3 2.1-5.1 1.4-4.2 1.5 3.6 1.2-.5 1.6-1.9 1.7 5.2 1.6-4.1M207.9 167.9l1.6 1.7 1.3-.9 2.1 1 2.1-.9 1.5 5.4 2-5.3 1.5 .5 1.3-5.5 1.9-3.2 2 4.9 2.3-4.3 2.2 4.3 1.4 .6M207.9 159.6l1.4-.8 1.9-1.2 1 .6 1.3 6.2M207.9 177.9l2.2-1.4 1.8-.1 2 .8 1.3-5 2.4-.6 1.4-4 2.3 7.8 1.7-4.4 1.3-4.6 1.5 8.7 1.2-3.5 1.1-.3 2.3 .3 1.2 1.6 2.1 2.5 2.2 1.8 1.2-1 2.3-1.9 2.3-2.6 1.1 2.8 2.3-4.8 1.2-1.1 1.2 .5 1.3-5.2 1.5 10 1.5-4.2 1.9 3.5 1.2-.8 1.9 4.4 2-1.6 1 .8 1.6 4.6 1.2 1.7 2.2-3.9 2 2.5 1.1 4.9 2.2-.5 1.6-3.3M207.9 168.4l1.6 2.1 1.3 .1 1.4 3.2 1.3-2.5 2-2.3 1.8-1.3 1.4-3.8 1.8-7.2 2.2-.8 2.1 4.5 1.2-1.5 1.8-3.8 2.1 3.8M207.9 160.6l1.9-1.9 1.3 .7 2.2-3.6 2.3-2.3 2.4 5.4 2.2 2.4 1.8 6 1.5-4.9 1.9-1.3 2-.7 2.1-5.2 1.1-1 1.3 3.1 1.6-.1 2 2.2 2.1-2.7 2.2 2.2 2.2 1.6 1.3-2.4 1 1 1.8 1.6 2-2.2 1.8 2M207.9 176.1l1.6-3.4 2.2-2.2 1.1-2.1 1.2-3.5M207.9 174.1l1.9-2.8 1.4-.8 1.6-1.6 1.3-4.6 1.8 4.2 2-3.2 1.2 2.1 1.2 2.8 2 1.9 2.3-1.6 1.7 .4 1.3-5 1.5 3.5 2.3-1.5 1.3 1 1.5-2.6 1.7-5.3 2.1-4.1 1.2-.8 1.3 .3 1.6 4.2 1.8 3.9 2 1.8 2.2 .4 1.6 6.8 1.5 .9 2.2 .2 1.8-6.8 2.1 2.2 1.6 3.4 1.4 1.5M207.9 157.2l2.3-.1 1.3-5.5 1.5 3.8 2.3 3.2 1.8-2.8M207.9 172.5l1.7-4 1.9-3.1 1.5 3 2 1.5 2-5.1 1.2 1.9 1.2 4.2 1.9-3 1.2-2.1 1.2 2.6 1.1 3.2 2 5.8 1.2-4.3 1.3 5.3 1.3-2.2 1.2 .2 1.4 1.2 1.2 .1 2-.4 1.3 2.5 1.5-3.8 2.2-6.6 1.5 2.5 1.3-1.1 1.2 .1 1.8 3.6 1.3-6 1.2-2.2 2.2 .8 1.8-1.7 1.6 0 1.4-1.5 2.2 .2 2.1-4 1.8 4.6 2.3-2.3 1.3-3.3M207.9 174.9l1.6-.6 1.4 .9 1.4 2.4M207.9 157.3l2.1-2.9 2.1 2.6 1.5 .8M207.9 176.6l2.2-7.1 1.4 1.9 1.7 2.2 1.5 2.5 1.1-1.9 1.1 7.4 1.1 3 1.7 1.7M207.9 162.2l2 2.4 1.7 4.7 1.7-5.5 1.3 .8 2.1-5.4 1.7 1.2 1.4 6.2 1.2-2.4 1.5 3.4M207.9 167.4l2-5.5 1.5 .8 2.4-.3 1.7 1.4 2.3-1.2 2.2 2 2-6.6 2.2 10.1 2.2-3.3 2.2-.2 1.4-6.9 1.7-1.2 2.1-2.1 1.9 5.5 2.3-3 1.5-3.3 2-2.6 2.1 4.9 1.1-3.2 2.3 5.9 1.8 4.5 2.4 2.9 1.1-.3 1.3 2.7 1.8-7.5 2.3 1.9 1.1 2.9 2.3 1.2 1.5 5.9 1.3-2.8 2.2 .6 2.3-.5 1.7-1.6 1.7 1.4 1.3-4.8 2.3 1.4 1.4 .7 2.2-1.3 2.2 3.8 1.5 1 1-1.9 1.2-4 2.1 2.2 2.3 1.2 2.2-3.2 1.5 1.8 1.7 1.1 1.1-4.1 1.6-4.2M207.9 166.2l1.6 5.4 1.1 .8 1 1.7 1.3-3 1.9 0 1.5-.1 1.4-2.8 2.1-6.7 1.7 4.3 1.4-5.9 2-2.1 1.5 2.5 1.1 .9 2.1 .8 1.4-2 1.8-.4 1.4-1 1.2-4.4 1.8 1M207.9 140.9l1.2-2.4 1.3-3.8 1.7 5.3 1.5-1.4 2.2 7.3 1.5-5.2 1.7 5.1 1.1-3.9 1.8 1.4M207.9 179.2l1.8-7.4 1.6 4.2 1.5-1 1.1-2.9 1.1 3.5 1.5 1.1 2.1-.9 1.1 7.2 2.2-1.3 1.6-8.4 1.6 2.2 1.6-.4 1.7-2.2 1.2 3.4 1.2 0 1.9-1.3 2-1.7 1.9-2.4 1.5 2.6 2-1.5 2.1-1.1 1.9-4.2 2.3 3.4 1.9-4.4 1.2 6.2 1.7-1.5 1.6-.2 1.8 2.7 1.9-3.6 1.5 1.6 2 11.6M207.9 146.6l1.7 9 2.3-2 2-2.9 1-4.3 1.6 2.6 1.6-1.7 2-4.8M207.9 177.8l2-8.8 1.1 6.7 2.1-.7 1.9-4.2 2 .2 2-1.2 1.5 2.5 1-6.5 1.1 3.6 2.1 6.9 2.1-4.5 1.8 4.1 1-1.6 1.6-2.3 1.7 1 1.6 2.5 1.7-3.6 1.4 2.7 1.5-3.7 1.4 5.8 2-6.2 2.2 6.2 2.3-5.1 1.2 10.5M207.9 167.7l2.3-.1 2.1-2.3 2 3.7 1.5-1.1 1.7 1.9 2-4.1 2 6.8 1-5.9 1.5-.1 2.1-4.5 2.3 5.2 2.3 2.8 1.1-9.4 2.3 6.6 1.9-5 1.2 1.1 2-2.3 1.3 3.5 2-1.9 1.3 2 1.5-2.8 1.3 3.6 1.2-1 1.8 .6 1.5 4.3 2.3-4.1 1.1-4 1.5 1.5 1.3-2.8 1.3-1.4 2.1 5.3 2.3 .1 1.2-3.6 2.2-4.1 1.8 4.8 1.5-1.3M207.9 167.5l2-2 1.3-.1 2 2.9 1.6-1.5 1.4 7.2 2.2-1.6 2.1-1.1 1.2 7.6 1.8 1.8 1.7 .4 1.8-3.3 2-3.8M207.9 183.9l2 .2 2.4-2.6 1.4 .8 1.2-.9 1.6 4.3 2.3-5.9 1.1 .4M207.9 167.8l2.2-2.9 1.5 1.2M207.9 154l2-4.6 2 2.9 1.9-1.4 1.6-3.4 1.6-.7 1.3 3.7M207.9 188l1.8-.1 1.5-2.5 1.3 1.6 2.2-2.4 1.5 7.6 2.2-.9 2.2 .8 1.3-7.3 1.5 7.2 2.1-.2 1.2-1.5 1.6-.5 1.1-.1 1.7-7.6 1 2 2.4 .6M207.9 163l2.2-2.7 2.1 3.5 1.8-1 1.8 .2 1.9 2.6 1.5-4.4 1.9 5.2 2.4-6.4 1.8 1.3 1.5 2.2 2.1 2.7 1.6 4.5 1.2-1 2.1-1.1 1.5-.2 1.9 1.7 1.7 2.2 1.4-.8 2.2 1.9 1.3 6.2 1.7-4.3 1.7 3.7 1.4 2.8 1.9 3.1 1-1.1 2.2-2.7 1.6-2.9 2.1-1.6 1.4 .6 1.3 .1 1.8-1.3 1.4-.1 1-7.3 1.5 4 1.7 4.8 1.5 1.2 1.9-9 1.7 5.4 1.2-2.7 2 2.4 1.4-6.8 1.3 1.4 1.2 .3 1.8-7.7 2.3-1.4 1.3 .6 1.4-4.2 1.2-2.2M207.9 176.3l2.4 .2 2.1 1.2 1.9 6.2 1.5-2.6M207.9 156.3l2.2-10.4 1.6 12.5 1.4 .6 1.9-1.8 1 1.2 1.8 1 1.4 2.2M207.9 180.7l2 0 2-4.7 2.2-1.1 2.1 7.1 1.1-2.1 1.6-.9 2-3.4 1.2 2.6 2.3 2.4 2.3-.8 1.2-.6 1.7 1.2M207.9 159l1.1 .3 2.3-4.8 1.6 5.7M207.9 165l1.4-1.8 1 3.7 2.4-1.9 1.5-2.3 2.4-7.5 2.1 4.6 2.3-3.4 1.7-3.8 1.3 1.9 1.4 3.3 1.1-5.1 1.8 3.8 2.3-3.1 2.3-1.9 1.7 .1 2.3 .8 1.6 .9 2 3 1.2-1.1M207.9 163.8l1.4-3.7 1.1 1.1 1.1 1.6 1.4-2.3 1 2.7 2.4-5 2.2 .7 1.1-3.7 1.7-1.5 1.3-1.3 1.1-1.8M207.9 163.7l1.1 5.4 1.5-.9 2.1 2.1 2.1 .9 1.2 2.8 2 2 2.3 5.3 1.9-4.5 2.2-.4 1.5-8.5 2.2 2.3 1.1-.3 2.2 2.8 1.3 3.2 1.8-.7 1.5-3.7 1.4 2.3 2.2 3.5 1.7-7 1.5 8.8 2.1-1.3 1.5-2.9 1.4-1.7 2.1 6.8 1.2-2.6 1.3 4.9 1.1-9.2 1.2 5.9 2.4-2.2 1.3 5 1.4-9.5 2.2 2.4 1.4 3.4 1.6-1 1.2-1.6 1.9-8.2 2 2.4M207.9 167.9l2.1 8 2.1-5.2 1.9 1.2 1.6-.5 1.4 .7 1.6 2.3 2.4 3.1 1-1.7 1.3 3.6 1.7-7.9 2.4-1.1 1 7.8 1.4-9.7 1.9 8.2 1.5-1.7 2.1-1.1 2 4.3 1.2-5.8 2-5.3 1.8-1.7 1.8 3 2.1-3.2 1.3-.5 1.4-3.6 1.1-5.2 1.4-3.2 1.6 8.2 1.8-7.3 1.8 2.8 1 3.1 2.3-.4 2.2 5.1 1.6-6.9 2.3 0 1.3-1.8 2.1 2.5 2.1-3 1.5 .7 1.4 2.9M207.9 163l1.8 3.7 2.3 .8 1.7-2.9 1.6-.8 1.4 .7 1.7 7.6 1.7-.5 1-4.3 1.8 2.5M207.9 148.1l2.1-1 1.7 2.2 2.1 2.4 1.3-6.2 2.3 8.4 1.2 .3 2.2-.3 2.1-.2 1.6-1.1 1 .1M207.9 181.2l2.2-3.8 1.9 3.3M207.9 164.9l1.1-.1 2-3.2 2 2.3 1.7-.1 1.3 10 1.5-9.5 2.1 6.2 1.7 2 1.6-2.1 1.3-5.5 1.7 .3M207.9 166.5l1.7 .5 1.1 1.9 1.6 3.8 1.3 2.7 1.3-1.8 1.7-10.4 1.7 10.1 1.5-.4 1.8 1.3 1.5 1.5 1.7-3.8M207.9 173.7l1.4 3.5 1.7-1.5 1.9 2.7 1.7-.3 1.7 2.5 1.1-10.6 1.4 1.6 1.2 3.9M207.9 164.9l2 2.7 1.9-4.1 2 1.7 1-4.2 1.5 2.2 1.5 1.8 1.8 1 2-.4 1.8-5.2 1.2 .8 1 6 2.1-8.7 1.7 3.3 1.7-5.8 1.3 1.5 2.2-.2 1.3-3.9 2.3-1.4 2.2-2.5 1.3 1.6 1.8 0 2.2 1.3 1.7-.1 1.3 9.3 2.3-6.1M207.9 188.5l1.7 3.9 1.1 2.1 2.1-3.4 1.5 .1 2.2-6.1 1.1 5.1 1.7-5.6 1.7 4.3 2-10.2 1.9 6.7M207.9 147.5l2.1-4.5 1.6 .2 1.8 4.5 1.3 .4 2.2-4.4 1.9 5.8 1.6-.5 1.8 .2 2.3 0 1.3 1.4M207.9 159.6l1.4 3.3 2.3-1.3 2.1 1.5 1.9 4.2 1.2-.7 1.7-6.7 2.2 4.1 1.6-2.4 2-5.1 1.4 1.5 1.2-.2 1.1-1.6 1.5 .5 2.3 2.4 2.4 6.1 1.9-2.1 1 1.8 1.2-2.6 1.5-1 2 1 1.1 .2 1 2.9 1.1-3.8 1.1 4.2 2.1-2.1 2.2-2.9 2.3 4.3 1.1-1.6 1.1-1.3 1.5-.5 1.9-.2 1.6 1.5 1.9 1.3 1.2-1.9 1.3 1.5 1.9-2.4 2 3.3 2.1 10.1 2-4.5 1.5 3 1.9-7.9M207.9 172.5l2.2 2.8 1.4-2.6 1.9 4.3 1-6.9 1.9 0 1.2-.3 1.6 2 2.3-2.5 2.1-.4 1.9 4 1.5-.8 2.2-.7 2.4 3.5 1.3-1.4 2.2-3 1.9-.8 1.2 .6 1.3-5 1.5 .8 1.5-2.9 2.1-2.9M207.9 170.2l2-4.4 1.2-2.5 1.9 1.7 2.2-1.2 1.3 2.1 1.5 2.1 2.2 .8 1.1-1.9 1 2.1 1.2-3.3 1.5-2.3 2.1 1.9 1.9 1.7 1.8-5 1.9 4.3 1.6-3.5 2.3 .2M207.9 175.1l1.8 5.6 2-3.7 1.6-3.3 2.4-.5 1.1 5.2 1.1-7 1.9 5 1.8 7.9 1.9-6.7 1.6 6.2 1.7 1.3 1.9 .3 1.2-3.9 1.5 .4 2.4 8.7 1.6-1.5 1.8 .7 1.8-1.3 2.4 1.8 1.3-.9 1.4 2.7 2.2-.2 1-1 2.2-7 1.3 5.8 1.3-4M207.9 168.2l2.3-2.6 1.1 .5 1.4-.3 1.9 2 2.3-3.8 2.2-4.9 1.2-3.3M207.9 152l1.6-.3 1-4.5 1.6 .6 1.6 8 1.1-1 1.2 3.2 1.9 1.6 1.1 0M207.9 180.1l1.3 3.3 2.3-.1 1.3 .4 1.7 2.8 1.4-2.2 1.5 6.7 1.3-1.4 1.5-.3 1.3-.1 2.2 1.1 1.5 .6 2.2-1.4 2.1 0 1.1 .8 1.5-5.5 1.9-1.2 2.3-3.9 1.1 6M207.9 174.9l1.5 3.5 1.7-7.2 1.2 5 1.7-3.1 1.2 5.8 1.9-4.5 1.7-1.3 1.5 3.8 1.4-1.6 2.3 .1 2.2 8 1.9-6.3 2.1 3 1.2 1.5 1.1-2.8 1.8 2.8 1.4-1.1 1.7 1.9 1.2-6 2.4-.4 2-4 2.3-2.7 2.3 1.8 1.9-2.8M207.9 149.9l1.9 7 1.6-5.1 1.9-3 1.2-5.2 1.7 4.8 2.1-2.8 1.7-2.2 2 2.8 1.8 1.8 1.1 1.4 1.6 3 1.8-.4 1.8 1.8 2.1 2 1.3-9.6 1.8 9.7 1.4 3.1 1.5 1.1 1.1 4.2 1.5-9.1 1 5.7 2.4-6.2 1 1.3 2.1 1.8 1.4 1 1.7 1.4 2.1 1.1 2-1.1M207.9 140.9l1.8 7.4 1.7-5.8 1.1 .9 1.1-1.1 1.3 2.9 1.2-2.9M207.9 167.3l1.7 .9 1.2 1.3 1.7 3.4 1.7-1.8 1.6-1.6 1.1 1.9 2.3-1.3M207.9 169.5l2.3-1 2.3-6.5 1.9 3.6 1.7-.4 1.6 5.1 1.5 .6 1.3-8.8 1.3 3.4 1.3-.8 2.1 4.5 1.9 2.4M207.9 181.5l1.6 .3 2 2 2.2-.9 1.9-1.8 2.2 1.3 1.9 3.5 2.1-7.5 1.4-3.7 1.7 .6 1.4-.4 2-.5 1.2-2.1 1.2 0 2 4.6 2.3-2.4 2.2 4.8 2.1-3 1.4 3.2 1.1 4.5 1.4-5.2 1.9-1.1 1.6-4 1.4 .1 2-3.8 1.6 3.5 2 2.6 1.9-.1 1 .9 1.2 2.9M207.9 173.1l2.1 3.2 1.9 .9 1.5 1.6 2.2-.6 2.3 1.1 1.2 2.1 2.4-1 2 1.4 1.8-3.3 1.4 7 1.8 .4 2 6.5 2.1-10.6 1.6-1.8 1.2 1.5 1.6-2.1M207.9 179.7l1.8 .8 1.9 .4 1.3-4.4 2.1 1.7 1.6 6.6 1.4-4.9 1.8 2.5 1.6-6.5 2 3 2-3.3 2.2-1.8 2 2.9 1.1 .1 1.6 1.8 1 4.3 1.2-4.6 2.1 7.5 1.3-4.9 1.2-1 2.3 8 1.6-2.1 2.2-3.6 2-2.7 1.2-6.1 1.3 3.9 2.4 .1 2-1.3 2.2-.7 2.3-2.6 1.6 0 2-2.7 1.4 5.7M207.9 146.1l2.4-2 1.5 3.5 2.2-5 1.7 2.8 2.4 4.3 2-3.8 1.1 7.3 2-4.1 1.3 1.6 1.8 1.7 2 1.1 1.1 1.3 1.5-8 2.3 5.4M207.9 166.1l1.3 2.8 1.8 1M207.9 153.2l2-1.3 1.6 4.2 2.1 3.2 1.6-.1 1.6-1 1.9 3.3 1.3 .2 2.3-5.4 1.6 4.9 2.1-1 2.4-1.6 1.5 3.6 1.1 1 1.5 .7 1.3-.6 1.6 8.1 1.3-2.2 2.3-4.5 2.1 6.9 2.2-3.4 2 1.2 1.8 5.1 1.4-2 1.9 5.9 1.3-3.9M207.9 184.8l1.5 1.1 2.2-.1 2.3-6.8 2 .7 1.3-1.6 1.2-.4 1.8-1.7 1.6 .1 2.2-1.6 2 2.4 1.8-2.3 1.7-1.3 1.6-1.6 1.1 11.2M207.9 161.3l1.8 .9 1.6 7.2 1.8-3.7 1.2-4.5 1.6 6.2M207.9 172.2l1.9-2.2 1.2-3.4 2.2 6.6 2.4-3.8 1.1 2.4 1.6-6.9M207.9 155.6l1.4-.7 2.3-3.7 1.7-3.8 1.2 5.3 1.2-4.9 2 3.9 1.7-8 1.9 7 2.3 .9 1.9-.1 1.4-2.7 2.3 2.5 1.4-.8 1.3 2.6 1.7 4.9 2.3-6.5 1.4 3 1.2-.1 2 1.6 2 1.5 1.8-2.6 1.8 2.6 1.4 .1 1.7-2.3 1.8-1.1 1.7 2.8 1.7-2.8 1.1 5.7 1.7 2 1.5-2.5 1.3 .2 1.7 3.9 2.2 4.1 1.6-7.8 1.8 8.6 2-7.9 2.3 .4 2.1 5.7 1.2-3.3 1.1 5.7 1.4 5.1 2.1-2.5 1 1.6 1.5-2 1.8 .7M207.9 168.9l2.3-.7 1.5 4.9 2.2 0 1.3-.3 1.9-1.4 1.5 2.3 2.2-.5 1.6 2.6 1.1-7.5 1.5 4.9 1.9 .4 1.2-6.2 1.5 .4 2.3-1.4 1.4 4.5 2-4.5 1.8 7.3 1.4 3.2 2-6.9M207.9 145.2l2.1-1 1.5-1.4 1.1-3.8 1.6-1.1 1.8-1.4 2.4-1.3 1.5-3.6 1.3 9.9 1.2 .7 1.7-4.2 1.5 1 1.4 0 1.7-1.3M207.9 164.5l1.9-1.6 1.5 3.9 1.6-6.5 1.3 .1 1.7 1.4 2.2 2.3 1.1-.9 1.3-2.7 1.8 2 1.7 .9 1.6-1.6 2.2 .2 2.3-.9 1.7-4.9 1.8 .8 2.3 1.1 1.1-5.8 1.6-.3 1.4 3.3M207.9 187.6l2.2-4.2 1.4 2 1.5-5.8 2 4.5 1.7-1.3 1.4 5.1 2-6.6 1.7-1 1.1 1.2 1.7-1.5 1.8-3.7 2.2-.4 2 4.9 1.7-3 1.8-2.4 1.6 7.8 1.4-3.3 1.4-5.5 1.1 1.7 1.8 4M207.9 145.3l1.6 5.7 2.4 .5 2.2 1.4 1.1 1.6 2 1.6 1.8-.2 1.3-4.9 1.3 .8 2.1 4.6 2.1 1.3 2.1-4.8 1.7 0 2-4.6 1.4 6.6 1.5-4.5 2.1 1.3 1.1 2 1.2-.7 2.3-.1 1.8-4.2 1.1 4 2.1-4.5 2.2-2.9 1.2 1 2.1 2.8 1 3 1.1-2.5 1.8 .4 2.3 .4 1 1.3 2-1.3 2.2 4.1 1.1 4.5 1.5 2.2 1.7-11.1 1.1 8.4 1.9-6.9 2.1 4.9M207.9 188.3l2.2-1.1 1.1-5.6 1.5 1 1.4-2.3 1.3 .2 1.9-2.5 1.3 3.4 1.9-3.7 1.2 2.7 1.9 1.1 1.7-3.4 1.7 10.8 1.3-1.5 1.3-4.7 1.8-1.1 2.4 5.6 1.6-3.6 2.1 3.9 1.1-5.6 1.1 3.3 1.3-.5 2.1 0 1.5-2.3 1.6-1.3 1.3-3.1 1.3 3 2.3-3.2M207.9 146.1l2.1-.8 1.3 2.9 2.2 3 1.9 4 1.4-.6 1.9-1.4 2-3.1 1.9-.4 2.2 5.6 2.4 2.5 1.2-1 1.5-1.1 2.1 1.7 1.2-7.8 2.3 2.4 2.2-1.5 1.2 1.5 1.1 .8 2.2-6 1.9-.5 2.1 6.4 2.1 1.3 1.3-7.7 2 5.4 1.4-5.4 1.7 3.5 1.2 1.3 1.2 2.7 1.8-2.6 2-1.6 1.5 .5 1.8-2 1.5 5.7 1.1-1.4 1.6 2.2 2.3-3.9 2.1 1.6 1.8 1.4 1.2-4.9M207.9 178.6l2.3-.4 2.3 .9 2-2.8 1.7 2.1 1.4 .1 2.2-3.7 1.8 4.2 1.1-10.3 1.8 4.9 2-.4 2.1 1.3 1.6 4.4 2-1.7 1.3-7.2 1.7 3 2.3 4.8 1.9-2.6 2 6M207.9 171.4l2 2 1.1-1 1.5 4.5 2.4-7.4 1.5 4.4 1.3 3.8 2.3-3.1 1.1 5 1.3 .2 1.4-2.2 2.4-2.5M207.9 146.6l1.8 .8 1.6 2 1.2 .4 2 5.3 1.7-.6 1.3-.2 1.1-3.6 1.6 1.5 1.8 .7 1.3-.8 1.5 4 1.1 2.7M207.9 150.6l1.4-2.8 2.1-1.5 1.9-5.8M207.9 174.8l1.4-2 1.7 .1 1.7-5.8 2 6.1 2.3-7.2 1.8 9.1M207.9 173.1l2.1 2.5 1.8-.1 1.6-.8 2.2-5.5 1.6 3.1M207.9 149.6l1.6-.4 1.4 3.3 1.9-2.1 1.1 2.7 1.7-3.7 2.1-3.2 1.2 7 1.6 2.5 1.2 1 2.3 1 2 2.9 2.1-1.2 1.2-.7 1.5 2 1.9-.1 2.4 4.8 1.6-.5 1-3.4 1.8-.2 2.3-1M207.9 171.5l2.2-2.5 1 1.5 2.2-3.8 1.3-.1 1.9-2.4 1.9 8 1.1-1.4 1.6 4 1.4-1.5 2.3 3.6 1.4-2.1 1.4-.2 1.4 1 1.8 3 1.7-6.2 1.9 8.8 2.2-4 2.2 1.4M207.9 173.1l1.6-1.6 1.4 .1M207.9 157.5l1.3-.4 2.3 1.2 2 .6 1.6 2 1.4-2.8 2 6.4 1.5-7.6 2.3 4.8 1.1-4.9 2.2 1.8 1.5 6.6 1.5-5.6 1.7 .1 1.8-1.6 2.3 1.5 2.1 4 1.9 1 1.4-1 1.7 .8 1.3-2.4 2 .4 1.1 2.3 1.8-2.6 2.2 2 1.2-2.1 1.4 8.9 1.3 2 1.3-2.2 2.3-1.5 1.8-1.8 1.4-1.5 1.2-4.6 1.3-1.8 1.6 .6 2.2-3.6M207.9 175.8l1.5-3.6 2.3-2.3 1.1 1.2 1.9 3.3 1.1-2.5 1.5 2.2 1.8-2.4M207.9 166.9l1.5-5.3 2 5.6 1.1 .5 2.1-1.3 2.2 .9 2-2.9 1.6 4.9 1.1-5.8 1.7 5.7M207.9 170.2l1.2 .1 2.3 1.4M207.9 182.5l2-.4 1.4-1.7M207.9 142.6l1.6 3.4 2.1-8.9 1.7 7.6 2.1-4.1 2.2 .4 1.9 3.4 2-.8 2-1.7 2.3-.8 1.6 3 1.8 1.8 2.3-4.2 1.7-5.4 2.2-.8 1 3.4 1.3-3.5 1.8 6.3 1.1 3.3 1.6 .9 1.4 6.6 1.4-4.3 1.2 3.8 2.3-8 2.1 4.8 2 8.1 1.9-5.6 1.4 .6 1.5 2.3 2.2 .2 1.6-3.7 1.2 .9 2.3 2.6 1.8 .2 2.3-2.6 1.3-2.6 1 .5 2.3-4.8 1.2-3.6 2.3 2.5 1.1-2.1 1.3 3.6 1.2-4.5 2.3 7.2 1.1-5.7 2.3 1.5 1.7 .2 1.2 2 1.5 2.8 1.5 .3 2.4 3 2-6.2 1.5-1.4 2 5.6M207.9 163.1l1.7-3.2 1 4.7 1.3-6.5 1.4 3.6 1.3 1.6 1.2 2.6 1.6-1.9 1-.9 1.6-3.3 1.1 2.2 1.7-2.3 1.5-1.3 1.8 5.4 1.7-3.8 1.8 .3 1.7-4.8 1.7-3 2.2 3.8 1.5 2.4 1.5 1 1.1-5.6 2.3 2.1 2.1 1.1 2.3-2.3 2.4-3.5 1.8 2.8 1.1 0 2 2.1 1.1-.5 1.2 3.6 2-.7 2.3-2.3 2.2-.1 1.7-3.6 1.6-3.6 1.2 3 2 2.2 1.1-6.4 1.3 6.3 2 .1 1.2 2.8 1.7-7.2 1.5 6.9 1.7-.7 2.3-4.1 2.3 2.1 2.3 1.4 2-2.7 1.1-1.3 2 2.8 1.8 3.3 1.9-6.5M207.9 157l1.7-1.8 1-3.9 2.3 7.7M207.9 155.6l1.6-2.9 1.9 2.4 2.2 6.5 1.4-3 1.9 2.1 1.4 1.9 1.6 1.5 1.6-1.4 2.3-1.3 1.1 1.8 1.6-2.5 2.1-1.2 1.7 4.6 1.4-2.6 1.8-1.8 1.6-3.8M207.9 177.3l1.1-.1 1.7-3.3M207.9 139.8l1 5.4 1.9-2.9 1.5 1.9 1.9-2.5 1.5 1.6 1.7-.8 2.4 1.6 1.8 .5 1.1-4.8 2-2.3M207.9 185.8l1.5-2.7 1.4-.4 1.9-3.2 1 .8 1.8-1.5 1.1-5.8 1.9 .2 1.9-4.1 1.7-4.3 1.4 .7 2.3 .8 1.8-.7 1.6-7 1.1 6.2 1.6 .1 1.2 2.2 1.7-3.6 1.7 .6 1.8-6.6 2.2 4.2 1.4 .6M207.9 156.9l1.7-2.9 1 4 2 .7 2.2-2.3 1.1-2.7 1.9 5.2 2.3-2.7 2.2-2.7 2.2-1.2 2.1-2.4 1.7 2.3 1.7 3.4 1.5 .7M207.9 162.6l2.3 .9 2.4-2.1M207.9 193.1l2.4 0 2.2-7 2 .5 1.9-3 1.5 2.2 1.1-5.3 1.6 .8 1.6 6.4 1.8-2 1.5-5.6 2.3-2.3 1.4 .7 2.3 3.7 2.3-7 1.2 6 1.2-2.6 1.6 .3 1.5 3.4 2.1 .5 1.5 2.9 1.9-2 2.2 0 1.6 2.4 1 2.9 1.9-5.4 1.8-1.1 1.8-5.4 2.2-4.7 1.7 2.2 1.2 1.4 2.3 0 1.3 .1 1.5 .9 2-4.4 1.1 6.5 2.2-3.9 2-1.7 1.8 1.6 1.3 1.8 1.2-.7 1 5 1.9-.7 1.2-1.8 1.3 2.9 1.4-2.1 1.2-.4 2.1-.2 1.5-4.5 1.3 1.9 1.6-5.2 1.1 6.1 1.6-6.7 1.1 2.7 1.2 1.3 2.3-.4 1.6 1.4M207.9 145.5l1.2 2.3 1.3-.4 1.3-2.2 1.4 .3 1.6 2 1.9 5.4 1.7-1.9 1.2-2.4 1.8 1 1.9 1.4 1.8 4.3 1.9-5.2 1.1 2.6M207.9 183.2l1.7 2 2 1.2 2.3 2.3 2-2.9 2.1-5.1 1.1 1.4 1.5-4.9 1.2 1.5 1.7-.3 2.2 3.3 1.8-2M207.9 181.9l1.6 2 1.2 .3 1.5 4 1.4-5.6 1.7-1 1.9 2.5 1.5 2.8 2.3 .7 1.7 .1 1.9-.1 2-.2 1.7-3.2 1.8 .4 1.9 .4 1.7-2.4 1.5-.8 2.1-2.2 1.7-.7 1.7 3 2.1-5.1M207.9 169.5l1.1 4.1 1.7-3 2.2 2.9 1.7 1.4 2.3-.1 2.3-1.5M207.9 185.1l1.2 .8 1.4 .4 1.7 .5 2 .6 1.3-4.6 1.9 .7 2-1.3 1.7 .6 1.5-4.4 1.9 5.2 2 .2 1.9-5.9 2-3.6 2.1 0 2.4-5.7 1.7 8.9 1-4.2 1.5-2.4 1-.4 2.2-1.4 2.4 5.8 2.4 5.6 2.2-5.5 2.2 3.7 2.2 .7 2.1-4.5M207.9 165.4l1.1-.4 1.2-1.8 1.4-.5 2.1 4.1 2-6.8 2.3 1.9 1.4-4 1.8 7.5 1.4-4.2 2.2-3.3 1.5 3.4 2.4 2.3 1.3 4.4 2.2 2.9 1.8-1.1 1.5-4.8 1.8 2 1.4-6.8 1.3 1.1 1.9 1.2 2-4.8 1.4-3.2 1.1 1.6 1.2 .1 2-1.9 2.2-2.5 2.1-3.7 1.8 2.9 2 3.4 1.5-.7 1.7-.5 1.3 2.2 1.7 1.5 1.3 .8 2.1-3.1 1.6-.5 1.6 1.8 2.3-.3 1.9-1.7 1.4 3.2 2 1.2 2.3 1.4 1.8 3.9 2.1-3 1.8 4.4 2.1-7.1M207.9 177.7l2-7.1 1.5 4 1.5-2.5 1.6 2.3 1.9-8.7 1.6 8.2 1.1-.8 2-4.5 1.5 6.8 2-9.2 2 3.3 2 4.4 1.7 .1M207.9 180.6l1.1-4.6 2.1 2.8 2.1-.9 1.3-2.4 2.1-1.4 1.8 1.7M207.9 185.7l1.4 1.9 2.2-6.8 2.4-1.2 1.2 .7 1.6-8.4 1.5 2.8 2.4-.7 1.6-3.2 1.3 2 2 .7 1.8 6.2 1.1 5.8 2.2-6.9 1.5 .4 2.3-.1 2.3 5 1.7-3.9 1.6 .3 1.3-.6 2.2 5 2.3-3.6 2.1-5.6 1.2 .8 1.9 5.2 1.3-3.9 1.8 8.7 2.3-5.2 1.7 1.2 2.2-1.3 1.4-1.6 1.4 .3 2 .6 1.4-1.1 1.6-1.8M207.9 155.1l1.4 2.4 2.3-3.4 1.6-.1 1-5.3 1.2-1.8 1.9 2.1 2.3-3.2 2 3.5 1.3 2 1.3 .8 1.1-1.5 2 5.6M207.9 175.6l1.4-6.3 1.3 8.9 2.2-4.7 2 .8 1.4-.3 2.3-6.1 2.1-1.5 1.4-1.5 2.2-4.2 1-3.8 2-1.2 1.8 1.7 1.4-2.8 2.1-5.2 1.9 6.4 1.5-8.4 1.3 5.3 2.3-5.8 1.3 2.8 1.4-.1 1.9-1 1.1 .8 1.1-.3 1.5 3.5 1.7-2.6 1.9 3.4 1.1 2 2.1 1.2 2.4 .8 2.3-.5 1.5-1.9 1.8 3.9 1.8 2.8 1.6-4.8 1.2-3.9 1.1 8.1 1.3-1.1 2.1 .7 1.6 5.1 1.9-2.1 2.3 4.5 1.6 .8 1.7 1.1 2.1-3.2 1.2-4.1M207.9 162.4l2.3-3.4 2.1 4.4 1.7-2.4 2-.6 1 2.4 2.1 5.3 1.3-3 1.7 1 2.2-.1 1.1 6.8 2.1-2.1 2.2-3.8 1.8 3.9 1.8-2.4 2.3 2 1.3 3.2 2.1 2.2 2.1-2.7 1.4 1.4 1.7 .5 1.3-2.9 1.5-3.9 2.2-1.5 2.1 2 1.1-4.4 1.3 2.5 1.6-2.2 1.2 5.7 1.5-1.2 1 5 1.4-4 1.8-2.5 1.2 4.6 2.1-6 1.4 1.5 1.8-5.1 2.2-2.7 1-2.2 2.3-.7 2.2-.7 2.2 .7 1.6-9.6 2.1 3.8 1.2 1M207.9 161.9l1.9-1.7 1.1-.6 1.9-3.1 1.2 3.3 1.3 1.7 1.4-.6 2.2-.8 1.8 2 1.8-3.3 1.8 4.8 1.7-4.2 1.3 .8 1.5-4 2.4 3.4 1.7-4 1.7-5.7 1.7 6.6 1.4-2.9 2 .2 2.2 4 1.9 6.2 1.6-4.8 2-.5M207.9 174.9l1.8 0 1.7-3.2 2.3 .7 1.6 3.8 2.1 2.8 1.8-2.6 1.3-.9 2.3 3.5 2.3 .2 1.9 .7 1.3 2.6 1.1-1.5 1.1-4.2M207.9 145.9l1.3-5.1 1.9-5.2 1.6-3.8 1.9 8.4 2.1-2.5 2.3 .1 2.2-7.2 1.7 6.2 2.1-1.8 2.2-.8 2 2.3 1.9-2.2 1.6 7 1.3-2.7 1.5-1.6 1.1 .1 1.2 3.1M207.9 164.7l1.4-.6 1.8 4.6 1.8 7.2 1.7-10.3 2.2-.3M207.9 176.7l1.9 .1 2.2 6.2M207.9 172.8l1.2-1.6 1.4-3.9 1 3.7 1.7-2.2 1.8 4 1.1-7.2 1.1 3.4 2.2-5 1.2-4.9"/>
<path d="M207.9 72L211 90L215.5 118L219 140L217 150L207.9 153z" fill="#73AC38" stroke="none"/>
<path stroke="#73AC38" stroke-width=".38" d="M207.9 90.4l.6 4.3 .4 3.2 .4 3.1 .3 3.2 .2 2.7 .6 3.8 .5 4.1 .3 2.6 .4 2.7 .4 4.4 .6 4.4 .4 3.6 .4 2.6 .6 3.8 .4 3.7 .3 2.7 .5 3.4 .3 3.3M207.9 123.5l.3 3.2 .5 4.5 .5 3.4 .8 4.4 .5 3.9 .4 3 .5 3 .3 2.8M207.9 130.9l.5 2.8 .3 3.6 .5 3.1 .4 2.7 .2 3.5 .5 3.6 .6 3.1 .4 4.1 .5 4 .5 4.1 .2 3.3 .3 3.6M207.9 146.5l.4 2.7 .9 3.8 .8 3.6 .8 4.3 .7 3.5 .8 4M207.9 77.6l.4 3.5 .6 2.8 .6 4.1 .4 3.8 .8 4.3 0 2.5 .5 4 .9 4.5 .3 3.4 .7 2.8 .3 3.6 .5 4.2 .7 2.8 .6 4.2 .5 3.1 .3 3.1 .7 3.6 .4 3.3 .4 3.7 .4 3 .6 4.5 .4 3.5 .4 3.2M207.9 81.3l.9 3.6 .4 3.1 .3 2.6 .5 4 .6 3.3 .5 3.4 .6 3.9 .3 3.1 .5 3.8 .8 3.9 .8 4.3 .7 3.7 1 4.4 .6 4.1 .3 2.6 .6 3.8 .7 3.9 .6 3.6 .7 4.5 .7 4.3 .4 3 .7 4M207.9 100l.5 3 .4 4.2 .2 2.9 .5 3.5 .2 3 .3 3.2 .2 3.6 .5 2.5 .5 4.2 .5 2.7 .6 4.2 .2 2.7 .5 3.9 .2 2.5 .4 4.1M207.9 97.8l.3 3.2 .6 3.1 .3 3.6 .7 2.7 .2 2.8 .7 3.8 .5 2.6 .5 3.2 .7 4.3 .3 3.8 .6 4.4 .5 3.6 .5 3 .1 2.7 .5 4.5 .4 3.8 .3 3.8 .6 4M207.9 127.6l.2 3.7 .2 2.7 .5 4.1M207.9 93.5l.5 4.3 .5 4.5 .3 2.9 0 2.7 .2 3.1 .2 2.9 .6 3.8 .3 3 .3 3.2 .4 3.7 0 2.7 .7 3.5 .4 3.8 .5 2.7 .3 2.6 .2 4.2 .3 3.7 .4 4.2 .4 4M207.9 118.4l.7 2.5 1.1 4 .9 2.9 .8 3.8 .8 3.3 1 3.4 .9 3.2 .9 3.5 .8 3.1M207.9 89.2l.4 2.7 .8 4.3 .6 3.8 .5 3.7 .9 4 .9 3.1 1 4.5 1 4.2 .5 2.8 .7 3.6 .6 3.8 .7 4.2 .7 2.9 .9 4.5 1 3.9 .9 3.8 1 4.5M207.9 148.6l.1 2.9 .4 3.7 .3 2.9M207.9 132.5l.5 3.2 .6 3.1 .4 3.5 .6 3.1 .4 3.4 .6 3.1 .7 4.4M207.9 105.8l.5 3.1 .3 3.5 .4 3.9 .3 3.3 .3 2.5 .4 4.2 .3 4.2 .4 2.7 .4 3.5 .2 2.8 .7 3.7 .4 3.3M207.9 140.3l.1 2.7 .5 4 .1 3 .5 4.3M207.9 93.1l.6 3.3 .7 3.7 .7 4.4 .8 4.4 .5 3.4 .5 4.2 .2 2.9 .5 3.5 .5 2.8 .2 3.2 .6 3.1 .6 2.5 .7 4 0 2.8 .5 3.6 .7 4.2 .7 4.2M207.9 118.5l.5 4.3 .5 3.2 .3 3 .2 3.9 .4 3.1 .3 3.3 .4 4.4 .4 4.3 .6 4M207.9 120.2l.2 2.9 .1 3.5 .3 4 .6 3.5 .3 3.9 .1 2.9 .3 4.2 .4 4.3 .5 4.5M207.9 108.9l.4 3.7 .2 2.6 .4 2.8 .3 4.1 .2 2.8 .2 2.6 .1 2.7 .6 4 .2 3.1M207.9 142.5l.5 4 .5 2.6 .2 2.8 .3 3.9 .4 3.5M207.9 97.6l.5 3.4 .8 3.8 1 4.5 .9 4.3 .4 2.8 .9 4.1 .5 3.1 .6 3.3 .8 3.9 .6 2.7 .8 3.9 .3 2.9 .5 2.6 .5 2.7 .6 2.7 .6 2.8 .9 4.4 .6 3.2 .7 4.1M207.9 115.1l.9 4.5 .5 2.8 .6 3.1 .6 2.6 .9 4.2 .4 2.8 .4 2.7 .8 4.2 .7 2.8 .6 3.7 .8 4.2 .4 2.8 .6 4M207.9 99.5l1.1 4.4 1 3.4 1.2 4.1 1.1 4.4 .7 3 .7 3.9 .9 4.3 1 3.7 1 3.5 .8 3.3 .7 2.6 1.1 4.2 1.2 4 .8 2.7 .9 3.4 1.3 4.2 .6 2.5 .9 3 1 4.2 .7 3.5 .7 3.7M207.9 138.8l.6 3.6 .6 3.2M207.9 80.5l.7 3.7 1 4 .7 3.5 .6 2.5 .6 2.6 .9 4.2 .8 4.3 .7 3 .9 4.4 .7 3.6 .7 4.3 1 4.2 .5 2.8 .6 2.6 .7 3.6 .8 3.6 1 4.4 .9 4.2 .6 3.1M207.9 111.1l.5 3.4 .7 3.4 .4 2.8 .6 3.1 .2 2.9 .8 4.4 .4 3.6 .6 3 .7 4 .5 2.7 .5 3.4 .5 2.9 .5 3M207.9 99.7l1.2 4.4 1 4 .7 2.6 .9 4.5 .7 2.7 .7 3.1 .8 2.9 1 4 .8 3.1 .8 3.3 1.2 4.4 .8 3.1 .5 2.7 .9 3.4 .7 3.9 .7 2.9 .6 2.5M207.9 114.3l.1 3.9 .1 3 .3 3.1 .1 2.5 .5 3.3 .4 3.7 .4 2.7 .2 3.1 .3 3.7 .3 3.4 .4 4.4 .4 3.5 .6 4.3M207.9 132.9l.2 2.7 .4 3.5 .3 4.4 .4 3.9 .3 3.9 .4 3.2M207.9 118.3l.5 3.8 .3 3.9 .3 3.1 .3 3.6 .2 3.5 .6 4.1 .3 3.8 .1 3.5 .5 4.5 .3 2.8 .3 4.4M207.9 124.8l.5 4.2 .7 4.4 .4 3.5 .7 3.9 .6 3.7 .5 4 .6 4.3M207.9 144l.6 4 .5 3.3M207.9 98.3l.3 3.3 .3 3.1 .3 2.5 .4 3.6 .7 4.3 .8 3.8 .5 3.5 .4 3.8 .6 3.8 .7 4.1 .4 3.4 .4 3.3 .6 4.2 .4 4.3 .5 3.1M207.9 120.4l.3 3 .4 2.6 .4 3.6 .7 4 .5 4.1 .5 3.8 .4 4.2 .5 3.4 .3 3.1 .3 2.6M207.9 103.9l.4 4.5 .4 2.9 .7 3.4 .4 3.5 .5 4 .2 3.8 .1 2.7 .5 2.9 .5 3.7 .5 4 .2 2.6 .5 4.5 .4 2.7 .5 3.3 .4 3.9 .6 3.5 .4 2.5 .2 2.6 .3 3.1 .3 3.6M207.9 77.8l.4 2.6 .7 4.4 .3 3.2 .4 2.7 .6 4.3 .3 2.8 .6 4.1 .6 3.1 .5 4.1 .5 3.9 .3 3 .3 2.9 .3 3 .5 2.6 .3 3.1 .6 4.1 .7 3.4 .3 4 .3 2.7 .3 3 .3 2.9 .6 2.7 .4 3.3 .9 4.4 .3 2.6M207.9 141.4l.9 4 .8 3.4M207.9 125.9l.5 3.9 .2 3 .6 4 .4 3.3M207.9 147.2l.3 3.2 .4 3.6 .2 2.7 .2 4.2 .4 4.5M207.9 115.6l.5 2.5 1.1 4.1 .7 2.8 .9 4.3 .6 2.6 .8 2.9 1.2 4.3 1 4.2 .9 4.1 .9 3.3 .9 3.1M207.9 146.4l1 4.2 .7 3.4 1.2 4.4 .6 2.5M207.9 88.1l.3 3.6 .4 3.1 .4 2.8 .4 3.1 .6 3.8 .4 4.3 .3 2.6 .6 3.9 .5 3.2 .5 4.2 .4 4.1 .4 4.2 .4 3.9 .5 4.1 .6 2.8 .3 4.1 .3 2.8 .5 3.9M207.9 86.6l.4 3.9 .3 2.6 .2 3.9 .3 2.8 .5 4 .3 3.2 .6 4.4 .1 2.8 .2 2.9 .2 2.9 .2 3.3 .1 2.9 .4 4.4 .3 2.8 .4 3.3 .4 3.7 .3 4.4 .3 3.9 .4 3.5 .3 3.9 .4 4.4M207.9 136.4l.6 3.1 .6 2.5 .8 3.3 .8 3.6 .9 2.9 .8 3.9 .9 3.8 .8 3.2M207.9 82.2l.8 4.4 .7 4.5 .4 2.7 .4 3.2 .2 2.7 .5 3.5 .4 3.1 .3 3 .5 4.1 .3 2.6 .3 2.9 .3 3.2 .3 4.2 .4 2.5 .4 3 .3 3.2M207.9 85.6l.7 3.9 .4 4 .4 2.6 .4 3.1 .3 2.7 .4 4.2 .3 3.4 .3 2.5 .2 3.5 .5 3.8 .5 3.1 .3 3.2 .3 2.7 .5 3.2 .2 3.8 .6 4.3 .4 3.3 .3 3.8 .4 4 .2 2.9 .4 3 .6 4.4 .4 3.7 .3 2.8 .7 4.4M207.9 151.5l.6 4 .7 3.6M207.9 115.5l.6 3.7 .3 2.6 .4 3.8 .8 3.4 .4 2.8 .2 3.1 .3 3.5 .6 3 .5 3.9 .7 3.5 .5 3.5 .3 2.8 .5 2.7M207.9 99.4l.2 2.6 .6 3.9 .3 3.2 .6 3.4 .4 3.2 .3 2.9 .3 3.6 .3 3.2 .3 3 .4 3.7 0 2.9 .7 4.2 .7 4.4 .4 3.3 .5 3 .4 3.4 .2 3.9 .5 3.6 .2 3.9 .5 3.5 .1 3.8 .2 2.9 .1 2.8 .3 3M207.9 104.8l.2 3.1 .2 2.6 .4 3.6 .5 2.5 .3 4 .3 3.2 .3 3.2 .1 2.7 .4 3 .5 4.5 .3 2.5 .2 4 .1 3 .2 3.2M207.9 153l.6 4.3 .3 3 .5 3.4 .6 3.6 .5 3M207.9 116l.3 4.3 .7 3.1 .6 4.2 .4 3.6 0 2.8 -.1 3.4 .3 3.9 .3 3.3M207.9 99.7l.4 2.6 .7 3.8 .7 4 .4 2.9 .3 2.9 .6 3.8 .4 2.7 .5 3.8 .6 3.9 .5 3.9 .6 3.4 .5 3.2 .7 4.2 .4 2.6 .6 4.1 .4 3.3 .6 3.8M207.9 119l.8 3.1 .5 2.5 .7 3.4 1.1 3.9 1 4.2 .8 4.2 .9 2.7 1 4.2 .5 3 .7 2.8M207.9 84.2l.5 4.1 .1 2.8 .5 4.4 .3 4.3 .1 2.7 .4 3.1 .4 3.9 .5 4.5 .1 2.6 .2 3.9 .2 2.6 .5 3.2 .1 3.3 .6 4.3 .2 2.5 .4 4 .5 3.8 .6 4.1 .3 4.1M207.9 101.8l.6 2.7 .6 3.5 .6 4 .6 4.2 .4 2.5 .6 4.1 .6 3.8 .5 4.3 .8 3.6 .5 3.5 .6 4.4 .4 3 .6 2.9 .7 3.5M207.9 124.1l.3 2.9 .6 3.4 .7 3.4 .8 4 .6 3.5 .7 3.9 .9 4.2 .6 2.8 .7 3.6M207.9 156.4l.6 3.2 .7 3.8M207.9 123.7l.5 3.4 .6 3.3 .8 4.3 .3 2.6 1 4.5 .6 3.2 .4 2.7 .7 3 .5 2.5 .5 3 .7 4.1M207.9 124.5l.3 3.3 .2 2.6 .3 3.2 .2 3.8 .5 3.7 .5 4.1M207.9 112.5l.7 4.1 .7 4 .3 3 .6 3.8 .3 3.4 .2 4.1 .5 2.8 .4 3.1 .5 3.3 .3 3.4 .7 3.8 .6 3.7 .5 3.8 .3 3.5M207.9 116.2l.9 3.4 1.2 4.3 1 4.2 .8 3.9 1 3.9 .7 2.8 1 3.2 .8 2.6 1 4.1 .6 2.8 1.1 3.7 1.1 4M207.9 124.1l.5 3.2 .7 3.7 .7 3.6 .6 3.5 .5 3.2 .9 4 .5 3.1 .6 3.4 .6 4.2 .4 2.5 .6 3.8M207.9 125l1.1 4.3 .7 4.2 .8 3.9 .8 3.7 .9 4.4 .6 2.9 .6 2.8 .7 3.2 .5 2.8 .9 4.3 .5 2.9M207.9 116.6l.4 3.7 .4 3.5 .5 4 .2 2.6 .2 3.2 .1 2.6 .6 3.5 .6 4.2 .5 2.7 .4 4 .5 3.4M207.9 149.3l.4 2.6 .7 3M207.9 88.4l.3 4.1 .4 4.2 .3 4.1 .5 3.9 .4 2.7 .5 4.1 .4 4.3 .3 2.6 .4 4.2 .3 3.7 .5 4 .2 3.1 .4 3.5 .5 4.5 .6 4.4 .4 4 .3 3.5 .4 4.2 .4 3.3M207.9 103l.2 3.2 .2 3 .7 3.5 .5 4.2 .4 3.1 .3 2.6 .5 4.4 .4 3 .3 3.3 .4 2.8 .4 2.8 .6 4 .4 4.3 .3 3.5 .6 4M207.9 124.1l.3 2.7 .3 3.6 .5 4.1 .5 2.9 .5 4.1 .5 3.5 .5 4.1 .5 3.8 .5 4.5 .6 4.5 .4 4.2 .4 2.9M207.9 141.2l.4 2.8 .6 4.1M207.9 90l1 3.6 1 3.9 .8 3 1 4.3 .7 2.5 .8 3.4 .7 3.2 1.2 4.2 .6 2.7 1 3.4 .7 3.3 1.2 4.1 .5 2.6 .8 2.9 .8 2.7 .6 2.6 1.2 4.2 .8 3.8 .9 3.8 1 3.8M207.9 129.2l.5 4 .6 3 .6 4 .7 3.9 .8 3.6 .6 2.8 .4 2.8 .6 4.5 .6 3.6 .7 4.4 .7 4.4 .7 4.4 .5 4M207.9 112.6l.4 2.7 .2 2.7 .5 3.6 .6 3.5 .6 4.3 .6 4 .6 3.5 .2 2.9 .7 3.7 .4 3M207.9 115.7l.8 4.2 1 3.6 .9 4 1.1 4.5 .6 2.5 .6 2.7 .9 4 .8 4.1 .8 4.4 .6 3.9 .7 3.6M207.9 143.5l.2 3.3 .5 3.8 .5 4.5M207.9 139.3l.4 3.6 .4 2.8 .3 3.5M207.9 115.3l.2 4.4 .3 3 .5 4.4 .4 2.9 .4 4.3 .4 3 .3 3.1 .3 3.4 .4 3.4 .3 3.6 .4 3.8 .4 3.2 .2 3.6M207.9 106.8l.2 3 .5 3.2 .4 3.6 .4 3.8 .2 2.9 .4 3 .3 2.9 .3 4.2 .3 3.4 .2 4.1 .2 3.9 .5 3.7 .3 3.1 .5 3.6 .1 2.7 .2 2.6 .5 3.9 .5 4.2M207.9 145.3l.4 2.9 .4 3.3 .7 4.3M207.9 148.8l.3 2.6 .6 2.9 .5 3.4 .7 3.6M207.9 146l.3 2.8 .6 3.5M207.9 109.1l.7 4.4 .8 4 .7 4 .8 3.5 .6 3.4 1 4.4 .5 2.6 .7 4 .7 3.9 .6 3.3 .8 4.3 .6 2.8 .6 4.3 .9 4.1M207.9 153.4l.4 2.7 .3 3.8M207.9 78.4l.8 4.1 .3 3.5 .7 3.4 .6 3.9 .7 3.5 .4 2.7 .7 4.3 .6 4.1 .6 2.8 .2 2.8 .5 2.7 .8 4.3 .5 3.5 .9 3.9 .4 3.3 .6 4.2 .6 4.3 .4 3.3 .6 4 .7 4 .7 4.5M207.9 95.1l.2 2.5 .6 4.1 .2 2.5 .3 3.6 .4 4.4 .5 4.1 .4 4.2 .3 3.9 .5 3.5 .4 3.7 .2 2.5 .6 4.1 .3 2.7M207.9 123.1l.4 3 .4 3.1 .4 3.6 .4 3.4 .6 4.5 .7 3.9 0 2.7 .6 4.5 0 2.5 .5 3M207.9 127.5l.2 3.6 .4 4.1 .5 4.5 .3 3.9 .5 2.6 .4 4.2 .1 2.9 .1 2.6 .4 4.1M207.9 108l.5 4.1 .4 3.1 .3 2.7 .2 3.2 .2 4.3 .1 3.3 .3 3.5 .2 2.6 .5 3.8 .5 3.8 0 2.5 .6 4.2 .5 4.2 .2 2.9 .5 4.4 .4 3.5 .4 3.4 .5 4.2M207.9 107.2l.4 3.1 .7 3.6 .2 2.8 .5 3 .7 4.1 .4 3.3 .4 3.6 .2 3.5 .5 3.9 .6 4.4 .6 2.8 .3 2.8 .6 3.7 .6 3.7 .7 3.8 .5 4.4 .7 4.2 .8 4.3M207.9 118.5l.2 4.5 .3 3.1 .3 2.6 .5 4.3 .2 2.9 .3 3.6 .3 3.7 .4 3.5 .3 3.6 .6 4.4M207.9 145.7l.9 2.9 1 3.7 .9 3.3 1.2 4.5 .8 2.7 .8 3.2 1.1 4.2M207.9 90.3l.3 3 .4 2.7 .1 3.4 .5 3.7 .7 4.1 .4 4.4 .6 3.7 .4 3.8 .3 3.8 .3 2.5 .2 2.5 .3 3.2 .1 2.6 .7 4.2 .1 3.3 .4 3.7 .6 4.3 .4 3.7M207.9 108.6l.3 3 .1 3.9 .5 3.3 .2 4.3 .4 2.7 .3 2.7 .1 3.5 .4 3 .3 3.6 .4 4.3 .3 2.6 .1 4.2 .3 3.6M207.9 125.4l.5 4.2 .3 2.6 .3 3.3 .3 3.8 .4 4.3 .3 3.1 .4 4.5 .3 2.7 .5 4.3M207.9 89.8l.6 3.8 .5 4.4 .1 2.6 .6 3.6 .5 3.2 .5 3 .5 4.4 .5 3.6 .5 3.9 .4 2.7 .6 4.2 .4 2.8 .6 3.6 .3 3.3 .1 3.3 .7 3.5 .5 4.3 .4 3.8 .4 2.6 .5 3.2 .6 3.9 .6 3.3 .6 4M207.9 99l.5 4 .5 3.4 .3 3 .3 3.1 .4 2.8 .2 2.8 .6 3.3 .3 4.1 .4 3.2 .1 2.9 .3 2.5M207.9 120l.6 2.7 .6 3.4 .8 3.9 .6 2.6 .5 2.7 .7 4 .9 3.9 .3 2.6 .5 3M207.9 138.9l.7 3.1 .5 3.2 .4 2.5 .9 3.4 .6 2.8 .8 3.5 .9 4.1 .8 3.7 .6 3.1 .8 3.5 .8 4 .9 3.9M207.9 154.2l.7 3.6 .7 3.8M207.9 128.5l.7 4.1 .7 3.8 .9 3.8 .8 4.4M207.9 82.9l.5 3.9 .5 3.7 .7 3.9 .5 4.1 .5 3.7 .1 2.6 .6 4.2 .5 3.3 .1 2.5 .3 3.7 .4 3.6 .5 4.2 .5 4.2 .5 3.4 .3 3.1 .5 2.6 .6 4.5 .5 4.2M207.9 128.6l.6 2.8 1 4.1 .9 4 .8 3.4 .8 3.5 .8 4.1 .7 3.1 .7 4 .7 2.7 .8 2.9 .8 4 .8 4.1 .8 3.2 .7 3.4M207.9 98.4l.6 4.2 .5 4 .5 4.1 .6 3.7 .5 3 .7 3.8 .3 3.9 .7 3.8 .6 4.2 .6 4 .4 2.9 .6 3.5 .6 3.2 .4 2.8 .6 3.4 .4 2.9 .4 3.4 .3 2.6 .4 2.8 .3 2.6 .4 2.6 .9 3.9M207.9 147.7l.6 3.2 .5 4.4M207.9 93.2l.6 4.4 .6 4.3 .4 2.6 .4 3.7 .6 4.2 .2 3.2 .2 2.8 .2 3.4 .4 3.9 .1 4.3 .3 2.5 .4 2.9 .3 3.7 .5 4.5 .4 4 .3 3.1 .6 3.3 .1 3.7 .4 4.4 .2 2.9 0 2.6M207.9 149.4l.5 2.9 .4 4.1 .5 4.3M207.9 113.9l.4 2.6 .5 3.2 .7 3.3 .6 2.7 1 4.5M207.9 131.5l.3 4.1 .5 3.6 0 2.8 .3 3 .4 4.4M207.9 118.1l.3 2.6 .3 3.2 .4 3.1 .5 3 .2 2.6 .5 3.9 .5 3.8 .5 2.6 .5 4M207.9 134.5l.4 2.6 .3 3.5 .4 4.2 .5 3.5M207.9 74l.6 2.8 .5 4.1 .5 3.6 .3 2.6 .4 3.4 .5 4.4 .4 3.3 .4 3.8 .4 3.2 .8 4.1 .6 4.3 .3 2.9 .4 3 .1 2.8 .4 4.2 .3 4 .3 3.1 .3 4.2 .4 4 .3 3.4 0 2.7 .4 3.4 .2 3 .4 3.7M207.9 104l.8 2.7 .9 3.7 1 4.4 1 3.7 1 4.4 1 4.1 .6 3.5 .8 3.1 .6 3.2 .8 2.6 1 4.5 .5 2.6 1 4.3M207.9 76.9l.7 3.8 .7 3.3 .7 3.7 .8 4 .2 2.8 .8 4.3 .6 2.9 .8 3.6 .7 3.6 .9 3.8 .7 2.7 .5 4.2 1 3.4 .5 3.6 .4 2.7 .7 4.1 .7 3.1 .8 3.6 .9 3.9 .5 3.4 .4 3.3 .6 3.7 .9 4.2 .8 3.3M207.9 125.6l.8 4.4 .4 3.4 .5 3.6 .4 2.7 .3 2.6 .5 3.1M207.9 104.4l.8 3.6 1 3.8 .8 3.8 1 4.1 .8 3.3 .6 2.5 1.1 3.9 .7 3.6 .8 3 1 4.4 .5 2.5 .6 2.9 1.3 4.2 1 3.5M207.9 138.2l.3 2.5 .7 3.2 1 3.9 .7 3 .6 2.9 .9 3.7M207.9 138.8l1 4.5 .5 3 .7 2.9 .8 3.4 .7 3.3 .6 2.7 .9 3.6M207.9 102.5l.3 3.4 .5 3.5 0 3.5 .1 2.6 .5 4.3 .3 3.2 .4 3.4 .3 4.5 .1 3 .1 2.6 .5 3.8 .2 3.4 .4 3.4 .5 3.2 .5 3.4 .2 2.9M207.9 83.9l.2 4 .2 3.3 .1 2.9 .3 3.9 .3 2.5 .1 3.3 .3 2.7 .4 3.1 .3 3.1 .5 3.9 .2 2.9 .3 3 .2 2.9 .3 4.3 .3 4.2 .5 4.2 .4 4 .4 3.9 .4 4.2M207.9 123.5l.2 3.5 .6 2.7 .4 3.6 .4 2.7 .4 4.3 .3 3.9 .5 2.9M207.9 148.4l.3 2.9 .3 3.8 .5 4.5 .5 3.7 .4 2.8 .4 4.2 .5 2.8 .4 2.8M207.9 140.7l.8 4.2 1 4.3 .8 4.3 .5 2.8 .8 4 .7 4 .8 4.1 .5 2.8M207.9 137.8l.6 2.6 1 4.3 1.1 4.3 .7 3.7M207.9 148.8l1 4.4 1 4.5M207.9 93.2l.3 3.8 .1 2.9 .3 2.8 .6 4.4 .3 3.5 .4 3.3 .2 3.4 .5 4.3 .6 3.7 .2 3.2 .3 3.3 .6 4.1 .2 3.8 .2 3.2M207.9 86.9l.5 4.4 .5 3.2 .5 3.9 .4 3.5 .4 3.3 .4 3.7 .4 4.1 .4 2.9 .7 4 .5 3 .4 3 .2 3.2 .4 2.6 .4 2.5 .5 3.6 .3 2.9 .1 2.6 .5 3 .4 3.6 .5 3.9 .4 3.5 .5 3 .2 2.7 .3 2.8 .4 4.4M207.9 130.9l.7 4.1 .5 2.7 .8 3.1 .6 3.7 .8 3.3 .6 4.1 .8 4.1 .5 3.1 .5 3.4 .8 4.5M207.9 147l.4 4.1 .2 3M207.9 150.3l.3 3.8 .3 3.5M207.9 122.6l.5 4.5 .5 3.6 .3 3.5 .2 2.8 .7 4.1 .3 3.8 .6 4.1 .5 4 .3 2.5M207.9 101.7l.4 3.2 .7 3.3 .6 3.7 .4 3.3 .5 3 .6 4.1 .5 4.4 .9 4.2 .8 3.7 .7 4.3 .6 4.4 .5 3M207.9 154.2l.7 2.9 .7 3.7M207.9 115.9l.5 2.8 .5 2.5 .4 2.7 .5 2.5 .6 4.1 .7 4 .3 2.5 .3 2.7 .3 2.7 .4 3.9 .5 2.7 .6 4.4 .4 2.6 .6 2.9 .6 3.3M207.9 140.8l0 3.1 .6 3.7 .5 3.4 .1 3.2 .3 4.5 .2 3.5M207.9 81.9l.3 3.2 .2 3.7 .3 3.6 .4 3.1 .2 3.3 .2 2.9 .2 3.5 .4 4 .3 3.5 .1 3.3 .3 3.6 .4 3.1 .3 3.9 .6 4.2 .4 3.9 .5 3.7 .4 3.7 .6 4.4 .4 3.5 .3 3 .3 2.9 .5 3.6M207.9 86.8l.8 4.1 .9 4.1 .7 3.8 .7 4.1 .9 4.3 .8 3.6 .5 2.8 .7 3.7 1.2 4.2 .7 3.7 .5 3 .7 3.4 .8 3.4 .7 4.4 .6 3.7 .8 4.4 .6 3.4 .8 3.5 .6 3.3 .7 3.3 .5 3M207.9 101.6l.4 2.6 .8 4 1.1 4.2 .5 3.4 .7 3.5 .9 4.1 .6 3.5 .8 3.6 .6 4.4 .7 3.7 .5 2.8 .9 3.7 .6 3.3 .6 3.1 .6 2.7 .8 4.2 .6 3.4M207.9 106.6l.3 2.7 .5 2.5 .3 3.8 .3 4.4 .3 2.9 .5 3.4 .6 3.6 .3 3.1 .4 2.9 .1 4.2 .6 3.9 .4 3.4 .6 4.4 .6 4.1 .5 3.3 .5 3.6 .4 4.1M207.9 123.9l.9 4.2 .5 3.5 .6 3.5 .6 3.3 .6 4.4 .5 3.4 .3 3.1 .7 3.1 .4 2.9 .5 4M207.9 115.7l.5 3.8 .4 3.4 .5 3.6 .4 2.6 .6 3.5 .5 3.9 .3 3.6 .4 2.7 .3 2.7 .6 4.1M207.9 144.9l.8 3.2 .8 4.3 .9 4.1 .4 2.7 .8 3.4M207.9 88.3l1 3.1 .8 3.1 .6 2.6 .9 3.3 .9 4.4 1 4.3 .8 3.5 .8 3.3 .8 3.5 .5 2.7 1.1 4 1 4 .9 3.7 1.1 4.3 .4 2.5 1.3 4.5 1 4.2 .9 3.6 1 4 .6 2.5 .9 3.4 1.3 4.5 .8 3.4 1 3.5M207.9 110l.6 2.6 .8 4.4 .6 3.7 .7 4.1 .7 3.4 .8 4.4 .4 2.5 .4 3 .8 3.7 .6 3 .5 3.9 .4 3.7 .6 3.7M207.9 142.4l.5 3.1 .3 2.9 .4 2.7 .3 3.1 .5 3.3 .3 3.2 .4 2.9 .9 4.4 .7 3.1 .4 3.3 .7 3.8M207.9 145l.5 4 .4 3.3 .4 3.3 .4 3.5M207.9 119.4l.4 3.6 .5 4.2 .2 2.5 .4 3.4 .6 3.1 .1 3.3 .3 4.5 .3 3.1 .2 2.7 .5 4.3 .2 3.5 .4 3.7 .4 4.4 .3 4M207.9 86.8l.7 3.9 .5 3.5 .6 3.7 .6 3.7 .8 3.8 .3 2.9 .6 4.3 .6 4.3 .6 2.8 .6 2.9 .4 2.8 .5 2.8 .8 4.2 .7 3.8 .6 3.6 .6 4.2 .8 3 .5 3.7 .2 2.9 .8 3.7 .3 2.7 .6 4.1 .4 2.7 .6 3.5M207.9 90l.9 4.3 .9 4.2 .9 3.6 .6 3.3 1 4.3 .7 2.5 .8 4.2 .5 3.5 .6 3.7 .9 4.2 .8 4.1 .7 4.5 .9 3.8 1.2 4.1 .7 2.7 1.1 4.2 .5 3M207.9 91.6l.4 2.8 1.1 4.1 .4 2.8 .4 2.6 .5 3.7 .7 3.3 .4 2.6 .5 3.7 .6 3.3 .8 3.4 .5 3.4 .6 2.8 .5 3.4 .4 3.3 .5 4.3 .8 4.4 .6 3.7 .5 3.6 1 4.3 .8 3.7 .4 4.1M207.9 140.7l.7 3.6 .8 2.9M207.9 126l.6 4.3 .2 4.4 .1 3.3 .3 3.5 .3 3.7 .4 3.2 .3 3.4 .4 3.9 .2 3.4 .4 4 .3 2.7 .3 4.3 .1 2.7 .3 3.5M207.9 73.8l.6 3.9 .3 3.4 .6 3.4 .6 3.1 .8 4.5 .6 3.9 .6 3.8 .4 3.7 .8 4.1 .6 4.3 .5 3.1 .5 3 .5 3.2 .6 3.3 .4 2.6 .6 3.1 .2 2.6 .5 3.7 .6 4.3 .4 3.8 .6 3.8 .4 3.8 .7 4.3 .4 3.1M207.9 82.3l.4 3.5 .4 2.5 .8 3 .6 3.6 .9 4 .4 3.8 .5 2.9 .5 3.3 .6 3.7 .7 3.9 .5 4.4 .5 4.1 .6 3.6 .5 2.9 .5 4.2 .5 3.2 .8 4.3 .5 3.2 .6 2.6 .4 2.5 .5 2.7 .5 3.4 .4 3.1 .5 2.7M207.9 100.7l.9 3.4 .7 3.3 .7 2.9 .7 3 .6 3.1 .6 2.6 .7 3.3 .9 3.8 .8 3.3 .9 4.1 .6 2.8 .5 3.2 .8 2.8 .8 2.9 .9 4 1.1 3.7 1 3.7 .8 3.5M207.9 151.7l.3 3.1 .5 2.9M207.9 119.7l.6 2.6 .2 2.9 .5 3.1 .6 2.8 .5 3.8 .9 4.4 .6 3.2M207.9 87.2l1 3.8 .9 4.1 .8 3.5 .8 4 1 4 .7 2.7 .8 4.1 .9 3.5 .7 3.4 1.1 4.3 .7 4.1 1 4.3 .8 4 .7 4 .8 2.9 .6 2.9 .7 4 1.2 4.4 1 3.9 .8 3.9M207.9 124l.3 3.3 .2 2.9 .4 2.8 .5 4.2 .4 3 .3 3 .4 4.1 .4 2.9 .3 3.1M207.9 132.2l.1 2.7 .1 2.8 .3 4.1 .3 3.9 .4 2.9M207.9 151.3l.6 4.2 .7 3.3M207.9 149.5l.5 3.4 .8 3.9 .7 3 .8 3.9 .7 2.5 .8 3 1 3.9M207.9 99.3l.6 3.6 .7 4.2 .2 2.5 .6 4.1 .4 3.9 .8 3.9 .4 4.3 .2 2.5 .5 3.2 .3 2.6 .5 4 .4 4 .5 3.2 .4 4.3 .3 4.2 .4 4.1 .5 3 .3 3.1 .6 4.4 .2 2.8M207.9 106.4l0 3.8 .5 3.2 .3 4.1 .5 4.3 .5 3.9 .6 3.6 .1 2.5 .3 3.7 .3 3.5 .4 3 .2 3.2 .5 3.4 .4 3.5 .3 3.3 .6 3.8 .4 3.9 .4 2.6 .5 4.2M207.9 114.9l.3 2.6 .4 3.7 .4 3.9 .4 4.5 .3 3.4 .5 4.5 .2 3.5 .4 4.4 .3 3.3 .5 4M207.9 85.8l.6 3.8 .5 3.8 .3 3.5 .5 3.4 .4 3.1 .4 3.3 .5 3.8 .5 2.6 .7 4.2 .6 4.2 .4 4.4 .5 3.3 .3 2.7 .4 2.5 .4 3.5 .6 3.9 .5 3.1 .5 3.9 .6 4.3 .5 4 .6 4.2M207.9 142.8l.6 3.8 .4 3.5 .4 3.9 .3 2.5 .6 4M207.9 130.2l.7 3.1 .4 4.1 .7 4.1 .5 3.9 .7 4.1 .3 3.2 .6 3.6 .2 3.8M207.9 119.9l.2 2.6 .1 2.5 .2 2.8 .5 4 .3 4.1 .3 4 .2 3.1M207.9 101.2l.4 4.4 .5 2.8 .3 3.2 .4 3.8 .4 3.6 .5 4.2 .2 2.8 .4 3.9 .4 3.6 .3 3.9 .5 3.1 .2 3.6M207.9 155.1l.4 3.1 .3 3.6M207.9 90.2l.5 4.3 .5 3.6 .4 4 .4 3 .2 2.7 .2 2.8 .4 3.8 .2 2.9 .2 3.3 .6 4.4 .5 3.7 .3 3.6 .6 4.3 .5 3.3 .3 2.7 .1 3.2 .5 3.3 .4 2.8M207.9 118l.8 4.3 .6 3.5 .6 3.9 .5 3.3 .8 4.4 .4 2.9 .7 4.3 .8 4.5 .8 4.2M207.9 143.6l.5 4.4 .2 2.7 .3 3.5 .5 4.3 .6 3.9 .1 3 .3 3.1 .4 2.7 .4 3.7M207.9 72.9l1.2 4.2 .7 3.6 .6 2.7 .8 3.9 1.2 4 .4 3.4 .8 3.7 .7 2.7 .9 3.8 .7 3.2 .9 4.4 .6 3.3 .5 2.7 .9 3.8 .6 3.4 .9 3.6 .8 3.7 .6 3.6 .8 3.1 .9 4.2 .7 3 .9 4 .7 3 .7 3.3 .7 3.1 .9 4 .7 3.9 .6 3.3 .7 2.8 1.1 3.8M207.9 82.9l.6 3.5 .5 3.9 .7 4 .5 4.4 .2 2.8 .3 3.2 .4 3.5 .2 3.5 .8 4.1 .4 3.8 .5 2.8 .6 2.8 .6 4.5 .5 3.8 .6 4.3 .3 2.9 .7 4.5 .6 4.4 .3 2.9 .2 2.9 .5 3.3M207.9 155.9l.5 2.7 .2 4M207.9 108l.4 3.7 .5 3.6 .3 2.9 .3 3.1 .7 3.9 .6 4.3 .3 3.2 .3 4.2 .1 2.5 .3 2.7 .3 3.2 .4 3.7 .3 3.6 .3 3 .3 3.6 .4 4.2 .5 4.2 .2 3.1 .4 3 .2 2.8M207.9 156.1l.3 2.7 .4 2.9 .4 3.1M207.9 141.2l.8 4.5 .6 3.9 .7 2.8 .3 2.5 .6 4.2 .8 3.8 .7 3.7M207.9 120.9l1 4.1 .8 3.6 .7 2.9 1 4.3 .7 2.6 .7 3.8 .7 3.3 1 4.3 1.1 3.3 .5 2.5 .6 2.9 .8 3 .7 2.9 1.1 4.4M207.9 123.3l.9 3.6 .5 3.3 .9 3.9 .9 4 .6 3 .7 4.2 1 4.2 1.1 4.5 .9 4.5 .7 3.7 .8 4.2 .7 3.9 .6 3.6M207.9 80.3l.2 2.9 .4 4.3 .6 3.3 .5 3.8 .2 2.9 .4 3.6 .5 4.3 .4 4 .5 2.8 .4 2.7 .3 3.5 .2 3.9 .5 3.5 .3 4.1 .4 2.7 .4 2.8 .2 3.9 .4 3.3 .3 3.3 .6 3.9 .5 4.2 .4 3.3 .7 3.4 .4 2.9 .4 4.3M207.9 101.6l.4 4.1 .2 3.9 .6 3.3 .2 3 .2 3 .3 3 .3 3.5 .3 4.2 .2 3.3 .3 2.9 .3 3.5 .5 4.2 .3 2.9 .4 4.1 .3 2.6 .4 4.5 .4 3.7M207.9 125.3l.6 3.2 .3 3 1 4.4 .8 3.6 .6 3.9 .8 4.4M207.9 109.6l.1 3.3 .5 3.1 .3 2.8 -.1 2.8 .3 3.8 .3 2.6 .2 3.6 .3 3.4 .4 3 .4 3.6 .4 2.9 .3 4.3 .4 3.2 .4 3.7 .5 4.2 .4 3.9M207.9 131.6l.9 3.5 .8 4.2 .8 3.6 .9 4 1 3.6M207.9 149.6l.8 3.7 .7 3.5 .6 2.6 .1 2.8 .4 3.1 .7 3.5M207.9 100.8l.4 4.2 .6 3.8 .3 3.1 .2 2.6 .2 2.8 .3 4.4 .1 2.6 .3 3.3 .4 4 .1 2.7 .5 3.5 .3 4M207.9 130.9l.2 3 .4 3.3 .4 3.3 .6 4 .6 3.2 .5 3.9 .6 3.8 .4 3.5 .5 4.1 .5 3.2 .3 2.7M219.8 174.6l1.8-3.9 2.1 10.1 1-8.8 1.7 1.6 1.6 .3 1.6 1.1 2-3.6 2-5.2M214.8 180.8l1.9 .3 2.2-4.3 1 6.3 1.5-.6 1.8-4 2.2-3.2 1.1 3 1.9 .3 1.4 1.7 1.2-1.8 1.2 1.2 1.5-2.1 1.5 1.2 1.1-1.4M219 151.4l1.9 5.4 2-6.7 2.1 8.1 1.6 5 1.1-3.2 1.5 3.6 1.1 3.1 1.8-4.7 1.3 2.2 2.2 2.3 1.7 .4 1.9-6.9M221.7 162.6l1.7 1.3 1.9-3 2.1 1.3 1.5 2.3 1.1-2.1 1.4 .2M212.2 142.2l1 4.8 1.4-6.3 2.2 2.6 2 .9 1.7 5.2 1.4-.5 1.7 1.5 2 .2 1.9 5.7 1.2 2 1.4-2.3 1.3-1.4M213.1 183.9l1.2 .7 1.2-4.3 1.6-1.8 1.5 .3 1.9-2.5 1.7 1 2.1-6.1 1.2-3.7 1.4 2 1.9-3.7 1.1 1.3 1.4-1.9 1.2-.7 1.5 1.7 1.6-2.6 1.3-.8 1.7 2.9 1.6 .6 1.1 1.5M211 158.6l1.9-2.9 2.1 3.4 1.8-.9 1.4 1.4 1.3 .9 1.6 3.1 1.2-2.2 1.6 .3 2.2 0 1.8 3.9 1 .6M221.5 151.8l2 0 1.4-1.9 1.8 2.8 2.1 2.2 1.9 1.9M216.8 164.3l1.7-1.2 1-1.3 2 .6 2.1-.3 1.8-2.6 1.1-3.1 1.4 8.2 2.1 0M216.1 168.2l1.4-8.5 1.8 1.6 1.3 .9 1.8 5.6 1.5-8.2 1.6 .8 1.4 2.7 2-2.8 1.9 2.2 1.5 .8 1.5-.6 1.6-.7 1.2 3.2 2.1 1.2 1.1-4.6 1.2-1.7 1.6 2.1M218.7 179.2l2 4.6 1-3.1 2.2 1.3 1.6-3.8 1.9-1.5 1.9 4.4 1.6-4.3 1.2 1.3 1.8-2.6 2 .1 1.9 2.1 1.5 .8M221.4 171l1.5 2.7 1.1 1.9 1.4-3.8 1.8-1.2 1.2 .7 1.2-5.1 1.7-1.2M217.8 178.6l1.6 6.6 1.2-2.8 1.1-.6 1.4-2.3 1.8 3.2 1.4 1 2-.3 1.4 .3 1 .3 1.1 6.8 1.8-.7 1.4-3.8 1.8-2.9 2.2-1.3 1.9-3M216.7 141.6l2.1 6.6 1.2-1.2 1.8 1.1 2.1-1.2M210 167.5l1.7 5.4 1.2-3.2 1.7-.4 1.4-.1 1.7 3.9 1.4 1.8 2.1-3.8 2.1-2.2 1.3 6.2M218.8 142.1l1.3-4.1 1.1 .9 1.7 2.5 1.6-.5 1 6.2 2.2-2.8 1.2 2.3 1.3 5.8 1.6 2.3 2.1 4.2 1.9-2.3 1.9 0 1.7 7.7 1-2.8 2-1.1M208.6 145.2l2.2-1 1.9 .8 1.1 2.2M221 151.7l1.2 3.8 1.4-3.4 2.1-3.3 2.2 1.6 1.9-.8 2 4.9 1.3 .3 1.9-2.1 1.2-4 1.7 .7 2.2 3M209.1 181.4l1.6 1.7 1-1.9 1.7-3.3 1.6 .9 1.6 4.5 1.9-1 1.8 3.5 2-3.7 1.2-1 1.3 1.3 1.4 1 2-2 1.7 .5 1.1 1.2 2.2-5.9M218.8 138.2l1.8 2.8 1.7 1 1.7-.5 2.1 .2 2.3 5 1.3-.2M208.6 147.1l1.1-3.3 1 2.2 2 1.4 1.1 5.1 1.7-1.8 2 0 1 4.6 1 3.3 2-2.5M208.3 166.1l1.3 5.1 1-1 1.4-.7 1.9 .3 2.1-1.4 1.1-1.9 1.3 .1 1.2-3.4 1.3 1.5M212.4 172.7l2.2-3 1.1 2.1 1.9 1.6 1.8 4.1 1.2-5.5M210.4 168.9l1-2.3 1-1.7 1.7 .4 2.2 5.2 1.5-7.1M209.6 178.2l1.3 .1 1.1-2.6 1 .9 1.9 .2 2.1-.7 2.1-1.8M216.3 166.7l1.3-2.8 1 3 1.3-4.3 2.2 4.9 1.3-2 1.9-1.5 1.4 5.7M221.5 151.3l1.6 0 1 3.5 1.9-1.9 2-.2 1.1 2.6 1.7-1.4 1 5.2 1.4 .1 2.2-2.2M219.1 174.5l2.1 2.7 1.1 1.1 1.7-3.2 1.3 1.5 1.1-4.1M216.6 174.5l1.3 2.2 2.2 2.3 1.9-.2 1.1 4.3 1.8-2.9 1.3 1.9 2-4 1.5-.3 1.7 2.5 1.9-3.1 1.4 3.1 2-2.6 2.1 3.1 1.1 1.4 2.1-.7 1.5-.2 1.4 2.8 1.7-.9M220.8 183.3l1.9-1.7 1-4.5 2-.3 1.1 5.9 2-4.2 1.6 .2 1.5 1.6 2.2-1.2 1.4-.4 1.1 .6 1.2-5.4 2-4.1 1-.6 1.5-.8 2.2 1.3M217.9 150.5l2.1-.8 1.1-.5 2 3 1.2 1.7 1.8-1.1 1.7 3M209.7 180.8l1.6-3 1.6 .7 2.1-1 1.3 0 1.9 3.7 1.5-2.8 1.9-2.9 1.1-1.6 1.8-1.2 1.3-4.5 2.2 1.9 2.1-.6 1.1 .9M210.8 174.3l1.1-1.8 2.1 5.7 2-8.9 1.6 3.3 1.5-4.8 1.9-1.4 1.2 .4M219.7 166.8l1.6-3.1 2 2.5 2.1 .4 1.5-4.4 1.3-3.4M215.4 186.9l1.3-5 1.6 1.9 1.6 1.9 1.6 3.2 1.9-5.5 1.3 1.4 1.6-1.8 1.9-4.4 1.3-3.1 2.1-.7M213 164.2l1-2 1.9 1.6 1.8 .1 1.3 1.6 1.9-.2 1.2-.5 1.9 4.2 1 .1 1.6 2.6 1.5-6.1 1.4 6.3 1-5 2-.9 1.5-1 1.5-1.2 1.3-1.5M215.5 137.7l1.7 2.9 1.6 4.2 1.7 .4 1.2-1.9 2 2.1M208.6 141.6l1.5 2.1 1.6 .6 2.1 0 1.2-.9 2.2 2.9 1.2-1.5 2.2 5.5 1.4 4.6 1.8-3.4 1.4 .7 1.9 .1M208.3 146.8l1.4 2.4 1.4 1.8 1 1.3 1.6 1.9 1-1.2 1 .7 1.2-2.8 2.2 4.2 1.2-2.3 1.7 .1 1.8-.1 2.2-.4 2.2-3.5 1.5 5.6 2.1-4.4 1.4 .4M219 155.5l1.3 3.3 2-1.6 1.6 1.1 1.7-2.2 1.6 4.2 1.4-1.5 1.5 3.2M210.8 152l1.3-3.2 1.3 1.7 2 3.7 1.2 1.7 1.6-1.2 2.1-1.4 1.1-.5 1.2 2.1 1.6 4.2 2.2-.9M210.5 173.8l2 7.1 1.2-2.9 2 .4 2.1 3.6 1.9-2.9M215.4 144.9l1.2 1.7 2.1-.8 1.1 6.3 1.1-2.1 1.2 .6 1.4 5 1.8 0 1.2-.4 1.6 2 2.1 .4 1.1-2.7M214 160.6l1.2 1.1 2.2-1.6 1.4 2.5 1.1-5.2 1.9 3.6 1.2-1.7 1.4 1.6 1.1 .6M221.6 169.8l1.6 2.8 1.4-1.7 1.4-3.4 2.1 2.6 1.3-5 1.4 3.3 1.2-3.4 1.1 5 1-1.4 2.3 1.3 1.8-.6 1.9 2.7 1.7-1.9 2.2 2.2 2.2-1.6M212.5 159l1-.7 1.2 1.2 1.3 .3 1.3-1.7 1.1 5.8 1.1-4.4 1.8 3.6 .9-6.3 1.8 .6 1.1-4.3 1.5 5.1 2.1-4.5 1.8-3.8 1.9 7.9 1.6 1M208.8 181.9l1.7-.8 2.1-3.2 1.8-.3 2-2.7 1.8 1.7 1.6-3.2 2.3-4.2 2 2.5 1.3-5.6 1.1 3.7M210.6 164.9l1 .2 1.2-.2 1.8 1.2 1.6-3.3 1.1-3.5 1.5 4.4 1.3-1.4 1-1.6 1 .6 1.4-.8 1.7-2 1.5-1.8 1.7 6.7 1.9 .4 1.4-3.3 1.3-1.8 1.9 2.4M209.8 152.8l2.2 6.7 1.5-1 2.2-1.4 1.6 1.3 2 3 1.4-2.5 2.1 1 1.8-5.6 1.6 8.3 2.2-1.9 1.8-4.1 1.6 1.6 1.4 6 2.1-3.4 1.5 2.5 1.4-2.1 1.3-1M213.2 181.3l1.9 .3 1.2 3 2.2-6.9 1.6-3.9 1.2 3.5 1.3-3 1.1-.8 1.8 1.1 1-3.1 1 2.2M213.4 172.7l1.6-.4 1.1-6.2 1.3 2.5 1.3-2.7 1.8-.7 2.2-1.6 1-.3 1 2.9 1.3-5.1 1.9 3.5 2.1 2.6 2-3.7 1 1.1M219.6 140.2l2.1 3.1 1.5 1.3 1.7 .8 1.5-1.3 2 3.4 2.1-1.1 2 1 1.6 .1 1.6 2.5 1.9 4M221.4 168.8l2.2 1.3 1.9-3.2 1.7-.2 2.2 7.3 2-5.2M211.2 143l1.9-2.8 2.2 4.8 1.8-1.8 2.1 6 1.1 1.3 1.5 4.6 1.7 1 1.3 1.6M214 176.4l1.8-2.8 1.7 2.1 1.1-2.1 1-.6 1.3 0 2-2.2 1 2 1.6 .8 1.6-1.1 1.8-2 1.2-1.4 2.2 .1 1.4-3.3 1.3 1.5 1.6-2 1.2-.4M207.9 81.3l1.2 4.4 1.2 4.1 .9 3.6 .8 2.6 .7 3.2 .8 3.9 .9 3.1 1.3 4.2 .7 3 1.2 4.4 1.1 4.2 .7 2.5 .8 3.3 .5 2.6 .7 3.4 .9 4 .6 2.6 .9 4M207.9 107.1l.7 3 .8 2.6 .9 3.4 .8 3.1 .9 3.3 1.2 4.1 1.1 3.3 1.2 3.7 1 3.5 1 3.5 .9 3.5 .6 2.8 .7 2.7 1.2 3.6 1.1 3.4 .9 2.9 1 3.2M207.9 107.3l1.1 4.4 1 3.1 1.2 4.3 1 3.8 1.2 3.6 .9 3.8 .9 3.6 .9 3.1 1 4.5 1 3.3 1 2.8 .8 3.7M207.9 105l1.1 3.9 1.3 4.4 .9 3.2 .9 2.8 .7 2.5 1.2 4.3 .9 2.8 .9 2.6 .9 2.9 1.1 3.2 1.1 4.4 1 3.6 .7 2.5 1.1 3 .8 3 1.1 3.2M207.9 115.7l1 4.1 1.4 4.5 1.3 4.4 .9 3.4 1 2.6 1.1 4.1M207.9 89.7l.5 2.6 1.1 3.8 .7 3.2 .7 3.2 .7 2.7 .7 3.6 1.2 4.1 1.2 4.1 .8 2.8 .7 3 .9 3 .8 2.6 1.1 3.6 1 3.3 1 4.2 .7 3 1.1 4.1 1 3.7M207.9 90.4l.9 2.9 1 3.4 1.1 4.2 .6 2.7 1.2 3.8 1.3 4.2 .8 2.8 1.1 3.3 .9 3.7 1.4 4.2 .9 4.1 1.1 3.9 .9 3.4 .8 3.5 .6 2.6 .8 3.8 .9 4.2 .5 2.8 .7 2.5M207.9 107l.9 3.2 1 3.9 .8 2.8 1.2 3.7 1.2 3.5 .8 2.7 1.2 4.4 1.1 3.1 .8 3.1 .8 2.9 1 4.1 1 4.1 .7 3.2 1.5 4.4M207.9 116.7l.6 2.9 1.2 4.1 .9 3.5 1.1 4.2 1.1 3.9 .8 2.6 .7 2.8 .7 2.9M207.9 91.1l1.1 3.1 .8 2.8 1.2 4.3 1.3 4 1.2 4.1 1.4 3.9 .9 3.2 1 2.6 1.4 4.1 1.1 3 .9 3.3 1.4 4.3 1 3.5 1.1 4.1M207.9 77.9l.9 3.1 1.1 4.2 .8 3.4 .7 2.7 .7 2.6 .7 3 .8 3.8 1 4.3 1.2 4.3 .8 3 1.1 3.7 .8 2.9 1 3.6 1.1 3.8 .7 2.7 .9 3.3 1 3.3 1.1 4.1 1 3.9 .8 3.4 .7 2.8 .9 3.1 1.1 4.2 .8 3.7M207.9 84.2l.8 3.9 .9 3.3 1.2 4 .9 2.8 .8 2.9 .7 2.8 .7 2.6 .9 3.5 1.3 4.3 .7 2.9 .7 2.5 .8 2.7 1 3.6 .6 2.7 1.1 3.6 .7 3 .8 3.3 1.1 3.6 1.2 4.4 .9 3.3 .8 2.6 .9 3.9 1 3.9 1.1 3.8M211.9 84l5 19 1.5 .6 1.5-1 1.5 .4 1.5 1.2 1.5-.2 1.5-.3 1.5 .3 1.5 .7 1.5-.1 1.5-.7 1.5-.5 1.5 .6 1.5 1.2 1.5-1.1 1.5 .6 1.5 1.7 1.5-1.2 .7 3 .8 3 .8 3 .6 3 .3 3 .4 3 .4 3 .5 3 .3 3 .6 3 .7 3 .8 3 .6 3 .5 3M212.9 88l6 16 1.5 .5 1.5-1.1 1.5 .7 1.5-1 1.5-.5 1.5 1.3 1.5-.2 1.5 .4 1.5 .5 1.5 1.4 1.5 .6 1.5 .9 1.5-1.4 1.5 .9 1.5-.8 1.5-1.4 1.5 .7 1.5-.4 1.5-.7 1.5 .1 1.5 .1 .7 3 .6 3 .6 3 .4 3 .6 3 .7 3 .8 3 .7 3 .4 3 .8 3 .9 3 .7 3 .4 3 .6 3M213.9 92l7 13 1.5 1.7 1.5 .1 1.5 .9 1.5-.4 1.5 1.9 1.5 1 1.5 .4 1.5-.5 1.5 .3 .3 3 .8 3 .4 3 .3 3 .8 3 .4 3 .7 3 .9 3 .9 3 .3 3 .6 3 .6 3M214.9 96l8 10 1.5 1.5 1.5 .4 1.5-.1 1.5 1.2 1.5-.8 1.5 .4 1.5 .8 1.5-.1 1.5-.8 .5 3 .8 3 .4 3 .4 3 .4 3 .3 3 .5 3 .8 3 .6 3 .3 3 .6 3 .8 3 .8 3"/>
<path stroke="#0072BD" stroke-width=".38" d="M207.9 152.5l1.7 3.4 1.3-8.3M207.9 150.9l1.1 8.7 1.9 .6M207.9 171l2.1 1.9 2.2-5.9 2.4 .5 2-5.8 2-.4 1.4 6.3 1-7.6 2.1 .4 2.3 .2 1.3 1.7 1.5-7.8 1.7-1.9 2 .9 2.2 3.5 1.6 4.7 1.8 4.9 1.6-1.8M207.9 175.4l1.4 2 1.4-7.4 2.3 11.8 1.9-4.3 1.1 .3 2.2 0 1.5-5.3 1.5-.8 1.4 2.2 2.2-5.2 1.5 6.1 2.4 .7 1.5-1.1 1.8 3.2 1.4-1.9 2.1 4.4 2.1-2.3 1.6 3.1 1.5 4.8 2.3-7.2 1.8-1.5 2.4-1.6 2 4.8 2-.4 2.2 4.6M207.9 171.6l1.8-3.4 1.9 .1 1.1-.7 2 .5 1.1 2.7 2.1-2.4 2.2-1.8 1.8 2.3M207.9 159.5l2.3-4.4 1.8 4.7 1.8-6.2 1.1 5.7 2.3 1.2 2-3.1 1.2 10.5 1.4-5.4 1.3 1 1 3.3M207.9 143.7l1.1-.7 1.1-3.1 1.6 .1 1.1 5.5 2 5.5 1.3-5.3 2.1 .1 2.3-3.8 1.1 .8 1.7 5 1.1-9.4 1.6 4.1 2-1.3 1 1.2 1.1-.8 1.8-.6 2-2.6 2-2.4 1.8 3.4 1.6 .2 2.1 1 2.2-4.9 1 8.1 2.1-2.6 2.4-1.1 1.4-4.8 2.1 1 1.8 2.3 1.3-7.7 1.7 1.6 1.3-.4 1.3 1.7 1.2 .6 1.1 3 1.6-5.2 1.3 6.1 1.6-.2 2.4 .2 2.2-3.2 1.4 3.5 1.8-4.3 1.6 2.3 1.3-1.3 2.1 4 2.1 .7 1.8-.7 2-2.3 1.4 6.7 1.7 2 1.1-6 1.9 9.6 2.2-4.8 1.5 6 1.5-4.7 1.9 1.6 1.6-1.2 1.4 5.2 1.5-1.6M207.9 172.3l2 2.8 2.3-.9 1.3 3.9 2.1-3.9 1.3 3.2 1.6-.1 2.3 4.3 2 .3 2.2 .9 2.1-1.9 1.9-1.9 2.2-.9 1.1 .8 1.4-3.9 1.5-3 1.7-5 1.9 1.7 1.5 .5 1.9-3 1.7-3.7 2.3 8.4 1.9-2 2.4-.2 2.1 2.2 1.4 3 1.2-1.9 1.9 3.2 2.1-2.2 2-.3 2 2.4 2.2 2.3 2-2.6 1.4-4.1 1.6 6.8 1.2 2.6 1.4-1.8 2.2 2.7 1.7-4.1 2.1-.9 2.1 .1M207.9 142l1.7 .4 2 2.7 1.1 5.3 1.4-.5 1 2.2 2.3-2 2.3 3.8 2 2.9 1.8-2.1 1.5-.1 1.9-2.3 1.3 2.3 2.1-3.5 2-6 2.3 .2 2.2 3.4 1.1-2.2 1.9-2.6 2.3 1.3 1.3-1.7 1.3 4.7 1.7 .3 2.1-5.2 2.3 10.6 1.3 .7 2-2.3 2.4 1.2 1.9-.6 1.8-.4 2.1-6.7 2 6.2 1.2-1.3 2.1 .6 1.2-.5 1.3 3 2.2-1.6 1.1-4.9 1.5 9.3 1.7-8 1.9 4.8 1.9-.8 2.2-.9 1.4-3.7 1.1-2.2 1.8-.5 1.5-2.2 2.4-2.1M207.9 181.2l1.6-1.1 2.1 5.6 1.2-5.8 1.6 6.3 1.1-6.6 2.1-.2 1.8 3.7 1.5-8.1 2.3 1.9 2.3-8 2 8.2 2-4.4 1.7 .4 1.9 3.3 1.4-5.5 2.2 2.3 1.6-1.2 2 3.1 1-2.9 1.2 4.4 1.3-3.2 1.8 5.6 2-4.9 1.5-1.3M207.9 178.3l1.3-1.6 1.3 .2 2 3.4 2.3-4 1.2 .1 1.8 2.4 1.5 5 1.9-5.9 1.6 1.8 1.3-.4 2.1 1.5 1.2 3.6 1.1-4.3 2.3-2.9 1.2-1.4 1.2 5.2 1.5-5.7 1.7-1.9 1.3-2.5 1.2 4.1 1-3.9 2.1-1.7 1.5-1.7 1.1 4.5 2.3-6.7 2 3.1 1.2 1.9 1.2 .2 1.6 3.3 1.4-.3 1.7 1.1 2.4-9.3 1.3 .5 2.2 4.7 1.2-5.8M207.9 165.1l1.1-1.5 1.2 1.2M207.9 152.5l1.6-4.2 1.6 3.2 1.2 1.6 2.2 4.1 1.4-1.1 1.4 .6 1.8-1.7 1.1 4.7 1.1-5 1.2 5.2 1.8 2.1 2.2 .6 2.2 4 1.3 .3 2.2-5.2 1.5 9.1 1.7-5.6 1.3 3.8 2.4-3.5 1 5.8 2.1 3.9 2 4.3 1.8-3.9 2.1 .2 2.3-.5 2 .5 1.6 .2 2.3 2.8 2.1 2.9 2.2-4.7 2.3 4.8 1.5-5.8 1.2 1.9 1.1-4.5 1.2 .1 1.2 2.3 1.4-.1 1.8-.9 1.6 4.8 2.2-4 1.5-.1 1.4-1.5 1.8 1 1.3-5.4 1.9 2.4 1.9-3.4 1.7-.3 2.2-6.9 1.9 1.9 2.4-6.8 1.3 7.2M207.9 162.8l1.2 .7 1.5-5 1.2 7.6 2.1-3.4 1.8-1.6 2.2-3.2 1.8 1.4M207.9 169.5l2 2 1.1-2.4 2.1 .2 2.2-1.8 1.6 .6M207.9 154.7l2.2-5.1 2.1 3 2.2 9.2M207.9 194.3l1.5-5.1 1.6-5.2 2 1.5 2.4 7.1 1.1-3.3 1.5 1.6 2.2-1.1 1.2 3.3 1.4-1 2.1-.5 2.1-2.6 2-2.9 1.1 4 1.5-7.6 2 6 2.3 1 2.2 2.6 1.1-.5 2.3-1.2 1.3 1.1 1.7-1.7 1.2-3 1.8 3.3 1.3-7.9 1.5 5 1.7-2.7 2-5.3 1.1 9.5 1.8-9.2 2-.5 1.3 1 2.1 1.5 1.6 2.9M207.9 152.8l1.8 9.4 1.5-8.4 1.4-1.6 1.2 2.9 2.4 2.8 2 6.9 1.6-7 1.3 1 2.2 .9 1.8-1.2 1.7 .5 2 2.1 2.2 .7 1.7 7.6 1.7-6.7 1.9-4 1.1 8.6 1.6-2 1 3.4 2.1 3.7 1.9-10.6 2 6.8 2.2-6.9 1.9-.2 1.2 1.6M207.9 169.4l1.2 2.2 2-1.5 1.2-.6 1.8-3.8 2 2.7 2-7.9 2 3.5 2-2.6 2.2 4.7 2.1-1.2 1.5 8.1 1.4-3.2 1.6 .3 2.2 1.7 1-.7 1.9-2.9 2.3-1.8 1.1 1.2 1.7-1.6 1.1 1.9 1.9-6.7 1.6 5 1.9-6.3 1.3 1.4 1.2-5.8 2 4.6 1.5 3.4 2-4.8 1.9-.2 1.2-2.1 2.2 3.3 1.3-4.1 1.8-.5 2.2-1.6 1.2 7.1 1.7-8.6 1-.3 1.7 3 2-.4 2.4-1 1.3-3.7 2.1 1.3 1.4-2.1 2.2-3.3 1.1 4.1 1.7-3.1 1.2 .3 1.7 6.8 1.6-2 1.9 3.9 1.6-2.6 1.4 7.4 1.2-1 1.3 9.3 1.7-2.2 1.7 3.3 1.4 1.2M207.9 154.6l2.2-1.1 2-1.6 1.9 3.9 2.1-1.7 2.1 0 1.8 9.1 2.1-2.7 1.5 4.3 1.4-6.1 1 .8 1.1-1.6 1.6 1.3 1.3 4.7 1.6-4.3 2.4 6.9 1.9-6 1 2.3 1.7 3.3 1.4-3 2.3-.9 1.7-1.1 1.4 1.4 1.7-3.3 1.9 3 1.9-2.8 2-3.4M207.9 169.8l2.1 .3 1.3 1.7 1.3 5.9 2.3-5.6 1.9-1.5M207.9 174.1l1.7-8.3 2.2 3.1 1.9-2.4 1.5 1.2 2.4-.7 1.2-2.6 1.1 5.4 2.2-5.3 1.8 1.5 2.3-3.4 2.2-.4 1.8-5 1.9 .9 1.1-2.3 1.9-1.8 1.8-4.3 2.2 .7M207.9 167.1l2-5.3 1.2-1.2 2.2 2.7 2.4-4.8 1.2 2.2 2.1 5.6 2.4-8.7 2.1-1.7 2 2.4M207.9 161.3l1-4.4 1.7 4.3 2-2.1 1.2 0 2.3 3.1 1.7-2.4 1.6-1.9 1.8 2.3 2-1.4 1.6 2 2.1-1.4 1.2-1 1.2-3.5 2.2-2.3 2.3 3.4 1 2.4 1.3-2.6 1.6 4.9 1.9 1.6 2.2-1.3 1.9 3.8M207.9 171.7l2-4.4 1.2 2.9 1.9 3.3 1.4-5.7 2.1-2 2.2-1.8 1.1-.7 2.4-3 1.9 1.5 2.3 .9 2.2-2.3 1.3 3.8 2 1.5 1.6 1.2 1.4 2.9M207.9 158.9l2.3 6.8 2.1-.1 1.8-.3 1.1 .7 1.6-1.4 1.6 3.7 2.1-3.8 1.6-4.7 2.1 4.3 1.8 4.9 1.1-3.8 1.6-1.4 1.4-2.4 1.1 .5 1.2 .1 1.8-4.4 2.1 2.9 1.5-3.8 2.2 9.9 1.9-8.1 1.8 2.1 1.3-.9 1.4-3.2 1.4-2 1.2 4.8 1.7 5.2 2.1-1.7 2 4.5 1.4-3.7 2.1 1.1 2.2-2.9 2.3 4.9 1.8-1.6 2-1.7 2.1 3.7 1.1 2.2 2.1 3.6 2.2 .7 1.1 1.8 2.3-1 2.3-2.6 2.3 1.2 1.6 3.6 2.1 2.7M207.9 179.1l1.6-5.3 2.2 .5M207.9 188l1.1 1.2 1.8 2.7 1.8-1.9 2.3-1.4 2.3 3.5 2.3-.7 1.9-1 1.7-2 1.4 1.1 1.5-.6 1.1-2.2 1.5-7.7 1.8 8.8 2.1-7.6 1.2-2.4 1.2 1.9 1.2-.8 1.6-2.2 1.4-3.5 2-.3 1.9 3.6 1.2 2.3 2.2-3 1.6 .8 1-1 1.2 1.3 2-3.2 2.1 3.3 2-.1 1.8 4.4 1.5-6.7 2 4 1.1 2.8 1.9-6.8 1.5 5.2 2-1.8 2.3 2.6 1.6 .4 1.5 4.7 2.3-7.4 1.4 7.2 2.1-4.4 1.4-6.5 1.6-.4 2-1.5M207.9 163.5l1.5-.4 1.7-1.6 1.9 1.2 1.8-4.5 1.9 4.4 1.2 1.5 2.1 2.5 1.8 1.1 2.4-.6 2-3.7 2.4 3.1 1.4 2M207.9 188.3l1.9 5.9 1.8-4.7 1.8 5.1 1.2-3.3 1.2 3.2 1.1-1.4M207.9 168l2 .1 1.3 2.1 1.8-1.9 2-4 1.1 4.5 2-.2 1.7 2.2 1.1 2.4M207.9 160.4l1.3 3.6 1.3-2.4 1.8-1.1 1.7-1.4 1.4-1.3 1.3-1.4M207.9 142.4l1.2-.7 1.1 1.4 1.6-2.1 1.5 1.6 2.1 4.9 1.5-1.2 1.2 4.5 1.5-1.4 2.1 4.9 1.1-4 2.3 .7 1.4 2.9 1.3-1.3 1.8 2.3 1.1-.4 1.3 .4M207.9 168.8l2.3 1.8 1.2-2 2.2 3.3 2.2-4.7 2.2-1.3 1-7M207.9 161l1.7-.6 1.7-.5 1.9 9.7 1.5-2.9 1.9-3.7M207.9 184l1.1-1.9 1.3 1.4 1.8-4 1.8 6 1.6-4.3 1.4 .8 2.3-4.2 1.8 3.3 1.5-2.8 1.8-2.8 1.2 1.7 1.9-1.6 1.8 .6 1.8-2.6 1.4-5.2 1.7 6.2 2.3-.5 1.3 1.1 1.6 1.2 2 .1 1.4-1.2 2.2 .2 1.9 1.9 1.5 1.1 1.6-.9 2 1.1 2.3-3.8 2.1-1.9 1.2-3.3 1.7 1.8 1.5 .6 2.2 .7 1.8 1.5 2.3-2 1.4-3.2 2 1.5 1.2 1.9 2-1 1.5 3.1 1.9 2.2 1.1-1 2.4 6.9 1.6-9.2 1.9 2.5 2 1.2 1.5 1.5 2.1-6.6 1.4 4.4M207.9 178.9l1.2 3.2 1.5-1.3 1.5 2.1 2.3-3 1.9-1.6 2-2.2 1.2-3.8 1.4-4.4 1.5-1.7 2.1-5 1.3 1.8 1.8 .3 1.7-1 1.4 2.9 2-8.6 1.7 1.3 1.6 .1 1.4-.5 1.1-.3 1.6 2.2 1.2 6.8 1.7-.6 1.1 .5 1.7 .5 1.5-1.7 1.8 2.6 1.9-.7 2.3-1 1.4-.9 2.2-6.9 1 2.2 2 3.1 1.1 8.3 2.4-8.1 1.5 2.3 1.1-.2 1.5-1.9 1.3-2.9 1.8 6.3 1.5 .8M207.9 184.4l1.1 2.8 2.2-8.9 1.6 5.9 1.8-5.5 1.6-3.4 1.5-2.1 1.7 4 1.7 5.2 2.2-1.7 2.1-3.5 1.8-2.4 1.2 .3 2.1 1.8 1.5 4.6 1.4-3.9 2.3 2.6 1.6-4.9 1.7 1 1.2-2 2.2-5.4 2.2 4.7 1.7 1.4 2.1-1.8 1.6-2.1 1.8-2 1.3 4.5 2.3 4.3 1.4 6.3 1.5-.7 1.3 1.3 2.3 1.6 2-2 1.8-2.3 1.1-1.7 2.3 3.7 2-1.3 1.2 2.9M207.9 172l2.1 3.1 1.1-2.3 2.2 2.4 2.1-4.4 1.1 2.8 2-4.6 2.1 4 1.9-5.8 1.1-.1 1.5 .7 2.3 .9 1.2-2.4M207.9 168.4l1.8 1 2.2-2.1 1.4 5.3 2.2-2.4 1.3-3.4 1.3 1.6 1.7 .5 1.6-2.1M207.9 169.5l1.8 0 2.2 5.1 2.3-.6 2.2 .6 2.2 1.9 2 .5 1.2-5.1 1.1-1.7 1.1-1.9 2.3 6.4 1-.6 1.4 4.1 1.6-3.7 1.8 2.9 1.8-1.9 2.1-3.6 1.5-.2 1.8 .2 2-.9 1.4 1.3 1.8-6.5 1.3 3.5 2.3-.3 1.6-2.1 2.3-.3 1.5-4.5 2.3 6.1 1.9 .1 1.7-.6 2.1-3.3 1.2 8 1.1 1.4 1.8 .4 2.1-2.5 2 .5 1.1-1.3M207.9 174.5l2 1.1 2.3-2 1.5 6.8 1.3-1.5 1.8 3.4 2 3.9 1.1-2.8 2 1.4 2.2-1.5 1.7 3.2 2.3-5.5 1.3-.2 1.8 .6 1.7 6 1.1-6.5 2 4.9 2.1-1.7 2-.2 1.4 6.3 2.3-3.8 1.7-1.7 2-8.1 2 .7 1.2 2.6 1.2-8.9 1.2 5.3 1.9-1.4 1.1-3.4 1.9 1.6 1.7-2.3 2.3 1.2 2.1 1.4 1.6 2 1-2.1 1.9 1.6 1.2-.2 1.1 1.7 1 4.3M207.9 157.3l1.5-1.3 1.1 3 1.6 2.2 1.7-.5 1.5 .2 2 3.5 1.2-4.9 2.3-2 2.1 2 1.7-.3 1.7-2.4 1.7-.2 2 1.2 1.3 .7 2-4.4 1.9 6.2 1.7-1.8 2.3 2.4 1.1-7.9 2.1 2.8 1.8-3.4 1.3 .4 2.1 1.7 2.3 2.7 2.2-4 1.9 1.7 2.2-3.8 2.3 1 1.6 .1 1.7-3.4 2.2 7.6 1.9-6.5 2-.5 2.1-4.3 1.5 3.1M207.9 178.7l1.9-1.4 1.2 .6 1.3 5.7 1.6-4.2 2-1.8 1.1 .6 1.7-1.2 1-4.1 1.5-1.7 2.3 2.3 1.6-.8 1.3-3.8 2.2-4.5 1.6 3.8 1.1-4.7 1.3 6.3 1.7-4.7 1.6 3 1.8 3.2 1.2-1.8 1.3-1.8 1.6-.3M207.9 164.3l2.3-1 1.9 1.9 1.4-2.4 1.6 2.1 1.7-10.6M207.9 166l1.8 4.6 1.1 2.5 2.1-7.5 2 3.2 2.1-2.4 1.6-2 1.8-.4 1.4-1.2 1.1-4.6 1.4 .5 1.8 2.2 1.4-5.2 1.2-.1 1.1 4.4 2.4 .7 2.2 3.3 1.3 4.1 1.4 1.7 1.3 1 2.3 1.2 2-1.2 1.2-1.1 1.7-4.8 1.7-.1 1.7 6 2.3-6 1.2 2 1.7 .1 1.7 3.9 1.2 2.5 1.3 .8 1.6-1 1.7 5.9 1.8-1.3 1.1 4.4M207.9 185.7l2.1-2.1 1.3-2.6 2.3 5.9 1.3-1.6 2.4-1 1.4 2.5 2.1-7.4 1.4-3.6 1.7 8.7 1.8-10.2 2.4-.2 1.9-1.5 1.6 3.8 2.3-2.1 1.5-3.4 1.9 3.7 1.7 5.1 1.9-5.8 2.2 7.9 1.9-2.5 1.3-6.7 1.9 9.8 2.1-4.8 2.3-.1 2.2-4 1.1 3.4 1.7-6.2 1.7 6.7 1.9-2.8 1.6 6.4 1.3-1 1.4-3.3 1.6 5.7 1.7-2 2.2 4.3 1.3-5.7 1.1-1.2 1.4-2.2 1.1 4.5 2.3 .1 1.8-4 1.4 1.2 2.1 1.4 1.8-7.2 2 7.1 2-.2 1.2-.2 1.8 4.3 1.9 1.2 2-.2 2.3-4.5M207.9 158.1l1.2-2.6 1.5 6.6 2.3 .2 1.9-2.3M207.9 158.8l1.2 4.5 2-1.2 1.6 2.2 1.7-.9 2.1-2.9 1.3 6.5 2.3-6.5 1.7 5.2 1.1-3.3 1.9-2.4 1.2 6.3 1.4-3.3 1.9-.2 1.8-.3 1.8-4.8 1.2 1.6 1.5-4.4 1.4 .9 1.9 4.4 1.6-2.3 2.1-5.1 1.4 4.2 2.2-7 2 4.7 1.6 .2 2.3 4.5 2.3-6.6M207.9 173.6l1.8-3.3 1.3-2.6 1.9 3.8 1.5 3.9 2.2-5.8 1.3 2.1 2.2-1.7 1.5-2.6 1.8 7.1 1-3.6 1.5 1.7 1.2-7.1 1.2 5.5 2-1.8 1.1-1.1 1.3-5 1.4-.6 1.5-1.2 1.7 1.3 1.8-.4 1.2-3.8 1.4 5.1 1.3-2.4 1.6-.8 1.4 2 1.7 .9 1.8-.3 1.2-1.4 2.4-1.9 1.7 1.1 1 2.9 1.9 3.6 2.1-1.5 1.6-2 1.3 2 1.9 .8 1.4 1.7 1.6-8.1 1.6 6.5 1.9-3.2 1.6 4.2 1.5-4 1.1-2M207.9 174.3l2.2-2.5 2 3.4 2-4.3 1.5 1 1.4-3.4 2.2 4.5 2-2.7 1.3 .2 1.3 2 2.1-4.2 1.9-5.1 1.4 .4 1.3 4.1 1.2-5.3 2.4 2.1 1.8 3.4 2.1-5.2M207.9 171.7l1.8 1.8 2.1 .4 2.1-4.4M207.9 157.8l1.2-.3 2.1-4.9 1.4 2.4 2-2.2 2.3-2.7 2.3 1.7 1.4 6.1 2.2-1.1 1.4 6.3 1.8-3.7 1.4 2.2 2 5.6 2-7.5 1.2 5.5 1.2 1.5 2-.9 1.2 1.7 1.3-2.4 1.8 6 2-2 2.2 3.3 1.7 1.2 1-.2 2.4 3.2 1.8-5.1 2.3 8.4 1.8-6.2 1.1 2.5 1.3-.9 2-3.4 1.5-5.1 1.7 3.5M207.9 161.7l2.1 .2 2-3.6M207.9 179.3l1.3-2.8 2.1 4.8 2.3-5.4 2.2 2.3 1.6-4.2 2.4 .7 1.8-2.8 2 .9 1.2 1.6 1.4-.1 1.7-6 1.4 2.6 1.2-1.1 2.3 2.9 2.2-9.1 1.5 4.2 2.3-.1 1.4 6 2.1 1.4 1.1 .6 1.3-1.1 1.2-4.2 1.6-2.5 1.9 4.6 1.7-4 2.1 1.6 1.6-1.2 1.9-3.4 1.1 .9 1.5-4.6 1.4-.8 1.3 3.5 2.2-.2 1.6-.5 1.3-.5 2.3-.9 2.2 .1 2.3-3.3 1.8 3.3 2.1-.2 1.7 5 1.5-.8M207.9 154.1l1.5-.2 2 2 2.2 .3 1.5 3 1.4-3.7 2.2-4.6 1.6-.8M207.9 161.7l1.7-4.9 2.2-.9 1.5-5.6 1.3 5 1.5-3.9 2.2 3.3 1.9-2.3 1.3 .3 1.4-1.6 1.5 7.9 1.6-2.3 1.1-2.1 1.4-2.1 1.8 3.4 1.2-3.4M207.9 170l1.2 2.1 2-3.9 1.7 .6 1.9-3.7 1.2 2.7 2.3 1.5 1.6-1.6 1.4 4.9 2.1-7.1 1.2 9.5 1.5-.7 2.3 .9 1.1-3.4 2.4-1.3 1.4-6.3M207.9 160.9l2 3.2 2.2 2 1.8-1.7 1.2 3.4 1.1 3.3 1.3-.2 2.1 .9 1.3-2.9 1.3-3.6 1.5 1.6 2.1-5.7 1.9 2.9 2.3 5.1M207.9 176.5l1.2-2.8 1.7 7.5 1.5-1.6 1.8 .9 1.7 2.4 1.6-2.9 1.9 0 2.2 4.1M207.9 189.7l1.6-.3 1.1 .5 1.1 .3 1.7-.3 1.7-3.2 1.6 .3 1.3-3 2.3-3.8 1.1-2 1.9 5.8 1.8-4.2 2-.1 1.3 5.6 2.3-1.9 1.1 1.5 1.7-3.6 1.1 .2 2.2-.4 1.9 4.2 1.6-.9 1.2-2.6 2.1-2.1 1.7 1.2 1.3 .5M207.9 169.1l2.3 2.8 1.4-.7 2.1 2.6 1.6 1.6 1.1-5.7 1 1.4M207.9 144.7l1.1 2.5 1.2-1 2 .1 1.5 5.9 2.3-.6 2.2-.8 2.3 1.5 1.7 3.6 1.6-10.1 2.1 10.2 1.3 2.8 2.1-5.9 2 3 2.1-5.1 2.1 1.7 2.2-1.2 1.1-.8 1.8 .8 1.3 1 1.9-3.8 1.6-.9 1.7 1 1.6-.1 1.9-5 1.2 3.2 1.9-1.5 1.2-3.9 2.3 1.7 1.9 .7 1.8 2.4 1-1.7 1.2-3.9 2.3 4.2 1.5 .4M207.9 165.4l2.1 6.6 1.6-1 2.1-7 1.4-.2 2.1-2.8 1 5.9 1.4-1.3 1.6 .7 1.9 .7 1.9-2.2 2.3 7.9 1.9-3.7 1.2-2.6 2.1 .5 1.4-1 2 2.2 2.3 2.2 2.4 2.8 1.7-3.6 2.2 5.4 1.5-3.9 1.5-.7 2.2-.5 1.3 .2 1.4-5.9 2.2 3.3 1.3 4.3 1.6-6.8 2 .4 1.1-.7 2.1-4.8 1 2.3 2.4 1.4 1.6 1.4 1.5 5 1.7-5.2 1.9 1.8 1.1 1.4 2.3 3.5 1.4 2.1 2-3.2 1.5 4.7 1.2-1.7 2-4.1 1.4-.8 1.7 1.9 2.1-3.9 2.2-3.8 1.9 .9 1.8 .1 1.6-4.1 1.2-2.7 1.7 1.6 2.3 .4M300 165.4l.9-1.7 1-.8 1.4 2.4 1.5 1.5 .8-2.2 1.2-.2 1.2-.4 1.6-1.9 1.3 1.5 .8-1.2 1.2-.3 .8-4.6 1.6-.3 1.2 .3 .8 .1 1.1 .6 1.2 .4 1.3-2.7 1.1 .7 1.3-.3 .8-1.5 .9-.9 1.4 1.4 .7 1.7 1.5 .5 1.3 1 1.4-.7 .7-1.5 1 1.2 1.3 3.4 1-1.4 1.3 1.5 .7-.2 1.2 2.4M272.5 97.5l1.5-1 1.5 .5 1 3 .5 6.5M255 190l3 4 3 3 3 4 2 4 2 3"/>
</g>
<rect x="207.9" y="18.9" width="144.29999999999998" height="202.1" fill="none" stroke="#c2c2c2" stroke-width="1.15"/>
<path d="M231.9 221.0v-2M256 221.0v-2M280.1 221.0v-2M304.1 221.0v-2M328.1 221.0v-2" stroke="#c2c2c2" stroke-width=".8" fill="none"/>
<clipPath id="cpE"><rect x="364.7" y="18.9" width="144.3" height="202.1"/></clipPath>
<g clip-path="url(#cpE)" fill="none" stroke-linejoin="round" stroke-linecap="round">
<path stroke="#0072BD" stroke-width=".38" d="M364.7 177.5l1.9 .3 1.6 2.7 1.9 1.4 2.1 .6 2.1-4.2 1 6.6 1.4-.1 1.1-3.4 1.5 3.9 1.7 5.8 2.1-1.2 1.4 4 1.2 .9 1.6-7.6 1.9 6.5 2.1-3.1 1-2.5 1.5 2.5 2.2 .2 2.1 1.4 1.8-2.4 1.1 1.1 1.5 3 2 .2 2.2-.7 1.8-.2 1.8 .5 1.7-1.4 1.6-.2 1.9-6.6 1.8 1M364.7 184.5l1-4.3 2 7.4 1.8-5.6 1.6 4.1 1.9-4.6 2.1 3.7 1.5-2.9 1.6 2 1.6-5.8 1 3.9 1.5 1 1.1 3.4M364.7 175.7l1.3 .1 2 3.5 1.9-1.2 1.6 .7 1.1 2.5 1.3-3.3 2.1-.4 1.5-5.9 1.6 6.9 1.2 1.1 1.9-.7 1.8-3M364.7 187.3l1.6-2 2.1 3.4 1.2-.1 1 .8 1.8 .9 1.1-.2 1.5 .3 1.7-.1 1.3 3.3 2-3.8 1.3 .2 1.3 2.2 2-6.4 1.1 .1 1.4-.4 1.9 2.5 1.4 0 1.9-3.4 1.1 4.1 2-3.4 1.3-4.2 2.1 1.7 1.8-6.2 1.7 3.4 1.8 2.5 1.4-2.3 2.1 2.6 1-3.8 1.3 1.9M364.7 188.3l1.8 4.8 1.7-7.4 1.2-.4 1.1 2.4M364.7 175.8l1.2 1.9 1.3-2.9 1.9 3.3 1.9-5 1.4-1.3 1.3-1.1 2.2 3.3 1.1 1.8 1.7-.3 2 6.4 2.3 5.9 1.3 .8 2-5.4 2.1-1.5 2.1-1.7 1.3 7.9 1-7.3 2 4.7 1.9 .4 1.4-2 1.9-1.6 1.8-1.4 1.3 .6 1.3-.9 1.9-3.4 1.8 .6 2 1.1 1.4-.9 1.2 4.9 1.6 2.8 2.2 1.2 1.6 2.7 1.4-1.6 1.4 1.8 1.1-3.1 1.1 1.7 1.1-7.9 1.7-2.8 1.5-2.1 1.8 4 2 2.5 1.4-7 2.2 2.9 1.9 3.7 1.6 6.6 1.6-2.2 1.2 2.7 1.5-2.9 2.3 5.4 1.8-.1 1-1.2 1.7 1.4 1 2.4 1.7-1M364.7 178.4l1.2 .1 1.1-2.1 1.6 0 1.8 9.1 1.9 .7 1.9 2.7 1.1-6.3 1.7-2.4 1.1 2.9 1.1 3.5 1.7-2 1.7 .6 1.8 0 1.6 1.6 2.1-2.5M364.7 190.1l2.2 .3 1.8-4.5 2 5.8 2-.3 1.7-4.9 1.1-.5 1.1 .6 1.6 2.2 1.2 1.1 1.7 1.3 1.8-5.2 2.1 7 1-7.4 1 2.5 1.8 7.5 1.8-3 1.7 .2 1.3 1.1 2 .8 1.4-3.5 1.1-2.2 1 5.1 2.2-9.5 1.1 1.9 2.1-1.5M364.7 184.7l1.9-.8 1.6 .9 1.2-.6 1.6 3.3 2.3-1 1.3 1.7 1.6-1.4 2.1 2.6 2.1-2.4 1.9 1.1 2.1-.7 2 4.1 1.3 1.9 1.4-5.6 1.1-2.7 1.7 2.7 1.6-6.1 1 .5 2.2 .1 1.1 .1 1.5-2.3 2.2-1.1 1.5-6.7 1.6 4.1M364.7 190.7l1.9 4.2 1.5-1.1 1.5-.3 1.6-1 1.8 2.3 1.9-10 2.1 1.4 2.2-5.6 1.9-3.1 1.1 3.1 1.7-4.3 2.1 2.8 1.1-.4M364.7 186.7l1.6-3.3 2-.4 1.5 7.6 1-8.6 1.6 2.5 1.3 1.9 1.3-1.5 1.4-1 1.4-2.8 1.6-4.4 2.1 1.3 1.3-5.2 1.5 1.4 1.4-2.4 1.9-2.5 1.3 1.8 1 1.9 1.6 3.9 1 1.2 2-4.7 1.3 1.6 1.8 2.8M364.7 188.5l2-6.3 1.4 9.4 1.9 2.9 2.1-6.1 1.1 4.3 1.9-3.1 1.6 2.2 1.6 5.8 2.1-.1 1.7-3.7 1.4 .6 2 2.3 1.8-4.3 2.2-1.7 1.7 5.7 1.1-2.5 1.5-10.5 2.1 1.1 1.6 2.2 1.8-8 1.5 5.8 1.2 2 1-7.9 1.2 5.6 1.2-9.4 2.2 .1 1.6 9.2 2.1-6.5 1.9 2.6 1.6 0 2.1-2.7 2.3 3.3 1.3 2.1 1.3 .4 1.6-4.6 2.1 6.1 2.1-1.7 2-1.8 1.6-5.8 1 3.2 1.2-2.4 2.2 3.8 1.4-.6 1-2.8 1.4-7 2.2 6.7 1.4-5.7 1.3 .9 1.2 .7 2.1-3.8 1.2 3.7 2.1 1.7 1.1 1.8 2-.6 2.2 1.7 1.4-4.2 1.4 2.1 2 2.5 1.9 .7 1.2 2.3 1.5-.7 2.3-1.4 .9 3.8 2.1-1.5 1.7 4.8 1.9-3.1 1.2-4.9 1.1 4.8 1.4-4.7M364.7 178.6l1.3-.1 1.7 .7 1.8 3.3 1.3 4.7 1-3.5 2 1.6 1.4 .4 1.6-3.9 1.3 .7 1.6 5.5 1.9-1.8 1.9-3.2 1.1 4.3 1.5 4.1 1.3-7.3 1.6 6.7 1.2-1.2 1.3-2.3 1.8-3.3 1.1 2.1 1.1-2 1.4-4 2.2 .3M364.7 181.3l1.9 1.5 1.7 7.9 1.5-4.7 1.6-2.6 1.8 1.4 2 1.3 1.9 .5 2.1-1.7 1.6 4.2 1.3 .7 1.7 6.5 1.3-5 1.6 1 1.3-1.5 2.2 2 1.3-5.1 1.4-.6 1.4 4.4 2.1-2.3 1.9-4.5 2 .2 1.7-.9 1.8 2.6 1.5-3 1.5 1.8 1.7-2.9 2.2-5.2 1.5 2.4 1.7-1.5 1.4-1.3 1.1-3.6 1.7 .9 2.2-4 1.1 .9 1 4.4 1.4-1.7 1-2.8 1.7-1.5 1.8 3.4 1.1 1.4 1-.6 2.1 2.3 1.7 .5 1.4-1.1 1.8-2.2 1.1-1.5 1 2.1 1.2-.1 2 4.6M364.7 184.5l1.9 4.2 1-5.8 1-3.8 2 2.9 1.9-1.3 1.6-.5 1.5-4.1 1.7 4 1.7 .4 1.9 3.9 1.7-6.3 1.5 3.5M364.7 181.1l1.1 1.2 1.2 1.3 1.7 1.5 1.3-4.7 2.2-3.1 1 1.8 1.4 1 1.3-8.3 2 .1 1.9 2 1.4-.2 1.3-8 1.6 5 2.1 4 1.5 1.2 1.6-.7 1.6 3.1M364.7 187.9l1.9-2 1.8 1.1 1.4 2.1 1.4-5.5 1.3 9.7 2-8.5 1.4-3.1 1.4-4.3 1.5 6.8 1.1-3.3 2.2 2.8 1.4 3.9 1.3 5.5 2.1-1.8 1.3 4.8 1 .2 1.7 .4 1.1-4.4 1 0 1.6-2.2 1.3 1.3 1.1-4.9 1 6.6 1.3-2 1.2-1.4 1.2-.2 1.7 2.1 2-4.2 2.3 3.3 1.2-1.9 2 4 1.4 .8 1.9-.2 1.2-1 1.4 .2 1.2 2.2 1.8-6.6 1.1 5.3 1.5-4 1 5 1.1 .3 2-6.5 1.2 2 1-1.3 1.2-3.8 1 3.9 2 1.5 1.3 .7 2-1.7 1.3-.6M364.7 170.6l2.2 4.6 1.6-3.5 1.1 2.2 2.2 4.8 1.3-6.7 1.7 7.9 1.6-2.8 1.9-1.8 2 .1 1.6-3.2 1.8 4.4 1.7 4.1 1.4 4.3 1.2-2.3 1.5 2.5 1.5-4.1 1.4 5.3 2.1-3.4 2.2 .7 2.2-2.8M364.7 177.7l1.2-4.7 1.7 2 1.2 .4 2.2-3.3 1.3 .8 1.1 1 1.4-1.6 1.3 1 1.3 2.7 1.8-.4 1.8-.8 1.4 6.4 1.9 .9 1.8 6.5 1.3 3 2.1-2.3 1.7 6.9 1.6-7 1.7 1.3 1.1-6.8 1 5.7 2 3.9 1.6-5.3 2 2.2 1.2-3.7 1.2-.5 1.9-2.3 1.5-.7 1 1.9 2.1 2.3 1.3-1.4 1.8-1.6 1.9-3.6 1 .8 1.6-3 1.9 4.9 2.1-8.1 1.7 1.8M364.7 186.1l1.3 .6 1.2 .8 1.1-3.6 2.1 2.3 1.1-1.4 1.1 .4 1.1 3.5 1.9 2.8 1.7-.8 1.1-3.5 1.6 1.9 1-.2 1.8 .9 2.1 1.3 1.3 2.7 1.3-.2 1.6-5.7 1.6 4.1 2.1 4.3 1.7-4.3 2.2-2.7 2.1 1.8 1.1 .8 1.5 2.9 1.5-.8 1 1M364.7 182.2l1.6 5.9 1.7-3.4 1.3-1.5 1.8 .8 2 .4 2 .2 1.4 .4 1.5-3.9 2.2 .3 1.2-1.1 1.1-3.7 1.9 3.2 1.9-.2 1.1 8.1 1.6-2.7 1.6 1.6 1.2-2.8 1.3 3.3 2.2-4.7 1.7-2.4 1.9 3.7 .9-3.6 1.3 .9 2-4.1 2 3.4 1.2-.3 1.2 2.4 1.7-1.6 2.1 .6 2.2 3 1.6-2.3 2.1-3.6 1.1 0 2.1 3.3 2 1.1 1.7 3.8 1.8-7.1 1.6-.5 1.4 5.2 1.8-.3 1.5 1 2.1-2.2 1 2.1 1.9-7 2.1 5.1 1.2 .8 1.1 .3 2 4.3 1.6-1.6 1.2-5.1 1.3 5.2 1.2-1.5 2.3-1.2 2-4.5 2.2 2.2 1.3 .7 2.1 6.9 1.8-2.1M364.7 188.5l1.2 3 1.4 2.7 1.9-3.5 1.3-.7 1.4 1.7 1.7-4.2 .9-2.9 2.2 1.7 1.8-3.7 1.8 0 2.1-5.2 1.8 1.4 1.8 1 1.1 .6 1.9 1 1.9 1.4M364.7 178.8l2.1 2 1.5 4.7 2 2 1.5-.6 1.7 4 1.2 2.8 1.2-.7 2-2.2 1.2 1.4 2.2 .1 1.1-.4 1.6-3.2 1.9 2.3 1 1.9 2.2-.2 1.1-3 1.8 2.4 1.9-.6 1.8 .6 1.4-2.1 1.1 .4 2.1-4.6 1.9-.1 2.1-.8 1.9 .1 2.1 1.3 2 3.8 1-1.5 1.3 1.6 1.5-3.2 1.1-.3 1.2 2 2.1 .3M364.7 188.5l2.1-6.7 1.6 1.2 1.3 4 1.6-6 2 1.8 2.2 0 1.7-1.1 2-.6 2.2-.7 1.1-3.1M364.7 195.1l1.4-5.7 1.9 2.2 1.9 2 1.5-2.5 1.4 1.6M364.7 176.8l2.2 .2 2.2 2.5 2.2 3.1 1 2.8 1.8-3.3 1.3 2.9 1.7 2 2.2-6.1 2.2-3.8 1.5-1 1.5-1.3 1.2-5.7 1.6 2.5 1 3.3 1.9-1.7 1.6 .9 1.7 1.6 1.2-2.5 1.5 7.2M364.7 180.8l1.1-2.1 1.9 3.9 1 6.5 1.2-3 2.2-4.3 2-.4 1.6-1.6 1.4-2.1 1.8 3 1.3 1 2-4.2 1.7-1.5 1.2 6.2 2.1 3.7 1.3-3.6 2 2.4 1.8 3.5 1.7 1.4 1.3 .1 1.1 .3 1.9 2.2 2.2-3.5 1.8 2.7 1.4-2.6 2.1-2.7 1.7 7.8 1.8 .7 1-4.1 1.3-1.2 1.3-.1 1.3-7.8 1.4-2.6 1.3-2.4 2.2-3.6 1.3-1 1.1 .4 1.2 1.3 1.4-3.3 1.8-.2 2.2 .3 1.2 7.9 1.3-4 1.8-2.8 1.8 3.8 1.8 2.9 1.1 .8 1.2 2.5 1.5 .1 2.2-.3 1.4 1.1 1.3-1.3 1.7 1.9 1.9 1 1.9 5 1.3-7.4 2.1 4.4 .9 .2 2.2 2.2 2-2.6M364.7 193.4l2-.3 1.7-4.1 2 .3 2.2 1.1 1.1-7 1.3 7.9 1.2-6.3 1.9 6.9 2 2.5 1.9 1 1.7 .3 1.9-5.9 1.4-1.9 1.4 2.8 1.5-1.2 1.9 2.9 1.3 4.4 1.3-6.8 1 4.9 2.2-2.4 1.8-1.5 2 5.8 1-5.2 1.4 4 2.3-1.9 1 2.3 1.6-8 1.9 6.4 1.9 1.9 1.1-2.5 1-5.4 1.1-1.1 1.3-1.5 1.4 6.4 1.8-1.1 1.6 .7 1.8-.7 1.1 3.5 1.4-4.3 2 4 1.7-8.3 2.3 3.7 1.1 .9 2 3.1 1.5-2 1.2-4.2 1.4-2.8 2.2 3.4 1.7 1.7 1.9-5.5 1.9 2.2M364.7 185.2l1.3-6.5 2.2 5.9 1.7-3.8 1.8 2.3 2-6.7 2 1.7 2.1 2.1 2.1-2.5 1.6 4.5 2-1.9 1.8 4 1.1 .6 1.4-3.3 1.7 .1 2.1 1.6 1.4-.2 1.9 3.2 1.1 .7 1.4-5.1 1.6 11.3 1.7-1 1.6-7.2 1.2 1.6 1.2-.8 2-1.1 1.5 .8 2.1-2.5 2.1 1.2 2 3.1 1.6-6.6 1 .2 1.8 1 2-3.1 2.1 4.2 2.1-.5 1.3-2.7 1.3 4.1 1.8-3.6 2.1-2.3 2 .9 1.7 4.2 1.7-5 1.3 1.5 1.6 3.5 1.6-2.5 1.1-5.7 .9 7.7 1.8-5.7 2.2 2.6 1.8-2.1 2.2-1 1.5 6 1.4-4.6 1.3-.7 1.9 .4 1.9-1.4 1.5-3 1.7-4.2 1.9-1.2 2.1-3.1 1.6 .1 2.2 3 2.1 1.1 2.1 6.2 1.4-7.5 1.8 2.3 2 3.1M364.7 194.4l1.5 2.1 2-2.7 1.5-.3 1 .2 1.1 2.7 1.1-7.4 1.4 7.3 1.2-1.2 2.3 1.7 2.2-4.7 1.9-3 1.4 5.8 1.3-7.1 2.1 1.3 2.1 5.2 1 1 2.1-1.2 1.8-.5 1.3-2.8 1.6-4.4 1.5-3.4 1.1 2.9 1.5-6.4 1.3-6.5 1.9 6.6 1.8 .7 1.3 2.2 1-2.7 1.3 5.8 1 2.8 1.9-.5 2 4.5 1.2 .4 1.4 1.4 1.5-1.9 1 2.4 1 .1 1.7-.3M364.7 198.4l1.4-1.5 1-.8 1.8-1.5 1.3-.9 2.1 2.6 1.2-.2 1.4-1 2.1 2.8 2.1-.4 1.1-5.5 1.3 5.5 2.2-2 1.1 .7 2-2 1-1.3 1-1.3 1.9 5.6 1.8-.1 1.8 .6 1.7-.1 1.7-8 1.5-1.6 1.1-.6 1.5 4.2 1.7-.4 1 .5 1.3-.9 1.5-5.6 1.7 8.8 1.3-4.7 1.5 2.4 1-1.1 1.8-.5 1.4-.4 1.7 .2 1.9-1 1.5-1.6 1.2-1.4 2.1-2.4 1.1 7.6 2.1-6.5 1.9 1.1M364.7 185.9l1 3.5 2.1-4.2 2.2-7.8 2.1 5 2.1 2.2M364.7 180.1l1.4-1.9 1.4 4.1 1.5-1.2 1.2 1.8 1.5-.9 1.7-1.3 2 2.8 1.3-1.6 1.1 2.1 1.1-11.1 2.2 9.6 1.1 1.2 2.1-.2 1.4-1.8 1.6 6.9 1.1-2.5 1.6-4.1 1.7 3.7 2.3-3.1 1.2 3 1.9-1.5M364.7 192.3l1.4-2.5 2.2 6.1 1.3 3.3 1.2-.5 2.2-1 1.9-3.4 1.4 .5 2-1.1 1.3-1.4 1.4 .2 1.8-3.5M364.7 176.7l1-3.1 2.2 1.3 1.1 4.7 1.4-3.8 1.6 4.8 1.5-.5 2.2-3.7 1 2.4 1.9 2.9 1.9-.6 1.9 .6 1.9-3 1-5.1 1.8 1.7 1.1 1.9 1 2.4 1.3 .6 2-.2 2.2-.6 1.1 .9 1.4 1.6 2.1-.9 1.8 1.3 1.5-.8 1.8 2.3 1.6 2.5 1 .8 1.1-1.5 1.6 2 1.6-1.8 2.1-4.6 1.6 4.9 2.1-11.8 1.4 .9 1.8-.9 2.1-2.2 1.5-8.2 1 5.8 1.5-6 1.7 1.1 1.3 6.6 1.7 .4 1.7-2.9 1.1 1.9 1.3-.2 1.3-.5 1.9 2.7 2.2-.5 1.4 .5 1.4-4.4 1.7 9.2 1.2-8.3M364.7 196l1.3 2 1.1-.6 1.8-3.7 1.7-2.1 1.9-5 1.1 .2 1.4 .6 1.6-.2 2.2 .6 1.9 1.4 1.6-.7 1.2 1.6 1 6.1 1.3-2.8 1.2 2.8 1.3 .5 1.2-7 1.5 3.1 1 2.1 2.2-3.9 1.6 4.1 1.7-.4 1.5 1.7 1.9-.6 1.6-1.5 1.9-.5 2 1.5 1.5 .6 1.6-2 1 .2M364.7 187l1.3 1.1 1.4-1.2 1.4 1.5 1-.4 2-7.7 1.9 2.2 1.3-4.3 1.5 4.3 2-2.3 1.4 1.5 1.9 3.3 1.4 3.4 1.3-9 1.2 1.3 1.1-1.5 2.1 7 1.9 .4 1.4 1.3 2.2 1.9 1.1-2.8 1 4.1 1.6 2.9 1 2.1 1.4-1.4 2.2 1.2 2.2-4.7 1.8 4.6 1-3.1 1.3-1.1 1.1-3.5 1.1 1.2 1.5 1.2 1.7 1.4 1.5 3.1 2.1-1.9 1.9-.4 1.9-1.8 1.4 .4 1.5-1.5 2 .4 1.7-1 1.5-3.3 2.2-3.5 1.6-.2 1.8 1.9 1.9-.8 1.5 2.2 2.3 .5 1-1.4M364.7 174.6l1.5 5 1.9-3.6 1.1 4.6 2.1-3.8 1.3 1.7 1.8 4 1.2-5.2 1.4-1.7 1.6-1.8 1.6 5.5 1-10.3 1.5 4.3 1.2 3.6 1.1 .8 1.2 1.6 2.2 2 1.3-1.9 1.8 5.2 1.7-5.3 1.2 5.2 2.2 2 1.8-12.4 1.1 6.4 1-1.5 1.8-4.1 2-1.6 1.7 3.2 1.3 4.6 1.8-.7 2.2-1.9 2-3.7 1.2 7.6 1.6-3.6 1.5 1.6 1.8 1.7 2-.1 1.1-1.9 2.1-.7 2.2 .2 1.9-.9 1.4 .1 1.5-3.3 1.5 2.6 1.2 10.9M364.7 172.2l1.8 5.2 1.1-.8 1.8 1.2 2.2 .5 1.3-2.1 1.9 3 1.4-8 1.5 .6 2.2-3.8 1.8-2.6 1.9-1.3 1.3-.4 1.2-3.2 1.8 8.8 2.2-3.8 1.5 .9 1.8-.8 1.1-.4 1.1 5.2 2.2 1 1.3-5.2 2.1 5.6 1.3 2.6 2.2 .2 1.2 1 1.5-5.8 2 2.4 2-4.4 1.7-.6 1.2 5 2-7.3 2.2 1.7M364.7 180.9l2-5 2.2 .9 1.4 2.5 1.1 5.3 1.5-2.3 1.7-.1 1.6 1.3 1.9-2.6 2 2.9 1.8-3.5 1.6 1.7 2 1.8 2 2.9 1.1 .9 1.6 .3 2.3-4.3 1 3 1.8-2 1.5-2.1 1.6-3.3 1.6 2.9 1.7 3.1 1.9-5.4 1.3 2.8 2-7.6 1-.2 2 2.4 1.3 4.1 2.1 1.1 1.9 2.2 1.3-.4 2-2.9 1.6 1.9 1.9-.8 2-6.4 1.9 2.6 1 3.1M364.7 182.2l2.1 .1 1.7 .8 1.1-3 2.1 2.3 2.2 5.6 2.1 .8 2.1 0 1.8 1M364.7 175.6l1.9 3.2 1.9 .7 1-1.1 1-4.3 2 1.3 1.6-3.1 1 10.2 1.7-3 1.7 2.3 1-6.6 1.6-2.5 1.7 4.4 1.9-3.7 1-2.5 1.4 4.4M364.7 181.9l1.5 3.3 1-.3 1.9-1.5 1.8-2.7 1.1 1 1.5-.2 1.6-2 1.6-1.3 2 7.5 1.6-1.4 1.5-1.4 1.6 4.9 1.9 2.2 2.2 4.5 1.1-2.8 1.4 6.6 1.8-2.1M364.7 187.7l1.9 2.9 2-1.9 2.1 4.6 1 .2 1 0 1.2 2.1 1.7-.5 1.2 1.5 1.9-.3 1.4-.2 2.1-2.9 1.4 2.2 2.2-.2 1.8 0 2.1 .4 2-.1 1.4-.7 .9-9.1 1.9-.2 2.1-2.7 1-3.1 1.5-1.5 1.5 1.5 1.1-1.5 1.6-3.9 1.4 2.8 1.8-1.9 1.4-.6 .9 .6 1.5 5 1-1.2 1.4 .8 2.1 2.9 1.4 2.5 1.6 7.3 2.2-.9M364.7 196.1l1.2 .3 2.1-2.3 1.8 2.2 1.3-4.6M364.7 184.9l1.7-1.9 1.8 5.3 1.6-1.3 1.2 2.6 2.1 4.4 1.3 1.9 1.9 .4 1.9 .3 1.9-2.4 2 2.5 1.6 .2 1.3-2.4 1.7-3 2 3.2 1-4.6 1.1 2.6 1.5-5.7 1.2-4.7 1.1 1.1 2.2-.6 2.1 2 2.2 1.6 1.2-.9 1.8-7.6 1.5 6.2 1.7 6.3 2-1.7 1.6 2.7 2-4 1-3 1.2 2.2 1.9-5.5 1.5-2.4 1 2.7 2.2-5.2M364.7 181.1l1.2-4.2 1.7 6.4 1-2.8 1.2-2.7 2-3 1.3 3.4 1.2 5.1 2-3.2 1.1 5.7 1.8-.9 1.8 2.6 2.3 3.6 2-1.5 1.2 1 1.7 .8 1.6-1.3 1.4-1.2 1.9 2.5 2.2-1.8 1.6-.8 2.1 2 1.1-1.4 1.2-1.6 1.1 .9 1.4 1.1 1.4-2.1 1.1 5 2.2-3.3 1.5 4.5 1.5-6.6 1.3-.3 1 5.8 2-1.3 .9-3.1 2.1-.6 1.3-1.4 2.1 0 1.6 .7 1.6-4.9 1.2 .8 2 5.7 1.3-6.2 2.1 1.6 1.3-1.8 1.4 1.6 1.1-.8 1.4-5.7 1.3 5.8 1.5 .3 1 5.2 2.1-4.7 1.2 1.2 1.9-1.5 1.3-.8 1.5 1.1 1.5-1.1 2.1 0 1-3.6 1.5-.1 1.5-6 1.5 3.7 1-2.3 1.2 1.7 1.6-1.5 1-5.1 1.3 3.3 1.6-1.4 1.4 1.2 1.6-3.4 1.5 4.1M364.7 193.8l1.9 1 1.5 .3 2.1 2.3 1.3-.4 1.9-4.1 1.9-1.7 2 3.4 1-.9M364.7 183.8l1-2.2 2.1 5.1 1.3-5.4 1.4-1.8 2 5.8 1.8-.5 1.4-2.3 1.9 2.6 1.8 1.6 2.2-2.7 1.5 2.6 1.3-7.4 2.2 1.7M364.7 183.9l1.4-3.8 1-2.1 1.8 2.9 2.2-1 1.7 0 1.7-8.1 2 5.3 1.1 1.9 1.8 .5 2.2-3.5 1-1.5 2.2 5.3 1.9 2.2 1.6-2.9 1.7 .7 1.1 7.3 1.4 3.5 1.2-7 1.4 4.5 1.4-2.1 1.8-1.9 1.8-2.7 1.5 5.7 1.4 2.3 2-2.5 1.3 5 1.2 .1 1.2-4.6 1.5 1.8 1.7 1.1 2.1 1.6 1 2.2 2.1 2 1.5 .5 1.2-3.1 1.3-.4 1.3-5.8 1.5 7.5 2.1 0 1.6-4.4 1.7 5.2 1.9-4.5 1.2 4.5M364.7 185.3l1.5 1.6 1.7 1.7 1.8-4.5 1.9 .9 1.7 3.3 2.1-.1 1.5-.5 1.7 .7 2-4.9 1.3 6.8 1.6-.3 2.1 .5 2.1-3 1.7 2.7 1.8-2.7 1.7-1.2 1 .1 1.1 2.5 2.1-1.5 1.3 .6 1.4 .3 1.9-2.2 1.8 1.4 2.1 1.5 2.3 3.2 1.1-3.5 2.3 2.4 1.5-4 2.1 5.5M364.7 185.8l1.8-4.3 1.9 2 1.3 2.8 1.3 7.7 2.2-3.4 2.1 7.2 1.1-.3 1.4 .1 1.8-.3 1.7-2.9 1.2 .8 1.8-3 1.7-.5 1.2 .5 1-1.2 2-3.7 1.6 4 1.8-6.9 1.2 1.5 1.5-1.6 1.9-.5 1.6-2.5 2.1-.9 1.4 1.8 1.5-1.8 1.5 1.3 2.1-1.9 1.6 3 2 1.9 .9-1.3 1.5-2.6 2.1-4.9 2.1-1 1.2 4.4 1.5 3.8 1.9-4.1 1.2 .3 1.2-4.4 2.1 4.5 2.2-2.2 1.5 4.2 1.7-5.6 2.1 3.8 1.4-2.1 2 2.4 1 .8 2.2-1.2 2-2 1.7 3.1 1.8 5.5 2-4 1 2.9 1.2-3.9 2.2 3 1.1 0 1.8 1.6 1.7 2.9 1.9-2.8 1.5-1.2 1 2.5 1.3-2.1M364.7 193.1l1.1 1.7 1.1-3.4 1.6-1.2 1.8 6.6 1.9-1 1 .8 1.3 .2 2-2.7 1.6-1.4 1.7 2.9 1.7-1.2M364.7 192.8l1.3-3.3 1.8 .7 1.7 3.5 1.5-8.1 1.7 3 1.4-5.4 1.9 1.4 1.7-.5 1.9-4.9 1.8 8 1.6 2.2 1.9-3.8 1.3 .6 1.7 1.6 1.5-4.4 2 4.2 2.1-2.2 1.8-1 1.6-2.2 2.2 1.7M364.7 189.9l1 2.8 1.9-3.6 1.6 .8 1.5-1.8 1.9 .2 1.9-.5 1.9 4.9 1.6-6.5 1.9 4.3 1.1 3.1 2-.1 2 .4 1.6-1.6 2.3 3 1.9-3 1.3 1.8 1.8-3.5 2.1 1.7 1.3 0M364.7 184.8l1.9 4.6 1.9 4.5 1.8-1.6 1.5-1.4 1.8-3.5 1.4 3.6 1.4 1.1 1.7 3.5 1.7-2.1 1.7 1.7 1.8-5.6 1.1 2.1 2 .8 1.4-3.3 1.8-1.4 1.7-1.9 1.3 .4 2.2 1 1.7-2.3 1.7 5.6 2.2-2.8 1.9-1.4 1.5-8.6 1.7 6.9 1.2-6.3 1.7 .7 1-6.8 1.6 1.7M364.7 173.4l1.5 2 1 6.8 1.3 5.5 1.7 1.7 1.8-6.4 1.6 8 1-2.5 1.7-3.5 1.9 5.9 1.9 1.5 1.8-2.4 2.1 2.4 1.9 1.2 1.6 2.2 1.5-4.5 2.3 3.5 1-2.9 1.5 .5 1.2-7.3 1.9-1.3 2 .8 1.4 1.5 1 1.4 1.5 4.3 1.9 3.2 1-3.6 1.1 1.5 1.8-3.2 1.5 .8 1.9-.6 1.9-4.9 1.1-1.4 1.4 1.3 1.2-4.2 1.5 1.6 1.1-10.4 1.8 1.4 1.3 1.2 1.3-5.8 1.6 3.3 1 .4 1.9 3.6 1.1 2 1.4-1.1 2.2-.9 1.4 2 1.8 4.3 2.2-3.3 1.1 5 2.1 1 1.5-5.6 1.6 1.1 1.9 .7 1.9 1.4 1.5 2.3 1.3 5 1.8-4.2 1.6 6.6 1.4-1.9 1.5-2.2 1.3-2 2.2-7.2 1.8 .7 1 0M364.7 187.2l2.1 4.3 1.8-7.3 1.3-.8 1.8-2.1 2.2 5.1 2.2 .3 1.7 .4 1.8-2.6 2 3.7 1.8-1.2 1.3-3.1 1.5 2.8 1.2 .7 2.1-2.8 1.3-2.7 1.6-3.8 2.1 10.2 1.2-5 1.6-.3 1.2-2.9 1.1 2.9 1.2-5.7 1.7-2 2.2 2.5 1.1-3.3 1.3 1 1.6-.4 2 1.8 1.9-4 1.1 5.4 1 2.2 1-6.2 1.9 1.8 1.2 .7M364.7 194.5l1.6-7 1.3-.3 1.4 .2 1-2.9 1.9 5.6 1.7-1.4 1.1 2.7M364.7 175.1l1.5 2.7 2.1-1.4 1.7 2.4 1.2-1.1 1-6.4 1.7 3.4 2 1 1.8 .9 1.1 4.5 2-2.7 1.8 1.1 1.7-.8 1.9 3.1 1.1-2.9 2-.4 1.2 1.5 1.9-2.3 1.4 2.3 1.5 2.7 2 3.6 1.3 2.3 1.1-3.3 1.9 3.6 1-5.5 1.8 6 1.5 2.8 2.1-2.9 1.6 .4 1.8 2.6 1.6 1.4 1.5 .5 2.2 .9 1.4-2.3 1.7 2.2M364.7 183.1l1.9-2.8 2 4.9 1.2 1.3 1.6-3.8 1.3 .1 1.2-.9 1.4-3.7 1.6 5.9 1.4-2 1.1 .2 2.2-2.3 1-4.5 1.5 1.4 1.3 .2 1.2 1.7 1.5 3.9 1.2-8 1.9-.8 1.2 2.5 1.4-2.3 1.3 7.3 .9-8.6 1.6 2.9 1.6 5.4 2.2 .6 1.7 1 1.3 6.3 1.6-9.6 2.1-2.3 1.8 2.3 2.2 2.3 1.3-1 1.9-.3 2.1 4.1 1.6-6.1 2.2-1.5 2.2 1.6 1.1-6.4 2.1 4.1 2.2-2.1 1.8-2.7 1-.4 2.1 1.6 1.3-2.8 1.6 6.5 1.3 .4 2 3.8 2-2.9 1.4 3.3 1.6 .4M364.7 185.2l1.8-1.7 1.1-.5 1.3-.7 1.4 1.8 1.7-.1 1.2 6.3 1.1-3.9 1.8-.7 1 .7 1.9 4.2 1.4-1.6 1.7 .9 1.4 4.1 1.6-3.9 1.9 6.4 1.5 .6 1.5 .9 1.7-.7 1.7-.9 1.5 .7 1.7-.5 2.1-.9 1.7-3.3 2-.5 1.1-.9 1.3-.4 1.6-6.8 2.1-2.2 1.7-1.8 1.6 1.4 1.1-1.1 1.1-.8 1.3 .4 1.6 4.4 1.2-3.1 2.2 .8 1.5-1.1 1.1-6 1.6 7.6 1.2 1.3 1.6-2.3 1.8 4.9 1.8-4.3 2.3 3.6 1.7-2.5 2.1-.1M364.7 190.1l2.1-.4 2.1 4.1 2-.7 1.6 0 1.5 4.6 2.1-2.6 1-4.6 2.2 4.4 2 1.9 2-.7 1.3-2.2 1.2 3.3 2.1-.3 2.1 0 2.2-1.9 2 .2 1.2 1 1.2-1.7 1.6 1.8 1.1-1.2 1.9-.7 1.6 1 2-.9 1.2 1.1 1.5-.3 1.7-3.5 1.8 .7M364.7 182l2-2.9 1.1-2.8 1 6.3 2-2.3 1.6-2.4 2 .8 1.5 3.2 1 5.4 1.7-2.7 1.9 1.6 1.4-.4 1.9-1.3 1.5 10.2 2.1-5.3 2-3.4 1.4-4.6 1.7-.9 1.2-.1 1.9 .3 1.3-.1 2.1 .1 1.9-1 1.5 1.2 2-1.3 2-.1 2.1 .8 1.1-2.1 1 3.8 1.6-1.6 1.9-1.2 1.3 1.1 1.8 2.3 1.5-3 1.2 .8 1.9 7.4 2 2.3 1.5 3.1 1.2-4.1 1.9-.5 1-.9 1.2-1.4 1.7 2.1 1.2-3.2 1.6-3.1 1.2-6.1 1.8 3.6 1-2.5 1 .7 2.1-1.3 2.1-2.7 1.2 1.2M364.7 177.3l1.2 3.5 1.5 1.4 1.1-.2 1.4-3.1 1.4-2.5 2.2 4.1 1.8 2 1.8-2.1 2.2-.7 1.8-1.9 1-.5 1.5 .7 1.6 2.3 1.3-.1 1.5 1.2 1.1-.8 1.1-2.6 1.5 1.7 1.2-4.1 1.5 4.3 1.5 3.3 2.1-2.4 2.1 6.1 1-6.1 1.9-1.1 1.7 1.7 2.2-5.4 1.3 6.7 1.2 4.5 2.2-1.7 2.1 5.8 1.4-.5 2-4.9 1.5 5.9 1.5 .3 1.1-.4 1.2 .5 2.1-3.1 2.2-1.1M364.7 173.7l1.9 1.1 1.7 .8 2.1-6.1 1.3 2.9 1.1-3.7 1.1 5.2 1.5-3.2 1.9-4.4 1.5 1.5 2 5.7 1.3-6.7 1.8-.7 1.5 3.9 1.7 2 2 2.2 2-2.2 1-3.2 1-2.4 1.7 1.4 1.5-8.3 1.2 4.6 1-3.1 2 7.8 2.2-7.5 2.2 7.3 1.6 .1 1.1-.1 2.2 3.3 1.6-.6 2.3-3.6 1.3-1.8 1.9 5.9 2.1-2 1.5 1 1.6 5.8 1.2-2.8 2.2-2 1.4 2.1 1.3-2.9 2.2 2.9 1 1.1 2.1-4.5 2.1 5.7 1.9 2.4 2.1-5.4M364.7 197.2l1.5-3.9 1.5-1.4 1.8 3.9 2-5.6 1.3 4 1.5 .3 1.7 1.2 1.4-6 1.2 4.5 1.4-.5 1.9-1.6 2-2.9 1.8-1.3 1.5 1.4 1.6-2.1 1.1 2.3 1.2-8.4 1.6-.4 2.2 4.3 1.5 0 2-5.2 1.2 7.2 1.7 2.4 1.6 .1 2.2 2.1 1-.4 1.7-1.9 1.8 2.5 1.8-4.2 1.6-.5M364.7 187.7l1.4 5.5 1.5-6.4 1.3 2 1.5 1.2 1-.2 1.9-1.5 1.6-5.3 1.3 1.5 1.1 5.6 2.3-2.5 2.1-1 2.1 8.2 1.2-8.8 1.6-2.1 2.2 8.1 1.1-4.7 2 2.7 2-1.1 1.6-1.7 1.9 2.2 1.1-6.4 1.2 1.2 1.7 3.7 2.2-1.1 1.7-2.9 1.4 0 2 2.5 1.7 .2 1.2 .8 2-1.9 .9 1.1 2.1 5.9 2.2-9.6 2.1 .7 1.1-2.1 1.8 1.6 1.3-2.3 1.6 8.5 1.7-2 1.6 1.4 1.1-4.3 1.3 5.1 1.5-1.1 1.9-3.4 1.7 .9 1.6 2 2.2-3.4 1.6 3.9 2 1 2-1.8 2.2 1.1 2-.1 1-.2 1.6-3 1.9 2.8 1.4-3.8 1.8 2.7 1.2-2.5 2-1.8 1.4 1.2 2.1-4.2 1.9 2.9M364.7 184.3l1.8 .5 1.5 .4 1.2 .8 1.7-.1 1.6-2 1.8 2.3 1.8-.8M364.7 186.7l1.1-2.5 1.3 4.4 1-2.9 2.2 5.6 1.4 2.8 2.2-2.5 2.2-.4 1.5 2.7 1.7 .9 1.8 0 2.1-2.7 1.9 4.4 1.9-4 1.2 1.4 1.5 .4 1.8-5 1.6 2.9 1.5-2.9 1 1.9 1.3-.8 1.8 3.8 1.8-3.1 1.2 5.9 1.2-.6 2 0 1.8-2.1 1.7-.2 2.2-1.9 1.3-2 1 .5 1.9-2.3 2 5.3 1-1 1.3 2.2 2.1 1 2-.3 1.7-3.2 2.1 .5 1.3-.9 1.5 3.3 1.4-2 1.8-.1 1.1 .3 1.7 1.1 1.2 .4 .9-3.4 1.4-.2 1.8-4M364.7 197.7l2.1-1 2.2-2.4 1.7 2.6 1.4-2.1 1.6-2.4 2 2.1 .9 .7 1.2-4 2 1.2M364.7 181.7l1.9-.5 1.3-2.2 1.7-1.1 1.6 3.4 1.5 4.5M364.7 194.4l1.6-3 2 4.7 1.3 .9 1.1 .1 1.6 1.1 1.9-1.5 .9 .2 2.3 .7 1.9-.6 1.7-1.8 1.9 2.2 1.6-.9 2.2-.2 1.4-6.2 1.7 2.6 1.1-1.7 1.2 1.5 1.4-1.9 1.3-1.1 1.6-1.1 1.3 1.5 1.5-1.4 2.2-3 1.7 .7M364.7 184.9l2 3.1 1.9-1.3 2.2 2.8 1.7 6.7 1-.6 1.6-3.9 1.8 2.6 1.9 .9 2 .1 1.6-5.1 1.8-.7 1.8 .5 2.1-4.6 1.7 1.9 1.6-.8 1.1-.9 1.5-3.2 2-4.2 1.6-1.5 1.2 2.9 1.9 5 2.2-.3 1.4 2.7 1.5-6.4 1.5 3 1.4-.8 1.4-3.4M364.7 186.8l2 .4 1-2.5 1.3-2.2 1.6-3.3 1-2.8 2.2 5.4 1.8 .4 1.6 4.1 2.1 .3 1.3-2.7 1.4 5 1.1-2.3 2.1 .9 1.1-6.2 1.9 2 1.3-3.8 1 .8 1.6 7.2 1.5 1.6 1.2-1.7 1.9 .5M364.7 193.7l1.7-1 2.2 .3 1.6 .7 1.8 .8 1.2 .8 1-1.1 2.2-.5 1.9-.5 2.2-.7 1.4 .8 1 1.7 1.9-.8 1.8-.4 1.3-2.1 1.2 3.1 2.1-.9 1.2-.5 2.2-3.2 2.1 .8 1-7.1 2-3.9 1 6.8 1.2-6.5 1.9 3 1.9-.7 1.9 3.4 1.4-2.9 2.1 3.9 1.5-5.4 1.5 4.4 1.2 4.5 2 2.4 1.9-4.8 2.1 3.6 1.9 1.4 1-.3 1.5 .7 1.2 .3 2.1-.6 2.2-2.8 1.2-.4 1.1-3.3 1.1 5.6 2.1-1.7 1.1 1.3 1.6 1 1.9-.7 1.1-5 1.9 4.6 1.2-3.9 2.3 4.2 1-8.1 2.2-2.5 2.2 2.4 1.3-1.7 2-1.8 1.4 4.9M364.7 192.9l2.1-.2 1-1.9 1.2 2.7M364.7 175.9l1.7 8.2 1.6-3.2 2.1 1.6M364.7 188.4l1.2-1 1-.7 1.1 2.3 2.2 .8 1.9 0 1.8 5.7M364.7 189.4l1.1 2.3 2.2 .8 1.8-1.2 1.2 1.2 2.1-.4 1.7-.1 1.4 .7 1.3 .3 1.6-1.6 2.1 .6 1.6 .3 1.8 .2 1.7-3 1.5 2.1 1.1-2 1.3-1.3 1.7 2.2 1.2 1.8 1.6-2.8 1.8 2.1 2-1.9 1.7-1 1.4-2.3 1.1-4 1.2 2.9M364.7 188.1l1.1-5.3 2.1-.2 2-3.1 1.7-5.5 1.6-.3 2-4.6 1.6 2.2 1.1 1.8 1.9-3.1M364.7 181.8l1 4.4 1.9 .3 2 2.9 1-3.2M364.7 183.3l1.6 .8 2-1.1 2.2 6.4 1.6 3.1 1.4 .1 2.1-1 2.3-1.6 2.1-1.7 1.7 1.7 1.3-2 1.3 0 1.2 4.3 1.5-3 1.2-.1 1.9 .8 1.5-3.4 1.2-2 1.3-.8 1.3 1.9 1.1 1.4 1.2 .7 2 4.8 2.2 4.2 1.1-4.4 1.5 1.3 1.8-6.4 1.2-.2 1.7-2.3 2.1-2.4 1.5-6.1 1.5-2.3 1.2 1.5 1.4 3.4 1.1-4.6 1.9-.8 1.8 5.9 1.2-6.3 2.1-1.9 1.4-.4 1.9-.3 1 .8M364.7 185.5l1.7 3.1 1.2 1.4 1.4-10.9 1.2 2.8 1.7-3.7 1.1 3.9 2.1-1.4 1-.7 1.2 2.3 1.8 6.4 1.4-4 2-3.7 1.6-.6 1.1-1.1 1.5-5.1M364.7 194.6l1.8-2.3 2.2-2 2.2 7.1 1.2 .3 1.2-.4 1 0 1.9-.5 1.6 .5 2.2-1.3 2 .7 1.2-2.2 1.6 1.9 1.3-1.9 2.1-4.3 1.6 6 2.1 .3 2-1.4 2.1 1.2 2.2-2.9 1.2 1.7 1.6-3.9 1.7 .3 1.8 1.4 1.7 2.3 1.1-.4 1.1 1.1 2.2-3 1.3-4.9 1.7 7.2 1.9-7.7 2.1-.6 1.1-2.8 1.4 2.3 1.7-1.4 2-4.9 1.7 4.8 1-.6 1.4 4.4 1.4-7 1.9 5.6 1.3-6.7 1.7-.7 2.2 1.1 1.2 7 1.7-8 1.3 7.7 1.7 6.6 1.3-5.4M364.7 188.6l1.8 .4 2.3 3 1.8-4.5 2 2 1.5-1.7M364.7 185.5l1.6 0 1.2-4.6 1.6 3.9 1 .6 1.4 3.9 1.9-2.7 1.5 1 1.7-1.4 1.9 6.1 2.2-1.1 2.2 2.1 2 .7 2 4.1 1.1-3.3 1.4 1.9 1.6-3.4 1.2-3.5 1.2-4.6 1.1 5.4 1.4-3.3 1.6-.4 1.5-2.4 1.4 5.9 1.4-3.8 2.2 4.7 1.3 .7 1.5 .4 1.9 2.1 1-1.4 2.1 .9 1.6 1.8 1.4-3.5 2.1 3.7 1.9-3.3 1.2 .3 1-1.1 1.9-4.7 2 1.5 1.5 4.4 1.2-3.3 1.9-1.6 1.6-7.9 1 1.9 2.1 .4 1.2-.1 1.7 .6 1.5 1.2 2 5.9 2.1-2.8 1.6-3.9 1.3-.4 1.1-2.4 2.2 4 1.3-3.7 1.8-8.9M364.7 182.8l1 4.4 1.6-1.8 1.2-5.2 1.9-.3 1.1 .5 1.8-7.8 1.7-.2 1.3 1.6 1.2-2 1.2 0 1.6-1 2 3.6 1.7 5.2 1.2-2.8 2.1-1.2 1.3 4.5 1.9 .5 1.5-5.6 1.5 3.5 1.1 4.6 1.6-4.8 1.7-.5 2.2 2.1 1.1 4.4 1.7-5.2 2 1.3 2.1 .6 1.6-3.7 1.5 2.2 1.9 3.5 1.1-4.3 1.7 2.8 1.7-.3 2-2.1 2 5.5 2-.9 1.3 .6 1.3-1.5 2.2-2.1 1.6 6.8 1.9-2.1 2 .5 .9 1.7 1.2 3.8 1.5 .6 1.8 0 1.5-3.1M364.7 194.5l1.3-5.7 1.7-2.8 1.3 1.8 1.2-.9 1.4-.2 1.6-.7 1.1-3.4 2.1 3.6 1.1 4.4 1.2-4.1 1.5 0 1.7 2.5 1.7-2.7 2.2 4.3 1.5 1.8 1.1-.5 1.1 .2 2.1-1.7 1.7 1.4 1.9 1 2.1-2.4 1.8-4.4 1.2 2.7 1.4-3.5 1.2 5.4 1.1-5.9 1.1 1.6 1.5-1.9 1.7 .3 1.6-.5 1.1-6.4 1.2 4.8 2.2 8.2 1.7-3.9 2.2 4.7 1.1-1.5 1.6 .6 1.3 .1 1.7-1.7 2 2.1 1.4-2.4 2.2-.8 2 3.1 1.1-2.2 2.2-1.4 1.2-1.4 1.3-4.2 1.4 3.5 1.2-7 1.5 .2 1.3 7.4 2.1-5.8 1.1 1.7 1.6-.1 1.2-2.7 1.1 5.2M364.7 194.7l1.7 1 1.5-2.2 1.8 1.5 1.9-1.1 2.1-1.2 1.4 2.8 1.6-3.2 1.2 2.4 2.2-4.8 1.5 .1 .9-1.8 1.7 0 2-.4 1.5 2.3 1.4 2.8 1.4 .2 1 0 1.1 1.3 1.4-4.6 2-.2 1.5 1.8 2.1-1.2 1.9 2.3 1.9-1.7 1.3-5.3 1.6-.4 1.7 4 1.7-4.6 1.9-4 1.5 4.2 1-5.2 2.2 4.9 1.8 1.1 1.5-.7 2 4.4 1.4 .2 2.2 2.6 1.4 .1 1.3 .4 1.9 .2 1.3-2.7 1.9 1 1.6-.1 1.6-1.7 2.2-5.5 2.3 1.6 1.3-7.6 1.3 1.7 1.8 4.2 1.4-.9 1.6-1.5 1.6-.1 2 7.5 1.3-1.5M364.7 183.1l1.5-4.3 1.5 2.2 2-1.2 2.1-2.7 1.4 1.8 1.8-1.8 1.3 .4 1.2-2.6 1.6-.6 1.4-1.8 1.8 1.8M364.7 182.6l2-6.3 1.7 1.5 1.2-5.7 1 4.2 2.1 2.5 1.6-2.7M364.7 190.6l1.5-.4 1.9 1.6 1.3 3.8 1.7 .3 1.5-.7 2.2 1.8 1.9-5.2 1.3 4.3 1.7-3.6 1.5-1 1.4-.3 1.4-1.1 1.3 1.8 1.4-4.4 2.2-4.6 1.8 9.3 1.3-1.1 1.8 .3M364.7 178.3l1.6 2.9 1.2 .7 1.7-2.4 1.2 2.4 1.6 1.5 1.3-1.8 1-.4 1.9 3.9M364.7 179.3l1.6 2.2 1.7-.1 1.9 2.6 1.9 2.1 2.2 .5 1.9 2.2 1.3-4 1.9 4.8 1.5-.9 1.8-3.7 1.1-.9 1.9-1.2 1.1 .9 2.2 5M364.7 181l2.2-1.6 1.3 5.1 1.7-1.3 1.1-.1 1.2-1.5 1.6-7.1 2.2 6.1 1.1-5.9 2.1 .6 1.7 1 1.4-.5 1.2-2 1.1 5.1 1.5 2.7 2 .2 1.4-1.1 1.8 3.7 1.4-2.2 1.4-.3 2.1 1.4 2.1 .5 1.3-.4 2 .7 2.1 7.1 1.9 2.1 1.5-3.3 1.4 3.6 1.1-5.3 1.2-1 1.6 6.3 1.7-9.6 1.6-1.5 1.1 6.9 1.3-9.5 1.4 6.8 2.2-3.1 2 3.8 1.7-1.4 2-3.3 1.7 2 1.4 4.4 1.5-.8 1.7-7 1.5 3.7 2.2-.2 1.5-1.2 1.5 4 1.6-4.8 1.7 .4 1.8 1 1.3-4.1 1.4 2.9 2 4.9M364.7 178.7l2.1-1 1.8 0 2 1.2 1.2-5.3 1.5 2.6 1.3-2.4 1.3-.8 1.9-5 1.8 2.6 1.9-.3 1.6 .4 1.1 2.5 1.5-.8 1.6-.6 2.2 7.1 1.3-6.8 1.3 .6 2.1-5.1 1.2 1.9 1.4 6.4 2-3.7 1.1-2.3 1.9 2.6 1 .5 1-1.9 1.5 3.1 1.6-2.8 1.2 2.7 1.8 1.4 2.2 4.6 1.2-1.3 1.3-1.8 2.1 1.9 1.6 1.1 1.7-3.1 2.1-5.2 1.2 5.2 1.5 1.7 2 3 1.5 1 1.3-5.5 1.1 4.6 1-.2 2 1.1 2 1.3 1.2-4.2 1.9-4.7 2 1.8 1.3 2 2.1-.8 1.6 4.4 2.1-.7 2.1 4.2 1.8 2.4 2.2-2.9 1.3 7.3 2 .4 1.9-.9 1.3-2.2 1.1-1.5 2.3 4.2 1.6-.7 1.3-5.5 1.3-3.2 1.5-.6 1.9 1.2 1.9-2.2 1.1 .7 2.3-2.1 1 3.1 1.8 2.1 1.7-1 1.8-1.1M364.7 180.6l1.9-2.2 2.1 .7 1.9 .4 1.3-5.3 2.1 3.7 1.4 .5 1.2 6.7M364.7 183.2l2.1 4.4 1.2-2.8 1-.5 1.1 2.9 1.8-8.2 2.1 1.3 1.5 1.4 2-5.6 2.2-2.6 1.2 3.4 1.6 4.2 1.8-2.3 1.4 3.9 .9 .4 1.7 3 2.3-.6 1.3-.2 2.2 1.8M364.7 177.4l1.6-3.4 1 6.6 2.2-5.1M364.7 184.2l2 3.6 2 .9 2.1 1.1 2.2 2.8 2-.1 1 .4 2.1-2 1.8 .7 1.9-.6M364.7 176.6l1.7-2.9 1.2 2.4 1.2-1.3 1.2-2.8 1.1 4.1 1.3-3.1 1.6 2.4 1.6 2.2 1.4-4 2.1 3.2 2-4.2 1.4-.4 1.5-.7 1.5 4.5 1.1-3.2 1.7 1 1.4 1.2 1.5 2.4 .9 1.2 1.6 2.9 1.6 6.7 1.9-3.3 1.7 1.8 1.7-2.2 1.7-1.5 1.2 2.5M364.7 189.8l1.3-.6 1.6-2.6 2.1 1.3 2.1-5.2 .9-.1 1.2-1.8 1.5-5.6 2 .9 2-7.3 1.8-2.7 2.3 4.3 1 2.9 1.5 5.9 1.7 3.2 1.2 1.2 2-1.6 1.3 1.7 1.7 .3 2.2 2.6 2-1.4 1 4.8 1.8 2.2 1-1.9M364.7 186.6l1.2-2.9 1.4-.6 1.6-4.2 2.1 1.4 1-.5 1.5 .3 1.6-.4 1.7-2 1-1.1 1.5-.4 1.1 1 2.2-3.6 1.6-1.3 2 6.1 1.8 .2 2.1 2.5 2.1-3.6 1.7 1.8 1.7 6.5M364.7 197.5l1.2-.5 1 .9 1.2 1.1 2 .5 1.7-4.6 1.8-3.3 1-.6 2.1-.2 1.4-2.4 1.5-4.6 1.6 2.6 1-6.7 1.5 3.3 1.4-2.3 2 2.2 .9 1.9 1.9-.6 1.1 3.5 1.8 3.5 1.2 1.3 1.1-.2 1.6-1.5 1.5-6 1.7 6.1 1.9-9.2 1.1 2.7 1-1.4 1.8 7.4 2.1-5.6 1.9 6.1 2.1-2.1 1.5 2.2M364.7 192.1l1.2-3.1 2.1 7.2 1.9-4.9 1 1.3 1.4-6.6 1.3-2.6 1.2 0 1.5 5 1.7-4.9 2.1 3.5M364.7 186.9l1.9 1 1.6-4.8 1.2 1 2.1-1.2 1.8-2.3 1.5 4.4M364.7 184.1l2.1 3.4 2.2-3.2 1.2 .5 2.2-.1 2.1 2.1 2.1-3.2 2.2 2 1.1 1.8 1 1.1 1.9-1.5 2.1 3.7 1.3 6.5 2.2-2.1 1.5-.9 1.6-1.2 2-5.2 2.1 7 2.2-1.4 1.6 3.2 2.2-6.3 1.2 6.4 1.4-2.6 1.3-.2 1.6-4.2 2.1 4.7 1.2 1.9 2.1 .1 1.6-.6 1.6-2.4 1.2-3.6 2.2 4.3 1.8-4.9 2-2.7 1.3 5.8 1.7-3.6 1.4-.4 2.1-1.2 1.1 6.7 1.5 1.4 1-2.8M364.7 181.5l2 .8 2.1-.2 1-.3 1.9-.3 1.8 8.5 1.4 1 2.1 4.2 1.9-1.1 1.8 3.4 2-3 1.1 2.7 1.4 .5 1.1-1.8 1.7 1 1.9-5.1 2 2.3M364.7 177.2l1.4 2.7 1.8-1.6 1 9.4 1.2-1.1 1.2-.5 2.2-3.1 1.9 1.6 1.4-.2 1-2.4 1.7 3.2 2 2.3 1.7 2 1.2-2.5 1.8 3.3M364.7 129.8l1 3.2 2-2.1 1.3 3.2 1.9-4 1-.2 1.5 2.4 2.1-.6 1.7-.1 1.6-5.1 1.5 6.9 2-1 1 .9 1.7 .5M364.7 153.4l1.7 7.3 1.5-4.8 1.3 3.7 1.2-4.7 1.4-3.6 2.1-3.6"/>
<path stroke="#73AC38" stroke-width=".38" d="M364.7 91.8l.1 3.1 .7 3.8 .7 4.4 .8 2.6 1.7 4.3 1 2.9 .6 2.7 .6 2.9 .4 3.4 .3 4 1 4.5 .3 2.9 .7 3.4 .8 3.9 1.1 3.6 -.2 4.1 .2 2.8 1 4.3M364.7 103.2l1.6 4.5 1.7 4.4 1.1 3.2 1.4 2.9 1.4 3.5 1.6 4.1 1.3 4.3 1.8 3.4 1.2 4 .3 3.9 1.4 4.2 0 2.7 .1 2.6 1.1 3.5M364.7 86.9l.1 3.2 .2 3 1.2 3.8 .9 3.6 .8 3.8 .5 3.1 .8 3.4 1.6 3.1 .9 3.6 .7 3.4 .5 3.9 .4 4.1 .5 3.4 .5 3.2 1.1 2.9 1 3.8 .3 3.7 1.1 4M364.7 95.6l.8 2.9 1 3.1 1.7 3.2 .8 3.2 .9 2.5 1.6 3.9 1.5 3.9 1.6 4 .9 3.6 1.2 4.3 1.3 2.9 .5 4.4 1 3 1.4 4.5 1.3 4.3 1.2 3.2 1.4 2.7M364.7 101.8l.5 3.3 .5 3.6 -.6 2.9 .6 3.4 1.5 4.4 .8 2.7 .7 2.6 1 3.3 1.5 3.6 .8 2.6 .8 3.3 1.2 3.2 .6 3.1 .9 4.5 1.3 2.7 .1 3.6 -.8 2.6M364.7 110.8l.7 2.6 .7 3.4 .8 3 .5 3 1.1 4.5 .1 3.8 .8 2.6 1.2 3.8 1.2 4.1 1 3.7 .4 4 .6 3M364.7 109l.4 2.6 .7 2.5 1.4 2.9 1 3.1 .7 2.7 2.1 4.4 1.4 3.3 .7 4.5 .8 3 .6 2.6 1.4 4.3M364.7 81.9l.6 3.8 .1 3.2 .7 3.5 .6 2.6 .6 3.6 .6 4.2 .4 2.7 -.1 2.8 .4 3.2 .7 4.5 1 3.1 .3 3.6 .8 3.3 .5 4 .6 4.4 .1 2.8 .5 4.1 .4 3.9 -.4 2.6 1.1 2.8M364.7 72.6l.5 3.5 1.6 2.7 .7 4 .2 3.1 .3 2.6 .9 4.4 .7 4.3 1.8 3.9 1 4.3 .9 2.8 .7 4.3 1.2 4.2 .4 2.9 .7 3.8 .7 4.3 .3 2.5 .5 4.1 .9 3.1 .5 3.2 .5 4 .6 3.6 .7 4.2 .5 3.6 .9 3.8 .2 3M364.7 86.8l.7 2.9 .4 3.1 1.1 3.9 .6 3.8 -.5 3.6 .9 4.5 .6 2.7 .3 3.6 .4 3.2 .1 2.6 .7 3 .3 4 .5 4.1 .9 4.4M364.7 107.2l.5 3.4 .8 4.4 .2 2.6 -.4 4.1 .2 3.7 .9 4.1 .8 4.2 .7 3.5 -.2 2.7 .1 2.7 .7 3.8 -.1 4.1 1.4 3.9M364.7 113.6l.7 3.4 .4 3.9 .4 3.9 .4 3.4 -.1 2.7 1 4.5 .3 2.9 0 3.3 .8 2.8 1.3 4.4M364.7 73.8l.9 3.1 0 3 1.1 3.6 1.7 4 .5 3.4 1.1 2.6 -.1 3.5 .9 3.6 .3 3.5 1 3.5 1.3 4.1 .6 3.5 .8 2.8 1.3 2.6 1.3 4.4 1.1 4.4 1.1 4.1 .7 4.5 0 3.4 .7 3.3 .9 3.3 0 3 -.1 3 .8 3.4 .7 3.3M364.7 88.7l.6 3.4 1.4 4.1 .6 4.1 .8 4.1 .5 2.5 1.5 3 1.5 4 1.4 4 -.1 2.8 .3 3.8 1.3 2.9 1.3 3.7 -.4 2.9 .6 3 .7 3.5 .3 3.4 .6 2.6 1.6 2.6 1.1 3.9 .7 3.2M364.7 96.5l1.7 4.1 .5 3.8 1.3 4.3 1.3 4.3 .3 2.6 1.1 2.8 1.2 3.8 -.1 2.8 .4 2.6 .7 2.5 .4 2.7 .8 4.2 1.1 2.9 .4 4.3 1.3 4.3 .4 2.6 0 3.4 1.2 3 .4 3.3 1 4.1 .6 4 1.1 3.1 1 2.6 .3 4.3M364.7 164.4l1.3-.7 2 3.2 1.8 .8 1.3 2 2.2 1.5 1.7-.5M364.7 136.5l1.8 .5 2.2 4.2 1.5-2 1.4 .2 2 3.8 1.5-1.7 1.5 .1 1.7 4.9 2-3.8 1.9 5 1.3-3.7 1.1 .8 1.3-.7 1.9-1.1M364.7 141l2.1 6.3 2.2-5.1 2.2 1.8 1.5 1 1-2.1 1.8 .2 2.1 2.4 1.5-.4 1.9 0 1.8 .4 2-2.9 1.4-.7 1.7-2.2 1-.3 2.1-5.1 2.2 1.7 1.9 1.2 1.8 3.9M364.7 155.5l2-1.3 1.8-.2 2.1-3.1 1.1-1.3 1.1-1 1-.2 1.8-2.4 1.9 5.6 1.5 1.9 1.2-.8 1 3 2-2.4 2-1.5 1-.1 1.1 4 1.7 1.8 2.1 2.4 1.2-.4 1.7 .9 1.3 3.1 2 .3 1.6 2.6 1.5-2.2 1.5 3.3 2.1-1.2M364.7 145.7l1.6 1.8 1.7-1.6 .9-3 1.5 3.5 1.2-1.2 1.3-1.5 1.9-4.3 1.9 3.4 1 2.4 1.6 1.1 1.4 .5 1.4 .8 2.1 3.3 1.4-1.1M364.7 147.6l2.2-.3 2-.9 1.1 1.4 1.5-3.8 1.2-.5 1.9 2.4 2.2-3.5 2.1 2.1 2.2-.8 1.9-5.2 1.8-.2 1.1 2 1.1-2.7 1.8 .2 1.6-.6 1.8 4 2 4 1.2-1.8 1.2 1.7 1.1 1.3 1.5-2.5 1.6 2 1.2 .6 1.9-1.4 2 1.3 1.3-4 1.1 2.4M364.7 140.8l1.1-.1 2-2.8 1.9 2.9 1.3-1.5 2.1-.6 1.1-4 2-1.7 1 4.7 2.2-1.7 1.3-.9 1.9 .5 1.2 2.9 2.1-2.1 1.5 2 1.5-6 1.6 .7 1.7 .4 1.5-4.2 1.4-1.7 2.1 1.9 1.1 1.5M364.7 172l2-2.1 1.3 2.8 1.1-5.9 1.4 1 1.2 1.6 1.5 0 1.9 1.9 1.1 4 1-1.3 1.4-1.9 1.9-1.6 1.4 .1 1.3 4.9 1.5 .9 1.2-5 1.4 9.6 1.1-3.3 2.1 1.5 1.2-.7 1.2 2 1.6 2.2 1-4.5 1 4.2 1.9 2.8 1.2-1.1M473.5 161.3l.3 1.7"/>
<path stroke="#0072BD" stroke-width=".38" d="M364.7 166.6l1.3 1.2 2 .5 1.9 7.8 1.4-.3 1.6 .6 2-4.2 2-2.3 1.2-6.3 1.6-3.9M364.7 149.1l2.1-2.1 1.9-2.8 1.6 .7 2.2-.3 1.6 1.7 1.6 .2 1-2.3 2.2 4.5 1.8 0 1.6 .5 1 1.3 1.6-2.7 1.9 .4 2.1 1.7 1 .5 2.3-3.7 1.1 1.5 1.2 1.2 1.1 3.6 1.8-2.1 1.2 .5 1.2-3.8 1.1-1.8 2.2 1.8 1.6-5.3 2-1.7 2-2.7 1.1-.6 1.3 1.5 2.3-5.6M364.7 157.6l2.1 1.9 2-2.9 1.3-.4 2 .3 1.3 6.7 2.1-1.4 1.2 3.8 1 1.3 1.7-.6 2-4.8 1.9-4 2.2 1.4 1.2 0 1.6-5.4 1.8 1 1.1-1.1 1.8-1.8 1.9 3.7 1.8-4.8 1.5 3.9 2.2 5.7 1.7-1.9 1 .5 1.7 3.3 1.2-4.1 2.1-2 1.1 1.6 1.5-.2 2.1 4.6 2.1-3.1 1.1 2.8 .9-3.5 1.2-.4 1.8 1.1M364.7 143.8l1.9-2.5 1.2 2.6 1.9-2.3 1 3.4 1 .5 1.2 6.3 1.2 1.4 2-1.6M364.7 139.3l1.4 2.1 1 2.3 1.5-1.2 2 5.2 1.3 4.9 1.3 1.2 1.7-3.4 1.9 4.7 1.5-.7 1.2-.5 1.6-.5 2.3-.3 1.1-2 1.6 1.9 1.5 3.9 1.2-3.2 2.1-2.7 1.8-7.4 1.2-2.7 1.7-.7 1.6-2.4 2 3.6 1.6 7.3 1.9-.6 1.4-5.2 1.8 2.7 2.2-.8 1.6 .6 1.9 4.1 1-1.4 2.2-2.6 2.2-.2 1 1.7M364.7 151.7l2.1-7.8 1 5.3 1.2-3.8 1.8 3.2 1.1 5.8 1.4 1.5 1.9 .6 1 .8 2.1-5.1 2-3 1.3-1.5 1.5 3.2 1.4-4.2 1.8-2.7 1.1 6.5M364.7 163.2l1.7 2.1 1.1 5.1 1.8 4 1.7 1 2.1 .7 1.3-4.1 1.1 .7 1.5 1.2 1.2-4.8 1 3.1 1.9-.7 1.7-.3 1 2.5 2-9.5 1.9-.4 1.6-3.2 1.3 5.5 1.2-1.5 1.7-2.5 1.7 2.5 2 1.1 1.6 1.9 1.8 1 2.1 3.4 1.3 4.4 1.4 1.7 1 3.6 1.1 3.6M364.7 160.9l1.5-.4 1.8-1.1 2.1-.3 1 .1 1.3-.5 1.3-7.4 2-.1M364.7 166l2 5.1 1.7-2.3 2.1 .7 1 4.7 1.7 1.8 2-4.3 1 5.2 2.2-3.5 1.8 4.8 1.7 1.4 2.1 .5 1.8 1.5 1.8 2.4 2 5.1 1.2 2.1 1.9 2.5 1.7-.3 2.2 5.7 2-1.7 1.8-5.7 1.7 1.9 1.2 .9 1.9-1.7 1.6-.2 1.6 2.9 1.6 5M364.7 149.4l1.5 1.9 2 .6 1.6 5.7 1.1-1.6 1.9 5.3 1.6 2.1 1.6 .4 2-.1 1.4-3.1 1.3-2M364.7 132l1.6 2.3 1.1-2.8 1.7 2.4 2.1-.6 1.5-.6 2.1-4.2 1.1-4 1 3.6 2.2 .2 2.1 .3 1.6 .4 1.1 3.8 2.1-5.1 2.1-2.9 1.5-2.9 1.6 4.2 1.1 1.4 1.5-1.1 2.1 .9 1.6 6.4 2.1-4.5 1.7 1.2 1.4-3 1.9 1.4 1.3 .2M364.7 162.5l1.7 1.5 2.2 2.8 1.6 1.3 1.3 .2 1.7-2.5 1 3.1 2 .4 2.1-2.8M364.7 165.7l1.2-3.7 1.2-2 1.6-.9 1.5 0 1.9 0 1.3 2.8 2.2-1.8 2-2.3 1.3 5.3 2-2.5 1.7-.8 1.3 .5 1.5-3.9 1.7-1.8 1.2 1.8 1.7 2.4 1.9 4.8 2.1 3.3 1.5 1.5 1.2 .4 1.6-2.3 1.5 4.3 1.6-9.5 1.9 3.3 1.5-1.7 2 4.5 2.2-3.7 1.5-.9 1.3-1.8 2.2 2.3 2 .2 1.5 .2 1.8-1.1 1.6 3.8 1.9 .2 1.1 1.1 1.6-2.8 1.6 3.5 1.7-2.5 1.1 1.8 1.6-.5 1.5-.1 1.8-3.7 1.4-2.8 1.6 .1 1.3 5 1.1 1.3 2 .7M364.7 136.2l1 1.1 1.5 3.2 1.1 3.5 1.8 .2 1.3 3.7 1.7 1.9 2-3 2.2 3.5 1.1-.9 1.8-1.9 1.2 .4 1.2-2.7 1.9-.8 1.1 2.7 1.9-2.2 1-4.4 2.2-.3 1.8-.3 1.2-5.1 1.7 1.5 2-.8 1.9 4.6 1.8 .3 1.9-2.7 1.6 1.1 1.4-3.5 1.2 4 1.6-10.1 2.1-.4 1.6 3.8 1.8-1.3 1.2-1 1.7 7 2.3 .4 2.1-6.5 1.7 3.5 1.2-1.9 1.7 2.1 1.9-1.7 1 3.7 2.1-.6M364.7 152.4l1.3 2.6 2 3.4 1.2 1.4 2.1-2.3 1.5 2.6M364.7 137.6l1.2-1.4 2.2 2.2 1.4 .8 1.1 5.6 1.8-5.4 1-3.3 1.1 6 1.5 1.4 1.3 3.6 1.2-1.4 1.9 6.7 2.1 .1 1.6 5.1 2-1.6 1.8-2.4 1.6 1.1M364.7 131.3l1.1-.8 1.9 1.4 1.9 3.8 2-3.2 1.1 .1 1.1 3.4 1.2-3.1 1.9 .9 1.1 6.2 1.3 4 2-1.4 1.2 3.1 1.4-2.6 2.2-4.3 1.1-1 1.6-2.5 1.9 .4 1.1 2.5 2.1-.5 1.4-2.9 2.1-.4 1.3 3.7M364.7 169l1.2-4.4 2.1 5.3 1.5 .9 1.3-3.8 1.5 3.1 1.1-3.2 1-2.9 2.2 3.2 1.5 .7 2 6.5 1.8 .3 1.4 1.6 1.4-2.6 2.1 1.3 2-3.2 1.3-.6 1.8-3.3 1.9 2.2 1-1.8 2.1-1.3 1.7 5.7 1.1-4 1.6 2.9 2.2-1.2 1.8-2.5 1.1 .8 1.8-2.1 1.2 5.3 2.1 2.3 1.9 4.5 1.3-5.3 1.3 8 1.4-5 2.2 3.3 1.6 .4 1.9 1.9 1.1 1.2 2-6 1.1 7 1.2-5.2 1.8 .6 1.3-3 1.8 6.4 1.4 2.7M364.7 168.6l1.3-2.2 1.1 .5 2-.6 1 3.9 1.3-2.8 1.5 3.6 1.8 1.3 1.7 1.7 1.1 .3 1.2 2.6 1.7-1.1 1.6 1.2 2.2-8 2 3.9 1.3-4.7 1.8-3.2 1.2 1.4 2.3-3.7 1.1-.7 2.2 2 1.4 1.1 1.1-4.3 1.2-.3 2.2-.9 1.6 .3 1.1-.5 1.5 3.6 2.2-.9 1.8 2.9 1.2-4 1.4-.2 2 1.9 1.6-5.9 1.4 3.4 2-.4 1.6 2.9M364.7 146.4l1-3.7 2.1 2.9 1.8-.2 1 3.3 2.1-1.4 1.5 5.4 2.1-1.3 1.1 3.2 1.7-2.4 1.1 4 1.5 1.9 1.1-4 1.3 5.1 1.4-2.2 1.9-1.1 2.1-1 1.5 1.8 1.2 3.6 1.9-.3 1.8 2.1 1.6-2.7 1.9-.4 2.2-1.8 1.5 5.1 1.1-1 1.3 .3 1.1-3.1 1.9 .4 1.3-2.9 2-1.5 1.7 0 1.4-4.2 1.7 2.2 1.8 2 1.1-2.2 1.7-.4 1.7-.2 1.8-2.1 1.4-4.5M364.7 162.8l1.2 4.3 1.6 .6 1.4 2.6 1.6 .5 2.1-2.7 .9-2 2-2.7 1.9-1.3 2 4.9 1.9-1.7 1.2-1.5 2.2-2.8 1.6-.8 1.7 3.4 1.2-.4 1.7-2.9 1.4 4.2 2.1 2.2 2.1 5.3 1.1-.8 1 .4 2.3 7.5 1.3-4.1 1.3 5.7 1.5 .2 1.4 3.7 1.2-1.8 1.9-1.3 1.1 1.6 1.4-1.6 1.7-.8 1.9 2.1 1.7-2.9 2.2 4.1 1.5 1.8 1.2-3.8 1 2.3 2-2.1 1.9 1.1 1.3-3.2 1.7-5.1 1-.3 2 .7 1.9-2.6 1.1 1.2 1.4-5.3 2.1-2.6 2.1-.3 1.3 .6M364.7 159.3l1.7-3 1.9-2.6 2.2 0 1.5 3.6 2.1-4.8 1.9 0 1.4 2.4 1.2 2.9 1.4-2 2 .6 1.6-1.6 2.1 .3 1-3.8 1.5 4.1 1.7 2.8 1.4 6.8 1.6-5 1.9 3.3 1.2-3.5 1.9 1.4 1.6 2.1 1-1.6 2 1.2M364.7 170.2l1.8-4.5 1.5-.6 1-3.1 1.7 2.3 2.1-2.6 1.6 3.5 1.6-4.2 1-1.6 2 5.7 2.1-1.6 2.1-3.1 1.4-5.7 2 3.3 1.8 .8M364.7 140.1l1.3-.2 2.1-2.2 1.1 .9 2-6 1.7-2.4 2.2-.5 1.7-1.2 1.4 4.5 1.3 3.7 2 1.2 2.1-2.1 1.7 1.6 1.3-1 1.5-1.5 1 3.5 1.3-.7 2 4.2 1.4-3M364.7 162.1l1.7-3.4 1.6 7 1.6-3.9 1.4 .3 1.1 1.8 1.1-6.7 1.8 2 2 .8 1.2-1.5 2.2 .6 1.9-.8 1.8-9.6 2.2 .7 2.1-3.3 1.2 3.2 2.2-4.7 1.4 .8 2.2 2.2 1.7 6.3 1.9-5.8 1.8-1.4 1.6-.1 1.6-1.8 1.8 .7 1.4-4 1 2.6 .9 1 1.6-4.9 1-1.5 2-1.5 1.8 6.7 1.5 2.3 2-.4 1.4 5.4 1-5.5 1.8 4.3 .9-.9M364.7 135.3l1.1 3.2 1.7 .9 1 4.3 1.2-.3 1.5 4.7 1 3.5 2.1-1.9 1.5-.1 2 3.3 2.2-.3 1.1-2.7 2-.1 1.3 3.4 1.8-7.6 1.6-.5 1.6 1.3 1-2.4 1.7-2.9 1.8 .6M364.7 139.3l1.9-.1 1.3 5.9 1.3 1.5 1.7-3.5 1.7-.5 1.9-1.5 2.2 .9 1.8 .9 1.5 0 1.3 8.3 1.5-1.1M364.7 171.1l1.6-3.5 1-2.1 1.6 4.6 2.2-2.3 1.3-1.7 1.1-.6 1.1-.9 1.3-5 1.2 7.8 1.4 .2 1.2 3.2 1.2 1.8 1 1.8 1.6 1.7 1 2.4 1.3-.7 2.1 2.3 1.4 2.9 2.1 .3 2.2-.6"/>
</g>
<rect x="364.7" y="18.9" width="144.3" height="202.1" fill="none" stroke="#c2c2c2" stroke-width="1.15"/>
<path d="M388.8 221.0v-2M412.8 221.0v-2M436.9 221.0v-2M460.9 221.0v-2M484.9 221.0v-2" stroke="#c2c2c2" stroke-width=".8" fill="none"/>
<clipPath id="cpN"><rect x="522.2" y="18.9" width="144.29999999999995" height="202.1"/></clipPath>
<g clip-path="url(#cpN)" fill="none" stroke-linejoin="round" stroke-linecap="round">
<path stroke="#0072BD" stroke-width=".38" d="M522.2 185.3l1.5 3.8 1.6 .1 2.1 2.1 1.3-.9 2-.1 1.2-3.2 1.8-1.3 1.9-2 1.9 1.9 2.1 .4 1.6-5.5 2 2.1 1.3 1.6 1-1.1 2 1.2 2.1 1.4 1.9 3.7 2-3.2 1.3 6.4 1.4-3.8 1 0 1.9-1.7 1.5 2.4 2-1.2 1.9-2.7 1.7 1.2 1.4-1 2-1.1 1-4.3 1.2 2.1 1.1-3.6 1.7 4.5M522.2 132.8l2.2 1.8 1.2 1 1.6-4.2 2.2-1.8 1.5 4.2 2.1 3.7 1.1-1.4 1.7 9.1 1.9 1.8 1.9 3.8 .9 2.5 1.1-1.4 1.1 5.8 1.7 .5 1.2-5 1.3 1.4 1.9-5.2 1.7-.7 2.1 .4 1.7-3.3 1-2.1 1.8 4.5 1 2 1.4-1.6 1.8 3.6 2 3.6 1.3 2.4 1.3 1.3 1.2-2.3 1.1-3.7 2.1-1.6 1.7 0 1.6-.7 1.8 2.6 1.9-5.9 1.2-.9 1.6-5.6 1.6 4.7 1.3-1.3 2 1.2 1.4 .9 1.7 1.7 1.9-2.2 1.6 5.9 1.3-4.2 1.5-1.4 2.1-.2 2-.6 1.7-2.3 1.8-1.9 1.4-2.7 1.9 1.7 1.7-1.1 1.8 .4 1.6 5 1.7 2.6 .9-1.8 1.9 0M522.2 144.2l1.5 5.5 1.9 3.4 1.5-.6 2.1-2.4 1.3 4.1 1.4 .8 1.1 3.6 1.9-3.9 1.4 .2 2.2-3.3 1.2-1.6 2.2 .5 1.8-3.4 1.8-.6 1.2 2.9 1.4-1 1.6 .7 1.5 1.5 1.4-2.1 2-2.1 1.6-5.1 2.1-1.4 1.6-1.5 2.1-.7 1.9 8.7 2.2-2.1 1.5-5.3 2.2 4 1.1 1.7 1.6 4 1.5-2 1 .8 1.8 6.2 2.2 2.4 1.9-3.9 1.6-6.1M522.2 151.4l1.4-.4 1.8-.9 1.2-1.6 1.8-1.1 .9 1 1.9-.1 1.9 2.2 2.2-4 1.8-1.1 1.2 2.2 1.3 5 1.9 1.4 1.1 3.2 1.2 2 1.1-3.3 2 .7 1 4.2 1.2 1.9 2.2 .4 2 .4 1.7 .3 2 .2 1.5-2.5 2.2 .7 1.8 0 1.3-.4 1.8-1.5 .9-1.9 2 .8 1.6 1.8 2-1.6 1.6 .9 1.2 4.7 1-3.8 2.1 0 1.6-2.5 1.3-1.9 2.2-3.1 1.4-.4 2.1-1.4 2-4.1 1.2-2.2 1.2 6.1 1.5-2.2 1.7 1.4 2 4.3 1 5.5 2-.7 1.3-.5 1.6 .3 1.4 4.1 1.9 3.3 1.3-.1 2.1-1.4 1.7 6.1 1.9-2.9M522.2 187.9l1.8 .2 1.1-1.6 2.1-3.9 1.7 4.3 1.7-3.1 1 1.3 1.6 2.4 1-3.3 1.4 4.7 1 1.8 1.7 6.6 1.9-2.1 1.9-1.9 1.8 4.4 1.7-1.7 1.8-1.6 1.3-2.8 1.4-6.1 2.1-5.3 1.4-.3 1.5 .5 1.5 2.1 1.9-4.3 1.1 1.2 1.3 5.1 1.4-3.1 2 1.9 1.3-1.4 2-4 2.1 7.6 2.1-5 2.2-1.2 1-.5 1.6-4.4 2-1 1.4 3.1 2-6.4 1.8 1.9 1 .4 1.3-3.4 1.7-.5 2.1-3.1 1.3-6.6 1.4 4.9 1.9 1.4 1.9 3.1 1.8 2.7M522.2 146.5l1.7-1.5 1.9 4.3 1.8-3.8 1.2 4.7 1.5 5.1 1.9 .4 1.1 1.5 1.7-.1 2-5.2 1.1 2.1 2.1-2.2 1.6 5 2 4.1 1.2 1.6 1.7-.8 2.2 1.5 1.3 6.6 1.6 1.5 1.1-.9 2.2-3.4 2.1 2.9 1.2-6.2 1.9-3.1 1.9-3.6 2.2-4.5 2.1-2.7 2-2.6 1.3-3.1 2.2 4.2 1.4 1.9 2.2-4.5 2.1 2.9 1 4.6 1.5 2.4 1.3-.1 1 2.8 1.6 2 1.7-1 1.6 3 1.3-2.3 1.9-3.8 1.9 .1 1.1-3.7 1.4 4.4 2.2-2.7 1.9-2.8 1.5-3.5 1 1.7 1.5-7.8 1.5 5 2-3.8 1.2 5.2 1.4-1.6 1.7 4.8 1.2-.1 1.5-.9 1.7 .9M522.2 193.6l2.2 .2 2.2-3.3 2.1-3.2 1.7-2.2 1.7-2 1.7 1 1.9 4.7 1.1 .4 1.6 1.7 1.8-3 1.4 2.9 1.1 1.7 1.6 1 1.6-5.9 1.8 3.5 1 1.1 2.2 .9 1.4-1.2 1.9 2.7 1.8-2.3 2.2-2.5 2-.5 1.7-5.7 1.7-.3 2-1.8M522.2 152.5l2.1-4.2 1.2-3.5 1.3-.9 1.5-3.4 1.3-2.2 2.2 2.2 1.2-2.8 1.8-.8 1.6-1.7 1.6 2.9 1.7 1 1 2.9 1.1 4.6 2.2-1.4 2-2.5 2 1.6 1.9 3.9 1 2.4 1.7 5.9 1.5-2.4 1.5-2.4 1.6 .8 1.9-.8 1.7-.8 1.6-1.8 1.9-2.8 1.6-1.2 1.4 3.9 1.9 .1 1 0 1.6 1.2 1.9-.2 1.5-.7 2.1 4.6 2 3.5 2-2.3 1.8 1.1 1.2-1.4 1.4 1.2M522.2 151.7l1.9-1.1 1.8-2.9 1.1 0 1.8-2.2 1.6-.2 1.9 2.9 1.2 6.5 1.1 6.1 1.6-2.2 1.7-3.4 1.5-1.7 1.1-.6 1.4 0 2.3-2 .9-.7 1.9-3.1 1.4-1.3 1.4 3.3 1.7 3.3 1.7 3.2 1.5 7.9 1.8 1.2 1.9 2.3 2.1-1.7 1.6 .5 1.4-.3 1.1-2.2 2.1-2.9 1.3-1.3 1.9-3.8 1.6 0 1.3-1.2 1.8-4.4 2.2 .2M522.2 180.4l1.4-3.1 1.3-3.3 1.5 .7 1-1.6 2-2.7 1.7 4.2 1.6 4.3 1.4-.7M522.2 186.2l1.1-.4 1 1.4 1.8-.7 1.3-1.7 1.1-.1 1.6 3.5 1.7-.8 1.3 .8 1.5-.4 2.1 2 1.4 5.2 1.6-.9 1.5 .5 1.7 6.9 1.3 0 1.4 1 1.1-2.3 2.1-.9 2.1-4.9 1.2 3.4 1.6 .8 1.5 2 1.4-3 1.7-.5 2.1 2.6 1.5 1.1 1.4-6.7 2-1.9 2.2-5.4 1.8-3.2 1.8-.2 1.3-6 1.2-.3 1.8 4.5 1.4-1.7 1.4-4.9 2.3 1.2 1.9 .8 1.3-2.6 1.6 .1 1.4 3.6 1.9-.4 1.3-4.4 1.8 .1M522.2 162.3l1 7.6 1.1 .8 1.4-4.1 2.2 2.1 1.8 3.9 2.1 .2 1.6 3.4 1.9 1.2 1.8-4.1 1.2-.7 1.6 .4 .9-1.7 1.5-.3 1.6 5.5 2.1-2.1 1.8-5.1 1.1 .6 1.1 3.1 1.6 1.9 1-2.8 1.8-3.1 .9-3.7 1.1-3.3 2.2-.3 1.1-2.8 1.4 .9 1.3 .9 1.9 2.7 1-3.4 2.1 .9 1.6-.4 2.1-1.2 1.7-2.6 1.2-1.2 2.2-6.3 2.3 4.5 1 2.6 2 2.4 2.2-5.7 1.3 .8 1.4 3.1 1.3 5.7 2 1.2 1.3 7.9 1 9.5 1.7-.6 1 4.2 1.7 1.7 1.6 .3 1.7-3 1.7 1.4 1.6-4.7 1.3-2.1 1.9 1.3 1.2-3.5 1.6 .6 2 1.9M522.2 153.1l1.4 2.3 1-.2 1.6 .3 1.2 1.9 1 0 1.1 .4 2.1 1.3 1.1-2.3 1.8 2.1 1.4 5.2 1.9-.5 1.4-.1 1.1 2.3 1.6-1.6 1.2-2 1.9-2.1 1.9-4.6 2.1 .2 1-.1 1.8 4.4 1.3 3.7 1.2-.1 1.2 3.6 1.6 .2 2-3.5 1.5-1.7 2.1 3.3 2.2-1.4 1.2-2.1M522.2 146.2l1.6 2.9 2.2 1.9 1.9 3 2.2 3 1.2 4 1.3 1.3 1.1 1.6 2.1-1.4 2.1 6.4 1.3-6.4 1 5.6 1-4 1.9-3.8 1.7-1 1.4-7.3 1.7 1 1.3-1.2 2.1 2.2M522.2 162.5l1.7 4.8 2.2-1.7 1.7-2.6 1.8 1 1.3 .3 1.3-4.4 1.9-1.2 1.7 2.2 1.5 3.3 1.1 2.5 2 2.6 1.7-3.9 2 2.8 1.9 2.2 2.2-1 1.4 1.4 1.3 .2 1.9-2.2 1.1 5.6 1.1 .9 1.8-1.4 2-.8 1.6-2.7 1.5-.3 1.1 2.1 1.6 .8 2.2-3.1 1.8-1.3 1.3-2.2 1.5-5.5 1.3-2.8 1.7-.5 1.6-2.8 1.1 .9 1.9-2 1.3 1.4 1.7 3 1.4-1.9 2.2-1.3 1 1.7 1.2-.6 1.3-.1 1.4-2.5 1.9 .3 1.4-3 1.4-.2 1.2 1.1 2.1 3.2 1.8 .7 1.9 4.7 1.6-3.8 1.7 .7M522.2 136.7l1.5-2.3 1.2-.1 1.8 4.3 1.1-.6 1.5-1.1 1.1 3.3 1.8-1.9 1.4 2.9 1.7-4.1 1.5 1.8 2.1 .8 2 1.2 1.8 4.7 1.5-6 2.2 2.6 1.9 1.4 1.1 1.1 1.1 1.9 2.2-2.7 1.4-6.8 2 1 1.2-.7 2.1 2 2.1-6.6 1.3 7.3 1.8 .3 1.9-2.9 1.7-2.6 2.1-4 1.3-3.7 1.9 4.8 2-1.4 1.7 2.8 1.9 .4 1.3-1.1 1.4 4.3 1.7-4.5 1.2-3.8 1.7-1.2 2.2 2.2 1-.2 2.1-2.9M522.2 177.3l1.4-3.2 1-1 1.1 6.9 1.3 3.1 1.8 1.7 1.7 .2 2.1 1.8 1.9-4.1 1.4-2.9 1.7 .7 1.8 1.5 1.3-2.6 1.7-1.2 1.6-.6 1.1 5.3 1.4 .4 1.7 1.2 2 1.4 1.3-.9 2-.7 1.8-1.8 1.7-.4 1.4-2.5 1.2-2.2 1.3-4.1 1.4-3.2 1.4 2.2 1.8 2.3 1.7 4.3 2.2 .3 1.1 2 1.5 .7 .9 1.6 1.1 .3 1.3-.5 1.9-2.9 1.8 .6 1.2 1.3 1.5 4.8 1.4-2.1 1.6 .3 1.5-.1 1 .7 1.6 1.4 1-2.1M522.2 159.6l1.6-4.4 1.4 1.3 2 1.2 1.1-2.2 1.7-3.5 1.2 3.3 1.7-1 1 2.5 1.1-1.2 2.1-.3 1.1 3.7 1.3-.7 1 .2 1.6 1.6M522.2 166l1.6-.5 1.7 3.2 1.4-7.9 1.1 1.3 1.4-3.3 1.4-1.4 1.7 3.9 1.4 .5 1.6 3.3 2 4 1 2.1 2.1 2.5 1.4-3.6 1.1 1 1.6 .9 1.1-3 1.6-1.7 2.2-1 1.8-3.7 1.5-1.1 2.2 3.5 1.2-1.1 1.1-.5 2.2 2.6 1.9-1.1 1.2 2.7 2.2-2.1 1.5-5.5 1.3 4.1 1.2-3.3 1.5 1.8 1 3.1 2 .7 1.3-1.5 1.9 .6 1.7-3.3 2 0 1.3 2.2 2.3 .9 1.4-2.3 1.8 4 1.7 1.7 2.1-.4 1.1-5.6 1.6 .6 1 2.4 1.3 5.3 1.9-8.5 2.2 1.5 1.3-3 1.9 .5 1.3 1 1.4 2.7 1.8-3.1 1.5-.5 1.6-5.5 2.3-1.9 1.2-.2 1.2-2.6 1.5-.5 1.3 1.4M522.2 162.7l1.6 2.5 1.9-1.1 1.6 1.3 2.2-.2 1.9 2.4 2-1.6 2-1.9 1.6 1.2 1.1 1.9 1.3-4.9 1.8-1.2 1.7-5 1.8-1.2 1.1 3 1.6-2.2 1.7-1.2 1.8 8.7 2.1-2.5 2 1.5 1.7 2.2 1.9-3.3 2-2.3 1.3 6.4M522.2 154.9l1.9 .4 2.1-.2 1.3-4 1.2-.8 1.4-3.2 2-4.8 2 4 1.9 1.6 1.5-3.2 1.4 3.1 2-4.2 2.1 2.7M522.2 138.5l1.7-1.5 1.7 5 1.6-.8 2.1-.6 1 1.4 1.1 2.3 2.3-.5 1.8 4.3 1.2 3.8 1.8-1 2.2 8.3 1.8-1.4 1.8-2.7 1.8 3.9 1.6-1 1.4 3.9 1.8-2.1 1.6-2 2.1-1.8 1.2-.4 1.4-2.4 1.2-3.6 1.6 .6 2.2-.8 2.2-.5 2.1 4.3 2.2-5.5M522.2 196.3l1.4 2.8 1.4-2.1 1.1 2.4 1.1 3.4 1.3-2.1 1.8 1 2 1 1.2-3.6 1-1.3 2.2 .6 1.2-.9 1.5 .6 1-.9 1.5 1.3 2.2 1.6 1.2-2M522.2 195.8l1.4 5.6 1.8-4.2 1.1-4 2.2-1.7 1.8-3.7 1.2-2.9 1.2-1.7 1.8 2.4 1.1 .3 2-4.3 1.6 5.4 1.7-3.2 1.3-.7 2 1.6 2-3.7 1 2.6 1.1-5.4 1.1 4.8 1.2-4.5 1.8 7.3 1.1-6.5 1.7 .5 2-2 1.5-4.8 1.4 2 1-2.8 1.4-2.9 1.9 1.7 1.3 .7 1.5-1.8 1.5 2.3 2-.6 1.1-3 1.4 2.7 1.8-2.3 2 .1 1.8-1 1.1 6.7 1.5 .4 1.3 4.7 1.6-2.9 1.8-2.4 1.9-2.8 1.9 1.2 1 6.5 1.8-2.6 1 3 1.4 5.3"/>
<path stroke="#73AC38" stroke-width=".38" d="M522.2 114.1l2.4 3.3 1.5 2.6 .5 3.5 -.1 4.1 1.2 3.1 -.1 4.1 1.8 3.2 .7 3.3 .9 4.3 -.3 2.6 .9 3.5M522.2 113.2l.8 2.5 .8 4 1.8 3.9 .2 3.2 1.1 3.6 -.6 2.6 1 4 1 3.1 1 4 .7 3.2 1.2 2.7 1.3-.7 1.9 3.9 1.9 4.5 1.9-3.2 1.8-4.2 1-3 1.6 1.4 1.9-.4 1.4 .7 1.3 4.2 1.1 .2 2 6.1 1-5.4 2.1 5.9 1.8 .6 1.9 2.1 1.8-7.6 1-.4 1.4 .4 1.9-3.6 1.7 .2 2.1-1.4M522.2 89.3l.2 4.4 .6 3.7 1.6 3.7 1.1 3.7 .4 2.8 .2 3.7 .1 3.7 .8 2.7 1.8 3.5 .9 4 2.1 3.5 1.5 3.7 .2 3 1.7 3.1 .2 2.8 1.9 4.3 2.1-1.3 1 3.3 1.8 .3 1.8 2.4 2.1-5 1.5 3.4 2-.7 1.1 2 1-1 1.7 3.1 2.2-2.2 1.6 3 1.4-4.6 1.6 3.7 1.9 .1 1.8-.5 2.2-2.3 1.4 0 1.9 .3 1.3 5.4M522.2 121.9l0 4.3 0 4 1.3 3.4 1.4 3.8 1.9 3.1 .8 3.8M522.2 101.3l.9 3.6 .2 4.2 1.3 2.5 1.1 2.6 .8 3.9 .4 3.1 2 4.2 -.7 3.5 -.8 3.1 .5 3.6 -.8 3.2 .3 3.2 .3 3.1 1.9 3 1.7 .2 1.4-3.9 1.7 1.1 1.4-2.4 2-2.3 1.9 4 1.9-1.9 1.8-.4 1.6 5.1 2.2 .6 2.2 6.3 2.1 0 1.7 1 1.5 2.5 1.6-2 1.7 1.9 2-1 2.1-3.6 1.2-2.8 1.9 0 1.3-.1 1.3-.3M522.2 108.6l.9 4.1 1.3 3.5 .7 4.4 1.1 3 .6 4.4 1.5 3.5 .6 4.3 .6 3.3 1.5-1.4 1.8 2.8 1.7 2.5 1 .2 1.4-.9 1.8 5.7 1.2 3.8 1.4-.1 1.4 .7 1.5 4.3 1.4-1 2.1 3.1 2.1-.4 1.1-.5 1.5 .9 1.6-2.7 1.2-4.8 1.6-.3 1.7-2.1 2-2.1 2.1 3.7 1.5-6.5 1.6 .5 2.1-1 2.2 1.2 1.8-2.8 2.2 2.5 2.2 2.9 1.5 3.3 1-1.6 1.9 1.4 2.1 1.6 2.1 3.9M522.2 94.5l0 4.4 .2 2.6 2.1 3.9 1.4 2.8 1.1 3 1 3.7 .7 3.1 .6 4.5 1 3.1 .7 4.3 -.6 4.2 .5 3.8 -.1 4.5M522.2 100.4l1 3.8 .7 3.8 .2 4.1 .3 3.7 1.1 3.9 -.3 3 .8 3.9 .7 3.2 1.4 4.3 1.4 3.4 .7 3.1 1.5 1.5 1-5.8 1.4 4.4 1.5-2.2 1.3-.3 1.9-.1 1.4-2.3 2.2 1.1 1.4 .1 1.7 2.8 1.8-3.7 1.6 2.4 1 4.9 1.7 .1 2.1-2.5 2.1 2.7 1.6 .2 1.3-.8 1.2 5.2 1.6-1.4 1.6 1.9 1.3-1.3 1.4 1.2 1.2-3.8 2 1.8 1.8-1.8M522.2 123.8l.9 3.2 .7 2.5 1.8 2.9 2.1 3.3 1.1 3.7 1.7 4.3 -.3 2.7 2.2-1 1.8 .2 2.1-1.2 2.1 3.5 1.4-2 1.5 4.7 1.6-5.8 1.2 .4 1.6 1.2 2.2 4.3 1.4 2 1.6 3.9 1.5-.7 1.5 7.3 1.4-2.9 1.8 .7 1.5-2.7M522.2 115.5l0 4.4 2 3.5 2.1 4.4 -.4 2.6 1.7 2.7 .6 4.4 -.8 3.4 1.8 1.6 1.9 3.1 2.1-.6 1.9-4.4 1.5-2.8 1.4 3.2 2-1.5 2 .2 1.8 3.1 1.5-1.2 1.3 3.8 2-.3 1.3 1 1.4 .5 1-.3 1.9-3.9 2.1 5.9 1.5-1.9 1.7 .1 1.4 4.7M522.2 120.1l.7 3.4 .7 3.6 -.4 3.1 1.8 4.4 1.6 4.2 1.3 2.7 .5 3 -.2 2.7 1.2 2.1 1.3 2.7 1.5-.5 1.2 4.1 2.1 3.5 1.8-2.5 1.2 0 1.9 0 1.4 .5 1.7-.4 2.2-.4 1.4 3.4 2 2.1 1.4 1.4 1.2 0 1.7-3.8 1.8 2.2 1.5 3.1 1.3 2.9 1.8-4.4 1.9 1.1 2.1-1.5 1-.2 1.8-1.4 1.7-5.9 1.5 4.3 1.9-4 1.8 .2 1.2-1.4 2.1-.4 1.3-1.6 1.9-1.2 2.2-1.1 2.2-9 1.3-.8 1.1 3.5 1.5 5.6M522.2 91l0 3.3 0 2.7 0 3.5 .1 2.9 1.4 2.6 -.1 2.8 -.5 2.9 1 3.9 2 4.3 .8 4.3 .6 4.2 1.3 3.3 .5 2.7 1.9 3.3 1.4 4.1 1.3 4.4 -.2 4.1M522.2 100l.9 3.4 .3 2.5 .8 4.1 1 2.8 1 3.8 .5 3.5 -.5 3.3 -.1 3.3 .6 4.2 1.4 2.8 1.7 4.3 .8 4.1 .3 3.9 1 3.8 .8 3.5 .6 4.5 1.1-2.4 1.9 2.4 1 1.6 1 1.7 1.8 .9 1.6 2.7 1.7-3.7 1.2 .3 2.3-.8 1.9-4 1.6-3.2 1.5-2.2 1.5-4.3 1.5-2.6 1.7 .4 1-1.7 1.3-3.3 1.3-5.2 1.9-1.4 1.7-5.4 2.2 4 1.3 2.5 1.8 .2 1.6-4.4M522.2 95l.3 3.6 .8 3.9 -.7 3.4 .9 2.6 2.3 3.4 -.3 3.4 1 4.1 .5 3.5 1.5 3.2 1.1 2.8 .3 3.1 .8 2.9 .2 2.6 1 2.6 .7 3.6 1.6-2.3 1 3.2 1.5 .5 1.4-2.3 2 4.3 2-2.5 1.8 1.7 1.9-1.1 2.1 0 1.7 2.5 2 3.3 1.6-1 1.6 1.1 1.9-1 1.1 1.2 1.4 1.1 1.9-2.4 1 5.4 1.1 .4 1.4-2.3 2 5.4 2.1-7.1 1.9 2.2 1.7 .6 1-6.1 1.2 .4 1.1 .1 1.7 1.5 1-.6 1.8-.7 2.1-.8 2.1 2.9 1.2 2.1 1.7-1.3 1.6 2.4 1.4 1.4 .9-2.8 2.2 1.7M522.2 94.2l0 3.9 0 3.4 .6 3.5 -.6 2.8 .4 3.6 .2 4 1.7 4.2 1.5 3.9 1.7 4.1 .5 3.6 .4 3.2 1.1 4.4 -1.4 3.6 .7 3.3 .2 2.8 1.2 3.8 1.8-1.7 1.5 1.1 1.3-5.9 1.3-.7 1.7 .9 1.6-1.7 2.2 .9 1.5 1.5 1.7-4.1 2.2 6.4 1.8-2 2 4.3 2.1-3 2.2 0 2 2.1 2.1-.5 1.2 .3 1.7 .1 1.7 2.3 1.3 3.5 2 2.9 1.1 1.1 1.4-1.6 2-3.7 1.9 2.2 1.8-1.9 1.3 2.4 1.9-.8 2.2 .2 1.8 2.5M522.2 96.7l1.3 3.3 .9 4.1 0 3.5 .7 3.9 .4 2.6 1.3 3.6 2.5 2.9 1.6 4.3 -.5 2.7 1.5 3.6 .5 3.3 .6 3.3 1.2-2.9 2.1 4.6 1.1 .3 1.6 3.3 1.4 5.3 1.3-2.9 1.3 4 1.8 3.7 1.1-2.9 2.1 2.8 1.3 1.3 1.1-4.2 1.8-2.3 2.3-3.9 1.2-2.8 1.7 3.2 1.5-.2 1.6 1.3 1.6-2.4 1.1 1.4 1.3 .8 2.1-3.1 1.6 .6 1.2-3.8M522.2 107.2l1.1 4.3 1.2 3 1.3 3.2 1.5 2.6 1.3 3.7 .9 3.5 1.5 4.1 1.9 4.5 1 3.8 1.4 4.3 1.7 4.3 1.8 3.6 1 3.3 1.1 3.5 .6 2.8 1.5-2.7 1.1-.8 1.9 .3 2.2-3.6 2 2.4 1.4-3.2 1.4 3.7 1.1 .5 1.5-3.1 1.5-.5 1.3-.6 1.7-4.6 2-4.7 1.1 1.9 1.6 .6 2.2 1.4 2.2-1.6 1 2.9 1.5-.4 1.2 4.6 2 4.9 1.5 .5 1.9-.5 1.2-1.3 2.1 1.7 1.9 1.5 1.1 .7 1.9-3.3 1.1-.3 1.3-1.1 1.8 5.3 1.6-3.4 1.5-4.4 1.9 3.1 1.4 .9 1.2 2.1M522.2 123.2l.6 3.9 .6 2.8 .5 2.6 0 4.4 1.5 2.9 1.5-1.7 1.4 2.9 1.8-2 1.7 .8 1.2-1.2 1.3 1.5 1.9-1.2 .9 .1 1.5 1.5 1.7 5.1 1.3 1.9 2-5.2 1.8 2.5 2-1.7 1 3.3 1.6 1.4 1-.5 1.5-.8 2 3 1.1 .1 1.8 3.1 2.3 2.8 1.2-2.5 1.7-2.5 1.8 1.4 1.1-.3 1.3-.1 1.8 4.5 2.1 1.1 1.2-3.3 1.8-4.2 1.2-5.2 1.3-.1 1.4 .3"/>
<path stroke="#0072BD" stroke-width=".38" d="M522.2 181.4l2.2-.3 1.3 1.7 1.6-.5 2.1 1.4 2.1-4 2.1-3.3 2.1-.6 1.8 4.8 1.5-7.2 2.2 2.7 1.7-2.2 1.4-2 2.1 2.9 1.9 3.8 1.1-1.4 2.1-.3 1.6-1.8 1.1-1.3 2-1.7 2-6.5 1.7-.3 2 2.7 1.6 2.1 1.1 1.5 1.6 3.1 1.1-2.6 1.1 5.8 1-.4 1.6 2.7 1.1 3 1.5 2.6 2 4.3 1.4-2.4 1.2 1.9 1.4-5 2.1-2.5 1.5-3 1.1-2.7 1.7 2 1.8-1.8 2.1 3.7 1.2 .1 1.1 1.5 2.2-2 1.6 .4 1-8 1.8 4.1 2 4.5 1.9-.3 2 .6M522.2 191.7l1.2 5.5 1.5-2.2 1.4-4.7 2-2.1 1.1 .5 1.7-2.8 1.2-2.3 1.7-4.3 2.2-4.4 1.4 .3 1.7-2.5 1.3 2.7 1.1-4.9 1.4 1.8 1.4 2.6 1.8-4.8 1 2.8 2.2 .5 1.7-2.9 2 .1 1.1-.1M522.2 151.7l1.5 .9 1.5-1.1 1.2 1.7 2 .6 1.3 10.7 1.1 3.6 1.3-1 1.3 2 1.9-4.1 1.4 .3 2.2 4.4 1.2 .9 1.3-4.5 2.1-1.4 2.2 2.1 2.1 1.5 2.2 2.5 1.7 3.8 1.2-.3 1 3.6 1.4-1.7 1-1.2 1.7 3 1.7-6.4 2-4.4 1.6-.9 1.9-6.9 2.1-4.9 2-7.3 1.8-4.2 1.7 7.6 1.6-.3 1.3-.3 2.1 5 2 2.4 1.9-4.7 1.8-.2 1.6 3.1 1.4-1.3 1.8 4.5 2.1 2.4 1.9 4.3 1.3 4.4 1.1-1.7 1.2-2.3 1.2 2.4 1.4-2.2 1.6-2.7 2.1 2.5 1.5-3.9 1.9-2.6 1.4 2.5 2.1 1.3 2.1 1.8M522.2 202.9l1.9-6.2 1.5-3.7 1.7-.8 1.7-4.2 1.1-1.5 1.1 1 2.1-4.9 1.4-1.1 1.1-3.6 1.6 4.7M523.5 91l3 1.6 3.5 1.2M572 98.7l.7 .7"/>
</g>
<rect x="522.2" y="18.9" width="144.29999999999995" height="202.1" fill="none" stroke="#6a6a6a" stroke-width="0.85"/>
<path d="M546.2 221.0v-2M570.3 221.0v-2M594.4 221.0v-2M618.4 221.0v-2M642.5 221.0v-2" stroke="#6a6a6a" stroke-width=".8" fill="none"/>
<text x="121.6" y="9.6" font-size="11.6" text-anchor="middle" textLength="11.4" lengthAdjust="spacingAndGlyphs" fill="#222">W</text>
<text x="279.3" y="9.6" font-size="11.6" text-anchor="middle" textLength="7.8" lengthAdjust="spacingAndGlyphs" fill="#222">H</text>
<text x="444" y="9.6" font-size="11.6" text-anchor="middle" textLength="6.1" lengthAdjust="spacingAndGlyphs" fill="#222">E</text>
<text x="600.4" y="9.6" font-size="11.6" text-anchor="middle" textLength="8.1" lengthAdjust="spacingAndGlyphs" fill="#222">N</text>
<text x="20.8" y="12.8" font-size="12" textLength="9.8" lengthAdjust="spacingAndGlyphs" fill="#222">a)</text>
<text x="16.6" y="260.3" font-size="12" textLength="10.7" lengthAdjust="spacingAndGlyphs" fill="#222">b)</text>
<text x="244" y="260.3" font-size="12" textLength="9.6" lengthAdjust="spacingAndGlyphs" fill="#222">c)</text>
<text x="454.1" y="260.3" font-size="12" textLength="10.1" lengthAdjust="spacingAndGlyphs" fill="#222">d)</text>
<text x="49" y="25.5" font-size="10.5" text-anchor="end" textLength="5.5" lengthAdjust="spacingAndGlyphs" fill="#222">0</text>
<text x="49" y="90.2" font-size="10.5" text-anchor="end" textLength="16.9" lengthAdjust="spacingAndGlyphs" fill="#222">500</text>
<text x="49" y="157.0" font-size="10.5" text-anchor="end" textLength="22.3" lengthAdjust="spacingAndGlyphs" fill="#222">1000</text>
<text x="49" y="221.7" font-size="10.5" text-anchor="end" textLength="22.3" lengthAdjust="spacingAndGlyphs" fill="#222">1500</text>
<text transform="translate(23.9,116.4) rotate(-90)" font-size="10.2" text-anchor="middle" textLength="45" lengthAdjust="spacingAndGlyphs" fill="#222">Depth (m)</text>
<text x="99" y="231.0" font-size="10.5" text-anchor="middle" textLength="22.4" lengthAdjust="spacingAndGlyphs" fill="#222">1000</text>
<text x="147" y="231.0" font-size="10.5" text-anchor="middle" textLength="22.4" lengthAdjust="spacingAndGlyphs" fill="#222">2000</text>
<text x="193.4" y="231.0" font-size="10.5" text-anchor="middle" textLength="22.4" lengthAdjust="spacingAndGlyphs" fill="#222">3000</text>
<text x="234.1" y="231.0" font-size="10.5" text-anchor="middle" textLength="22.4" lengthAdjust="spacingAndGlyphs" fill="#222">1000</text>
<text x="281.7" y="231.0" font-size="10.5" text-anchor="middle" textLength="22.4" lengthAdjust="spacingAndGlyphs" fill="#222">2000</text>
<text x="327.3" y="231.0" font-size="10.5" text-anchor="middle" textLength="22.4" lengthAdjust="spacingAndGlyphs" fill="#222">3000</text>
<text x="412.1" y="231.0" font-size="10.5" text-anchor="middle" textLength="22.4" lengthAdjust="spacingAndGlyphs" fill="#222">1000</text>
<text x="459" y="231.0" font-size="10.5" text-anchor="middle" textLength="22.4" lengthAdjust="spacingAndGlyphs" fill="#222">2000</text>
<text x="504.3" y="231.0" font-size="10.5" text-anchor="middle" textLength="22.4" lengthAdjust="spacingAndGlyphs" fill="#222">3000</text>
<text x="570.8" y="231.0" font-size="10.5" text-anchor="middle" textLength="22.4" lengthAdjust="spacingAndGlyphs" fill="#222">1000</text>
<text x="617.7" y="231.0" font-size="10.5" text-anchor="middle" textLength="22.4" lengthAdjust="spacingAndGlyphs" fill="#222">2000</text>
<text x="663.9" y="231.0" font-size="10.5" text-anchor="middle" textLength="22.4" lengthAdjust="spacingAndGlyphs" fill="#222">3000</text>
<text x="293.1" y="245.4" font-size="10.2" textLength="132.7" lengthAdjust="spacingAndGlyphs" fill="#222">Elapsed Track Time (seconds)</text>
<path d="M47.6 263.5V415.6" stroke="#4d4d4d" stroke-width=".8" fill="none"/>
<path d="M47.2 415.6H239.6" stroke="#a0a0a0" stroke-width="1" fill="none"/>
<path d="M45.3 402.4h2.3" stroke="#4d4d4d" stroke-width=".7"/>
<text x="44.6" y="406.0" font-size="10.5" text-anchor="end" textLength="5.4" lengthAdjust="spacingAndGlyphs" fill="#444">0</text>
<path d="M45.3 365.7h2.3" stroke="#4d4d4d" stroke-width=".7"/>
<text x="44.6" y="369.3" font-size="10.5" text-anchor="end" textLength="16.4" lengthAdjust="spacingAndGlyphs" fill="#444">250</text>
<path d="M45.3 329.0h2.3" stroke="#4d4d4d" stroke-width=".7"/>
<text x="44.6" y="332.6" font-size="10.5" text-anchor="end" textLength="16.4" lengthAdjust="spacingAndGlyphs" fill="#444">500</text>
<path d="M45.3 292.3h2.3" stroke="#4d4d4d" stroke-width=".7"/>
<text x="44.6" y="295.9" font-size="10.5" text-anchor="end" textLength="16.4" lengthAdjust="spacingAndGlyphs" fill="#444">750</text>
<path d="M75.3 415.6v2.2" stroke="#4d4d4d" stroke-width=".7"/>
<text x="75.3" y="427.5" font-size="10.6" text-anchor="middle" textLength="9.2" lengthAdjust="spacingAndGlyphs" fill="#222">W</text>
<path d="M121.2 415.6v2.2" stroke="#4d4d4d" stroke-width=".7"/>
<text x="121.2" y="427.5" font-size="10.6" text-anchor="middle" textLength="6.4" lengthAdjust="spacingAndGlyphs" fill="#222">H</text>
<path d="M166.5 415.6v2.2" stroke="#4d4d4d" stroke-width=".7"/>
<text x="166.5" y="427.5" font-size="10.6" text-anchor="middle" textLength="5.0" lengthAdjust="spacingAndGlyphs" fill="#222">E</text>
<path d="M212.8 415.6v2.2" stroke="#4d4d4d" stroke-width=".7"/>
<text x="212.8" y="427.5" font-size="10.6" text-anchor="middle" textLength="6.6" lengthAdjust="spacingAndGlyphs" fill="#222">N</text>
<text transform="translate(9.5,340.1) rotate(-90)" font-size="10.2" text-anchor="middle" textLength="75.4" lengthAdjust="spacingAndGlyphs" fill="#222">Median Distance</text>
<text transform="translate(22.5,341.5) rotate(-90)" font-size="10.2" text-anchor="middle" textLength="82.7" lengthAdjust="spacingAndGlyphs" fill="#222">Above Seafloor (m)</text>
<path d="M75.3 270.4V340" stroke="#a9d4f1" stroke-width="1.1"/>
<path d="M75.0 335.0 L75.0 335.8 L75.0 336.6 L75.0 337.4 L75.0 338.2 L75.0 339.0 L75.0 339.8 L75.0 340.6 L75.0 341.4 L74.9 342.2 L74.9 343.0 L74.9 343.8 L74.9 344.6 L74.9 345.4 L74.9 346.2 L74.9 347.0 L74.9 347.8 L74.9 348.6 L74.9 349.4 L74.9 350.2 L74.9 351.0 L74.9 351.8 L74.9 352.6 L74.9 353.4 L74.8 354.2 L74.8 355.0 L74.8 355.9 L74.7 356.8 L74.7 357.6 L74.6 358.5 L74.6 359.4 L74.5 360.2 L74.4 361.1 L74.3 362.0 L74.2 362.8 L74.1 363.6 L73.9 364.4 L73.7 365.2 L73.5 366.0 L73.4 366.8 L73.2 367.6 L73.0 368.4 L72.8 369.2 L72.6 370.0 L72.3 370.8 L71.9 371.6 L71.5 372.4 L71.1 373.2 L70.8 374.0 L70.4 374.8 L70.0 375.6 L69.6 376.4 L69.1 377.2 L68.6 378.0 L68.0 378.8 L67.3 379.7 L66.5 380.5 L65.8 381.3 L65.0 382.2 L64.2 383.0 L63.2 384.0 L62.3 385.0 L61.5 386.0 L61.0 387.0 L61.0 388.0 L61.3 389.0 L62.0 390.0 L63.0 390.8 L64.0 391.6 L65.1 392.4 L66.2 393.2 L67.1 394.0 L68.0 394.8 L68.7 395.6 L69.4 396.4 L70.1 397.2 L70.7 398.0 L71.3 398.8 L71.8 399.6 L72.3 400.4 L72.8 401.2 L73.3 402.0 L73.8 402.9 L74.3 403.9 L74.8 404.9 L75.3 405.8 L75.3 405.8 L75.8 404.9 L76.3 403.9 L76.8 402.9 L77.3 402.0 L77.8 401.2 L78.3 400.4 L78.8 399.6 L79.3 398.8 L79.9 398.0 L80.5 397.2 L81.2 396.4 L81.9 395.6 L82.6 394.8 L83.5 394.0 L84.4 393.2 L85.5 392.4 L86.6 391.6 L87.6 390.8 L88.6 390.0 L89.3 389.0 L89.6 388.0 L89.6 387.0 L89.1 386.0 L88.3 385.0 L87.4 384.0 L86.4 383.0 L85.6 382.2 L84.8 381.3 L84.0 380.5 L83.3 379.7 L82.6 378.8 L82.0 378.0 L81.5 377.2 L81.0 376.4 L80.6 375.6 L80.2 374.8 L79.8 374.0 L79.5 373.2 L79.1 372.4 L78.7 371.6 L78.3 370.8 L78.0 370.0 L77.8 369.2 L77.6 368.4 L77.4 367.6 L77.2 366.8 L77.0 366.0 L76.9 365.2 L76.7 364.4 L76.5 363.6 L76.4 362.8 L76.3 362.0 L76.2 361.1 L76.1 360.2 L76.0 359.4 L76.0 358.5 L75.9 357.6 L75.9 356.8 L75.8 355.9 L75.8 355.0 L75.8 354.2 L75.7 353.4 L75.7 352.6 L75.7 351.8 L75.7 351.0 L75.7 350.2 L75.7 349.4 L75.7 348.6 L75.7 347.8 L75.7 347.0 L75.7 346.2 L75.7 345.4 L75.7 344.6 L75.7 343.8 L75.7 343.0 L75.7 342.2 L75.6 341.4 L75.6 340.6 L75.6 339.8 L75.6 339.0 L75.6 338.2 L75.6 337.4 L75.6 336.6 L75.6 335.8 L75.6 335.0z" fill="#2b8ad0"/>
<path d="M120.9 306.0 L120.9 306.8 L120.9 307.6 L120.9 308.4 L120.9 309.2 L120.9 310.1 L120.9 310.9 L120.9 311.7 L120.9 312.5 L120.9 313.3 L120.9 314.1 L120.9 314.9 L120.9 315.7 L120.9 316.5 L120.9 317.4 L120.9 318.2 L120.9 319.0 L120.9 319.8 L120.9 320.6 L120.8 321.4 L120.8 322.2 L120.8 323.0 L120.8 323.8 L120.8 324.6 L120.8 325.5 L120.8 326.3 L120.8 327.1 L120.8 327.9 L120.8 328.7 L120.8 329.5 L120.8 330.3 L120.8 331.1 L120.8 331.9 L120.8 332.8 L120.8 333.6 L120.8 334.4 L120.8 335.2 L120.8 336.0 L120.7 336.8 L120.7 337.6 L120.6 338.5 L120.5 339.3 L120.4 340.1 L120.4 340.9 L120.3 341.7 L120.2 342.5 L120.1 343.4 L120.1 344.2 L120.0 345.0 L119.8 345.8 L119.7 346.7 L119.5 347.5 L119.3 348.3 L119.2 349.2 L119.0 350.0 L118.8 350.8 L118.7 351.7 L118.5 352.5 L118.3 353.3 L118.2 354.2 L117.9 355.0 L117.7 355.8 L117.4 356.6 L117.2 357.4 L116.9 358.2 L116.6 359.0 L116.3 359.8 L116.0 360.6 L115.8 361.4 L115.5 362.2 L115.1 363.0 L114.8 363.9 L114.4 364.8 L114.0 365.6 L113.5 366.5 L113.1 367.4 L112.7 368.2 L112.3 369.1 L112.0 370.0 L111.7 370.9 L111.5 371.7 L111.3 372.6 L111.0 373.4 L110.8 374.3 L110.7 375.1 L110.6 376.0 L110.6 376.8 L110.6 377.6 L110.8 378.4 L110.9 379.2 L111.2 380.0 L111.6 380.8 L112.1 381.7 L112.6 382.5 L113.1 383.3 L113.7 384.2 L114.2 385.0 L114.7 385.8 L115.2 386.7 L115.7 387.5 L116.2 388.3 L116.7 389.2 L117.1 390.0 L117.4 390.9 L117.7 391.7 L118.0 392.6 L118.2 393.4 L118.5 394.3 L118.7 395.1 L119.0 396.0 L119.2 396.9 L119.3 397.7 L119.5 398.6 L119.7 399.4 L119.9 400.3 L120.0 401.1 L120.2 402.0 L120.3 402.9 L120.5 403.8 L120.6 404.7 L120.8 405.5 L120.9 406.4 L121.1 407.3 L121.2 408.2 L121.2 408.2 L121.3 407.3 L121.5 406.4 L121.6 405.5 L121.8 404.7 L121.9 403.8 L122.1 402.9 L122.2 402.0 L122.4 401.1 L122.5 400.3 L122.7 399.4 L122.9 398.6 L123.1 397.7 L123.2 396.9 L123.4 396.0 L123.7 395.1 L123.9 394.3 L124.2 393.4 L124.4 392.6 L124.7 391.7 L125.0 390.9 L125.3 390.0 L125.7 389.2 L126.2 388.3 L126.7 387.5 L127.2 386.7 L127.7 385.8 L128.2 385.0 L128.7 384.2 L129.3 383.3 L129.8 382.5 L130.3 381.7 L130.8 380.8 L131.2 380.0 L131.5 379.2 L131.6 378.4 L131.8 377.6 L131.8 376.8 L131.8 376.0 L131.7 375.1 L131.6 374.3 L131.4 373.4 L131.1 372.6 L130.9 371.7 L130.7 370.9 L130.4 370.0 L130.1 369.1 L129.7 368.2 L129.3 367.4 L128.8 366.5 L128.4 365.6 L128.0 364.8 L127.6 363.9 L127.3 363.0 L126.9 362.2 L126.6 361.4 L126.4 360.6 L126.1 359.8 L125.8 359.0 L125.5 358.2 L125.2 357.4 L125.0 356.6 L124.7 355.8 L124.5 355.0 L124.2 354.2 L124.1 353.3 L123.9 352.5 L123.7 351.7 L123.6 350.8 L123.4 350.0 L123.2 349.2 L123.1 348.3 L122.9 347.5 L122.7 346.7 L122.6 345.8 L122.4 345.0 L122.3 344.2 L122.3 343.4 L122.2 342.5 L122.1 341.7 L122.0 340.9 L122.0 340.1 L121.9 339.3 L121.8 338.5 L121.7 337.6 L121.7 336.8 L121.6 336.0 L121.6 335.2 L121.6 334.4 L121.6 333.6 L121.6 332.8 L121.6 331.9 L121.6 331.1 L121.6 330.3 L121.6 329.5 L121.6 328.7 L121.6 327.9 L121.6 327.1 L121.6 326.3 L121.6 325.5 L121.6 324.6 L121.6 323.8 L121.6 323.0 L121.6 322.2 L121.6 321.4 L121.5 320.6 L121.5 319.8 L121.5 319.0 L121.5 318.2 L121.5 317.4 L121.5 316.5 L121.5 315.7 L121.5 314.9 L121.5 314.1 L121.5 313.3 L121.5 312.5 L121.5 311.7 L121.5 310.9 L121.5 310.1 L121.5 309.2 L121.5 308.4 L121.5 307.6 L121.5 306.8 L121.5 306.0z" fill="#8dcbf2"/>
<path d="M166.2 311.0 L166.2 311.8 L166.2 312.6 L166.2 313.4 L166.2 314.2 L166.2 315.0 L166.2 315.8 L166.2 316.6 L166.2 317.4 L166.2 318.2 L166.2 319.0 L166.2 319.8 L166.2 320.6 L166.2 321.4 L166.2 322.2 L166.2 323.0 L166.2 323.9 L166.2 324.7 L166.2 325.5 L166.2 326.3 L166.2 327.1 L166.2 327.9 L166.2 328.7 L166.2 329.5 L166.2 330.3 L166.2 331.1 L166.2 331.9 L166.2 332.7 L166.2 333.5 L166.2 334.3 L166.2 335.1 L166.1 335.9 L166.1 336.7 L166.1 337.5 L166.1 338.3 L166.1 339.1 L166.1 339.9 L166.1 340.7 L166.1 341.5 L166.1 342.3 L166.1 343.1 L166.1 343.9 L166.1 344.7 L166.1 345.5 L166.1 346.3 L166.1 347.1 L166.1 348.0 L166.1 348.8 L166.1 349.6 L166.1 350.4 L166.1 351.2 L166.1 352.0 L166.1 352.8 L166.1 353.6 L166.1 354.4 L166.1 355.2 L166.1 356.0 L166.1 356.8 L166.1 357.6 L166.1 358.4 L166.1 359.2 L166.1 360.0 L166.0 360.9 L165.9 361.8 L165.8 362.6 L165.7 363.5 L165.6 364.4 L165.5 365.2 L165.4 366.1 L165.2 367.0 L165.1 367.9 L164.8 368.8 L164.6 369.6 L164.4 370.5 L164.2 371.4 L163.9 372.2 L163.7 373.1 L163.4 374.0 L163.1 374.9 L162.7 375.8 L162.4 376.6 L162.0 377.5 L161.6 378.4 L161.2 379.2 L160.8 380.1 L160.4 381.0 L159.8 381.8 L159.2 382.7 L158.5 383.5 L157.8 384.3 L157.1 385.2 L156.3 386.0 L155.3 386.8 L154.3 387.6 L153.2 388.4 L152.1 389.2 L151.0 390.0 L150.0 390.8 L149.2 391.7 L148.7 392.5 L148.9 393.5 L149.8 394.5 L151.4 395.3 L153.3 396.2 L155.3 397.0 L157.1 398.0 L158.8 399.0 L160.3 400.0 L161.6 401.0 L162.8 402.0 L163.7 403.0 L164.6 403.9 L165.2 404.8 L165.9 405.7 L166.5 406.6 L166.5 406.6 L167.1 405.7 L167.8 404.8 L168.4 403.9 L169.3 403.0 L170.2 402.0 L171.4 401.0 L172.7 400.0 L174.2 399.0 L175.9 398.0 L177.7 397.0 L179.7 396.2 L181.6 395.3 L183.2 394.5 L184.1 393.5 L184.3 392.5 L183.8 391.7 L183.0 390.8 L182.0 390.0 L180.9 389.2 L179.8 388.4 L178.7 387.6 L177.7 386.8 L176.7 386.0 L175.9 385.2 L175.2 384.3 L174.5 383.5 L173.8 382.7 L173.2 381.8 L172.6 381.0 L172.2 380.1 L171.8 379.2 L171.4 378.4 L171.0 377.5 L170.6 376.6 L170.3 375.8 L169.9 374.9 L169.6 374.0 L169.3 373.1 L169.1 372.2 L168.8 371.4 L168.6 370.5 L168.4 369.6 L168.2 368.8 L167.9 367.9 L167.8 367.0 L167.6 366.1 L167.5 365.2 L167.4 364.4 L167.3 363.5 L167.2 362.6 L167.1 361.8 L167.0 360.9 L166.9 360.0 L166.9 359.2 L166.9 358.4 L166.9 357.6 L166.9 356.8 L166.9 356.0 L166.9 355.2 L166.9 354.4 L166.9 353.6 L166.9 352.8 L166.9 352.0 L166.9 351.2 L166.9 350.4 L166.9 349.6 L166.9 348.8 L166.9 348.0 L166.9 347.1 L166.9 346.3 L166.9 345.5 L166.9 344.7 L166.9 343.9 L166.9 343.1 L166.9 342.3 L166.9 341.5 L166.9 340.7 L166.9 339.9 L166.9 339.1 L166.9 338.3 L166.9 337.5 L166.9 336.7 L166.9 335.9 L166.8 335.1 L166.8 334.3 L166.8 333.5 L166.8 332.7 L166.8 331.9 L166.8 331.1 L166.8 330.3 L166.8 329.5 L166.8 328.7 L166.8 327.9 L166.8 327.1 L166.8 326.3 L166.8 325.5 L166.8 324.7 L166.8 323.9 L166.8 323.0 L166.8 322.2 L166.8 321.4 L166.8 320.6 L166.8 319.8 L166.8 319.0 L166.8 318.2 L166.8 317.4 L166.8 316.6 L166.8 315.8 L166.8 315.0 L166.8 314.2 L166.8 313.4 L166.8 312.6 L166.8 311.8 L166.8 311.0z" fill="#2a6594"/>
<path d="M212.6 312.5 L212.5 313.3 L212.5 314.2 L212.4 315.0 L212.4 315.8 L212.3 316.7 L212.3 317.5 L212.2 318.3 L212.2 319.2 L212.1 320.0 L212.1 320.8 L212.0 321.7 L212.0 322.5 L211.9 323.3 L211.9 324.2 L211.8 325.0 L211.7 325.8 L211.7 326.7 L211.6 327.5 L211.5 328.3 L211.5 329.2 L211.4 330.0 L211.3 330.8 L211.3 331.7 L211.2 332.5 L211.1 333.3 L211.1 334.2 L211.0 335.0 L210.9 335.8 L210.9 336.7 L210.8 337.5 L210.7 338.3 L210.7 339.2 L210.6 340.0 L210.5 340.8 L210.4 341.7 L210.4 342.5 L210.3 343.3 L210.2 344.2 L210.1 345.0 L210.1 345.8 L210.0 346.7 L209.9 347.5 L209.8 348.3 L209.7 349.2 L209.7 350.0 L209.6 350.8 L209.5 351.7 L209.4 352.5 L209.4 353.3 L209.3 354.2 L209.2 355.0 L209.1 355.8 L209.1 356.6 L209.0 357.4 L208.9 358.2 L208.8 359.1 L208.8 359.9 L208.7 360.7 L208.6 361.5 L208.5 362.3 L208.5 363.1 L208.4 363.9 L208.3 364.8 L208.2 365.6 L208.1 366.4 L208.1 367.2 L208.0 368.0 L207.9 368.8 L207.8 369.7 L207.8 370.5 L207.7 371.3 L207.6 372.2 L207.5 373.0 L207.4 373.8 L207.3 374.7 L207.2 375.5 L207.2 376.3 L207.1 377.2 L207.0 378.0 L207.0 378.9 L206.9 379.8 L206.9 380.6 L206.8 381.5 L206.8 382.4 L206.7 383.2 L206.7 384.1 L206.7 385.0 L206.8 385.9 L206.9 386.8 L207.1 387.6 L207.2 388.5 L207.4 389.4 L207.5 390.2 L207.7 391.1 L207.9 392.0 L208.1 392.9 L208.4 393.8 L208.6 394.6 L208.9 395.5 L209.2 396.4 L209.4 397.2 L209.7 398.1 L210.0 399.0 L210.3 399.8 L210.5 400.7 L210.8 401.5 L211.1 402.3 L211.3 403.2 L211.6 404.0 L211.9 404.9 L212.2 405.8 L212.5 406.6 L212.8 407.5 L212.8 407.5 L213.1 406.6 L213.4 405.8 L213.7 404.9 L214.0 404.0 L214.3 403.2 L214.5 402.3 L214.8 401.5 L215.1 400.7 L215.3 399.8 L215.6 399.0 L215.9 398.1 L216.2 397.2 L216.4 396.4 L216.7 395.5 L217.0 394.6 L217.2 393.8 L217.5 392.9 L217.7 392.0 L217.9 391.1 L218.1 390.2 L218.2 389.4 L218.4 388.5 L218.6 387.6 L218.7 386.8 L218.8 385.9 L218.9 385.0 L218.9 384.1 L218.9 383.2 L218.9 382.4 L218.8 381.5 L218.8 380.6 L218.7 379.8 L218.6 378.9 L218.6 378.0 L218.5 377.2 L218.4 376.3 L218.4 375.5 L218.3 374.7 L218.2 373.8 L218.1 373.0 L218.0 372.2 L217.9 371.3 L217.9 370.5 L217.8 369.7 L217.7 368.8 L217.6 368.0 L217.5 367.2 L217.5 366.4 L217.4 365.6 L217.3 364.8 L217.2 363.9 L217.2 363.1 L217.1 362.3 L217.0 361.5 L216.9 360.7 L216.9 359.9 L216.8 359.1 L216.7 358.2 L216.6 357.4 L216.5 356.6 L216.5 355.8 L216.4 355.0 L216.3 354.2 L216.2 353.3 L216.2 352.5 L216.1 351.7 L216.0 350.8 L215.9 350.0 L215.9 349.2 L215.8 348.3 L215.7 347.5 L215.6 346.7 L215.5 345.8 L215.5 345.0 L215.4 344.2 L215.3 343.3 L215.2 342.5 L215.2 341.7 L215.1 340.8 L215.0 340.0 L214.9 339.2 L214.9 338.3 L214.8 337.5 L214.7 336.7 L214.7 335.8 L214.6 335.0 L214.5 334.2 L214.5 333.3 L214.4 332.5 L214.3 331.7 L214.3 330.8 L214.2 330.0 L214.1 329.2 L214.1 328.3 L214.0 327.5 L213.9 326.7 L213.9 325.8 L213.8 325.0 L213.7 324.2 L213.7 323.3 L213.6 322.5 L213.6 321.7 L213.5 320.8 L213.5 320.0 L213.4 319.2 L213.4 318.3 L213.3 317.5 L213.3 316.7 L213.2 315.8 L213.2 315.0 L213.1 314.2 L213.1 313.3 L213.0 312.5z" fill="#8dcbf2"/>
<g fill="#111"><circle cx="75.3" cy="270.4" r="1.3"/><circle cx="75.3" cy="284.5" r="1.3"/><circle cx="75.3" cy="297.2" r="1.3"/><circle cx="75.3" cy="299.0" r="1.3"/></g>
<path d="M75.3 310V362" stroke="#111" stroke-width="2.1" stroke-linecap="round"/>
<path d="M121.2 306.5V312M121.2 315V322M121.2 325V333M121.2 336V341M121.2 344.5V346" stroke="#111" stroke-width="2.1" stroke-linecap="round"/>
<g fill="#111"><circle cx="166.5" cy="311.3" r="1.0"/><circle cx="166.5" cy="314.5" r="1.0"/><circle cx="166.5" cy="318.5" r="1.0"/><circle cx="166.5" cy="323.5" r="1.0"/><circle cx="166.5" cy="329.0" r="1.0"/><circle cx="166.5" cy="333.0" r="1.0"/><circle cx="166.5" cy="336.0" r="1.0"/><circle cx="166.5" cy="340.0" r="1.0"/><circle cx="166.5" cy="344.0" r="1.0"/><circle cx="166.5" cy="347.5" r="1.0"/><circle cx="166.5" cy="350.0" r="1.0"/><circle cx="166.5" cy="352.5" r="1.0"/><circle cx="166.5" cy="355.0" r="1.0"/><circle cx="166.5" cy="357.0" r="1.0"/><circle cx="166.5" cy="359.0" r="1.0"/><circle cx="166.5" cy="361.0" r="1.0"/></g>
<path d="M166.5 352V367" stroke="#111" stroke-width="1.9" stroke-linecap="round"/>
<g fill="#111"><circle cx="212.8" cy="312.5" r="1.3"/></g>
<path d="M75.3 362V405" stroke="#333" stroke-width=".6"/>
<rect x="71.75" y="378" width="7.1" height="12.5" fill="#fff" stroke="#333" stroke-width=".7"/>
<path d="M71.75 385.8h7.1" stroke="#333" stroke-width="1"/>
<circle cx="75.3" cy="381.7" r="1.25" fill="#2b8ad0"/>
<path d="M121.2 346V407" stroke="#333" stroke-width=".6"/>
<rect x="117.65" y="367.4" width="7.1" height="16.0" fill="#fff" stroke="#333" stroke-width=".7"/>
<path d="M117.65 375.8h7.1" stroke="#333" stroke-width="1"/>
<circle cx="121.2" cy="373.8" r="1.25" fill="#8dcbf2"/>
<path d="M166.5 368V406" stroke="#333" stroke-width=".6"/>
<rect x="162.95" y="384.6" width="7.1" height="10.2" fill="#fff" stroke="#333" stroke-width=".7"/>
<path d="M162.95 391.3h7.1" stroke="#333" stroke-width="1"/>
<circle cx="166.5" cy="387.5" r="1.25" fill="#2a6594"/>
<path d="M212.8 313V407" stroke="#333" stroke-width=".6"/>
<rect x="209.25" y="357.2" width="7.1" height="29.8" fill="#fff" stroke="#333" stroke-width=".7"/>
<path d="M209.25 374.4h7.1" stroke="#333" stroke-width="1"/>
<circle cx="212.8" cy="370.9" r="1.25" fill="#8dcbf2"/>
<path d="M264.9 263.5V415.6H460.3" stroke="#b8b8b8" stroke-width="1" fill="none"/>
<path d="M262.4 408.6h2.2" stroke="#888" stroke-width=".7"/>
<text x="261.6" y="412.2" font-size="10.5" text-anchor="end" textLength="5.5" lengthAdjust="spacingAndGlyphs" fill="#444">0</text>
<path d="M262.4 363.5h2.2" stroke="#888" stroke-width=".7"/>
<text x="261.6" y="367.1" font-size="10.5" text-anchor="end" textLength="11.3" lengthAdjust="spacingAndGlyphs" fill="#444">20</text>
<path d="M262.4 318.4h2.2" stroke="#888" stroke-width=".7"/>
<text x="261.6" y="322.0" font-size="10.5" text-anchor="end" textLength="11.3" lengthAdjust="spacingAndGlyphs" fill="#444">40</text>
<path d="M262.4 273.3h2.2" stroke="#888" stroke-width=".7"/>
<text x="261.6" y="276.9" font-size="10.5" text-anchor="end" textLength="11.3" lengthAdjust="spacingAndGlyphs" fill="#444">60</text>
<path d="M304.5 415.6v2.2" stroke="#888" stroke-width=".7"/>
<text x="304.5" y="426.5" font-size="10.5" text-anchor="middle" textLength="5.5" lengthAdjust="spacingAndGlyphs" fill="#444">2</text>
<path d="M348.6 415.6v2.2" stroke="#888" stroke-width=".7"/>
<text x="348.6" y="426.5" font-size="10.5" text-anchor="middle" textLength="5.5" lengthAdjust="spacingAndGlyphs" fill="#444">4</text>
<path d="M393.6 415.6v2.2" stroke="#888" stroke-width=".7"/>
<text x="393.6" y="426.5" font-size="10.5" text-anchor="middle" textLength="5.5" lengthAdjust="spacingAndGlyphs" fill="#444">6</text>
<path d="M438.7 415.6v2.2" stroke="#888" stroke-width=".7"/>
<text x="438.7" y="426.5" font-size="10.5" text-anchor="middle" textLength="5.5" lengthAdjust="spacingAndGlyphs" fill="#444">8</text>
<text transform="translate(246.4,342.4) rotate(-90)" font-size="10.4" text-anchor="middle" textLength="32.8" lengthAdjust="spacingAndGlyphs" fill="#000">Counts</text>
<text x="363.6" y="440.5" font-size="10.2" text-anchor="middle" textLength="120" lengthAdjust="spacingAndGlyphs" fill="#222">Median Swim Speed (m/s)</text>
<g stroke="#3a3a3a" stroke-width=".55">
<path d="M273.9 408.9H452.2" stroke="#ccc" stroke-width=".8"/>
<rect x="273.90" y="404.4" width="5.945" height="4.5" fill="#7cb7e2"/>
<rect x="279.84" y="402.1" width="5.945" height="6.8" fill="#7cb7e2"/>
<rect x="285.79" y="388.5" width="5.945" height="20.4" fill="#7cb7e2"/>
<rect x="291.73" y="377.1" width="5.945" height="31.8" fill="#7cb7e2"/>
<rect x="297.68" y="370.3" width="5.945" height="38.6" fill="#7cb7e2"/>
<rect x="303.62" y="315.8" width="5.945" height="93.1" fill="#7cb7e2"/>
<rect x="309.57" y="304.5" width="5.945" height="104.4" fill="#7cb7e2"/>
<rect x="315.51" y="270.4" width="5.945" height="138.5" fill="#7cb7e2"/>
<rect x="321.46" y="279.5" width="5.945" height="129.4" fill="#7cb7e2"/>
<rect x="327.40" y="311.3" width="5.945" height="97.6" fill="#7cb7e2"/>
<rect x="333.35" y="352.1" width="5.945" height="56.8" fill="#7cb7e2"/>
<rect x="339.29" y="359.0" width="5.945" height="49.9" fill="#7cb7e2"/>
<rect x="345.24" y="383.9" width="5.945" height="25.0" fill="#7cb7e2"/>
<rect x="351.18" y="388.5" width="5.945" height="20.4" fill="#7cb7e2"/>
<rect x="357.13" y="393.0" width="5.945" height="15.9" fill="#7cb7e2"/>
<rect x="363.07" y="404.4" width="5.945" height="4.5" fill="#7cb7e2"/>
<rect x="369.02" y="399.8" width="5.945" height="9.1" fill="#7cb7e2"/>
<rect x="374.96" y="406.6" width="5.945" height="2.3" fill="#7cb7e2"/>
<rect x="380.91" y="402.1" width="5.945" height="6.8" fill="#7cb7e2"/>
<rect x="386.86" y="404.4" width="5.945" height="4.5" fill="#7cb7e2"/>
<rect x="392.80" y="404.4" width="5.945" height="4.5" fill="#7cb7e2"/>
<rect x="398.75" y="404.4" width="5.945" height="4.5" fill="#7cb7e2"/>
<rect x="404.69" y="404.4" width="5.945" height="4.5" fill="#7cb7e2"/>
<rect x="422.52" y="404.4" width="5.945" height="4.5" fill="#7cb7e2"/>
<rect x="434.41" y="406.6" width="5.945" height="2.3" fill="#7cb7e2"/>
<rect x="440.36" y="406.6" width="5.945" height="2.3" fill="#7cb7e2"/>
<rect x="446.30" y="406.6" width="5.945" height="2.3" fill="#7cb7e2"/>
<rect x="297.68" y="399.8" width="5.945" height="9.1" fill="#72ab50"/>
<rect x="303.62" y="377.1" width="5.945" height="31.8" fill="#72ab50"/>
<rect x="309.57" y="356.7" width="5.945" height="52.2" fill="#72ab50"/>
<rect x="315.51" y="340.8" width="5.945" height="68.1" fill="#72ab50"/>
<rect x="321.46" y="379.4" width="5.945" height="29.5" fill="#72ab50"/>
<rect x="327.40" y="381.7" width="5.945" height="27.2" fill="#72ab50"/>
<rect x="333.35" y="377.1" width="5.945" height="31.8" fill="#72ab50"/>
<rect x="339.29" y="402.1" width="5.945" height="6.8" fill="#72ab50"/>
<rect x="345.24" y="406.6" width="5.945" height="2.3" fill="#72ab50"/>
<rect x="351.18" y="399.8" width="5.945" height="9.1" fill="#72ab50"/>
<rect x="357.13" y="399.8" width="5.945" height="9.1" fill="#72ab50"/>
<rect x="369.02" y="402.1" width="5.945" height="6.8" fill="#72ab50"/>
<rect x="374.96" y="406.6" width="5.945" height="2.3" fill="#72ab50"/>
<rect x="386.86" y="404.4" width="5.945" height="4.5" fill="#72ab50"/>
<rect x="392.80" y="406.6" width="5.945" height="2.3" fill="#72ab50"/>
</g>
<path d="M485.8 263.5V415.6" stroke="#4d4d4d" stroke-width=".8" fill="none"/>
<path d="M485.4 415.6H685" stroke="#a0a0a0" stroke-width="1" fill="none"/>
<path d="M483.5 384.9h2.3" stroke="#4d4d4d" stroke-width=".7"/>
<text x="483.3" y="388.5" font-size="10.5" text-anchor="end" textLength="5.5" lengthAdjust="spacingAndGlyphs" fill="#444">2</text>
<path d="M483.5 348.8h2.3" stroke="#4d4d4d" stroke-width=".7"/>
<text x="483.3" y="352.4" font-size="10.5" text-anchor="end" textLength="5.5" lengthAdjust="spacingAndGlyphs" fill="#444">4</text>
<path d="M483.5 312.7h2.3" stroke="#4d4d4d" stroke-width=".7"/>
<text x="483.3" y="316.3" font-size="10.5" text-anchor="end" textLength="5.5" lengthAdjust="spacingAndGlyphs" fill="#444">6</text>
<path d="M483.5 276.6h2.3" stroke="#4d4d4d" stroke-width=".7"/>
<text x="483.3" y="280.2" font-size="10.5" text-anchor="end" textLength="5.5" lengthAdjust="spacingAndGlyphs" fill="#444">8</text>
<path d="M514.1 415.6v2.2" stroke="#4d4d4d" stroke-width=".7"/>
<text x="514.1" y="426.8" font-size="10.6" text-anchor="middle" textLength="9.2" lengthAdjust="spacingAndGlyphs" fill="#222">W</text>
<path d="M561.3 415.6v2.2" stroke="#4d4d4d" stroke-width=".7"/>
<text x="561.3" y="426.8" font-size="10.6" text-anchor="middle" textLength="6.4" lengthAdjust="spacingAndGlyphs" fill="#222">H</text>
<path d="M608.6 415.6v2.2" stroke="#4d4d4d" stroke-width=".7"/>
<text x="608.6" y="426.8" font-size="10.6" text-anchor="middle" textLength="5.0" lengthAdjust="spacingAndGlyphs" fill="#222">E</text>
<path d="M655.8 415.6v2.2" stroke="#4d4d4d" stroke-width=".7"/>
<text x="655.8" y="426.8" font-size="10.6" text-anchor="middle" textLength="6.6" lengthAdjust="spacingAndGlyphs" fill="#222">N</text>
<text transform="translate(474.6,337) rotate(-90)" font-size="10.2" text-anchor="middle" textLength="119.3" lengthAdjust="spacingAndGlyphs" fill="#222">Median Swim Speed (m/s)</text>
<path d="M514.1 341V366.2M514.1 383.6V408.8" stroke="#6aaede" stroke-width="1" fill="none"/>
<rect x="502.3" y="366.2" width="23.6" height="17.4" fill="#fff" stroke="#6aaede" stroke-width="1.1"/>
<path d="M502.3 373.8h23.6" stroke="#3f8fd0" stroke-width="1.6"/>
<g fill="#1878c8"><circle cx="514.1" cy="274" r="1.15"/><circle cx="514.1" cy="288.5" r="1.15"/><circle cx="514.1" cy="300.2" r="1.15"/><circle cx="514.1" cy="310.5" r="1.15"/><circle cx="514.1" cy="311.5" r="1.15"/><circle cx="514.1" cy="319.3" r="1.15"/><circle cx="514.1" cy="322.7" r="1.15"/><circle cx="514.1" cy="326" r="1.15"/><circle cx="514.1" cy="330.1" r="1.15"/><circle cx="514.1" cy="331.7" r="1.15"/><circle cx="514.1" cy="335" r="1.15"/><circle cx="514.1" cy="338.5" r="1.15"/><circle cx="514.1" cy="340.7" r="1.15"/></g>
<path d="M561.3 343.5V362.2M561.3 375.1V392.2" stroke="#6aaede" stroke-width="1" fill="none"/>
<rect x="549.5" y="362.2" width="23.6" height="12.9" fill="#fff" stroke="#6aaede" stroke-width="1.1"/>
<path d="M549.5 368h23.6" stroke="#3f8fd0" stroke-width="1.6"/>
<g fill="#1878c8"><circle cx="561.3" cy="270.6" r="1.15"/><circle cx="561.3" cy="318.6" r="1.15"/><circle cx="561.3" cy="330.1" r="1.15"/><circle cx="561.3" cy="337.3" r="1.15"/><circle cx="561.3" cy="341.8" r="1.15"/><circle cx="561.3" cy="342.8" r="1.15"/><circle cx="561.3" cy="399.3" r="1.15"/></g>
<path d="M608.6 345.3V356.7M608.6 372.6V380.6" stroke="#6aaede" stroke-width="1" fill="none"/>
<rect x="596.8000000000001" y="356.7" width="23.6" height="15.9" fill="#fff" stroke="#6aaede" stroke-width="1.1"/>
<path d="M596.8000000000001 363.7h23.6" stroke="#3f8fd0" stroke-width="1.6"/>
<g fill="#1878c8"><circle cx="608.6" cy="278.7" r="1.15"/><circle cx="608.6" cy="308.8" r="1.15"/></g>
<path d="M655.8 350.2V362.2M655.8 378.1V383.6" stroke="#6aaede" stroke-width="1" fill="none"/>
<rect x="644.0" y="362.2" width="23.6" height="15.9" fill="#fff" stroke="#6aaede" stroke-width="1.1"/>
<path d="M644.0 374.5h23.6" stroke="#3f8fd0" stroke-width="1.6"/>
<g fill="#1878c8"><circle cx="655.8" cy="303.4" r="1.15"/><circle cx="655.8" cy="305" r="1.15"/><circle cx="655.8" cy="320.8" r="1.15"/></g>
<path d="M513.4 259.6V255.8H608.6V259.6M513.4 267.7V263.4H561.3V267.7" stroke="#7a7a7a" stroke-width=".8" fill="none"/>
<text x="563.2" y="256.9" font-size="11" text-anchor="middle" textLength="15.4" lengthAdjust="spacingAndGlyphs" fill="#222">***</text>
<text x="536.9" y="265.7" font-size="11" text-anchor="middle" textLength="15.4" lengthAdjust="spacingAndGlyphs" fill="#222">***</text>
</svg></body></html>
